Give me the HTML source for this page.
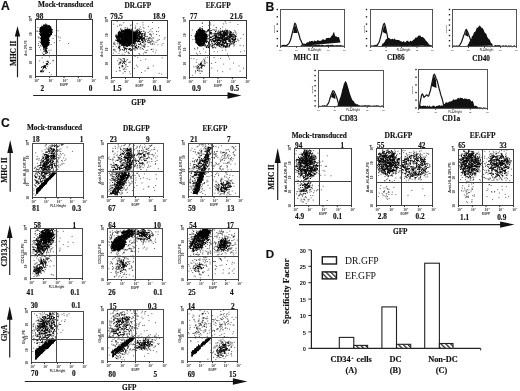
<!DOCTYPE html>
<html><head><meta charset="utf-8"><style>
html,body{margin:0;padding:0;background:#fff;}
body{width:520px;height:391px;overflow:hidden;}
svg{display:block;will-change:transform;}
</style></head><body>
<svg width="520" height="391" viewBox="0 0 520 391">
<defs><filter id="bl" x="-5%" y="-5%" width="110%" height="110%"><feGaussianBlur stdDeviation="0.45"/></filter></defs>
<rect width="520" height="391" fill="#fff"/>
<text x="1.0" y="10.2" font-family="'Liberation Sans', sans-serif" font-size="12.2" font-weight="bold" text-anchor="start" fill="#111" stroke="#111" stroke-width="0.15">A</text>
<text x="265.6" y="10.8" font-family="'Liberation Sans', sans-serif" font-size="12.2" font-weight="bold" text-anchor="start" fill="#111" stroke="#111" stroke-width="0.15">B</text>
<text x="1.0" y="126.9" font-family="'Liberation Sans', sans-serif" font-size="12.2" font-weight="bold" text-anchor="start" fill="#111" stroke="#111" stroke-width="0.15">C</text>
<text x="265.8" y="258.0" font-family="'Liberation Sans', sans-serif" font-size="11.6" font-weight="bold" text-anchor="start" fill="#111" stroke="#111" stroke-width="0.15">D</text>
<text x="38.1" y="6.8" font-family="'Liberation Serif', serif" font-size="7.3" font-weight="bold" text-anchor="start" fill="#111" stroke="#111" stroke-width="0.15">Mock-transduced</text>
<text x="124.5" y="7.6" font-family="'Liberation Serif', serif" font-size="7.25" font-weight="bold" text-anchor="start" fill="#111" stroke="#111" stroke-width="0.15">DR.GFP</text>
<text x="205.7" y="7.6" font-family="'Liberation Serif', serif" font-size="7.25" font-weight="bold" text-anchor="start" fill="#111" stroke="#111" stroke-width="0.15">EF.GFP</text>
<g filter="url(#bl)"><path d="M37.4 27.6h1m-2.1 3.6h1m-.4 0h1m.7 .2h1m12.6-.3h1m4.3-.4h1m-19.6 .9h1m-2.3 5.7h1m0-.2h1m15-1.4h1m2.6 1.2h1m-20.7 1.3h1m13.1 .3h1m6.1-.6h1m-22 3.7h1m14.1 1.1h1m4.5-2.1h1m7.8 2.9h1m-31.2 2h1m-.8-1.8h1m.6 2.2h1m-.4-.1h1m9.3-1.3h1m-12.7 2.9h1m1.7-.9h1m-2.4 3.4h1m7.3 .4h1m1-.2h1m-9.3 3h1m-.1 1.6h1m-.8-.3h1m-.7 .1h1m1.7-1.2h1m1.7-.3h1m2.8 2.3h1m-12.2 2.5h1m2.2-2.1h1m3.1 1.2h1m-10.7 4h1m12-.1h1m-.2-.1h1m-11.1 1.6h1m3.7 2h1m1-.9h1m-9.2 3.1h1m2.7 .8h1m.7-.7h1m-4.4 3.8h1m1.1-1.9h1m-.8 .4h1m2.2 3.6h1m.8 2.3h1" stroke="#000" stroke-opacity="0.62" stroke-width="1" fill="none"/><path d="M43 25.3h1m-.8-.1h1m-.2 .2h1m-.8-.3h1m-.6 .3h1m-1-.1h1m-.9 .1h1m-.9-.1h1m-.5-1.2h1m-.9 1.2h1m-.6-.4h1m-.2 .1h1m.6 .4h1m-9.6 2.8h1m-.4-.7h1m-.7 .7h1m-1-.2h1m-.4-1.8h1m-1 1.1h1m-1 .4h1m-1 .7h1m-.9-.8h1m-.8 .1h1m-1-.1h1m-.9-.3h1m-1 1h1m-.9-.2h1m-.9-.9h1m-.9 1h1m-.9-.4h1m-1 .4h1m-.8 .1h1m-.7-1.8h1m-1 1.1h1m-1-.6h1m-.9 .7h1m-1 .6h1m-.9-.7h1m-1 .3h1m-.9-.1h1m-1-.5h1m-.9-1.1h1m-1 .9h1m-1 .4h1m-1 .9h1m-.6-.2h1m-.9-.9h1m-.9 .2h1m-.7 .9h1m-.9-2.2h1m-1 1.9h1m-1 .3h1m-.9-.8h1m-.5-1.9h1m-1-.1h1m-1 1.3h1m-1-.1h1m-.9-.6h1m-.8 1.1h1m-.9-1.2h1m-1 1.3h1m-.8-1h1m-.9 0h1m-1 1.8h1m-1 .1h1m-.9-.8h1m-1 .6h1m-.9-1.4h1m-.9 .6h1m-1 .4h1m-1 0h1m-1 .3h1m-.9-2.3h1m-1 .7h1m-.9 1.4h1m-1 .3h1m-.9-1.1h1m-.7-1.2h1m-1 2.5h1m-.9-2.7h1m-.9 0h1m-1 2h1m-.9-1.2h1m-1 .7h1m-.6-1.4h1m-1 1.6h1m-.8 .8h1m-.6-1.7h1m-.9 .5h1m-.9-.2h1m-.9 .3h1m-.9-.6h1m-1 1.3h1m-.9-.4h1m-1-.1h1m-.9-.6h1m-1-.4h1m-.8 2.1h1m-.7-1.5h1m-1-.3h1m-.8-.4h1m-.8 0h1m-.8 .3h1m-.9-.4h1m-1 1.6h1m-.6-.7h1m-1-.4h1m-.9 1.9h1m-.9-1.3h1m-1 .5h1m-1 .2h1m-.8-.6h1m-.5 .1h1m-12.1 2.1h1m-.8 1.8h1m-.9-.7h1m-.7-1.5h1m-.8 1.6h1m-1-.3h1m-1 .6h1m-1 .1h1m-.9-2.3h1m-1 1.5h1m-.9-.7h1m-1 .9h1m-.9 .6h1m-.9-2.3h1m-1 .8h1m-1 .6h1m-1 1.2h1m-.9-2.5h1m-1 .4h1m-.9 1.1h1m-1 .9h1m-.9-1.4h1m-1 1.5h1m-.9-1.5h1m-1-.4h1m-1 .4h1m-1 1h1m-.7 .6h1m-.9-2h1m-.9 1.5h1m-.9-1.6h1m-1 .5h1m-1-.3h1m-1 1.3h1m-.8-.1h1m-1-.3h1m-.9 .3h1m-.9-.1h1m-1 .5h1m-.8-2.2h1m-1 .8h1m-1 1.3h1m-.9-.8h1m-.9 .7h1m-.9-.4h1m-.8-.8h1m-1 1.2h1m-.9-1.1h1m-1 .8h1m-.8-.9h1m-.8-.2h1m-.9 .3h1m-1-.8h1m-1 1.4h1m-1 1h1m-.8-2.8h1m-1-.1h1m-.9 .3h1m-1 1.5h1m-.9-1.6h1m-.8 .2h1m-1-.1h1m-1 .8h1m-1-.3h1m-.9-.3h1m-1 .4h1m-1 1.2h1m-.8-1.2h1m-1 2.1h1m-.8-3h1m-1 2.2h1m-1-.4h1m-.8 1.1h1m-.9-2.8h1m-1 .5h1m-1 .6h1m-1-.2h1m-1-.2h1m-.9-.1h1m-1 0h1m-1 .1h1m-1 2.2h1m-.8-.7h1m-1 .4h1m-.8-2.6h1m-.9-.1h1m-.9 0h1m-1 1.8h1m-.9-.3h1m-1 1.4h1m-.9-2.3h1m-1 1.6h1m-1 .5h1m-1 .1h1m-.9-2.6h1m-1 2.1h1m-.9 0h1m-.7-2h1m-.9 .8h1m-.9-.8h1m-1 .8h1m-1 1.6h1m-.9-2.2h1m-1 1.5h1m-1-.1h1m-1 1h1m-.8-1.3h1m-1 .8h1m-1 .5h1m-.8-1.6h1m-1 .2h1m-1 .5h1m-.9-.6h1m-.9-.6h1m-1 1.9h1m-.9-2.4h1m-1 1.2h1m-.9 1.5h1m-.8-2.3h1m-.8 .7h1m-1 1.2h1m-.9-1h1m-.9 .4h1m-.8-.9h1m-1 .9h1m-.9-.9h1m-.9-.6h1m-1 .1h1m-1 .3h1m-.9 0h1m-1-.1h1m-1 1.9h1m-.8-2.3h1m-1 .9h1m-1 1.3h1m-.9-.5h1m-.9-1.1h1m-1 1.2h1m-.9 .6h1m-.9-2.8h1m-1 1.2h1m-.9-.7h1m-.8-.3h1m-.9-.1h1m-1 .8h1m-1 .7h1m-1 1.4h1m-.8-3h1m-1 2.2h1m-1 0h1m-.9-1.6h1m-1 .7h1m-1 .1h1m-.9-1.4h1m-1 .6h1m-1 2.2h1m-.9-2.5h1m-1 1.6h1m-1 .3h1m-.9-1.5h1m-1 1.7h1m-.9-1.7h1m-.7 .9h1m-1 1h1m-.9-2.5h1m-1 .7h1m-.8-.1h1m-.9 .9h1m-1-.1h1m-.9-.1h1m-1 1.6h1m-.9-2.5h1m-.9 1.3h1m-1 0h1m-.6-.6h1m-1 1.7h1m-.6-1.7h1m-13.4 3.6h1m-.8 .3h1m-1 .6h1m-.3-1.5h1m-.9-.5h1m-1 .3h1m-.9 .2h1m-1 1.6h1m-.9-2.4h1m-.9-.3h1m-.9 1.6h1m-.9-1.5h1m-.9 2.7h1m-.9-.8h1m-1 .7h1m-1-.1h1m-.9 .1h1m-.9-1.1h1m-.9 .7h1m-.9-.4h1m-1-.3h1m-1 .6h1m-.9-.5h1m-.9 1h1m-.9-.4h1m-.9-1.4h1m-1-.4h1m-1 1.8h1m-.9 .1h1m-.9-1.3h1m-1 1.7h1m-.9-2.6h1m-.9-.2h1m-1 .5h1m-.7 .3h1m-1-.2h1m-1 1.9h1m-.9-.5h1m-.9-1.3h1m-1 .3h1m-1 .8h1m-.9 .8h1m-.9-2h1m-.9 1.8h1m-.9-1.8h1m-1 2h1m-.9-2.4h1m-1 1h1m-1 .6h1m-1 1h1m-.9-1.6h1m-1 .2h1m-.9-.8h1m-1 .8h1m-.9 .4h1m-.9-1.7h1m-.9 1.2h1m-.9-.9h1m-.9 2h1m-.8-1.2h1m-.9-.2h1m-1 1.1h1m-1-.6h1m-1 .3h1m-.9-1.5h1m-1 .6h1m-1 .8h1m-1 .2h1m-1 .5h1m-.8-1.8h1m-1 1.6h1m-.9 .2h1m-.9-2.3h1m-1 1.7h1m-1 1h1m-.9-2.6h1m-1 1.1h1m-1-.2h1m-1 .8h1m-1-.1h1m-.9-1h1m-1 1.1h1m-.8-.1h1m-1 .8h1m-.9-1.7h1m-1 .9h1m-.8-1.5h1m-1 1.8h1m-1 .4h1m-.9-.2h1m-.9 .5h1m-1 0h1m-.8-2.4h1m-1 .4h1m-.9-.2h1m-1 1.4h1m-.8-1.3h1m-.9 1.3h1m-.9-1h1m-.8 1.3h1m-.8 .4h1m-.9-1.5h1m-1-.3h1m-1 1.8h1m-.9-.6h1m-1 .4h1m-.9-.4h1m-1 .6h1m-.9-1.9h1m-1 .9h1m-1 .5h1m-1-.4h1m-.9 0h1m-1 .4h1m-1 .1h1m-.9-1.4h1m-1 .1h1m-1 1.5h1m-.8-2.2h1m-1 1.8h1m-1-.4h1m-.9 .6h1m-1-.8h1m-.8-1.5h1m-1 .7h1m-1 1.6h1m-.7-1.1h1m-1 .8h1m-.9 .7h1m-.9-.5h1m-.9-1.4h1m-.9 .3h1m-1 1.1h1m-.9-1.9h1m-.9 .5h1m-1 .4h1m-.9-.3h1m-.9-.6h1m-1 .9h1m-.8-.6h1m-.8-.3h1m-.8 0h1m-.8-.2h1m-1 1h1m-1-.2h1m-.9 1.2h1m-.9-.5h1m-.9-.1h1m-.9-.7h1m-.9-.1h1m-.9 .1h1m-1 1.3h1m-.9-1.8h1m-1-.3h1m-1 .7h1m-1-.2h1m-.9-.5h1m-1 1.5h1m-1 .3h1m-1 .8h1m-.9 .1h1m-.9-2.6h1m-1 2.1h1m-.9 .1h1m-1 .4h1m-.9-1.4h1m-1-.8h1m-1 1.4h1m-1-.1h1m-1-.3h1m-.8-.5h1m-.8 .1h1m-.8-.2h1m-12.5 2.1h1m-.9 .1h1m-1 .9h1m-.9-1h1m-.9 .1h1m-.7 .9h1m-.9-.9h1m-.8 .1h1m-1 .3h1m-.9 1.2h1m-1-.2h1m-.9 .8h1m-.9-1.2h1m-.9-1.2h1m-1 0h1m-1 2.1h1m-1 .2h1m-.9-.1h1m-.9-1.8h1m-1 2h1m-.9 .2h1m-1 .2h1m-.8-2h1m-1 .4h1m-1 .7h1m-.9-.1h1m-.8-1.7h1m-1-.1h1m-1 .7h1m-1 .8h1m-.9-.7h1m-1 .5h1m-1 1.1h1m-1-.5h1m-1 .7h1m-.9-2.5h1m-1 1.8h1m-1 .3h1m-.9-2.1h1m-1 .6h1m-1 .1h1m-1 .5h1m-.9 .1h1m-.9-.1h1m-.9-.9h1m-1-.3h1m-1 .5h1m-1 .4h1m-.9 .3h1m-.9-.3h1m-1 .4h1m-1 .6h1m-1 1h1m-.9-.5h1m-.9-1.6h1m-1 1.4h1m-.9-1.7h1m-1 .4h1m-1 .7h1m-1 .2h1m-1 .2h1m-.9-.4h1m-1 .5h1m-1 .5h1m-1 .3h1m-.9-2.9h1m-1 .7h1m-1 1.4h1m-1 .1h1m-.9-1.5h1m-1-.2h1m-1 .6h1m-1 1.2h1m-1 .6h1m-.9-1.6h1m-1 .9h1m-.9-1.4h1m-1 .4h1m-1 .6h1m-1-.4h1m-1 .8h1m-.9-.2h1m-1 .9h1m-1 0h1m-.9-3h1m-1 .4h1m-1 0h1m-1 2.1h1m-.9-2.1h1m-1 .3h1m-1 .9h1m-1 .1h1m-.9 1h1m-.8-1.9h1m-1 1.5h1m-.9-2.2h1m-1 .5h1m-1 1h1m-.9-1.1h1m-1 1.8h1m-1-.8h1m-.9 .5h1m-1-.2h1m-1 0h1m-.9 1.2h1m-.9-1.6h1m-1-.4h1m-1 1.8h1m-.9-2.1h1m-1 .3h1m-1 1.3h1m-.9 0h1m-.9-1.1h1m-1-.5h1m-1 0h1m-1 .9h1m-1 .4h1m-1 .7h1m-1 .3h1m-.9-2.5h1m-1 .2h1m-1 1.5h1m-1 .5h1m-.9-1.8h1m-1 1.4h1m-.9-1.8h1m-.9 .9h1m-1-.5h1m-1 1h1m-1 .3h1m-.9-1.8h1m-1 1.9h1m-.9-2.2h1m-1 1.5h1m-.9-.6h1m-.9 1.8h1m-1-.3h1m-.9-.1h1m-.8-.5h1m-1 .9h1m-.9-1.2h1m-1 .6h1m-.9-1.9h1m-1 .7h1m-1 1.3h1m-1-.7h1m-.9-.2h1m-1 .4h1m-1 1.1h1m-1 .1h1m-.9-2.8h1m-1 2h1m-1-.5h1m-1 .7h1m-1 .3h1m-.9-.5h1m-1-.3h1m-1 .2h1m-1 .7h1m-1-.2h1m-.9-.7h1m-.9-.1h1m-.9-1.4h1m-1 2.3h1m-1 .3h1m-.9-1.7h1m-.9-.4h1m-.9 1.2h1m-.7-1.7h1m-1 .8h1m-.9-.6h1m-.9-.3h1m-1 2h1m-1 .7h1m-.9-1.1h1m-.9-1.7h1m-.9 0h1m-1 .2h1m-1 .2h1m-1 2h1m-.8-2.5h1m-.9 2h1m-.9-1.5h1m-.9 0h1m-1 0h1m-.9 1.6h1m-1-.6h1m-1 .5h1m-.8-.1h1m-1-.4h1m-.8-1.2h1m-1 1.7h1m-.9-.5h1m-.9-1.6h1m-1 .9h1m-.5-.8h1m-.9 1.1h1m-.3-1.2h1m-.9 .2h1m-11.4 3.4h1m-.9 .5h1m-1-.5h1m-.8 .8h1m-1 1.3h1m-.6-.6h1m-.9 .8h1m-.9-1.8h1m-1 .5h1m-1 1.3h1m-.9-2.3h1m-1 1.7h1m-.9-.6h1m-.9-1.5h1m-.9 1.3h1m-1 1.3h1m-.9-1.5h1m-1 .9h1m-.9-1.5h1m-.9 1.4h1m-.9-.9h1m-.9-.9h1m-1-.2h1m-1 .7h1m-1 2.1h1m-.9-1.2h1m-1 .6h1m-.7-1.4h1m-.6 1.2h1m-1 .4h1m-.9-1.4h1m-.9 .4h1m-.9-.8h1m-1 0h1m-.9 .4h1m-1 0h1m-1 1.6h1m-.9-1.4h1m-1 1.1h1m-1-.3h1m-1 0h1m-1 .6h1m-1 .2h1m-.9-2.8h1m-1 .6h1m-1 .8h1m-1 1.4h1m-.9-2h1m-.9-.6h1m-1 .2h1m-.9-.1h1m-1 .6h1m-1 1.6h1m-.9-1.2h1m-.9-.7h1m-.9-.5h1m-1 1.1h1m-1 .8h1m-1 0h1m-.9 .2h1m-.9-.9h1m-1 1.3h1m-.9-1.9h1m-1-.1h1m-.9-.5h1m-1 .2h1m-1 .9h1m-.9-.7h1m-.8 1h1m-.8-1.4h1m-1 .4h1m-.8-.5h1m-1 .5h1m-.9 .9h1m-.7-1.4h1m-.9 1.1h1m-1 1.1h1m-1-.2h1m-1 .4h1m-.7-2.4h1m-1 1.5h1m-.9-.1h1m-.9 .6h1m-.9-.9h1m-1-.2h1m-.9 .3h1m-1 .8h1m-1 .6h1m-.9-2.3h1m-.9 1.4h1m-.9-1.5h1m-1 1.8h1m-1 .7h1m-.9-1h1m-.9 0h1m-1 .7h1m-.8-2.4h1m-.9 1.7h1m-1-.2h1m-1 1.3h1m-.8-2.3h1m-1 1.5h1m-1-.2h1m-.8-1.1h1m-1 .9h1m-.9 1h1m-.9-2h1m-.7 .1h1m-.9 1.3h1m-.9-1.8h1m-1 1.3h1m-9.2 3.2h1m-.4-.5h1m-.8 .1h1m-.9-.6h1m-.9-.8h1m-1 1.1h1m-1 1h1m-.9-.2h1m-1 .2h1m-1 .3h1m-.9-2.2h1m-.9 2.4h1m-.9-.9h1m-1 .6h1m-1 .3h1m-.9-1.4h1m-.9 1.8h1m-.9-1.7h1m-.6-.5h1m-.9 .1h1m-1 .4h1m-1 .4h1m-.9-1.2h1m-.9 1.2h1m-.9 1.3h1m-.9-2.3h1m-.9-.2h1m-1 .2h1m-1 1.3h1m-1 .8h1m-.9-1.9h1m-.8 1.7h1m-1 .3h1m-.9-1.5h1m-1 0h1m-1 .6h1m-.9-.4h1m-.8 .3h1m-.9 .2h1m-1 .2h1m-1 .4h1m-.9-1.9h1m-.9-.6h1m-.9 .1h1m-.8 .4h1m-.9 2.1h1m-.9-1.1h1m-.9-.3h1m-1 .5h1m-.9-.5h1m-.9-1.4h1m-.9 1.3h1m-1-.4h1m-.9 1.5h1m-.9-2h1m-1-.4h1m-.9 .9h1m-1 1.8h1m-.9-.4h1m-1 .5h1m-1-.1h1m-.9-.8h1m-1 .5h1m-.6-.3h1m-1 .6h1m-.8-1.3h1m-.9 1h1m-.9-1.1h1m-1 .7h1m-.9-1.7h1m-1 0h1m-1 2.3h1m-.9-2.3h1m-1 1.9h1m-.9-2h1m-1 0h1m-1 1.1h1m-1 .2h1m-1 1.3h1m-.9-2.1h1m-1 1.7h1m-.9-.3h1m-1 .7h1m-.9-2.6h1m-1 .2h1m-1-.2h1m-.9 2.6h1m-.9-1.5h1m-1 .8h1m-.9-.8h1m-1 .2h1m-1 1h1m-.9-.6h1m-.8 .5h1m-.9-1.5h1m-.9-.6h1m-1 2.7h1m-.9-1.6h1m-1-.5h1m-1 .6h1m-1 1.2h1m-.9-.1h1m-.9-.6h1m-1 1h1m-.8-2.6h1m-1 1.3h1m-.5-1.7h1m-1 2.9h1m-.8-.6h1m-1-.2h1m-.9-.2h1m-.9-1.9h1m-9 3.4h1m-.6-.2h1m-.8 .2h1m-.9-.2h1m-1 0h1m-.9 0h1m-.4 .7h1m-1 1.1h1m-.9-1.3h1m-1 .3h1m-.9-.9h1m-1 .7h1m-.8 1.5h1m-.9-1.2h1m-.9-.3h1m-.7 .1h1m-1 2h1m-.9-2.6h1m-1 1h1m-1 .7h1m-.9 .4h1m-1 .1h1m-.9-2.3h1m-1 2.2h1m-1-.8h1m-1-.1h1m-.9-.8h1m-1 1.7h1m-.9-2.3h1m-1 .6h1m-.9 .5h1m-1 1.2h1m-.9-1.1h1m-1 .4h1m-1 .2h1m-.9-.7h1m-1-.4h1m-1 1h1m-.9 1h1m-.9-.6h1m-.9-.1h1m-1 .5h1m-.9-1.5h1m-1 1.7h1m-.9-2.2h1m-1 1.1h1m-1 .1h1m-1 .3h1m-.9-1.3h1m-.8 .4h1m-.8-.8h1m-.9 1.3h1m-1 1.2h1m-.9-.8h1m-1 .3h1m-1 0h1m-1-.7h1m-.9-1.3h1m-.9 1.6h1m-.8-1.7h1m-1 .4h1m-1 .1h1m-1 .8h1m-1 .8h1m-.9-2.2h1m-1 2.5h1m-1 0h1m-.9-1h1m-1 0h1m-1 .4h1m-.9-.2h1m-1 .8h1m-.9-1.3h1m-1 1.3h1m-.9-.9h1m-.9 0h1m-.9-.7h1m-.9-.9h1m-1 0h1m-1 .3h1m-1 .8h1m-1 .7h1m-1 .1h1m-.9-2h1m-.9 1.1h1m-.9 .1h1m-1 1.1h1m-.9-1.5h1m-1 .6h1m-.9-.2h1m-.5-.4h1m-1 .4h1m-.9-.3h1m-1 .8h1m-.9-.2h1m-.7-.2h1m-.9-.4h1m-.3 .3h1m-6.6 1.9h1m-1 .6h1m-1 1.6h1m-.9-2h1m-.8 2.1h1m-.7-2.3h1m-.7-.1h1m-.9 .9h1m-.9-.7h1m-1-.2h1m-1 1.2h1m-.9-.6h1m-.8-.1h1m-.8 1.8h1m-1 .2h1m-.8-.5h1m-.7-1.8h1m-1 .3h1m-.7 .1h1m-.9 1.2h1m-.9-.6h1m-.9 0h1m-1 .4h1m-.8 .6h1m-.7-2.2h1m-.9 .2h1m-.8 1.7h1m-.8-1.8h1m-4.2 4.9h1m-.8-1.5h1m-.2 .9h1m-.6-1.1h1m-.7 1.9h1m-.9-1.6h1m-.7 0h1m-1 .8h1m-.9-.3h1m-1 .8h1m-.9-1.3h1m-1 .7h1m-.6 0h1m-.8 .8h1m-.8 .7h1m-.8 0h1m-2.9 .8h1m-.3 0h1m-.1 8.2h1m-.2 0h1m-1-.1h1m-2.5 2.4h1m-.5 .6h1m-.7-.5h1m-1 0h1m-.8-.1h1m-1 .5h1m0-1.8h1m-7.6 5.1h1m.3-1.1h1m-.4 1.1h1m-.9-1.2h1m-.8 1.2h1m-1-.2h1m-.6-1h1m-1-.1h1m-.9 .4h1m-.8-.7h1m-.4-.5h1m-.9 1h1m-.9 1.1h1m-.9-1.6h1m.3-1h1m-5.2 5h1m-.4-1.4h1m-.5-.9h1m-.8 0h1m-4.3 3.4h1m-.7 .7h1m-.9 0h1m-.3-.5h1m-1 .2h1m-.8-.8h1m-.8 1.3h1m.3-.3h1" stroke="#000" stroke-width="1" fill="none"/></g>
<g filter="url(#bl)"><path d="M0 0" stroke="#000" stroke-width="1" stroke-opacity="0.6" fill="none"/><path d="M0 0" stroke="#000" stroke-width="1" fill="none"/></g>
<rect x="35.5" y="19.5" width="57.0" height="57.0" stroke="#383838" stroke-width="1" fill="none"/>
<line x1="56.5" y1="19.5" x2="56.5" y2="76.5" stroke="#383838" stroke-width="1"/>
<line x1="35.5" y1="55.5" x2="92.5" y2="55.5" stroke="#383838" stroke-width="1"/>
<text x="34.3" y="81.9" font-family="'Liberation Serif', serif" font-size="3.6" font-weight="bold" text-anchor="start" fill="#333">10</text>
<text x="38.0" y="79.7" font-family="'Liberation Serif', serif" font-size="2.6" font-weight="bold" text-anchor="start" fill="#333">0</text>
<rect x="35.0" y="76.5" width="1" height="1.6" fill="#333"/>
<text x="48.55" y="81.9" font-family="'Liberation Serif', serif" font-size="3.6" font-weight="bold" text-anchor="start" fill="#333">10</text>
<text x="52.25" y="79.7" font-family="'Liberation Serif', serif" font-size="2.6" font-weight="bold" text-anchor="start" fill="#333">1</text>
<rect x="49.2" y="76.5" width="1" height="1.6" fill="#333"/>
<text x="62.8" y="81.9" font-family="'Liberation Serif', serif" font-size="3.6" font-weight="bold" text-anchor="start" fill="#333">10</text>
<text x="66.5" y="79.7" font-family="'Liberation Serif', serif" font-size="2.6" font-weight="bold" text-anchor="start" fill="#333">2</text>
<rect x="63.5" y="76.5" width="1" height="1.6" fill="#333"/>
<text x="77.05" y="81.9" font-family="'Liberation Serif', serif" font-size="3.6" font-weight="bold" text-anchor="start" fill="#333">10</text>
<text x="80.75" y="79.7" font-family="'Liberation Serif', serif" font-size="2.6" font-weight="bold" text-anchor="start" fill="#333">3</text>
<rect x="77.8" y="76.5" width="1" height="1.6" fill="#333"/>
<text x="91.3" y="81.9" font-family="'Liberation Serif', serif" font-size="3.6" font-weight="bold" text-anchor="start" fill="#333">10</text>
<text x="95.0" y="79.7" font-family="'Liberation Serif', serif" font-size="2.6" font-weight="bold" text-anchor="start" fill="#333">4</text>
<rect x="92.0" y="76.5" width="1" height="1.6" fill="#333"/>
<text x="64.0" y="86.0" font-family="'Liberation Sans', sans-serif" font-size="3.0" font-weight="bold" text-anchor="middle" fill="#333">EGFP</text>
<text x="32.3" y="78.8" font-family="'Liberation Serif', serif" font-size="3.6" font-weight="bold" text-anchor="start" fill="#333" transform="rotate(-90 32.3 78.8)">10</text>
<text x="32.3" y="64.55" font-family="'Liberation Serif', serif" font-size="3.6" font-weight="bold" text-anchor="start" fill="#333" transform="rotate(-90 32.3 64.55)">10</text>
<text x="32.3" y="50.3" font-family="'Liberation Serif', serif" font-size="3.6" font-weight="bold" text-anchor="start" fill="#333" transform="rotate(-90 32.3 50.3)">10</text>
<text x="32.3" y="36.05" font-family="'Liberation Serif', serif" font-size="3.6" font-weight="bold" text-anchor="start" fill="#333" transform="rotate(-90 32.3 36.05)">10</text>
<text x="32.3" y="21.8" font-family="'Liberation Serif', serif" font-size="3.6" font-weight="bold" text-anchor="start" fill="#333" transform="rotate(-90 32.3 21.8)">10</text>
<text x="26.9" y="48.0" font-family="'Liberation Sans', sans-serif" font-size="2.9" font-weight="bold" text-anchor="middle" fill="#333" transform="rotate(-90 26.9 48.0)">Anti-DR-PE</text>
<path d="M28.3 16.3h2.6l-1.3 1.8z" fill="#222"/>
<text x="36" y="18.5" font-family="'Liberation Serif', serif" font-size="7.25" font-weight="bold" text-anchor="start" fill="#111" stroke="#111" stroke-width="0.15">98</text>
<text x="88.4" y="18.5" font-family="'Liberation Serif', serif" font-size="7.25" font-weight="bold" text-anchor="start" fill="#111" stroke="#111" stroke-width="0.15">0</text>
<text x="40.6" y="91.1" font-family="'Liberation Serif', serif" font-size="7.25" font-weight="bold" text-anchor="start" fill="#111" stroke="#111" stroke-width="0.15">2</text>
<text x="88.8" y="91.1" font-family="'Liberation Serif', serif" font-size="7.25" font-weight="bold" text-anchor="start" fill="#111" stroke="#111" stroke-width="0.15">0</text>
<g filter="url(#bl)"><path d="M116.7 21.5h1m-4.6 2.7h1m5.4 .5h1m.7 .5h1m1-2.5h1m6.4 2.2h1m5.1-1.2h1m4.8-1.1h1m-1 2.3h1m8.6-2.4h1m-36.1 3.7h1m1.2-.5h1m.1 2.6h1m3.1-.2h1m-.1-.5h1m.6 .4h1m2-2.2h1m4 1.9h1m-.7-1.6h1m3.5 .9h1m1.9 .3h1m-.1 1h1m3.4-1.7h1m9.2 1.1h1m-38.9 1.7h1m-.8-.3h1m9.7 .2h1m1.3 1.6h1m.3-2.2h1m1 .6h1m1-.7h1m-1 .7h1m.8 .2h1m1.3 1.8h1m-.6-.3h1m5.1 .3h1m0-1.5h1m.5-1.3h1m3.2 3h1m.8-.1h1m-14.9 .5h1m-.9 1.7h1m-.4 0h1m-.5-1.2h1m1.6 .2h1m.8 1.7h1m-.9-.7h1m1-1.8h1m.2 2h1m-4.4 .8h1m.1-.1h1m-.8 .8h1m-.7 .9h1m4-1.7h1m1.9 1.2h1m-12.8 4.7h1m-.7-2.1h1m-.5-.1h1m-1 1.2h1m-.4-.8h1m-.8 1.7h1m-.6-2.4h1m-1 0h1m-.5 .9h1m-.8-1.1h1m.4 .7h1m-.8 1.4h1m-.5 .6h1m-.6-2.5h1m-.1 .1h1m3.4 2.2h1m.1-.7h1m4-.5h1m-.2-1.3h1m-52.5 5.6h1m-.4-1.2h1m-.2 1h1m29.2 0h1m1.1-1.3h1m-.2-1h1m-1 1.8h1m-.3 0h1m-.7-2h1m-.8 1.8h1m-.4 .6h1m-.8-1.6h1m-.4 1.7h1m-.8-.8h1m-.8-.6h1m-.7-.6h1m.6 .5h1m0 .3h1m1.1 .4h1m.1-1.6h1m-44.2 3.8h1m-.6-.8h1m-.2 1.1h1m1.2-1.1h1m.8 1.6h1m20.9-.7h1m-.7 .6h1m.6 .5h1m-.1 .5h1m-.8-1h1m-.7-.8h1m-.3 1.5h1m-.6-1.4h1m4.6 0h1m.3-.6h1m-.6-.3h1m-.8 1h1m.8-.5h1m2.2 .7h1m3 .3h1m.3-1.5h1m-51.1 2.9h1m-.2 2.7h1m1.4-2.5h1m1 1.6h1m.1 .7h1m16.9-.3h1m-.9 .3h1m0-1.4h1m-.5-1h1m.2 2.4h1m-.9-1.2h1m-.3-.6h1m.3 1.6h1m-.7-.2h1m-.4-1.9h1m-.5 2.8h1m-.5-2.7h1m-.7 .4h1m-.5-.3h1m2.2-.3h1m2 2.7h1m-.6 .2h1m.5-.3h1m-40.6 .9h1m-.3-.4h1m-.3 1.2h1m-.7-1h1m0 2h1m2.3-.8h1m-.5-.7h1m5.7 1.2h1m.8 .6h1m5.7-1.8h1m8.7 1.8h1m.4 .2h1m-.9-1.8h1m.5-.4h1m4.3 1.2h1m2.1-1.2h1m-43.8 3h1m4.6 .2h1m2.2 .7h1m1 .8h1m-.1-2.4h1m2.1 .1h1m-.5 1.1h1m-.3-.5h1m2.3 1.1h1m5.3-.6h1m-.3 .4h1m2.7-.3h1m1.5-1.1h1m4.3 2.7h1m3.2-2.5h1m-33.3 5.5h1m.3 0h1m9.6-2.7h1m-.9 .6h1m1.7 1h1m23.4 .5h1m-45.6 3.1h1m.2-2.1h1m.3 .2h1m-.8 2.2h1m-.6-1.8h1m-.4 .5h1m1-1.1h1m.3 .4h1m.8 1.1h1m-.1-.7h1m12.5 1h1m3.9-1.3h1m-28 4.8h1m-.7 0h1m5.9-2.1h1m-.7 2.3h1m1.6-1.7h1m.1-.5h1m-.8 0h1m-11.7 5.1h1m-.7 .2h1m4.6-.1h1m-.7-2.4h1m-.6 1.1h1m.8 .5h1m7.6-1.2h1m.3 1.5h1m9.4 .3h1m4.2-1.2h1m-34.7 2.4h1m2.7 .9h1m-.4 .1h1m-.3-.6h1m.5 .6h1m7.3-1h1m11.9 .3h1m.3 0h1m-33.2 2.7h1m2.5-.8h1m-.9 .5h1m2.1 2.2h1m.7-1.8h1m-.6 .3h1m3.2 .1h1m11.2 .7h1m2.5-1.6h1m13.1 2.4h1m-30 .5h1m30.5 .3h1" stroke="#000" stroke-opacity="0.62" stroke-width="1" fill="none"/><path d="M118.6 31.4h1m-.2-.2h1m.4-.7h1m-.7-.1h1m-.6 .8h1m-.9-1.3h1m-.8 1.3h1m-1 0h1m-.7 .2h1m-.4-.4h1m-.9 .1h1m-.8-.6h1m-.9 .6h1m-.9 .4h1m-.8-.4h1m-.9 .1h1m-.4 .2h1m-1-.3h1m-.8-.2h1m-1-.9h1m-.6-.4h1m-.9 1.9h1m-.7-1.8h1m-1 .8h1m-.9 .1h1m-.8 .6h1m-.9-.5h1m-1 0h1m-.8 .2h1m-1 .6h1m-.9-1.9h1m-1 .5h1m-.9 .5h1m-.9-.2h1m-1 0h1m-.9-.3h1m-1 1.1h1m-.9-.9h1m-.6 1.1h1m-.8-.6h1m-1 .3h1m-.9 0h1m-.8-2h1m-1 2h1m-1 .1h1m-.9-2.1h1m-1 2.1h1m-.9-.9h1m-.9 .5h1m-1 0h1m-1 .5h1m-1-.1h1m-.9-1.6h1m-.8 1.4h1m-.6-.9h1m-1 1.1h1m-.9-.8h1m-.8-1.1h1m-.9 1.9h1m-.9-1.2h1m-1 .6h1m-.9 .7h1m-.9-1.5h1m-1 1.6h1m-.7-.2h1m-.9-.7h1m-.9-1.3h1m-1 2.1h1m-.9-1.1h1m-1 .5h1m-.5 .4h1m-.6-.6h1m-.9 1h1m-.8-2.2h1m-.7 1.5h1m-.5 .7h1m-1-.4h1m-.5 .2h1m-.8-.5h1m2.2 .7h1m-.9-.4h1m-.5-.8h1m-.2 1.2h1m-.7-1.5h1m-.7 .2h1m-.5 .4h1m-.3 .5h1m-.2 0h1m-22.7 2.9h1m-.8-1.5h1m-.7 .8h1m-.9 .2h1m-.9 0h1m-.9-.9h1m-1 1.3h1m-1 .2h1m-.7 .2h1m-.8-1h1m-.7 .3h1m-.9-1.4h1m-.9 0h1m-1 2.2h1m-.9-.9h1m-.8-1.1h1m-1 .7h1m-.9-.6h1m-.9 1.1h1m-1 .4h1m-.9 0h1m-.9-.1h1m-1-.5h1m-.9-1.1h1m-1 .4h1m-1 1h1m-1 .2h1m-.7 .4h1m-1-.2h1m-.9-1.8h1m-.9 .5h1m-.9 .7h1m-.8 .7h1m-.9 .1h1m-1-.2h1m-.9-2.5h1m-.9 .1h1m-1 1.2h1m-.8-.1h1m-1 1.2h1m-.4-2.1h1m-1 1.7h1m-.8 .7h1m-.9-1.9h1m-1 2h1m-.9-2.4h1m-.7 1h1m-.9 1.3h1m-.9-2.7h1m-.8 1.8h1m-1 0h1m-1 .6h1m-1 .2h1m-.9-2.6h1m-1 2.6h1m-.9-1.4h1m-1 1.2h1m-.9-2.4h1m-.9 2.8h1m-.9-1.3h1m-.9 .5h1m-.9-1.9h1m-1 1.5h1m-.8-.9h1m-1 .1h1m-.9 .8h1m-1-.1h1m-.9-1.3h1m-1 1.1h1m-.9-.7h1m-.9 1h1m-1 .7h1m-.9-2h1m-1 .5h1m-1 .8h1m-1 .9h1m-.9-2.2h1m-.9 .3h1m-.9-.4h1m-1 1.5h1m-1 0h1m-.6 0h1m-.8 1.1h1m-.9-2.6h1m-1 2.4h1m-.8-2.4h1m-1 .7h1m-.9 1.4h1m-.8-.8h1m-.8-.9h1m-1 .7h1m-1-.7h1m-1 1.2h1m-1-.2h1m-.8-.5h1m-1-.6h1m-1 1h1m-.7-.5h1m-1 .6h1m-.9-1.3h1m-1 1.3h1m-1 .7h1m-1-.4h1m-1-.4h1m-.7-.7h1m-1 .7h1m-1 .1h1m-1 .2h1m-.9-.3h1m-1 1.3h1m-.9-.3h1m-1 .2h1m-.9-2h1m-.8-.6h1m-1 .5h1m-1 .3h1m-.8 .2h1m-1-.5h1m-1 1.5h1m-.8-2h1m-1 1.2h1m-.8-.2h1m-1-.2h1m-1 .9h1m-.9-.4h1m-.9-.3h1m-.7 .1h1m-1 .9h1m-1 0h1m-.9-1.1h1m-1-.5h1m-1 1.6h1m-.9-.1h1m-.9-1.6h1m-1 1.3h1m-.9-.5h1m-1-.8h1m-1 2.2h1m-.9 .1h1m-.9-1.8h1m-.9-.2h1m-1 1.4h1m-1 .6h1m-.9-1.5h1m-.9 .9h1m-.9-1.9h1m-1 2h1m-.9-1h1m-1 1.3h1m-1 0h1m-.9-1.7h1m-.8-.1h1m-1 .1h1m-1 1.2h1m-.9 .5h1m-.9-2.4h1m-.8 1.1h1m-.9 .1h1m-.9 .7h1m-.9-2h1m-1 .6h1m-.8 .7h1m-1 .2h1m-.9-.2h1m-1-.7h1m-1 1.4h1m-.9-.4h1m-.9 .4h1m-.9 0h1m-.9-1.7h1m-1 0h1m-1 2.3h1m-.9-1.3h1m-1 1.1h1m-1 .4h1m-.8-1h1m-.8 .6h1m-.9-2.4h1m-1 1.4h1m-1 1.1h1m-.9-.8h1m-.8-1.1h1m-.9 2.2h1m-.9-.8h1m-.8-.3h1m-.8-.4h1m-.9-.1h1m-.8-.9h1m-.9 2.5h1m-1-.3h1m-.9-.5h1m-.9-1.5h1m-.9 .6h1m-1 .3h1m-.9 1.1h1m-.9-1.8h1m-1 1.1h1m-.9 .6h1m-1 .1h1m-.9 0h1m-1 0h1m-.9-.9h1m-.9-.9h1m-1 1.6h1m-.9-.1h1m-1 .3h1m-1 0h1m-.8 .3h1m-.8-1.9h1m-1 1.2h1m-.7-.5h1m-.9 .5h1m-.8-.9h1m-.8 1.1h1m-.9-.1h1m-.9-.7h1m-.9-1.1h1m-1 2.4h1m-.6-1.9h1m-.9 .3h1m-.8-1.1h1m-1-.1h1m-1 2.4h1m-.6-.7h1m-.9-1h1m-1 1.4h1m-.9-.7h1m-.3 1h1m-.9-1.1h1m-.6-.4h1m-.6 .4h1m-.9-1.3h1m-1 2.3h1m-.9-1.8h1m-1 .2h1m-.9 .7h1m-.9-1.4h1m-.9 .8h1m-.6 .7h1m-.9-.3h1m-1 .9h1m-.2-.2h1m-.8-1.8h1m-1 2.6h1m.2-.8h1m-.8 0h1m1 .8h1m-.8 0h1m-30.3 2h1m-.8-1.1h1m-.7 .5h1m-.7 1h1m-1 .5h1m-.9-.8h1m-.9 .1h1m-.9-1.6h1m-.8 2.3h1m-.6-.3h1m-.5-1.2h1m-.9 .4h1m-1 .5h1m-1 .8h1m-.9-.9h1m-.9 1h1m-1-.3h1m-.8-2.1h1m-.8 0h1m-1 1.2h1m-.9-1.5h1m-1 .4h1m-.9-.5h1m-1 .3h1m-.9-.4h1m-.9 2.3h1m-1-.4h1m-.9-.4h1m-1 .5h1m-.9-.8h1m-1 .6h1m-1 0h1m-.8-1.5h1m-1 1.6h1m-.9 .5h1m-.9-1.6h1m-.8-.7h1m-1 2.1h1m-.8-.9h1m-1 0h1m-1 1.6h1m-.9-1.6h1m-1 .1h1m-.9-1.1h1m-1-.2h1m-1 1.1h1m-1-.3h1m-1 .5h1m-.9 .5h1m-.9-1h1m-.9-.1h1m-.9 1.3h1m-.9 0h1m-1 .3h1m-.9-2.5h1m-1 2.1h1m-1 .7h1m-.9-2.7h1m-.9 2.8h1m-.9-1.6h1m-.9-.6h1m-1 .1h1m-1 .1h1m-.9 1h1m-.9-.6h1m-.8 .7h1m-.8-.8h1m-1-.5h1m-.9-.3h1m-1 .8h1m-.9 0h1m-1-.6h1m-1 1.7h1m-.9-2h1m-1 1.6h1m-.9-1.8h1m-1 2.3h1m-1 .4h1m-1 .2h1m-.9-2.8h1m-.9 .1h1m-1 2.1h1m-1 .5h1m-.8-2.4h1m-1 1.6h1m-.9-2h1m-1 1.1h1m-.9 1.6h1m-.8-1.1h1m-.8-1.7h1m-1 1.1h1m-1 .7h1m-.8-1.2h1m-1 2.2h1m-.9-2.4h1m-1 1.8h1m-.6 .3h1m-.9 .3h1m-.9-1.2h1m-.9-.8h1m-1 .4h1m-.9-.6h1m-.6 .2h1m-1 1.6h1m-.9-2.3h1m-1 1.3h1m-1-.7h1m-1 1.1h1m-.9-1.5h1m-1 1.2h1m-.9-1.5h1m-.9 1h1m-.9 .1h1m-1 1.2h1m-.9-2h1m-1 .5h1m-.9 1.9h1m-.8-2.6h1m-1 1.8h1m-.7 .2h1m-1 .7h1m-1 .2h1m-.9-2.9h1m-1 2.5h1m-.8-2.5h1m-1 .6h1m-1 2.2h1m-.9-1h1m-1 .8h1m-.9-.8h1m-.9-.2h1m-1-.1h1m-.9-1.6h1m-1 .1h1m-1 .5h1m-.9-.5h1m-1 .4h1m-.9 1.6h1m-.7-.7h1m-1 .6h1m-1-.5h1m-.9 .9h1m-1 .4h1m-.9-2.2h1m-.9-.4h1m-1 .2h1m-1 1.8h1m-.9 .8h1m-.8-2.2h1m-.9-.6h1m-1 1h1m-.9 .8h1m-.9-1.2h1m-.9 .2h1m-.8-.9h1m-.9-.1h1m-.8 1.8h1m-.9 .6h1m-.9-1.3h1m-1 .8h1m-1 .3h1m-.8-1.9h1m-1 1.6h1m-1 .7h1m-1 .3h1m-.9-2h1m-.9-.2h1m-1 1.6h1m-.9-.9h1m-.9 .5h1m-.8-1.4h1m-.9-.5h1m-1 1.3h1m-1-.7h1m-1 2.2h1m-.9-.7h1m-.9-1.2h1m-1 1.7h1m-.8-2.4h1m-1 1h1m-.9 0h1m-1-.3h1m-1 .8h1m-.9 .2h1m-.9-1.3h1m-.9 1.3h1m-1 1.1h1m-.9-2.3h1m-1 .2h1m-1 .7h1m-1 .8h1m-.9-.8h1m-.9-.6h1m-1 .8h1m-.8-1.2h1m-1 1h1m-.6-1.2h1m-1 .9h1m-1 1.6h1m-.9-1.3h1m-.9 1.4h1m-.9-1.6h1m-1 1.4h1m-.9-2.5h1m-.9 1.8h1m-.9-1.1h1m-1 .6h1m-.9-1.2h1m-1 1.8h1m-.9-1.9h1m-1 .2h1m-.9 1.8h1m-1-.7h1m-.9-1.2h1m-1 2h1m-1-.1h1m-.8-2h1m-1 1h1m-1 1.4h1m-.9-2.7h1m-1 1.1h1m-.7 .9h1m-.9-.9h1m-1 1.1h1m-1 .2h1m-.9-2h1m-1 .4h1m-1-.2h1m-1 1.1h1m-1 .6h1m-.9-1.3h1m-1 1.2h1m-1 .7h1m-.9-2.6h1m-.9 2h1m-.7-1.6h1m-1 1h1m-.9-1h1m-1-.1h1m-.8-.1h1m-1 2.2h1m-1 .3h1m-.8-2h1m-1 1h1m-1 .8h1m-1 0h1m-.9 .1h1m-.8-1.9h1m-1 1.3h1m-1 .1h1m-1 .1h1m-.9-2.3h1m-1 .9h1m-1 .5h1m-1 0h1m-.8-1.4h1m-1 1.7h1m-1 1.1h1m-.9-2.6h1m-1-.4h1m-1 1.6h1m-1 1.3h1m-.9-2.6h1m-1 2.4h1m-.9-.9h1m-1 .7h1m-1 .2h1m-.9-1.8h1m-1 .1h1m-1 .1h1m-1-.2h1m-1 1.5h1m-.9-.6h1m-1 .1h1m-1 1.1h1m-.8-2.4h1m-.8 .4h1m-1-.2h1m-1 .3h1m-1 1.2h1m-1-.5h1m-1 1h1m-.9-2.2h1m-.9-.2h1m-.9-.2h1m-1 2.2h1m-.9-2.2h1m-1 .6h1m-1 .5h1m-.9-.1h1m-.9 1.4h1m-.7-2h1m-1 1.1h1m-.7-.4h1m-1-.7h1m-.9 .2h1m-.9 .3h1m-1 1.3h1m-1 .3h1m-.8-1.5h1m-1 1.5h1m-.7-1.9h1m-1 2.2h1m-.7-2.3h1m-.9 1.1h1m-.8 .4h1m-.8-2.1h1m-.9 .8h1m-.9-.9h1m-.7 1.4h1m-.6 1.5h1m-.9-2.8h1m-.9 1.9h1m-.9-.7h1m-1 .6h1m-.1 .5h1m-.7 .6h1m-1-.4h1m-1 .2h1m-.9-.7h1m-.9-2.1h1m-.8 1.6h1m-.9 .2h1m-.9 .3h1m-1 .5h1m-.8-1.7h1m-.3 1h1m-.6-1.6h1m-.9 .8h1m.2 1.9h1m-.5-1.9h1m-.9 .5h1m0 .2h1m.4 .2h1m-32.3 3.6h1m-.5-2.4h1m-1 2.7h1m-.5-1.9h1m-1 1.7h1m-.2-2.6h1m-.9 .6h1m-1 1.5h1m-1 .5h1m-.9-2.2h1m-1 1.8h1m-.8-1.4h1m-.7 1.5h1m-1 .2h1m-.9-.7h1m-.6-.7h1m-1 1h1m-.7-1.9h1m-1 1.5h1m-1 1.1h1m-.8-1.4h1m-.9 .1h1m-1 .5h1m-.9-.9h1m-.9-.9h1m-1 .6h1m-1 1.2h1m-1 .2h1m-.9 .3h1m-1-.1h1m-.7 .1h1m-.9-1.7h1m-1 1.8h1m-1 .2h1m-.7-.1h1m-1-.3h1m-.5-2.3h1m-.9 0h1m-1 1.2h1m-.9 1.3h1m-1 .2h1m-.8-1.5h1m-1 1.5h1m-.8-1.8h1m-1 0h1m-.9-.7h1m-.8 1.5h1m-.9-.7h1m-1 1.1h1m-1-.5h1m-.8 .4h1m-1 .2h1m-.8-1.2h1m-.9-.4h1m-1 0h1m-.9 .6h1m-.9-1.1h1m-.8 1.1h1m-1 1.4h1m-.9-.8h1m-.9 .4h1m-.8-2h1m-1 .4h1m-1 .6h1m-1-.6h1m-.8-.5h1m-1 .8h1m-1 1.7h1m-.8-1.7h1m-1 .1h1m-.9-.8h1m-1-.1h1m-1 .3h1m-1 1.4h1m-.9-.2h1m-1 .8h1m-.8-1.4h1m-1 1.1h1m-.8-.9h1m-1 .1h1m-.9 .5h1m-1 .8h1m-.9-1.7h1m-.9-.6h1m-.9 .5h1m-.9-.9h1m-1 .6h1m-.9 .6h1m-1 1.1h1m-.9-1.1h1m-.9-.8h1m-.9-.2h1m-1 0h1m-1 .5h1m-.9 1.8h1m-1 0h1m-.9-.8h1m-1 .4h1m-.8-.9h1m-1 .7h1m-.9-1.9h1m-1 2.4h1m-.9-1.7h1m-1 1.4h1m-.9 .4h1m-.9-2.4h1m-1 1.9h1m-.8-1.9h1m-1 .8h1m-1 .6h1m-.9-1.3h1m-1 1.3h1m-1 1h1m-.9-1.8h1m-.9 .4h1m-1 .8h1m-.9-.3h1m-.9-1.5h1m-1 .4h1m-1 .9h1m-1 1.4h1m-.9-1.6h1m-1 .7h1m-.9-.6h1m-.9-1h1m-1 1h1m-1-.8h1m-.9 .6h1m-.9-.5h1m-1 1.2h1m-.9-.7h1m-1 1.1h1m-1-.8h1m-1 .7h1m-1 .3h1m-.9-1.8h1m-1 2.2h1m-.9-2.3h1m-1 .9h1m-1 1.3h1m-.8-2.7h1m-1 2.8h1m-.9-2.8h1m-1 1.9h1m-.9 .6h1m-.9-2.3h1m-1 1.1h1m-.9 1h1m-1-.6h1m-1-.2h1m-1 1.3h1m-.9-2.8h1m-1 .8h1m-1 .6h1m-.9-.5h1m-.9 .1h1m-1-.2h1m-.3 .9h1m-.9 0h1m-1 .3h1m-.8-1.6h1m-.9-.3h1m-1 .8h1m-.8-.1h1m-1 .8h1m-1 1.1h1m-.9-2h1m-1 .8h1m-.9 1.1h1m-.8-1.5h1m-.9 1.3h1m-1 .4h1m-.8-.8h1m-.8-1.1h1m-.9 .1h1m-1 .4h1m-1 1.3h1m-.8-2.6h1m-1 .6h1m-1 1.2h1m-1 .2h1m-.9-.5h1m-.9 .3h1m-1 .3h1m-.9 .6h1m-.9-.2h1m-.8-.8h1m-.8-.3h1m-.9-.8h1m-1 .6h1m-1 1.5h1m-.9-1.7h1m-.8 1.7h1m-.9-2.7h1m-1-.1h1m-1 0h1m-1 1.2h1m-.9-.4h1m-1 1.4h1m-.6-1.6h1m-.9 1.9h1m-.9-2.2h1m-.9 .5h1m-.8 .5h1m-1 .5h1m-.9 .7h1m-.9-1.8h1m-1 1.2h1m-1-.1h1m-.8-.6h1m-1 1.6h1m-1-.2h1m-.9-2.3h1m-1 0h1m-1 1.9h1m-1 .4h1m-.9-2.4h1m-1-.1h1m-.9-.1h1m-1 .1h1m-1 2.7h1m-.9-2h1m-.9 .5h1m-1 1.3h1m-.9-1.3h1m-.9-1.1h1m-1 1.6h1m-.9 .9h1m-.9-1.5h1m-1-.3h1m-1 .6h1m-.9-1h1m-1 0h1m-1 .6h1m-.9-.8h1m-1 .4h1m-1 .6h1m-1 .5h1m-.9-1.6h1m-1 .7h1m-1-.3h1m-1 1.7h1m-1-.9h1m-.9-1.1h1m-1 .6h1m-.9-.9h1m-1 .2h1m-1 .8h1m-1 1.5h1m-.8-1.8h1m-1 .9h1m-1 .3h1m-.9 .3h1m-.9-1.1h1m-1 .9h1m-.7 .3h1m-1-.4h1m-.8-1.6h1m-.9 .4h1m-.8-.5h1m-1 .5h1m-.9-.2h1m-.9 .1h1m-1 .5h1m-.9-.9h1m-1 .6h1m-.8 1.9h1m-.8-1.3h1m-.9-.8h1m-1 1.6h1m-1 .5h1m-.8-2.4h1m-.9-.2h1m-1 1.2h1m-.4 .8h1m-.8-1.1h1m-.8-.8h1m-1 .6h1m-.8 1.5h1m-.6-1.4h1m-.7 .9h1m-.8-1h1m-.9 1h1m-.8-.8h1m-.9-.1h1m-.7-.5h1m-1 1.3h1m-.7-1h1m-.9-.4h1m-.7 .6h1m-.3-.5h1m-1 1.4h1m-.8-.1h1m-1 .9h1m-.6-2.2h1m-1 .7h1m-1-.4h1m-.9 1.3h1m-.8 .7h1m-.5-2.2h1m-1 .1h1m-.9 1h1m-1 1.1h1m-.7-1.9h1m-.9-.1h1m-.3-.4h1m-1 .6h1m-.8 1h1m-.5-1.3h1m-.9 2.2h1m-.7-.5h1m.2-.8h1m-30 1.6h1m-.6 1h1m-.8-.5h1m-.8 .5h1m-.7-1.1h1m-1 .1h1m-1 .8h1m-.8-.6h1m-1 .5h1m-.7 .5h1m-.7 0h1m-.9-1.1h1m-1 1.4h1m-.8-.9h1m-.8 1.2h1m-.8 .2h1m-1 .1h1m-1 .2h1m-.9-2.1h1m-1 .6h1m-.8-.4h1m-.8-.3h1m-1 2h1m-1 .7h1m-.9-2.9h1m-.9-.1h1m-1 2.1h1m-.9-2.1h1m-.9 .6h1m-1 .4h1m-.9-.1h1m-.9 .4h1m-1 .8h1m-.9 .1h1m-.8-.9h1m-.8-.1h1m-.9-.2h1m-1 0h1m-.9-.8h1m-1 .9h1m-.7-.2h1m-.9 .2h1m-.9-1.1h1m-1 3h1m-.9-2.8h1m-1 1h1m-1 .1h1m-1-.4h1m-.9-.5h1m-.9 .7h1m-1 1.5h1m-.9-1.1h1m-.9-.8h1m-1 2h1m-.9-1.7h1m-1 1.4h1m-.9-.3h1m-.9-.5h1m-.9-1.2h1m-1 .6h1m-1-.2h1m-1 2.2h1m-.9-2.8h1m-1 1.1h1m-1 .9h1m-1 .2h1m-.8-1.9h1m-.8 .6h1m-1 .7h1m-1 .3h1m-.6 .6h1m-1-.1h1m-.9-.8h1m-.9-.8h1m-1 1.2h1m-.9-2.2h1m-1 .4h1m-1 1h1m-1-.8h1m-1 1.3h1m-.8 .9h1m-.9-2.8h1m-1 2.5h1m-.8-2h1m-.9 1h1m-1 .5h1m-1-.3h1m-1 1.2h1m-.9-2.5h1m-1 .2h1m-1-.1h1m-1 2.5h1m-.9-.1h1m-.9-2.5h1m-1 1.9h1m-1-.7h1m-.8-.1h1m-.8 .8h1m-.9-2.1h1m-1 .6h1m-.9 2.2h1m-.9-2.3h1m-.9 .3h1m-1 1.7h1m-.9 0h1m-.9-.5h1m-1 .4h1m-.9-1.6h1m-.8-.6h1m-1 .3h1m-.9-.4h1m-1 0h1m-1 1.8h1m-.8-1.2h1m-.9 1h1m-.9 .3h1m-1-.3h1m-.9-.3h1m-.8-.3h1m-1 1.2h1m-.9-1.3h1m-.8-.5h1m-1 .4h1m-.9-.8h1m-.8-.2h1m-.9 .6h1m-.9-.5h1m-1 .3h1m-.8-.2h1m-.9-.1h1m-1 1.8h1m-1 1h1m-.8-2.1h1m-.9 .9h1m-.9-1.4h1m-.9-.3h1m-1 1.8h1m-.9-1.8h1m-.9 1h1m-1 1.1h1m-1 .5h1m-.9-1.1h1m-.9-1.4h1m-.9 2.4h1m-.8-2.6h1m-1 .4h1m-1 0h1m-1 .6h1m-.9-.5h1m-1 1.8h1m-1-.1h1m-.9-2h1m-1 0h1m-1 1.4h1m-1 1.3h1m-.9-1.5h1m-1 .9h1m-.9-1.3h1m-1 1.4h1m-1 .2h1m-.9-1.9h1m-.9-.6h1m-.7 2.1h1m-1 .8h1m-1-.2h1m-.9-2.6h1m-1 .7h1m-1 1.2h1m-1-.1h1m-.9-1h1m-.9 .1h1m-1 .2h1m-.9 .4h1m-1 .1h1m-.9-.2h1m-.9-.3h1m-1 .3h1m-.9-1.3h1m-1 .9h1m-1 1.2h1m-.9-.4h1m-1-.1h1m-.9-1h1m-.8 2h1m-.9-2.8h1m-1 1h1m-.9 .1h1m-.9-1.2h1m-1 .4h1m-1 2.4h1m-.9-.5h1m-.8-1.7h1m-1 .2h1m-1 .8h1m-1 .6h1m-.9-1.9h1m-1-.1h1m-.9 .2h1m-.8 .9h1m-1 .5h1m-.9-.3h1m-.9 .3h1m-1 .5h1m-.9 0h1m-.9 .5h1m-.9-1.1h1m-.9-.4h1m-1 1.1h1m-.9-2h1m-1 2.5h1m-.9-1.2h1m-.8-.3h1m-1-.8h1m-1 2.3h1m-.8-2.3h1m-.9 1.4h1m-.9 .1h1m-.9-.7h1m-1-.9h1m-1 1.8h1m-.8-1.2h1m-.5 .3h1m-.9-1.2h1m-1 .9h1m-1 .8h1m-1 1h1m-1 .1h1m-.8-2.3h1m-.5 .2h1m-1 .5h1m-1-.7h1m-.9 .3h1m-.8-.7h1m-.8-.2h1m-.8 .2h1m0 .3h1m-.8 .7h1m-.4-.2h1m-1-.4h1m-.7 .3h1m-.8-1h1m-1 1h1m-.4-.8h1m-.6 .8h1m-.6 .2h1m-1 0h1m-.5 1.7h1m.6-1h1m-.8-1.5h1m-.7 1.6h1m-.7-1.5h1m-.1 .4h1m-1 1.4h1m.7-1.5h1m-27.3 2.5h1m-.4 1.1h1m.1-1.3h1m-.8 1.3h1m-.5 .4h1m-.9-1.6h1m-1 .2h1m-.6 .3h1m-.9-.6h1m-.9 .8h1m-.9 .5h1m-.8-1.1h1m-1 .9h1m-.9 .2h1m-.9 .2h1m-.8-.9h1m-.9-.6h1m-.9 .3h1m-.8-.3h1m-1 1.2h1m-1 1.4h1m-.8-.8h1m-.9-1h1m-.8 .2h1m-1 1h1m-.9-.6h1m-.9-.2h1m-.7-.5h1m-.8-.2h1m-.8 1.6h1m-.8-.3h1m-1 .4h1m-.8-2.2h1m-.9 .7h1m-.9 .5h1m-.8-.3h1m-.9 .4h1m-.8-1.2h1m-1 .9h1m-.9-.1h1m-.9 .3h1m-1 1h1m-.9-.7h1m-.9-1h1m-.9 1.4h1m-.7-.9h1m-1-.2h1m-.9 1.1h1m-1-.1h1m-.8-.5h1m-.8-.7h1m-.9-.4h1m-.7 2.4h1m-.8-2.5h1m-.9 .5h1m-1 1.2h1m-.9-1.3h1m-1 .4h1m-.7-.7h1m-1 1.4h1m-.9 .5h1m-.8-1.5h1m-.9-.6h1m-1 1.7h1m-.9-.9h1m-.8-.7h1m-1 1.6h1m-.9-1.1h1m-.9 .2h1m-1 1.3h1m-.8-.8h1m-1 .7h1m-.8-1.4h1m-.7 .6h1m-.7-.4h1m-.9 .4h1m-.9-.4h1m-.9-.8h1m-.9 1h1m-.7 .1h1m-.8 1.5h1m-.5-.8h1m-.2-1.1h1m-1 1.9h1m-.8-.8h1m-.4 0h1m-.1-.1h1m-.5-.6h1m-.1 1.7h1m-.7-.2h1m-.8-2.3h1m-.4 1.4h1m1.1-1.2h1m-.4 .3h1m.3-.5h1m-23 3.5h1m-.5-.1h1m-.9-.8h1m-.5 1.3h1m-1 .9h1m-.8-2.1h1m3 .7h1m-.9 .1h1m-.7 1.6h1m-.6-.7h1m-.3-.1h1m-.9 .2h1m-.8 .2h1m-.7 .1h1m-.6-2h1m-.4 1.8h1m-.6-2h1m.5 2.5h1m-.4 .1h1m-.9 .2h1m-1 0h1m-.5-.7h1m-.7 .2h1m.6 .4h1m-.1-.3h1m.2-2.3h1m-1 1.6h1m-1 .9h1m.3-1.9h1m-.7 .1h1m-.8 1.6h1m-.9-1.2h1m-.8-.4h1m-.4 .4h1m.6-1.2h1m-18.6 3.3h1m.8-.1h1m.5 .9h1m-.7-.9h1m1.1 .1h1m1.4-.2h1m.5 1h1m-.2-.4h1m-.8-.3h1m-10.3 11.1h1m1.1-.9h1m-.7 .9h1m-.4 .5h1m-6.3 .9h1m-.9 1.4h1m-.5-1h1m-.6-.4h1m.6 1.2h1m-.1-1.9h1m-1 .9h1m-.2-.5h1m-.7 1.3h1m-3.3 2.2h1m-1 1.2h1m-.5-1h1m-.7 .9h1" stroke="#000" stroke-width="1" fill="none"/></g>
<g filter="url(#bl)"><path d="M0 0" stroke="#000" stroke-width="1" stroke-opacity="0.6" fill="none"/><path d="M0 0" stroke="#000" stroke-width="1" fill="none"/></g>
<rect x="111.5" y="20.5" width="56.0" height="57.0" stroke="#383838" stroke-width="1" fill="none"/>
<line x1="132.5" y1="20.5" x2="132.5" y2="77.5" stroke="#383838" stroke-width="1"/>
<line x1="111.5" y1="55.5" x2="167.5" y2="55.5" stroke="#383838" stroke-width="1"/>
<text x="110.3" y="82.9" font-family="'Liberation Serif', serif" font-size="3.6" font-weight="bold" text-anchor="start" fill="#333">10</text>
<text x="114.0" y="80.7" font-family="'Liberation Serif', serif" font-size="2.6" font-weight="bold" text-anchor="start" fill="#333">0</text>
<rect x="111.0" y="77.5" width="1" height="1.6" fill="#333"/>
<text x="124.3" y="82.9" font-family="'Liberation Serif', serif" font-size="3.6" font-weight="bold" text-anchor="start" fill="#333">10</text>
<text x="128.0" y="80.7" font-family="'Liberation Serif', serif" font-size="2.6" font-weight="bold" text-anchor="start" fill="#333">1</text>
<rect x="125.0" y="77.5" width="1" height="1.6" fill="#333"/>
<text x="138.3" y="82.9" font-family="'Liberation Serif', serif" font-size="3.6" font-weight="bold" text-anchor="start" fill="#333">10</text>
<text x="142.0" y="80.7" font-family="'Liberation Serif', serif" font-size="2.6" font-weight="bold" text-anchor="start" fill="#333">2</text>
<rect x="139.0" y="77.5" width="1" height="1.6" fill="#333"/>
<text x="152.3" y="82.9" font-family="'Liberation Serif', serif" font-size="3.6" font-weight="bold" text-anchor="start" fill="#333">10</text>
<text x="156.0" y="80.7" font-family="'Liberation Serif', serif" font-size="2.6" font-weight="bold" text-anchor="start" fill="#333">3</text>
<rect x="153.0" y="77.5" width="1" height="1.6" fill="#333"/>
<text x="166.3" y="82.9" font-family="'Liberation Serif', serif" font-size="3.6" font-weight="bold" text-anchor="start" fill="#333">10</text>
<text x="170.0" y="80.7" font-family="'Liberation Serif', serif" font-size="2.6" font-weight="bold" text-anchor="start" fill="#333">4</text>
<rect x="167.0" y="77.5" width="1" height="1.6" fill="#333"/>
<text x="139.5" y="87.0" font-family="'Liberation Sans', sans-serif" font-size="3.0" font-weight="bold" text-anchor="middle" fill="#333">EGFP</text>
<text x="108.3" y="79.8" font-family="'Liberation Serif', serif" font-size="3.6" font-weight="bold" text-anchor="start" fill="#333" transform="rotate(-90 108.3 79.8)">10</text>
<text x="108.3" y="65.55" font-family="'Liberation Serif', serif" font-size="3.6" font-weight="bold" text-anchor="start" fill="#333" transform="rotate(-90 108.3 65.55)">10</text>
<text x="108.3" y="51.3" font-family="'Liberation Serif', serif" font-size="3.6" font-weight="bold" text-anchor="start" fill="#333" transform="rotate(-90 108.3 51.3)">10</text>
<text x="108.3" y="37.05" font-family="'Liberation Serif', serif" font-size="3.6" font-weight="bold" text-anchor="start" fill="#333" transform="rotate(-90 108.3 37.05)">10</text>
<text x="108.3" y="22.8" font-family="'Liberation Serif', serif" font-size="3.6" font-weight="bold" text-anchor="start" fill="#333" transform="rotate(-90 108.3 22.8)">10</text>
<text x="102.9" y="49.0" font-family="'Liberation Sans', sans-serif" font-size="2.9" font-weight="bold" text-anchor="middle" fill="#333" transform="rotate(-90 102.9 49.0)">Anti-DR-PE</text>
<path d="M104.3 17.3h2.6l-1.3 1.8z" fill="#222"/>
<text x="110.3" y="18.6" font-family="'Liberation Serif', serif" font-size="7.25" font-weight="bold" text-anchor="start" fill="#111" stroke="#111" stroke-width="0.15">79.5</text>
<text x="152.7" y="18.6" font-family="'Liberation Serif', serif" font-size="7.25" font-weight="bold" text-anchor="start" fill="#111" stroke="#111" stroke-width="0.15">18.9</text>
<text x="112.5" y="91.39999999999999" font-family="'Liberation Serif', serif" font-size="7.25" font-weight="bold" text-anchor="start" fill="#111" stroke="#111" stroke-width="0.15">1.5</text>
<text x="152.7" y="91.39999999999999" font-family="'Liberation Serif', serif" font-size="7.25" font-weight="bold" text-anchor="start" fill="#111" stroke="#111" stroke-width="0.15">0.1</text>
<g filter="url(#bl)"><path d="M224.7 21.6h1m4 .6h1m-28.9 1.1h1m-.9-.4h1m5.4 2.5h1m.8-2.4h1m-.8 1.8h1m2.1 .4h1m8.7-1.3h1m1.4-.8h1m10.9 1.5h1m-36.5 2.1h1m6.8 1.7h1m4.9-1h1m-.6 .4h1m5.2-.8h1m-31.4 3.1h1m25.4 .6h1m-.5 .7h1m.2-2.9h1m-1 1.7h1m4.2-1.1h1m1 1.1h1m-.8 .2h1m5.6 .3h1m.1 .5h1m-3.2 1.4h1m.9 .1h1m0 .4h1m-45.8 2.3h1m2.5-.1h1m40.4-.6h1m6.1-.1h1m-51.5 5h1m1-.5h1m41.9 0h1m-.9 1.1h1m1.9-1.9h1m-5.3 3.3h1m1.3-.8h1m-34.7 5.3h1m10.8-.2h1m1.3 .5h1m-.9-.2h1m13.2-2.2h1m-.6 2.2h1m-.9-1.1h1m-.2-.3h1m4.3 .7h1m2.5 .3h1m-50.2 2.5h1m-.4 .9h1m1.6-1.6h1m-1 1.2h1m4.8 .2h1m17.3-1.9h1m-.6 .8h1m-23.5 3.8h1m5 .4h1m7.5-.5h1m2.5 .2h1m3.6-1.2h1m2.5-.6h1m14 1.8h1m2.7-.9h1m-49 2.3h1m.2 1h1m1.7-.6h1m26.2 .5h1m-37.3 4.2h1m13.2-.4h1m1.2-.6h1m5.4 .2h1m5.5 .9h1m7-1.6h1m-35.6 1.9h1m2 1h1m5 1.2h1m-.3-1.8h1m0 1.5h1m-.8-.9h1m-.9 1.7h1m23.7-2.4h1m-34.2 3.3h1m7.4-.5h1m-.4 1.4h1m.6-.5h1m3.6 .7h1m3.1-.9h1m7 1.6h1m8.8-1h1m-40.7 3.7h1m1.1-.1h1m.1-.7h1m-1 1.2h1m-.3-1.5h1m5.4-.4h1m-.7 .9h1m-.6-1h1m33.2 .7h1m-38.1 2.4h1m8.8-.2h1m17.4 .9h1m12.4-.8h1m-49.1 4.7h1m-.8-2.1h1m-.9 .5h1m2.5 .3h1m0 1.9h1m-.3-2.6h1m0 .1h1m-.9 .6h1m14.4-.7h1m4.3 .8h1m16.4-.6h1m-48.4 4.3h1" stroke="#000" stroke-opacity="0.62" stroke-width="1" fill="none"/><path d="M199.2 28.1h1m-.3-.1h1m-4.8 3.3h1m-.8 .2h1m-.1-.4h1m-.9-.8h1m-.4 .2h1m-.8-.7h1m-1-.3h1m-.8 1.4h1m-.7-.6h1m-.9-.2h1m-.9-1.1h1m-.9 1.3h1m-1 .6h1m-1 .5h1m-.7-1.6h1m-1 .3h1m-.9 .8h1m-.8 .5h1m-.9-1.3h1m-.8-.7h1m-1 .7h1m-.8-.4h1m-.9 .4h1m-1 .1h1m-.9 .4h1m-.8 .1h1m-.9 .1h1m-1-.1h1m-.9 .7h1m-.7-2.5h1m-.9 1.8h1m-.6-.1h1m-1 .7h1m-.9-.2h1m-.7-2.3h1m-1 2.4h1m-.9-1.3h1m-1 .9h1m-.9-1.5h1m-1 2.2h1m-1-.3h1m-.8-.6h1m-1 .8h1m-.9-1.2h1m-.7 .9h1m-.7-.5h1m-.6 .8h1m-.9-.1h1m-.8-.6h1m-.3 .3h1m1.4 .4h1m-.4-1h1m-.9-.2h1m-.3-.5h1m-.9 1.1h1m-1-.2h1m-.4 .2h1m-.9 .1h1m-.7-.1h1m-.3 .1h1m.2-.5h1m.5-.6h1m.6 .3h1m0 1.3h1m-.5-1.3h1m3.7 1.3h1m-.9 0h1m.4 .1h1m-.7-1.1h1m.6 .3h1m-.9 .6h1m-.1-.4h1m.1-.5h1m-.7 .5h1m-.9 .5h1m-.7-.4h1m-.7 0h1m1.3 0h1m-.4 .5h1m-35.2 1.9h1m-.9 .3h1m-1 .6h1m-.7-.5h1m-.8-1h1m-1 .7h1m-.9-.6h1m-.9-1h1m-.9 1h1m-.8 .2h1m-.9 0h1m-1 1h1m-.9-.7h1m-.9 .3h1m-1 .7h1m-.9-.8h1m-.8-.8h1m-.9-.5h1m-.8 0h1m-.7 2h1m-.8-.5h1m-1-.4h1m-.9-1.8h1m-.9 2.3h1m-.9-1.7h1m-.8 0h1m-1 .7h1m-.9-.8h1m-.7 1.4h1m-.7-1.6h1m-.9-.2h1m-1 .3h1m-1 1.1h1m-1 .1h1m-.9 .3h1m-.9-.5h1m-.9-1.4h1m-1 .9h1m-.8-.1h1m-1 .4h1m-1-.4h1m-.9-.3h1m-1 1.5h1m-.9 .8h1m-.8-2.2h1m-.8 1.1h1m-.9-.3h1m-.7-1.2h1m-.8 0h1m-1 .2h1m-1 1.2h1m-1 .3h1m-.9-1.2h1m-1 1h1m-.8 1h1m-1-.2h1m-.9-2h1m-1 1h1m-.9 0h1m-1 1.3h1m-.9-1.9h1m-.9 .5h1m-.8-1.4h1m-1 1.9h1m-.9-.6h1m-.9-1.1h1m-.9 .7h1m-.9 .4h1m-.9 1h1m-.7-1.7h1m-1 1.1h1m-1 .2h1m-.9 .7h1m-.9-1.7h1m-.7-.5h1m-1 2.3h1m-.9-1.9h1m-1 .8h1m-1 0h1m-.9 .4h1m-1 .1h1m-.9-1.2h1m-.9-.7h1m-1 2.1h1m-1 .1h1m-.9-2.3h1m-1 2.4h1m-.9-2.4h1m-.7 2h1m-1 .3h1m-1 .2h1m-.9-2.6h1m-.9 .1h1m-1 1h1m-1 1.5h1m-.9-.3h1m-1-.4h1m-.6-.2h1m-.4 .9h1m-.8-2.2h1m-1 2.4h1m-.8-.1h1m-.6-2.4h1m2.5 1.4h1m-.9-.7h1m-1 .6h1m-.7-.8h1m-.7 1.8h1m-.7-1.5h1m-.7 .2h1m-.6 .9h1m1-.3h1m0-.3h1m-.8 .4h1m-.5-1.9h1m-.6 2.5h1m-.8-.7h1m-.1 .3h1m-.4-1.6h1m-.8 1.3h1m-.9-.3h1m-.7-1.2h1m-.7 1.3h1m-.3-.7h1m-.4 .8h1m-.9 .2h1m-.9-.9h1m-1 .7h1m-.7-1.2h1m-.8 1.5h1m-.7-1.2h1m-.4 1.9h1m-.9 0h1m-.9-.4h1m-.8-2.3h1m-.8 2.4h1m-.1-1.1h1m-.8 .1h1m-.7-1.4h1m-1 1.8h1m-.9-.5h1m-1 .5h1m-1 .8h1m-.8-1.7h1m-1 .6h1m-.9-1h1m-.7 2.1h1m-.7-2.4h1m-.9 1.4h1m-.9-1h1m-.9 0h1m-1 1.9h1m-.8 .2h1m-.7-1.8h1m-.9 1.7h1m-.9-.1h1m-.9-.7h1m-.7-1.5h1m-1 .8h1m-.8 1h1m-1-.1h1m-.9 .7h1m-.9-2.3h1m-.8 1.8h1m-.7-1.7h1m-.8 1.1h1m-.3-1h1m-1 1.8h1m-.9-1.2h1m-.9 .4h1m-.9-1.5h1m.8 .7h1m-1 1h1m-.9 .1h1m-.8 .8h1m-.6-1.6h1m-.6-.6h1m-1 .4h1m-1 .5h1m-.9-1h1m-.3 2.1h1m-.6 0h1m-.1 0h1m-.9 0h1m-39.3 2.5h1m-.4-1.5h1m-.9 .2h1m-1 1.7h1m-.9-1.7h1m-1 1.8h1m-1-.2h1m-.9-.7h1m-.8-1.2h1m-1 2.3h1m-1 0h1m-.9-.8h1m-1 .7h1m-.8-1.8h1m-.9 0h1m-.9-1h1m-1 2.5h1m-.7-1.9h1m-1 1.1h1m-.9-1.4h1m-1 .1h1m-.9-.2h1m-1 1.2h1m-1 .7h1m-1 .4h1m-1 .5h1m-.9-2.6h1m-1 .3h1m-.9 .3h1m-.9-.2h1m-.8 1.1h1m-.8-1.3h1m-.9 .1h1m-1 .3h1m-.9 .4h1m-.9-.5h1m-.9-.3h1m-1 .1h1m-.9 1.5h1m-.8-.7h1m-.8-1.2h1m-1 2.1h1m-.9 .5h1m-.9-.6h1m-.8-2h1m-1-.3h1m-1 2.4h1m-.8-.5h1m-.9-1.6h1m-1 .1h1m-.9 .2h1m-1 1.8h1m-1-.8h1m-.9 .5h1m-.9-.1h1m-.9-1h1m-.9 .6h1m-1 .7h1m-.9-1h1m-1-.2h1m-1-.4h1m-.9-.4h1m-1 .7h1m-1 1.4h1m-.9-1.5h1m-.9 .5h1m-.9-.4h1m-1 .8h1m-1 .3h1m-1 .4h1m-.9-2.2h1m-1 1.8h1m-1 .4h1m-.9-.4h1m-.9-.7h1m-1 .8h1m-.9 .5h1m-1-.2h1m-.8-2.1h1m-1 1.4h1m-1 .6h1m-.9-1.2h1m-.9-.1h1m-1 .2h1m-1 .8h1m-.9 .7h1m-.9-.7h1m-.9-1.6h1m-1 2.5h1m-1-.4h1m-.9-1.2h1m-.9 .9h1m-.9-2.2h1m-1 1.5h1m-1 1.1h1m-.8-1.3h1m-1 .3h1m-1 1.3h1m-.9-1.1h1m-.9-.7h1m-.9-1.2h1m-1 .2h1m-1 0h1m-.9 1.8h1m-.9-.6h1m-1 .8h1m-.9-2h1m-1 1.9h1m-1-.2h1m-1 .8h1m-1 .1h1m-.9-1.4h1m-1 .9h1m-1 .1h1m-.8-1.2h1m-1 1.3h1m-.9-2.4h1m-1 1.5h1m-1 1.3h1m-.8-.8h1m-.9-1.4h1m-1 .1h1m-.9-.4h1m-1 .8h1m-1 1.8h1m-.9-2.7h1m-.7 2.5h1m-.9-1.1h1m-1 .9h1m-.9-1.5h1m-1 1.2h1m-.9-1.5h1m-.9 2.1h1m-.9-2.7h1m-1 2.5h1m-.9-2.2h1m-1 .6h1m-.9-1.1h1m-1 1h1m-1 .6h1m-.9-.2h1m-.9 1.1h1m-.9-2.2h1m-1 .4h1m-.9-.6h1m-1 .8h1m-1 1.9h1m-1 0h1m-.7-1.9h1m-1-.4h1m-.9 .7h1m-1-.2h1m-1 .4h1m-1 .4h1m-1 .2h1m-1 .8h1m-.9-2.2h1m-1 2.3h1m-.9-1.6h1m-.8 1.3h1m-.9-2.5h1m-.9 .2h1m-1 2.7h1m-.9-2.9h1m-1 1.5h1m-.9 .2h1m-.9-1.1h1m-1-.2h1m-.9 .5h1m-1 .9h1m-.9-.3h1m-1 .7h1m-1-.4h1m-.9-1.8h1m-1 1h1m-1 .9h1m-1-.1h1m-.7-1.5h1m-.8 2.1h1m-.4-.3h1m-.8-1.6h1m.3 .6h1m-.7-1.2h1m.4 2.8h1m-.6-.5h1m-.9 .7h1m.2-1.3h1m-.4 .6h1m-.1-1.6h1m-.8 1.6h1m-.8-1.3h1m-.4-.9h1m-.7 .7h1m-.7 1.5h1m-.9-1.6h1m-1 2.3h1m-.8-1.3h1m-.8 0h1m-1 1h1m-1 .1h1m-.8-2.2h1m-1 1.3h1m-1 1h1m-.9-2.2h1m-.9 .7h1m-.2 1.1h1m-1 .5h1m-.4-.2h1m-.8-2.8h1m-1 1.3h1m-1 1.1h1m-.2-1.3h1m-.9-1h1m-1 2.7h1m-.7 .1h1m-.8-2.5h1m-.3 0h1m-.8 1.3h1m-1 1.2h1m-.9-2.7h1m-.8 .6h1m-1 1.1h1m-.9-1.7h1m-.5-.2h1m-1 .5h1m-.9-.2h1m-1 .4h1m-.6-.6h1m-.9 1.7h1m-.7-.8h1m-.9 .8h1m-.8-1.1h1m-1 .2h1m-1 .3h1m-1-.5h1m-.8 .7h1m-1 1.5h1m-.9-.4h1m-.8-.6h1m-1 0h1m-1 .7h1m-1 .3h1m-.7-2h1m-.9 1.1h1m-.7-1.3h1m-.8 .8h1m-.9-.5h1m-.9-.4h1m-.8 1.5h1m-.9-.1h1m-1 .1h1m-.9-1.4h1m-.9-.7h1m-.9 2.4h1m-.9-1h1m-1-.3h1m-.7-1h1m-.4 .7h1m-.8 2.2h1m-.7-.1h1m-.7-2.6h1m-1 .4h1m-1 2.1h1m-.5-2.7h1m-.8 2.4h1m-.8-2.2h1m-1 2h1m-.7-1.1h1m-1 1.8h1m-.2-1.1h1m-.8 .4h1m-.7-1.1h1m-.8 1.7h1m-.8-1.6h1m-1 1.1h1m-.7-2.3h1m-.7 .1h1m-1 2.1h1m-1 .3h1m-.9-.9h1m-.9 .7h1m-.9 .3h1m-.6-2.1h1m-1 .9h1m-.9-.1h1m-1 1.2h1m-.9-2.6h1m-.8 2.4h1m-1-.7h1m-.9-.9h1m-1 1.2h1m-.7-.1h1m-.7-.8h1m-.8-1h1m-.6 .6h1m-1 1.4h1m-1 .6h1m0-2.3h1m-.6 1.7h1m-.6-1.6h1m-1 1.9h1m-.7-1.8h1m-.5 1h1m-.5-.4h1m-.7 .7h1m-.6 .1h1m-41.4 1.2h1m-1 1.8h1m-.9-1.7h1m-1 1.4h1m-.9-1.3h1m-1 2.4h1m-.9-2h1m-1 .3h1m-1 .8h1m-.6-.3h1m-.7-1h1m-.9 .2h1m-1-.1h1m-1 1.2h1m-1-.2h1m-1 .3h1m-.9-1.2h1m-1 1.3h1m-.9-1h1m-.9 .1h1m-.9-1h1m-1 1.6h1m-.6-.5h1m-.8 .1h1m-.9 .5h1m-1 0h1m-1 .7h1m-1 .3h1m-.7-.7h1m-.9-1.2h1m-1 1h1m-1 .1h1m-1-.6h1m-.9-1.2h1m-.9 .2h1m-.9 1.5h1m-1 0h1m-.9-1.6h1m-1-.3h1m-1 1h1m-1 .9h1m-.9-.7h1m-1 .7h1m-1 .3h1m-1-.8h1m-1 1.3h1m-.9 0h1m-.9-.6h1m-1 .5h1m-.8-1.2h1m-1 .1h1m-.7 .6h1m-.9 .1h1m-.9 .4h1m-.9-2h1m-1 .9h1m-.9-.3h1m-1 1.4h1m-.9-1.6h1m-1 .6h1m-.9 .4h1m-.9-1.9h1m-.9 1.8h1m-1 .2h1m-1 .7h1m-1-.4h1m-.9-.6h1m-1-.3h1m-.9-1.5h1m-.9 .2h1m-.7 1.3h1m-.8-.2h1m-1 0h1m-1 .9h1m-.9-1.3h1m-1-.2h1m-.9 1.1h1m-.5-.7h1m-.9 .7h1m-1 0h1m-.9-.9h1m-.9-.9h1m-1 1.1h1m-1 .5h1m-1 .8h1m-.7-.2h1m-.8-1.4h1m-1 .1h1m-1 1.9h1m-1-.3h1m-.9-2.2h1m-1 1.5h1m-.9 .5h1m-1 0h1m-.8-1.2h1m-1-.3h1m-1 .7h1m-1 .2h1m-.9 .3h1m-.9-2h1m-.9 .1h1m-1 2.6h1m-.9-2.2h1m-1 .2h1m-.8 .9h1m-1 .4h1m-.9-2h1m-1 1.7h1m-1 .9h1m-.9-.5h1m-.9-1.1h1m-1 1.8h1m-.9-.8h1m-.9-.3h1m-1-.2h1m-.9-1.3h1m-1 .3h1m-1 1.2h1m-.9-.9h1m-.9-.6h1m-.9 1.8h1m-.9-1.4h1m-.9 1.1h1m-.9-1h1m-1 .2h1m-1 1.4h1m-.9-1.7h1m-1 1.9h1m-.9-2.5h1m-1 1.9h1m-.9-.4h1m-.9-1.2h1m-1 .5h1m-.9-.7h1m-1 2.7h1m-.9-2.7h1m-1 1h1m-.9 0h1m-.8-.8h1m-.9 1.4h1m-.8 .5h1m-.8-1.4h1m-.9 .5h1m-1 1.5h1m-.9-2.2h1m-1 0h1m-.7 .8h1m-.8-.8h1m-.1 .7h1m-.6-.2h1m1.4-1.1h1m-.9 2.1h1m-.9 .6h1m-.9-.6h1m-.9-2h1m0 2h1m-.4-.3h1m-1 .8h1m-.7-1.3h1m-.6-.1h1m-.6-.2h1m-.1-.7h1m-.8 .8h1m-.6-.1h1m-.8 1.7h1m-.7-1.1h1m-.9 .3h1m-.9-.8h1m-.1-1h1m-.9 2.2h1m-1-.1h1m-.9-1.1h1m-.8 1.1h1m-.5-2h1m-.8 2h1m-.8-1h1m-.8-1.1h1m-.9 1.5h1m-1 1.2h1m-.9-.9h1m-.9 .4h1m-.5-1.3h1m-.9-.9h1m-1 .2h1m-1 1.2h1m-1 1h1m-.9-1.2h1m-.8-.1h1m-.3-1h1m-1 2.4h1m-.8-1.6h1m-.9 .3h1m-.6-.8h1m-.5-.2h1m-1 .4h1m-1 0h1m-.8-.2h1m-.8-.2h1m-.9 .8h1m-1 .4h1m-.8-.2h1m-1 1h1m-.9-2.1h1m-1 .6h1m-.9-.5h1m-1 2.1h1m-.9-1.3h1m-.5-.9h1m-.9 2.4h1m-.9-.9h1m-.7 0h1m-.8-.4h1m-.7 1.2h1m-.9-.3h1m-.8-2.1h1m-.6 .8h1m-1 1.2h1m-.8 .6h1m-.9-1.1h1m-1 0h1m-.9-.7h1m-1 0h1m-.4 1.4h1m-.9 0h1m-.6 .2h1m-.9-.9h1m-.9-.4h1m-1 .3h1m-.7 .4h1m-.9 0h1m-.9-.5h1m-.9-.8h1m-1 1.1h1m-.6 .1h1m-.5-.6h1m-.9-.4h1m-.8 1.6h1m-.5-1.5h1m-.9 .7h1m-.7 .6h1m-.8 .6h1m-.8-2.8h1m-.8 .2h1m-.8 .1h1m-1 .9h1m-1 1.2h1m-.8-.9h1m-.9 .9h1m.7-1.4h1m-.7 0h1m-1 1h1m-.7-.9h1m-1 .8h1m-.8 .4h1m0-2.1h1m-1 2.2h1m-1 .2h1m-.9-1.2h1m-.5 .5h1m-1 .1h1m-.3 .3h1m-.9-.8h1m-1 .3h1m-.9-1.7h1m-.8 .5h1m-.8 1h1m-.8-.9h1m-1 1.4h1m-40.8 2.9h1m-.9-.7h1m-.9-1.1h1m-1 1.6h1m-.8-.8h1m-.9-.8h1m-.9 .4h1m-.9-.5h1m-1 1.1h1m-.9-1.3h1m-1 .3h1m-1 .2h1m-.9 1.5h1m-.9 .2h1m-1 .7h1m-.9-2.8h1m-1 .7h1m-.9 .2h1m-.9-.2h1m-.9 .3h1m-1 0h1m-.9 .3h1m-1-.8h1m-1 .1h1m-1 1.3h1m-.8-1h1m-1 1.4h1m-1 .6h1m-.9-2.6h1m-1-.1h1m-1-.3h1m-1 1.1h1m-1 1.2h1m-1 .6h1m-.9-1.7h1m-.9-1.2h1m-1 2.2h1m-1 .4h1m-.7-2h1m-.9-.3h1m-1 2.4h1m-1-.2h1m-.9-2.5h1m-1 1.3h1m-.8 .7h1m-1 .1h1m-.9-2h1m-1 1h1m-1 .6h1m-1 1.1h1m-.9-2.1h1m-1 1h1m-.9-1.3h1m-1 1h1m-1 .6h1m-.9-1.9h1m-.9 .3h1m-1 2.5h1m-1-.3h1m-.9 .4h1m-.8-1.1h1m-1 .2h1m-1 .9h1m-.9-1.6h1m-1-.8h1m-.9-.4h1m-1 .9h1m-1-.5h1m-.9-.5h1m-1 .6h1m-.9-.5h1m-.9 .7h1m-1 1.7h1m-1 .4h1m-.9-1.4h1m-.9-1.4h1m-1 0h1m-1 .9h1m-1 1.3h1m-.9-1.4h1m-1-.3h1m-.8 0h1m-1 1.6h1m-.9-2.2h1m-.7 .3h1m-1 0h1m-1 1h1m-1-.1h1m-1 .6h1m-1 1h1m-1-.2h1m-.8-2.5h1m-.9 1.6h1m-.9-1.7h1m-.9 .7h1m-1 1.3h1m-1 .6h1m-.9 .2h1m-.9-1.4h1m-1 1.1h1m-.9-2.6h1m-1 0h1m-.9 2.7h1m-1-.1h1m-.9-2.1h1m-1 2.3h1m-.9-2.6h1m-1-.2h1m-1 2.7h1m-.9 .1h1m-.9-1.8h1m-1 .7h1m-1 .7h1m-.7-1.9h1m-1 2.4h1m-.8-2.8h1m-.9 1h1m-.9 1.7h1m-.9-2.5h1m-.8 .7h1m-.9 .4h1m-.9 1.4h1m-1-.2h1m-.9-2.3h1m-1 2.4h1m-1 .1h1m-.7-1.7h1m-1-.3h1m-.9 .9h1m-1-.1h1m-1 .4h1m-.9 .6h1m-.9-2.5h1m-1 2.5h1m-.9-2.6h1m-.9 .7h1m-1 1.7h1m-.9-1.1h1m-1 .9h1m-1 0h1m-.9 .1h1m-1 .6h1m-.9-.7h1m-1 .1h1m-.8-1.7h1m-1 .2h1m-.9 0h1m-.9-.6h1m-1 .9h1m-1-.2h1m-1-.1h1m-.9 .2h1m-.7 .4h1m-1-.1h1m-.7-.9h1m-.9 .3h1m-.9-.5h1m-1 .6h1m-.2 1.3h1m-1-.6h1m-.8-.7h1m-.4-.1h1m-.4 .4h1m-.4 1h1m-.8 .7h1m1.6-1.9h1m-.8 .6h1m.5-.3h1m-.7-1h1m-.8 .2h1m-.6 .1h1m-.9 .6h1m-.9-.4h1m-.7 .7h1m-.8 0h1m-.8-1.3h1m-.9 .7h1m-.9 2.2h1m-.7-3h1m-.9 2.8h1m-.8-2.7h1m-.9 .7h1m-.7-.5h1m-.5 1.8h1m-.6-2.1h1m-.8 2.4h1m-.9-1.6h1m-.9 2h1m-.8-2.4h1m-1 .1h1m-.8 1.8h1m-.7-2.3h1m-.5 2h1m-.9 .2h1m-1-.1h1m-.9 .6h1m-.9-2.5h1m-.6 .2h1m-1 2.5h1m-.8 .1h1m-.8-.8h1m-.8-2.2h1m-.4 .7h1m-.9 1.2h1m-.8-1.8h1m-1 .1h1m-1 .8h1m0-1h1m-.7 1.2h1m-.8-.4h1m-1 1.5h1m-.7-.5h1m-.7-1.4h1m-1 1h1m-.8-.4h1m-.5 1.2h1m-1-.5h1m-.7-1.7h1m-1 2.3h1m-.8 .6h1m-.3-1.1h1m-.6-1.5h1m-1 1.7h1m-.9-1.2h1m-.9-.7h1m-1 2.1h1m-.9-.5h1m-.9-.3h1m-1 1h1m-.4-1.2h1m-.9 1.8h1m-.7-.7h1m-.2 .7h1m0-2.3h1m-.1-.3h1m-.9 .5h1m-.7 .2h1m-.9 .1h1m-.8-.1h1m-.6-.7h1m-.9 1.9h1m-.8-1.9h1m-.5 1h1m.1-.1h1m-.9 0h1m-.4-.5h1m-.4 1.8h1m-.7-2.2h1m-.8 1.4h1m-.9 .1h1m-1 .4h1m-.6-2h1m-.6 .7h1m-38.6 2.6h1m-.6-.5h1m-1 .1h1m-1-.1h1m-.9 .6h1m-.3-.1h1m-1 1.1h1m-1 0h1m-.8-1.4h1m-.8 .9h1m-1-.4h1m-1-.2h1m-.9 .5h1m-1-.5h1m-.9 .2h1m-.9-.2h1m-.9 1.3h1m-.9-.7h1m-.8 1.1h1m-.9-1.9h1m-1 1.7h1m-.8-1.6h1m-.9-.3h1m-1 2h1m-.9 .4h1m-.9-2.2h1m-1 .9h1m-.5-1.1h1m-1 1.5h1m-.9-1.3h1m-1 .5h1m-1 .1h1m-1 .4h1m-.7-.7h1m-1 .3h1m-.9 1.3h1m-.6-1.4h1m-1 .2h1m-.8 1h1m-.9-1.1h1m-1 1.5h1m-.9-.9h1m-.9-1.4h1m-.8-.1h1m-.8 1.8h1m-.7 0h1m-.9-1.6h1m-.9 .7h1m-.8 .1h1m-.9 .8h1m-.8-1.6h1m-.5 0h1m-1 2h1m-.8-2h1m-.5 1.1h1m-.7-.7h1m-.4 1.1h1m.6 .3h1m-.4 0h1m-.6-.8h1m-.8-.9h1m-.7 2.5h1m-.2-2.7h1m0 1.2h1m-.4 1.3h1m-.2-2.4h1m-.7 1.6h1m-.6-1.6h1m-1 1.5h1m.2-.2h1m-.6-.6h1m-.2-.2h1m.2 .6h1m-.7-.3h1m-.4-.4h1m-.7 .1h1m-.9-.6h1m-.9 1.9h1m.1-1h1m-1 .5h1m-.9-.4h1m-.9-.5h1m-.2 1.9h1m-.9-.8h1m-.9-1.6h1m-.6 .7h1m.1 .1h1m-.9 1.2h1m-.9-.2h1m-.9-.9h1m-.9-.2h1m-.9 .6h1m-.9-1.3h1m-.5 .3h1m-.9 .8h1m-1-.1h1m-.7 .9h1m-.6-.7h1m-.9 .9h1m-.3 .2h1m-.9-2.4h1m-.9 0h1m-1 .1h1m-1 2h1m0 .6h1m-.8-.1h1m-.9 .2h1m-.4-.6h1m-.9 .5h1m-.3-2.2h1m-1 1h1m-.9-1.1h1m-1 .7h1m-.9 .4h1m-.7-.9h1m-.9 1.9h1m-.5-2.5h1m-.3 2.3h1m-.4-2h1m-.9 1.9h1m-.9-.3h1m-.7-1h1m-.1-.6h1m0-.2h1m-.9 .1h1m-26.7 3h1m-1 .3h1m-.7 .4h1m.3-.8h1m-.8 1h1m-.6-.2h1m-.4-.1h1m-.7 .1h1m1.8-.8h1m-.7 1.1h1m.2-.1h1m-.5-.7h1m.5 .8h1m3.6-1h1m2 .1h1m-.7-.2h1m.6-.2h1m-1 .5h1m-.8 .7h1m-.2-.3h1m-.1-.7h1m-.2 .2h1m.3 0h1m-31.3 17.3h1m.2 .2h1m-.6-1h1m-.4-.4h1m-.9 1.3h1m-.9-.9h1m-.6-1.3h1m1.6 1h1m-7.6 4.2h1m-.2-.9h1m.4-1.1h1m-.3-.4h1m-.9-.3h1m-.5 2.8h1m-.8-.3h1m-.7-2h1m-.8 .9h1m-.9-.5h1m-1 1.1h1m-.3-1.5h1m-.3 .3h1m-7.3 2.8h1m-.5 2.2h1m-.6-1.5h1m0-1.2h1m-.9 2.5h1m-.8-1.5h1m.8-.8h1m-.7-.2h1" stroke="#000" stroke-width="1" fill="none"/></g>
<g filter="url(#bl)"><path d="M0 0" stroke="#000" stroke-width="1" stroke-opacity="0.6" fill="none"/><path d="M0 0" stroke="#000" stroke-width="1" fill="none"/></g>
<rect x="189.5" y="20.5" width="57.0" height="57.0" stroke="#383838" stroke-width="1" fill="none"/>
<line x1="209.5" y1="20.5" x2="209.5" y2="77.5" stroke="#383838" stroke-width="1"/>
<line x1="189.5" y1="55.5" x2="246.5" y2="55.5" stroke="#383838" stroke-width="1"/>
<text x="188.3" y="82.9" font-family="'Liberation Serif', serif" font-size="3.6" font-weight="bold" text-anchor="start" fill="#333">10</text>
<text x="192.0" y="80.7" font-family="'Liberation Serif', serif" font-size="2.6" font-weight="bold" text-anchor="start" fill="#333">0</text>
<rect x="189.0" y="77.5" width="1" height="1.6" fill="#333"/>
<text x="202.55" y="82.9" font-family="'Liberation Serif', serif" font-size="3.6" font-weight="bold" text-anchor="start" fill="#333">10</text>
<text x="206.25" y="80.7" font-family="'Liberation Serif', serif" font-size="2.6" font-weight="bold" text-anchor="start" fill="#333">1</text>
<rect x="203.2" y="77.5" width="1" height="1.6" fill="#333"/>
<text x="216.8" y="82.9" font-family="'Liberation Serif', serif" font-size="3.6" font-weight="bold" text-anchor="start" fill="#333">10</text>
<text x="220.5" y="80.7" font-family="'Liberation Serif', serif" font-size="2.6" font-weight="bold" text-anchor="start" fill="#333">2</text>
<rect x="217.5" y="77.5" width="1" height="1.6" fill="#333"/>
<text x="231.05" y="82.9" font-family="'Liberation Serif', serif" font-size="3.6" font-weight="bold" text-anchor="start" fill="#333">10</text>
<text x="234.75" y="80.7" font-family="'Liberation Serif', serif" font-size="2.6" font-weight="bold" text-anchor="start" fill="#333">3</text>
<rect x="231.8" y="77.5" width="1" height="1.6" fill="#333"/>
<text x="245.3" y="82.9" font-family="'Liberation Serif', serif" font-size="3.6" font-weight="bold" text-anchor="start" fill="#333">10</text>
<text x="249.0" y="80.7" font-family="'Liberation Serif', serif" font-size="2.6" font-weight="bold" text-anchor="start" fill="#333">4</text>
<rect x="246.0" y="77.5" width="1" height="1.6" fill="#333"/>
<text x="218.0" y="87.0" font-family="'Liberation Sans', sans-serif" font-size="3.0" font-weight="bold" text-anchor="middle" fill="#333">EGFP</text>
<text x="186.3" y="79.8" font-family="'Liberation Serif', serif" font-size="3.6" font-weight="bold" text-anchor="start" fill="#333" transform="rotate(-90 186.3 79.8)">10</text>
<text x="186.3" y="65.55" font-family="'Liberation Serif', serif" font-size="3.6" font-weight="bold" text-anchor="start" fill="#333" transform="rotate(-90 186.3 65.55)">10</text>
<text x="186.3" y="51.3" font-family="'Liberation Serif', serif" font-size="3.6" font-weight="bold" text-anchor="start" fill="#333" transform="rotate(-90 186.3 51.3)">10</text>
<text x="186.3" y="37.05" font-family="'Liberation Serif', serif" font-size="3.6" font-weight="bold" text-anchor="start" fill="#333" transform="rotate(-90 186.3 37.05)">10</text>
<text x="186.3" y="22.8" font-family="'Liberation Serif', serif" font-size="3.6" font-weight="bold" text-anchor="start" fill="#333" transform="rotate(-90 186.3 22.8)">10</text>
<text x="180.9" y="49.0" font-family="'Liberation Sans', sans-serif" font-size="2.9" font-weight="bold" text-anchor="middle" fill="#333" transform="rotate(-90 180.9 49.0)">Anti-DR-PE</text>
<path d="M182.3 17.3h2.6l-1.3 1.8z" fill="#222"/>
<text x="190" y="18.6" font-family="'Liberation Serif', serif" font-size="7.25" font-weight="bold" text-anchor="start" fill="#111" stroke="#111" stroke-width="0.15">77</text>
<text x="230" y="18.6" font-family="'Liberation Serif', serif" font-size="7.25" font-weight="bold" text-anchor="start" fill="#111" stroke="#111" stroke-width="0.15">21.6</text>
<text x="191.9" y="91.39999999999999" font-family="'Liberation Serif', serif" font-size="7.25" font-weight="bold" text-anchor="start" fill="#111" stroke="#111" stroke-width="0.15">0.9</text>
<text x="230" y="91.39999999999999" font-family="'Liberation Serif', serif" font-size="7.25" font-weight="bold" text-anchor="start" fill="#111" stroke="#111" stroke-width="0.15">0.5</text>
<line x1="33.2" y1="95.5" x2="228.5" y2="95.5" stroke="#222" stroke-width="1.2"/>
<path d="M227.5 92.3 L241.5 95.5 L227.5 98.7 Z" fill="#111"/>
<text x="131.3" y="104.5" font-family="'Liberation Serif', serif" font-size="7.25" font-weight="bold" text-anchor="start" fill="#111" stroke="#111" stroke-width="0.15">GFP</text>
<text x="16.2" y="53.3" font-family="'Liberation Serif', serif" font-size="7.3" font-weight="bold" text-anchor="middle" fill="#111" stroke="#111" stroke-width="0.15" transform="rotate(-90 16.2 53.3)">MHC II</text>
<line x1="17.5" y1="35.5" x2="17.5" y2="77.3" stroke="#222" stroke-width="1.2"/>
<path d="M14.8 36.5 L17.5 26 L20.2 36.5 Z" fill="#111"/>
<text x="26.9" y="130.1" font-family="'Liberation Serif', serif" font-size="7.3" font-weight="bold" text-anchor="start" fill="#111" stroke="#111" stroke-width="0.15">Mock-transduced</text>
<text x="123" y="130.9" font-family="'Liberation Serif', serif" font-size="7.25" font-weight="bold" text-anchor="start" fill="#111" stroke="#111" stroke-width="0.15">DR.GFP</text>
<text x="202.5" y="130.9" font-family="'Liberation Serif', serif" font-size="7.25" font-weight="bold" text-anchor="start" fill="#111" stroke="#111" stroke-width="0.15">EF.GFP</text>
<g filter="url(#bl)"><path d="M45.4 145.1h1m-.6-.6h1m2.7 .9h1m1.2-.9h1m6.2 .7h1m.8-.6h1m-.4 .5h1m-.8-.9h1m-1 1.3h1m-.8-1h1m0 0h1m-19 1.6h1m.4 1.9h1m1.2-1.1h1m-.7 .8h1m.9-1.8h1m5.6 0h1m-1 1.5h1m-.4-1.1h1m-.4 .1h1m7.3 .7h1m-26 4h1m1.9-1.6h1m13.2-.2h1m-.5 1.9h1m.1 .3h1m-.9-2.6h1m10.7 2.4h1m-37.9 1.5h1m6.4 1h1m-.2 0h1m15.5-.3h1m1.6 0h1m-26.8 2.8h1m4.7-.1h1m14.1 1.3h1m0-2.1h1m.3 1.6h1m-.1-2.2h1m2.6 .3h1m-28.9 4.4h1m-.7-.9h1m.7 1.5h1m-.7-1.5h1m17.8 .7h1m-.1-1.4h1m-1 .2h1m3.8-.2h1m1.2 1.2h1m-29.6 4.2h1m18.7-.4h1m-.3-1.6h1m-.4 .9h1m2.4-1.6h1m-.3 .6h1m.5 2.2h1m0-2.9h1m-27.8 5.6h1m-1-.1h1m16.5-.7h1m-.6 .3h1m-.9 .3h1m-.6-1.1h1m0 .8h1m-.3 .7h1m-.4-1.5h1m.9 .5h1m.2-1.4h1m-.7 .1h1m-28.8 4.5h1m-.3-1h1m-.4-.5h1m-.3 1.4h1m-1 1.1h1m.2-2.7h1m16.7 .7h1m-.7-1h1m0 1.8h1m-.4 1h1m.6-2.2h1m-23.8 3.5h1m16.2 .8h1m.7 .9h1m-.3-2.2h1m1.2-.4h1m-24.5 5.5h1m-.3 .3h1m-.6-2.1h1m-.7 .9h1m-1.6 2.2h1m-.8 .3h1m-1.2 2.5h1m-1 .6h1m-.8 .5h1m-.6 2.8h1m-.4 .3h1m9.7-.9h1m-13.7 2.3h1m-.3 .3h1m-.5 .4h1m-.7 1.2h1m-.6-.6h1m-3.4 2.6h1m-.9 1.9h1m3.4 2h1m-5.4 1.1h1m.4 1.6h1m-.3-.7h1" stroke="#000" stroke-opacity="0.62" stroke-width="1" fill="none"/><path d="M53.7 145.4h1m-.5-1.4h1m-5.4 4.3h1m-.6-1h1m-.8 .9h1m-.3 .2h1m-.8-2.2h1m-.5-.3h1m-.1-.2h1m.3 .8h1m.1-.8h1m-.3 1.2h1m-.1-.4h1m-10.2 2.7h1m-.6-.2h1m-.8 1.3h1m-.8 1.2h1m0-2.4h1m-1 1.2h1m-.1 .5h1m-.3-1.4h1m-.5-.3h1m-1 .7h1m-.9 1.5h1m-.6-.1h1m-.3-2.3h1m-1 1.7h1m-.9 .3h1m-.9-1.6h1m-.9 1h1m-1 .1h1m-1 1h1m-.4-2.1h1m-1 .5h1m-1-.6h1m-.8 .2h1m-.4 .9h1m-.8 .7h1m1.2-1.3h1m-.9 1.6h1m-.2-.6h1m-13.7 3.7h1m-.6-2.2h1m-.7 0h1m-.9 2.2h1m-.1-2.6h1m-1 .6h1m.8 1.2h1m-.5-1.9h1m-.6 .4h1m.4 1h1m-1 .4h1m-.9 .3h1m-.9-.5h1m-.8-1.4h1m-.7 1.8h1m-.3-1h1m-.5 1h1m-1 .4h1m-.7-.8h1m0-.4h1m-.7 .3h1m.3 1h1m-.8-2.3h1m-1-.2h1m-.1 2.4h1m-15.2 3.1h1m-.1 .3h1m-.5-1.7h1m-.6-1.1h1m-1 .1h1m-.3-.1h1m-.6 2.2h1m-.7 .3h1m-.9-.6h1m-.9-1.7h1m-1 1.1h1m-.7-1.4h1m-.9 2.9h1m-.9-2.4h1m-.9 .3h1m-1 .8h1m-.6 1.1h1m-.9-.3h1m-.8-1.1h1m-1 .1h1m-1 .9h1m-.9-2h1m-1 1.4h1m-.9 1.1h1m-.9-1.6h1m-.8 .4h1m-1 .6h1m-.7-.2h1m-1 .9h1m-1 0h1m-.9-2.2h1m.2 .9h1m-.9 .1h1m-.2 1.1h1m-.7-1.5h1m-1-.1h1m-.8-.3h1m-.9 1.2h1m-.7-1.1h1m-.9 .9h1m-.9 .1h1m-.9-.9h1m-.7 1.2h1m-.9-1.1h1m-1-.4h1m-.4 2.1h1m-.8-2.2h1m-.8-.1h1m-.9 1h1m-.9 .2h1m-1 .5h1m-.7 .5h1m-.9-2.5h1m-1 .4h1m-1-.2h1m-1 1.8h1m-.9-2h1m-.9 1.8h1m-.8 .6h1m-.9-1h1m-.9 .5h1m-.7-.4h1m-.9-.9h1m-.9 .7h1m.1 .6h1m-15.4 3.1h1m-.2-1.2h1m.1-.9h1m-1 2.6h1m-.8-1.6h1m.1 .7h1m-.5-.6h1m-.8-1.1h1m-.8 .8h1m-1 0h1m-.4 1.7h1m-.8-1.6h1m-.9 1h1m-.7-1.8h1m-.9 2.2h1m-.9-1.7h1m-.7 1h1m-.7 .8h1m-.8-2.5h1m-.7 2.5h1m-.7-.6h1m-.9 .8h1m-.8-1.7h1m-.9 1.2h1m-.7-1h1m.2 .3h1m-.8 1h1m-.4-2.1h1m-.6 .4h1m-.9 .6h1m-.7-.3h1m-.9-.7h1m-.9 2.1h1m-.2-1h1m-.6-1h1m-.7 .3h1m-.7-.4h1m-.7 1.3h1m-.4-1.1h1m-.2 .4h1m-.3 .1h1m-16.7 4h1m-.7-1.9h1m-1 1.9h1m0-.7h1m-.9-.1h1m-.4-1.2h1m-.7 .6h1m-.7 .3h1m-.4 1.5h1m-.8-.4h1m-.5 .5h1m-.9-.5h1m-.7-1h1m-.8-.5h1m-.5 .8h1m-.9 1.4h1m-.8-1.7h1m-.8 .4h1m-.6 .5h1m-.9 .1h1m-.9-2.2h1m-.9 1.5h1m-.8 0h1m-1 0h1m-.8-1.6h1m-.6 1.4h1m-.8 .4h1m-.9-.7h1m-.9 1.9h1m-1 0h1m-.8-.2h1m-.6-.6h1m-.8-.2h1m-.4-1.1h1m-.8 .3h1m-1 0h1m-.3-1h1m-1 .7h1m-.6 0h1m-1 1.8h1m-.8-2.7h1m-1 2.4h1m-.8-.3h1m.2-.7h1m-1 .7h1m-.7-.6h1m-.9 0h1m-.9-1.2h1m-.4 .5h1m.5 1.9h1m.3-1.4h1m-.1-.9h1m-18.9 4.6h1m0 0h1m-.8-1.4h1m-.6 .1h1m0 1.1h1m-.3 .3h1m-.4-1.7h1m-1 .6h1m-.9 1.6h1m-.7 .2h1m-.9-.8h1m-.9-1.4h1m-1 .1h1m-1 1.1h1m-.9 .9h1m-.9-2.3h1m-.5 1.3h1m-.9-.8h1m-.8 0h1m-.8 .8h1m-1 .6h1m-.8-.5h1m-.9 .8h1m-.8-1.1h1m-1 1.1h1m-.9-2.1h1m-.7-.1h1m-.6 1.5h1m-.9-.8h1m-.9-.8h1m-.9 .2h1m-.8 0h1m-.8 .4h1m-1 .4h1m-1 1.5h1m-.9-2.4h1m-1 2.3h1m-.2-.2h1m-.3 .4h1m-.6-1.1h1m-.8 .9h1m-.6 .1h1m-.7-1.5h1m-.9 .7h1m-.9-.9h1m-.1 .8h1m-.9-1.3h1m-.6 .2h1m-.7 1.9h1m-.8-1h1m-.9-.4h1m-.9-.1h1m-1 1.5h1m-.7-1.5h1m-1 1.5h1m-.6-2.5h1m0 .1h1m-.5 2h1m-.9-1.7h1m-.9 1.3h1m-17.9 4h1m.7-1.3h1m0-.9h1m-.8 .4h1m-.5 .4h1m-.8-.4h1m-.9 0h1m-.8 1h1m-.2-.9h1m-.6-1.2h1m-1 2.9h1m-.6-2.6h1m-1 2h1m-1-.5h1m-1 .9h1m-.4-.7h1m-.9-.4h1m-1 1.2h1m-.7-2.8h1m-.6 .1h1m-.9 1.6h1m-.9-.5h1m-1 1.6h1m-1 0h1m-.9 0h1m-.9-.8h1m-1 .9h1m-.9-2.2h1m-.8-.1h1m-.6 2.3h1m-.9-1.4h1m-.8-1.5h1m-1 1.1h1m-.9-.1h1m-1 1.3h1m-.4 .7h1m-1-.5h1m-.5-2.2h1m-.8 .7h1m-.6-.7h1m-.9 .1h1m-.8 0h1m-1 1.9h1m-.8-.9h1m-1 .3h1m-.5 1.1h1m-.5-.4h1m-.8-1.2h1m-.5-.2h1m.4 .9h1m-.6-.7h1m-.6-.5h1m-.9 .5h1m-.5 .1h1m-.5 1.3h1m-16.4 3h1m-.4-.9h1m-.5-1.6h1m.4 2h1m-.6-.6h1m-.3 .7h1m-.8 .5h1m-.7-2.5h1m-.7 2.7h1m-.6-2.1h1m-1 1.2h1m-.6 .4h1m-.7-1.4h1m-1 1.2h1m-.8-1.6h1m-.2 1.1h1m-.7 .5h1m-.9-.3h1m-.9 .8h1m-.8-2h1m-1 2.1h1m.5-1.5h1m-.8 1.1h1m-1-.1h1m-.9-2.2h1m-.7 1.1h1m-.5 1.2h1m-.7-1h1m-.9 1h1m0-1.4h1m-.9-.9h1m.4 .2h1m-.9 1.5h1m1.6-.9h1m-17.6 2.6h1m-.3 1.2h1m.2-1.5h1m-.1 .6h1m.4 .8h1m-.2 0h1m-.9-.6h1m-1 1.3h1m-.9-2.3h1m-.5 .7h1m.2-.7h1m-1 2.7h1m-.4-2.5h1m-.5 .4h1m-1 1.1h1m-.8-.2h1m-.8-.6h1m-.7 .3h1m-.6 .1h1m-.9 1.1h1m-.9-1.6h1m-.9 .4h1m-.9 .1h1m-.8-.8h1m-.5 .1h1m-.2 .3h1m-.1-.5h1m-.2-.4h1m-.9 1.6h1m-.9 .8h1m-.2-1.9h1m-.6 2.1h1m-.8-.8h1m-1 1h1m-1-.2h1m-.8-1.8h1m-.8 1.9h1m-.7-.9h1m-.9 1h1m-.8-.2h1m-.8-.5h1m-.6-1.5h1m-1 0h1m-1 1.3h1m-.9-.9h1m-.9 .4h1m-1-.2h1m-1 .7h1m-1 .7h1m-.9-.5h1m-.9-1.5h1m-.9-.1h1m-1 2.3h1m-.9 .1h1m-.9-1.7h1m-1 .7h1m-.9 .8h1m-.9-.8h1m-.9-1.2h1m-.9 0h1m-1 .8h1m-.9-.5h1m-1 .4h1m-1 .6h1m-.9-1h1m-.9 .1h1m-.9 1.3h1m-1-.5h1m-.7-.8h1m-1-.4h1m-.9 .4h1m-.9-.1h1m-.9-.2h1m-1 .4h1m-1-.2h1m-.9 .2h1m-.8-.5h1m-1 .1h1m-.6 0h1m-20.9 3.5h1m-.8 .7h1m-.9-.6h1m-.5 .2h1m-.6 .7h1m.3-1.8h1m.6 .7h1m-1 .5h1m-.5-1.2h1m0 2.2h1m-.7 0h1m-.3-2.6h1m-1 .1h1m-.3 .6h1m-.9 .1h1m-.7 .8h1m-.6-1.3h1m-1 2.3h1m-.9 .1h1m-.9-2.7h1m-.8 .1h1m-.8 1.5h1m-.8-.7h1m-.8 1.3h1m-.3-1.6h1m-1 1.1h1m-.4 1.1h1m.7 0h1m-.7 0h1m-.8-2.8h1m-.1 1.7h1m-.9 .6h1m-.8-.2h1m-1-.7h1m-.8-.2h1m-1 .8h1m-.9 0h1m-1 .3h1m-.9-1.6h1m-.7 .3h1m-1 .9h1m-.8-.9h1m-1 .9h1m-1-.4h1m-.9 1.2h1m-.9-.6h1m-.9-2.1h1m-1 2.1h1m-.7-1.8h1m-1 .8h1m-.9 0h1m-1 1h1m-.9-1.8h1m-1 1.9h1m-.9-1.4h1m-1 0h1m-.9-.3h1m-.8 .3h1m-1 1.2h1m-.6-1.5h1m-1 .3h1m-1 .5h1m-.9-.1h1m-.8-.7h1m-1-.1h1m-1 .3h1m-1-.1h1m-.8-.3h1m-1 .5h1m-1-.2h1m-.9-.3h1m-1 0h1m-.7-.2h1m-.9 .2h1m-.4-.2h1m-18.4 5.1h1m-.8 .3h1m0-.3h1m-.2 .5h1m-.4-2.4h1m0-.2h1m-.3 .8h1m-.9 .8h1m-.6 1.2h1m.4 0h1m-.9-.9h1m-.5-1.8h1m.2 1.4h1m-.4 .2h1m-1-.1h1m-1 .9h1m-.7 .2h1m-.7-2h1m-.9 1.8h1m-.8 0h1m-.7-.7h1m-1 .2h1m-.9 .7h1m-1 .1h1m-.8-1.1h1m-1 .7h1m-.9-1h1m-.9-.8h1m-1 1.5h1m-.7-1.8h1m-1 1.6h1m-.9-.8h1m-.9-.2h1m-1 .8h1m-1-.2h1m-1 1.3h1m-1 0h1m-.9-2.2h1m-1 .5h1m-.9 .8h1m-.9 .3h1m-1-.3h1m-.8 .7h1m-.8-.4h1m-.8-1.7h1m-1 1h1m-.9-1.7h1m-1 0h1m-.9 .3h1m-1 .4h1m-.8 .4h1m-1-.5h1m-1 .2h1m-1 .9h1m-.9-.4h1m-1-.6h1m-1 1.1h1m-.9-.4h1m-1 .8h1m-.8-1.2h1m-.9-.7h1m-.5-.2h1m-1 .1h1m-.9 1h1m-.9-1h1m-1-.2h1m-.9 .3h1m-.3 0h1m-.8 .1h1m-14.8 3.4h1m-.7-.4h1m-.8-.2h1m-.6 .7h1m-.6 1.7h1m-.2-1.8h1m-.9 1.2h1m-.7 .1h1m0-1.5h1m0-.4h1m-.7 .2h1m-.8 1.2h1m-.8 .9h1m-1 .1h1m-.7 0h1m-.6 .3h1m-.9 0h1m-.7-1.3h1m-1 1.3h1m-1-.2h1m-.9-.6h1m-1 0h1m-.9-.4h1m-1 .5h1m-.8-.1h1m-1-.4h1m-.9 1.1h1m-.6-1.8h1m-1 .9h1m-1 1h1m-.9-1.6h1m-.9 0h1m-.9-.1h1m-.9 .1h1m-1 1h1m-.9-1.2h1m-.9-.5h1m-.9 .8h1m-1-.8h1m-.9 .7h1m-1-.3h1m-1 .7h1m-1 .6h1m-.9-1.4h1m-1 1.8h1m-.9-.7h1m-.9-1.8h1m-1 1.4h1m-1 .7h1m-1 .6h1m-.9-2.2h1m-.9 .5h1m-1-.1h1m-1-.6h1m-1 1.3h1m-1 .3h1m-.9-.3h1m-.8 1h1m-.9-1.9h1m-1 1h1m-.9 .5h1m-.9-.4h1m-.8-1.1h1m-.8 1.2h1m-.9-1.9h1m-1 .7h1m-.9 1.2h1m-.9-1.4h1m-1-.2h1m-1 1.7h1m-1-.3h1m-.9-.8h1m-.3-.8h1m-9.4 5.7h1m-.6-.2h1m-.5-.2h1m-.9-.3h1m-1-.8h1m-1 .7h1m-.8 .1h1m-.9-.7h1m-.9 .6h1m-1-.2h1m-1 .7h1m-.6-.4h1m-.9-1.1h1m-1 .1h1m-1 1.5h1m-.9-1.8h1m-1-.2h1m-.9 .1h1m-1 .7h1m-1 1.1h1m-.9-1.3h1m-1 1.1h1m-.9-.2h1m-1-.4h1m-.9-1.4h1m-1 1.9h1m-1 .3h1m-.8-.8h1m-.9 .9h1m-1-.1h1m-.9-.9h1m-.9-.3h1m-.9-1.4h1m-.9 2.9h1m-.9-.6h1m-1 .6h1m-.9-2.9h1m-.9 2.3h1m-.9-1h1m-1 .3h1m-.9-1.6h1m-1 .2h1m-1 2.7h1m-.9-.8h1m-.8-.8h1m-.9-1.4h1m-1 0h1m-.9 0h1m-1 1h1m-.8-.7h1m-1 1.6h1m-.8-1h1m-.9 .4h1m-1-.5h1m-1 .9h1m-.9-.6h1m-.8-1h1m-1-.1h1m-.8 .7h1m-.8-.5h1m-.8 .1h1m-.9 0h1m-.9 .6h1m-8.7 3.9h1m-.9-.2h1m-1 .3h1m-.8 .9h1m-.9-.7h1m-1 .5h1m-1 .2h1m-.9-.8h1m-.9-.5h1m-.9 1.2h1m-.9 0h1m-.9 .2h1m-.9-2.3h1m-1 2.1h1m-.9-1.1h1m-.9 .5h1m-1-.6h1m-.9 1.3h1m-.9-1.5h1m-1-.5h1m-1-.3h1m-.9 .9h1m-1 .8h1m-1-.6h1m-1 .1h1m-.9 .3h1m-.8-1.1h1m-.9-.4h1m-.8 .4h1m-1-.3h1m-1 1.7h1m-1 .6h1m-.9-2.4h1m-.9-.2h1m-1 .5h1m-1 1.4h1m-.9-1.7h1m-1 1.2h1m-.9 .1h1m-.9-.7h1m-1 .9h1m-1 0h1m-1 .5h1m-.6-2.1h1m-1 1.4h1m-.9-.9h1m-1-.1h1m-.9 .8h1m-1 .7h1m-.8-.6h1m-.9-1.4h1m-1 1.9h1m-1 0h1m-.9 .2h1m-.9-1.3h1m-1 .9h1m-.8-1.9h1m-1 1.2h1m-.9-.1h1m-.8-.8h1m-1 .2h1m-.8 .8h1m-.3-1h1m-.9-.1h1m-.6-.2h1m-6.7 3.3h1m-1 .6h1m-1 1.1h1m-1 .3h1m-.8-1.3h1m-1 .9h1m-1 .4h1m-.9-.6h1m-1 .2h1m-1 .5h1m-.9-.4h1m-.8 0h1m-1-.2h1m-1 1h1m-.8-2.9h1m-1 .5h1m-.9-.1h1m-.9-.4h1m-.9 .1h1m-1 1.3h1m-1-.8h1m-.9 0h1m-.9 .2h1m-.9 .2h1m-.9-.2h1m-.8-.8h1m-1 .3h1m-.4 0h1m-.6-.1h1m-.9 .2h1m-3.6 2.8h1" stroke="#000" stroke-width="1" fill="none"/></g>
<g filter="url(#bl)"><path d="M0 0" stroke="#000" stroke-width="1" stroke-opacity="0.6" fill="none"/><path d="M0 0" stroke="#000" stroke-width="1" fill="none"/></g>
<rect x="32.5" y="143.5" width="51.0" height="54.0" stroke="#4a4a4a" stroke-width="1" fill="none"/>
<line x1="56.5" y1="143.5" x2="56.5" y2="197.5" stroke="#4a4a4a" stroke-width="1"/>
<line x1="32.5" y1="171.5" x2="83.5" y2="171.5" stroke="#4a4a4a" stroke-width="1"/>
<text x="31.3" y="202.9" font-family="'Liberation Serif', serif" font-size="3.6" font-weight="bold" text-anchor="start" fill="#333">10</text>
<text x="35.0" y="200.7" font-family="'Liberation Serif', serif" font-size="2.6" font-weight="bold" text-anchor="start" fill="#333">0</text>
<rect x="32.0" y="197.5" width="1" height="1.6" fill="#333"/>
<text x="44.05" y="202.9" font-family="'Liberation Serif', serif" font-size="3.6" font-weight="bold" text-anchor="start" fill="#333">10</text>
<text x="47.75" y="200.7" font-family="'Liberation Serif', serif" font-size="2.6" font-weight="bold" text-anchor="start" fill="#333">1</text>
<rect x="44.8" y="197.5" width="1" height="1.6" fill="#333"/>
<text x="56.8" y="202.9" font-family="'Liberation Serif', serif" font-size="3.6" font-weight="bold" text-anchor="start" fill="#333">10</text>
<text x="60.5" y="200.7" font-family="'Liberation Serif', serif" font-size="2.6" font-weight="bold" text-anchor="start" fill="#333">2</text>
<rect x="57.5" y="197.5" width="1" height="1.6" fill="#333"/>
<text x="69.55" y="202.9" font-family="'Liberation Serif', serif" font-size="3.6" font-weight="bold" text-anchor="start" fill="#333">10</text>
<text x="73.25" y="200.7" font-family="'Liberation Serif', serif" font-size="2.6" font-weight="bold" text-anchor="start" fill="#333">3</text>
<rect x="70.2" y="197.5" width="1" height="1.6" fill="#333"/>
<text x="82.3" y="202.9" font-family="'Liberation Serif', serif" font-size="3.6" font-weight="bold" text-anchor="start" fill="#333">10</text>
<text x="86.0" y="200.7" font-family="'Liberation Serif', serif" font-size="2.6" font-weight="bold" text-anchor="start" fill="#333">4</text>
<rect x="83.0" y="197.5" width="1" height="1.6" fill="#333"/>
<text x="58.0" y="207.0" font-family="'Liberation Sans', sans-serif" font-size="3.0" font-weight="bold" text-anchor="middle" fill="#333">FL1-Height</text>
<text x="29.3" y="199.8" font-family="'Liberation Serif', serif" font-size="3.6" font-weight="bold" text-anchor="start" fill="#333" transform="rotate(-90 29.3 199.8)">10</text>
<text x="29.3" y="186.3" font-family="'Liberation Serif', serif" font-size="3.6" font-weight="bold" text-anchor="start" fill="#333" transform="rotate(-90 29.3 186.3)">10</text>
<text x="29.3" y="172.8" font-family="'Liberation Serif', serif" font-size="3.6" font-weight="bold" text-anchor="start" fill="#333" transform="rotate(-90 29.3 172.8)">10</text>
<text x="29.3" y="159.3" font-family="'Liberation Serif', serif" font-size="3.6" font-weight="bold" text-anchor="start" fill="#333" transform="rotate(-90 29.3 159.3)">10</text>
<text x="29.3" y="145.8" font-family="'Liberation Serif', serif" font-size="3.6" font-weight="bold" text-anchor="start" fill="#333" transform="rotate(-90 29.3 145.8)">10</text>
<text x="25.5" y="170.5" font-family="'Liberation Sans', sans-serif" font-size="3.6" font-weight="bold" text-anchor="middle" fill="#333" transform="rotate(-90 25.5 170.5)">Anti-HLA-DR-PE</text>
<path d="M25.3 140.3h2.6l-1.3 1.8z" fill="#222"/>
<text x="32.3" y="141.5" font-family="'Liberation Serif', serif" font-size="7.25" font-weight="bold" text-anchor="start" fill="#111" stroke="#111" stroke-width="0.15">18</text>
<text x="79.8" y="141.5" font-family="'Liberation Serif', serif" font-size="7.25" font-weight="bold" text-anchor="start" fill="#111" stroke="#111" stroke-width="0.15">1</text>
<text x="32.3" y="210.70000000000002" font-family="'Liberation Serif', serif" font-size="7.25" font-weight="bold" text-anchor="start" fill="#111" stroke="#111" stroke-width="0.15">81</text>
<text x="72" y="210.70000000000002" font-family="'Liberation Serif', serif" font-size="7.25" font-weight="bold" text-anchor="start" fill="#111" stroke="#111" stroke-width="0.15">0.3</text>
<g filter="url(#bl)"><path d="M117.7 144.7h1m5.5 .6h1m-.5-.9h1m3.1 1h1m-.9-.9h1m.3-.4h1m2.7 1.2h1m5 0h1m3-1.2h1m6 1.4h1m-.5-.6h1m-40 3.5h1m1.3-1.9h1m-.8 1.9h1m1.5-.4h1m-.3-1.8h1m.6 1h1m.5-1.3h1m1.1-.2h1m-.1 2.7h1m3.2-1.6h1m3.4-.4h1m-.9 .3h1m2.7-.4h1m-1 1.2h1m1.5-1h1m-1 1.3h1m1.7-.8h1m1.3 .5h1m-.4-1.3h1m.8 2h1m.4 .2h1m-.3-.3h1m-.8-2.3h1m.3 0h1m-1 .6h1m3.1 1.3h1m-42.8 3.2h1m-1 .3h1m6.8-2.5h1m-1 .4h1m-.9 .8h1m-.7-.4h1m.4 1.1h1m-.1-2.1h1m-.6 1.3h1m-.1 .6h1m-.5-1.2h1m-.4-.2h1m4.8 1.5h1m1.3-.4h1m-.6-.8h1m.8-.7h1m.7 1.8h1m.6 .5h1m-1-.2h1m1.2-.2h1m-.7 .3h1m-.3-2h1m-.4 2.4h1m-.8-1.1h1m1.4 1.4h1m-.7-2.4h1m-.8 .4h1m-1 2h1m.1-1.8h1m.3 .6h1m.5 .6h1m.6-1.1h1m1-.4h1m-.1 .1h1m1.8 1.4h1m-45.8 .9h1m1.4 1.5h1m1.7-1.5h1m2 .3h1m11.3 .7h1m.8 1.5h1m1.9-2.4h1m.6 .2h1m4.1-.5h1m2.6 2.2h1m-1 0h1m-.4-1.3h1m-.8 .9h1m-.8-.9h1m-.9 1.7h1m2.1 .2h1m2.1-1.3h1m-47.4 4.2h1m3.9-2.6h1m-.7 2.1h1m1.7-1.4h1m-.7-.7h1m-.6 2.3h1m16.1-2.5h1m12.9 .6h1m-1 1.8h1m-.6 .5h1m1.1-2.8h1m.6 .3h1m0 1.4h1m-.6-1.2h1m2.2 1h1m-49.6 2.7h1m.3 .7h1m-.2 .2h1m.8-.8h1m-.5 .5h1m-.1-1.8h1m34.3 .3h1m.9 .8h1m-.4 .6h1m2.9-1.4h1m-43.9 2.8h1m-.4 1.9h1m1-1.5h1m30.7 1.9h1m-.7-.9h1m.7-.2h1m1.7-.4h1m2.5-.1h1m-.7 2.1h1m.5-3h1m-47.1 4.2h1m-.9-.2h1m.2 1.3h1m-.4-.4h1m-.3-.1h1m-.6-1.7h1m-1 2.1h1m-.9-.6h1m19.2 .9h1m-.4 .2h1m-.7-1.6h1m-1 .5h1m-.6 .8h1m.7-.4h1m-.7-.4h1m.9 .3h1m.6 .5h1m.4-1.1h1m.7-.3h1m-.9 1.5h1m3.1-.8h1m1.3 1h1m3.7-1.9h1m-44.8 2.6h1m-.7 .6h1m-.2 .1h1m-.6 1.8h1m-.3-2.2h1m-.8 .3h1m18.7-.9h1m-.5 .3h1m2 0h1m-1 1.1h1m1.1-.9h1m-.9 .8h1m-.1-1.3h1m-.6 .7h1m-.9 2h1m-.8 .1h1m1-1.8h1m3.7-.2h1m.3-.5h1m8.4 1.9h1m-49.1 1.5h1m.3 1.6h1m.6-1.8h1m16.5 .9h1m.5-.9h1m5 1.6h1m7.4-1.8h1m-38.1 3.3h1m-.2 1.7h1m-.5 0h1m0-.1h1m-.9-1.9h1m-.9 1.8h1m19.1-2h1m-.6 2.6h1m-.4-.6h1m-.7-1.1h1m.6 1.9h1m.7-2.2h1m-.2 0h1m.4 1.8h1m4.5-1.2h1m10.7 .7h1m-45.9 1.4h1m16.3 .9h1m.5-.5h1m-.9 .1h1m-.9 1h1m.1-1.3h1m-.9 1.5h1m-.7-.8h1m-.8 1.5h1m3-.5h1m2.5-1.6h1m3 1.5h1m-34.4 1.6h1m0 1h1m-.9 .4h1m15.7-2.1h1m-.4 2.1h1m1-2.1h1m0 2.3h1m1.2-1.3h1m1.3 .4h1m3.7-1.4h1m5.6 0h1m1.5 .7h1m5.9-.6h1m-47.7 4.1h1m13.8 .5h1m.5-.1h1m-.8-1.1h1m1.6 .3h1m0 1.4h1m-.9-.1h1m.8-.6h1m-.3-1.3h1m1.8 .9h1m5.6 .1h1m-33.1 4.1h1m-.8-1.1h1m-.5-.7h1m.1 2.1h1m-.8-1.5h1m-.7-.7h1m-.9 0h1m-.6 2.3h1m-.8 .1h1m9.1-.4h1m-.2-.9h1m1.3-.7h1m2.1 .2h1m-.4-.5h1m3.5 2.2h1m1.6-1.9h1m10.3 1.5h1m-.3-.7h1m3.8 1.2h1m1-2h1m-47.4 3.9h1m-.3-.2h1m-.4-.7h1m0-.4h1m-.5 .9h1m-.8-1h1m8.5 2.2h1m.1-2.1h1m-.1 1h1m-.2-1.1h1m.3 1.6h1m-1 .8h1m0-1.3h1m-.3-1.2h1m15.1 1.2h1m9.9 1.3h1m-46.6 .8h1m.3-.2h1m-.5 1.5h1m-.6-2h1m9 1.7h1m-.3 1.3h1m-.7-2.8h1m-.7 2.2h1m3.8-.5h1m4.1-1.9h1m-23.7 3.8h1m10.2 .1h1" stroke="#000" stroke-opacity="0.62" stroke-width="1" fill="none"/><path d="M126.8 148.4h1m-.9 0h1m1.6-.3h1m-.1 .2h1m-5.9 2.4h1m-1 .6h1m-.1-.8h1m-.9-1.5h1m-.9 1.5h1m-.8-1.2h1m-1 .8h1m-.5-.7h1m-1 .9h1m-.9 .1h1m-.9-.3h1m-.6-.4h1m-.7 .9h1m-.7-1.4h1m-.9 .2h1m-.9 .7h1m-.9 .7h1m-.4 .3h1m-.9-1.4h1m-1-.3h1m-.4 1.6h1m-.9 .5h1m-.9-2.6h1m-.9 2.5h1m-.8-1.7h1m-11.6 4.5h1m.5-.9h1m-.5 0h1m-.8 .7h1m-.8-.4h1m-.7 .4h1m-.6-2.4h1m-1 2.5h1m-.6-.9h1m-.3-.6h1m1 1.1h1m-.9 .1h1m-.9-1h1m-.9 .7h1m-.8 .7h1m-.9 0h1m-.8-.8h1m-.7-1.6h1m-1 1.5h1m-1 .5h1m-.9-.5h1m-.9-1.3h1m-.9 1.1h1m-.8-.4h1m-.7 .4h1m-.9 .8h1m-1 .3h1m-.5-1.9h1m-1 .4h1m-.9 1.7h1m-.7-.6h1m-.9-.3h1m-.4 0h1m-.6-1.9h1m-.7 1.3h1m-1-.5h1m-.6 1.5h1m-.6 .3h1m4.9 0h1m-.9 .2h1m-.3-1.2h1m-.2 .4h1m-.3 .5h1m-.7-.6h1m-.6 .8h1m.1-.9h1m0 .2h1m-.8-1.2h1m.9 2h1m0-1.3h1m.3 0h1m-.5 .9h1m-30.1 3.3h1m.2-1.9h1m-.7 1.9h1m-.4-2.4h1m-.7-.3h1m-.4 1.8h1m2.2 .1h1m-.8-1.2h1m-1 1h1m-.9 .8h1m-.7-2.5h1m0 2.3h1m-.5-1.3h1m-.9 1.7h1m-.8-1.6h1m-.6 1.3h1m-.8-1.5h1m-.7-.9h1m-.7 2.9h1m-.7-1.3h1m-1 1.3h1m-.9-2h1m-1 .5h1m-.9 .4h1m-.5-.9h1m-1 1.6h1m-.7 .3h1m-.8-2.8h1m-.9 .8h1m-1-.1h1m-1 .7h1m-.9 0h1m-.9 1.5h1m-.9-.2h1m-.4-2.4h1m-.6 .1h1m-1 1.5h1m-.9-.3h1m-.7 1.1h1m-.9-1.9h1m-.6 1.5h1m-.5 .2h1m-.9-1.3h1m-.9-1h1m-.6 1.1h1m-.7-.2h1m-.2-.4h1m-.8 .6h1m1.2-.6h1m1 1.8h1m-.6-2.3h1m.6 2.7h1m-.5-2.8h1m-1 2.2h1m-.3 .3h1m.2-.1h1m-.6-2.2h1m-.8 0h1m-1 .3h1m-.6-.3h1m-.9 .4h1m-1 1h1m-1-.2h1m.2 0h1m-29.3 4.2h1m-1 0h1m.5-.3h1m-.8-1.9h1m-.8-.2h1m-.4 1.1h1m.1 .4h1m-.6-1h1m-.5 .4h1m0 1.3h1m.3-2.5h1m-1 2.2h1m-.8-2.2h1m-.8 2.3h1m-.7-2.2h1m-.7 1.4h1m-.9-1.2h1m-.7-.3h1m-1 2.6h1m-.7-2h1m-.9-.1h1m-.4-.1h1m-.8 .3h1m-.9-.5h1m-.7 .5h1m-.7-.4h1m-.9 .5h1m-1 .3h1m-.9-.7h1m-1 1.5h1m-.9-.8h1m-1 .6h1m-1 1.1h1m-.7-1.1h1m-.6-.5h1m-.9 .4h1m-.8-1.4h1m-.9 2.1h1m-.9-2h1m-.6 1.9h1m-.9-2.2h1m-.5 2.3h1m-.8-2.2h1m-.9 1h1m-1 1.4h1m-.9-2.1h1m-.8 1h1m-.9 1.4h1m-.9-2.7h1m-1 2.4h1m-1 .1h1m-.3-1.6h1m.2 1.7h1m-.4-2.7h1m-.5 2.3h1m-.4-2.2h1m-.9 2.3h1m0-1.1h1m-.4 1.2h1m.2 .3h1m1.5-1.5h1m-1 1h1m-.5-1.1h1m-.7-1.1h1m.4 2.5h1m1.1-.6h1m-.8-1.3h1m.9 .5h1m-.8 1.6h1m-.1-1.8h1m-.8-.4h1m-28.1 3.4h1m-.9 .5h1m-.1-1h1m-1 2h1m-.9-2.4h1m.8 1.9h1m0 0h1m-.1 .7h1m-.9-2.4h1m-.4 .4h1m-.7 1.9h1m-.7-.9h1m-.2-1.7h1m-1 2.9h1m-.9-1.3h1m-.5-.6h1m-1 .7h1m-.6 .1h1m-1-.1h1m-.3-.2h1m-.9 .6h1m-.8 .7h1m-.9-1.9h1m-.9-.6h1m-1 .4h1m-.8-.2h1m-1 .5h1m-.9 0h1m-1 1.6h1m-.9-1.7h1m-1 1.8h1m-.8-2.4h1m-.9-.4h1m-.9 .8h1m-.7 .5h1m-.2 .7h1m-1 .8h1m-.9-2.1h1m-1 1.3h1m.4-1.9h1m-1 1h1m-.8 .9h1m-.5 .3h1m-.9-1.3h1m-.8 .4h1m.5-1.4h1m-.4 1.4h1m-.7-.7h1m-.7 2.3h1m1-2.2h1m-.8 .2h1m-1-.4h1m0 1.8h1m.3 .2h1m.3-.4h1m-.8 .4h1m.2 .1h1m-.1-2.7h1m-.6 .2h1m-.7-.1h1m-31.2 4.6h1m-.5-.6h1m.1-.1h1m-.9 .3h1m-1 .8h1m-.4 .6h1m-.3-.8h1m1.7-.2h1m-.8 1h1m-.5-.7h1m-.4-.7h1m-1 .6h1m-1-.1h1m-.6 .1h1m-.6-1.6h1m-.9 .5h1m-1 1.2h1m-.8 .1h1m-.1-1.4h1m-.4 1.9h1m-.4-.1h1m0-1.6h1m-.3 .1h1m-.9-.3h1m-1 1.3h1m-.8-.6h1m-.9 .4h1m-1 .8h1m-.9-1.1h1m-.8-.3h1m-1 1.6h1m-.6-.7h1m-.8 .2h1m-.4 .3h1m-1 0h1m-.8-.4h1m-.9-1.3h1m-.7 0h1m-.8 1.2h1m-.9-1h1m-1 1.4h1m-.9-1.4h1m-1 1.5h1m-.8-2.3h1m-1 .3h1m-1 0h1m-.8 .7h1m-1-.1h1m-.8-.6h1m-1 1.5h1m-.5 .1h1m-.8-1h1m-.9 0h1m-.9-.9h1m-1 .6h1m-.4-.3h1m-.1-.1h1m5.5-.3h1m0 0h1m.4-.1h1m-.1 .2h1m-29.9 5.7h1m-.2-2h1m-.9-.5h1m-.2 1.4h1m-.7 .9h1m-.9-.9h1m-.7 1h1m-.7 .1h1m-.2 0h1m-.9-2.5h1m-.7 1.6h1m-.8-1.4h1m-.4 .2h1m-.2 1.2h1m-.8 .8h1m-.9-1.6h1m-.8-.9h1m-1 .8h1m-1 .6h1m-1 .5h1m-.9 .4h1m-.4-1h1m-.5 .3h1m-.6-1.6h1m-.6 1.4h1m-.9 .3h1m-.8-.1h1m.2-.4h1m-.4-.5h1m-.5-.4h1m-.3 .4h1m-.3 .6h1m-.9-1.3h1m-1 1.4h1m-.9-1.2h1m-.9 .4h1m-.9 1.2h1m-.8-1.2h1m-.7-.7h1m-.9-.3h1m-1 2.2h1m-.9 .4h1m-.7-2.6h1m-1 1.3h1m-.8 1.6h1m-.4-2.2h1m-.9 1.4h1m-1 .7h1m-.8-2.5h1m-.9 2.1h1m-.6-1.6h1m-.9 1.8h1m-.7-1.8h1m-1 .2h1m-1 1.8h1m-.9-2.6h1m-1 2.4h1m-.9-1.6h1m-1 1.8h1m-.4-2.4h1m-1 1.4h1m-.7-1.1h1m-1 .5h1m-.9 1.4h1m-.6-2.2h1m-.7 1.4h1m-.8-.7h1m-.4-.8h1m-19.8 4.2h1m-1 .1h1m-.2-1.5h1m-.7 2.7h1m.3-1h1m.7-1.7h1m-.1 2.8h1m1-2.3h1m-.7 1.5h1m-.2 .7h1m-1-.2h1m-.4-.8h1m-.5 1.1h1m-.8-1.1h1m-.5-.4h1m-1 .5h1m.1-1.4h1m-.9 2.3h1m-.4-.2h1m-.7-1.1h1m-.8 1.4h1m-.9-2.7h1m-.9 1.5h1m-1-.1h1m-.6 1.1h1m-.9-2h1m-1 1.6h1m-.6 0h1m-.6-1.9h1m-1 2h1m-.4-1h1m-.9-1.3h1m-1 2.3h1m-.7-1.1h1m-.9-.9h1m-.7 1.9h1m-.1-1h1m-17.3 2.3h1m.4 1.2h1m.6 .4h1m-.9-2h1m-.6 2.4h1m-.8-1.7h1m-.6 1.3h1m-.9-1.8h1m-.7 .7h1m.4 .9h1m-.9-.7h1m-.3-1h1m-1 1.5h1m-.6-.3h1m-.9-.8h1m.2 .2h1m-.5 .3h1m-.9 .4h1m-.6 .5h1m-.9-1.2h1m-.6 .3h1m-1-.7h1m-.9 1.2h1m-1 .8h1m-.9 .3h1m-.9 .1h1m-.9-.3h1m-.6 .2h1m-1-.3h1m-.9-.4h1m-1-.4h1m-.7-.4h1m-.8 1h1m-1 .3h1m-.8-2.2h1m-1 2h1m-1 .1h1m-.9 .3h1m-1 .1h1m-.9-2.3h1m-1 1.7h1m-.9-2.2h1m-.6 .8h1m-1 2.1h1m-.9-2.3h1m-.9 2.3h1m-.9-1.9h1m-.8 .2h1m-.9 .6h1m-1 .9h1m-.8-2.2h1m-1 .5h1m-.9-.4h1m-.9 1.6h1m-1 .4h1m-.8-1.1h1m-.9 1.4h1m-.9-.5h1m-.7-.6h1m-.5 1h1m-.4-.6h1m-.3-.1h1m-.8-1.1h1m-1 1.3h1m-1 .4h1m-1-.1h1m-.9-1.9h1m-1 0h1m-.9-.2h1m-.9-.1h1m-.9 2.3h1m-.9-2h1m-.3 1.5h1m-18.6 3.5h1m-.5-2.1h1m-.7 .6h1m-.2 1.4h1m-.7-1.4h1m.6 1.1h1m-.6 .4h1m-.7-1.8h1m-.7 0h1m-.4 1.1h1m-.5-1.9h1m-1 2.5h1m-.8-.9h1m-.8-.6h1m-.6-.6h1m-.8-.2h1m-.9 .3h1m-.1-.5h1m-1 1.4h1m-.4-1.5h1m-.9 1.1h1m-1-.1h1m-.9 1h1m-.9-2h1m-.8 2h1m-.9-.5h1m-1 .6h1m-.9 .1h1m-.9 .6h1m-.9-.1h1m-.9-1.2h1m-.9 1.2h1m-.9-2.5h1m-1 .7h1m-1 .6h1m-1 .9h1m-.9-1.8h1m-1 1.8h1m-.8-1.1h1m-1-.4h1m-.9 .1h1m-1 .3h1m-.9-.6h1m-1-.2h1m-1 1.4h1m-.8-.9h1m-.9 1.3h1m-.8-2h1m-1 .6h1m-1-.3h1m-.8-.3h1m-.9 1.8h1m-1 .4h1m-.9-.6h1m-.9-.3h1m-.9-1.3h1m-.9 .4h1m-1 1.8h1m-.9-1.6h1m-1-.1h1m-1 .6h1m-1 1.2h1m-.9-1.8h1m-1-.2h1m-.9 1.5h1m-.9 .1h1m-.9-1.3h1m-1 .2h1m-.8-.1h1m-.7 .1h1m-1-.4h1m-1 .6h1m-.9-.3h1m-.8-.1h1m-.9-.7h1m-.8-.1h1m-1 .4h1m-.9 .7h1m-.9-1h1m-1 1.6h1m-.7-1.3h1m-.5 1.4h1m-.5 .1h1m-.8-1.9h1m-.7-.1h1m-1 2.1h1m-.9 .4h1m-.6-2.5h1m-1 1.8h1m-.8-1.2h1m-1 .1h1m-1-.3h1m-.9 1h1m-.8 .8h1m-.9-1.7h1m-.7-.2h1m-1 1.2h1m.1-1.3h1m-18.4 2.7h1m-.1 1.7h1m-.7-.8h1m-.1 .9h1m-1-.3h1m-.2-.2h1m-.9 .9h1m-.9-1.4h1m-.6 1.8h1m.1-.4h1m-.4-1.4h1m-.7 1.4h1m-.4-2.1h1m-.9 1.3h1m-.9-.2h1m-.9-.2h1m-.5-.4h1m-.8-.5h1m-.8 2.4h1m-1 .3h1m-.7-2h1m-.9 2h1m-1 0h1m-.9 .1h1m-.8-.1h1m-.8-1.5h1m-1 1.3h1m-.8-1.6h1m-1 .9h1m-.8 .4h1m-.9-.9h1m-1-.5h1m-1 1.6h1m-.8-1.9h1m-.9 .1h1m-.9 .6h1m-1-.7h1m-.8 1.5h1m-.7 .6h1m-.9-1.8h1m-.9 1.1h1m-.9-1.3h1m-.9 1.6h1m-.9-1.6h1m-.9-.3h1m-.9 .5h1m-.9-.7h1m-1 2h1m-.8-.2h1m-.8-1.8h1m-1 1.2h1m-1 1.6h1m-.8-2.1h1m-1 .4h1m-.8-.7h1m-.9 .2h1m-.9-.8h1m-1 .8h1m-.8-.6h1m-1 .3h1m-.5-.1h1m-.7 1.3h1m-.9-1.5h1m-.9-.2h1m-1 2.6h1m-.9-2.5h1m-1 2.3h1m-.4-.8h1m-.6-1.3h1m-1 2.1h1m-.6-.3h1m-.7-2h1m-1 1.4h1m-.7-1.2h1m-1 .9h1m-.6-.9h1m-15.4 3.7h1m.7 1.6h1m-.8 .1h1m-.8-2.2h1m-.8 1.7h1m.5 .7h1m-.7-2h1m-1 .1h1m-.7 .5h1m-.5-.7h1m-1 1.2h1m-1 .5h1m-.9 .3h1m-.8-2.1h1m-1-.1h1m-1 1.2h1m-.9-1.6h1m-1 1.8h1m-.8-1.5h1m-1 .1h1m-.8 1.7h1m-1-.1h1m-.9-1.8h1m-.9 0h1m-.7 1.2h1m-.8-.8h1m-.9 .1h1m-.9 1.1h1m-.9-.8h1m-1 .2h1m-1 .2h1m-.8-1.1h1m-1 1.1h1m-1 1.2h1m-.9-2.3h1m-1 0h1m-1 1.4h1m-.8-.3h1m-.9-1.5h1m-.9 .7h1m-.9 .4h1m-.8 1.3h1m-.9 0h1m-.9 0h1m-.9-1.6h1m-1 .4h1m-.9-.9h1m-1 .5h1m-.5 .5h1m-1-.4h1m-.9 1.6h1m-.6 .1h1m-.9 0h1m-.9-1.6h1m-1 .8h1m-.4-.8h1m-1 .4h1m-.8 .3h1m-.5-1.7h1m-.9 .1h1m-1 1.3h1m-1 .7h1m-.6-2.1h1m-.9 2.1h1m-.9 0h1m-.8-2h1m-1 .3h1m-1 1.4h1m0-1.2h1m-.8-.1h1m-12.5 3.1h1m-.6-.1h1m-.1-.6h1m-1 2h1m-.8 .4h1m-.3-1.5h1m-1 2.1h1m-.9-2.4h1m-1 .3h1m-.9 1h1m-.9 .9h1m-.7-1.7h1m-.7 1.9h1m-.9-1.7h1m-1-.6h1m-.6-.1h1m-1 2.2h1m-.9-1.9h1m-.7-.2h1m-.8 .5h1m-1 .6h1m-1-.3h1m-.9 .9h1m-1-.1h1m-.8-1.7h1m-.8 2.4h1m-.8-.6h1m-.7-1.6h1m-.9 1.8h1m-.6-2.5h1m-1 1.3h1m-1-.7h1m-.8-.2h1m-.8 .8h1m-.9-1.2h1m-1 .6h1m-.4-.1h1m-.8 1.3h1m-.9 1h1m-.9-2.6h1m-1 2.3h1m-.9-.8h1m-.9-.1h1m-.9 .2h1m-.8-1.7h1m-1 2.8h1m-.9-.2h1m-.6 .1h1m-.7-2.5h1m-.8 0h1m-.9 0h1m-.5-.4h1m-1 1h1m0-.9h1m-11.5 4.8h1m-.5-1h1m-.7 .2h1m-.9 1.1h1m-.8-.6h1m-.7 .1h1m-.9-1.1h1m-1 1h1m-1 .8h1m-.9-.6h1m-.8 .8h1m-.7-.3h1m-.7-2.2h1m-1 .8h1m-1 1.3h1m-.8-1.5h1m-.9-.1h1m-.8 .2h1m-.5 1h1m-.9 .5h1m-.9-2.1h1m-.5 .9h1m-.9 .3h1m-1 0h1m-.9-.1h1m-.8 .4h1m-.9 .2h1m-.7 1h1m-.9-2.3h1m-1 1.1h1m-.4-.3h1m-1-.1h1m-.7-.9h1m-.9 1.7h1m-.7-1.8h1m-.9 .1h1m-.8 .4h1m-.9 1.9h1m-.9-1.4h1m-.4-.3h1m-.8-.4h1m0-.2h1m-12.5 5.2h1m-.8 .1h1m-.8 .3h1m-.1-.3h1m-.8-.3h1m-.7-1.8h1m-1 .6h1m-.9 .8h1m-.9-.6h1m-.9 .2h1m-.9-.8h1m-1 1.8h1m-.9-1.3h1m-.9 1.4h1m-.9-2.7h1m-.8 2.7h1m-.8-1.7h1m-1 1.1h1m-.9-2h1m-.7 1.6h1m-.8 1.1h1m-.9-1.8h1m-.8-.6h1m-.7-.4h1m-.9 1.8h1m-.9 1.2h1m-.7-2.2h1m-1 1.6h1m-.6-1.5h1m-.9 1.4h1m-.7-.2h1m-.9-1.4h1m-.9 1.2h1m-1 .4h1m-.8 0h1m-.8-.2h1m-.7-.8h1m-1 1.5h1m-.9-.6h1m-.9-1.8h1m-.9 .4h1m-.5 1.2h1m-.8-1.8h1m-.9-.2h1m-1 .6h1m-.7 .8h1m-.1 .9h1m-9.5 .9h1m-.8 .2h1m-.8-.1h1m-.2-.1h1m.1-.1h1m.6 0h1m-1 .5h1m-.6 .5h1m-.9-.7h1m-.5 1h1m0-1.1h1m-.8 .5h1m-.8 .6h1m-1-.3h1m-.8-.7h1" stroke="#000" stroke-width="1" fill="none"/></g>
<g filter="url(#bl)"><path d="M0 0" stroke="#000" stroke-width="1" stroke-opacity="0.6" fill="none"/><path d="M0 0" stroke="#000" stroke-width="1" fill="none"/></g>
<rect x="107.5" y="143.5" width="56.0" height="53.0" stroke="#4a4a4a" stroke-width="1" fill="none"/>
<line x1="133.5" y1="143.5" x2="133.5" y2="196.5" stroke="#4a4a4a" stroke-width="1"/>
<line x1="107.5" y1="171.5" x2="163.5" y2="171.5" stroke="#4a4a4a" stroke-width="1"/>
<text x="106.3" y="201.9" font-family="'Liberation Serif', serif" font-size="3.6" font-weight="bold" text-anchor="start" fill="#333">10</text>
<text x="110.0" y="199.7" font-family="'Liberation Serif', serif" font-size="2.6" font-weight="bold" text-anchor="start" fill="#333">0</text>
<rect x="107.0" y="196.5" width="1" height="1.6" fill="#333"/>
<text x="120.3" y="201.9" font-family="'Liberation Serif', serif" font-size="3.6" font-weight="bold" text-anchor="start" fill="#333">10</text>
<text x="124.0" y="199.7" font-family="'Liberation Serif', serif" font-size="2.6" font-weight="bold" text-anchor="start" fill="#333">1</text>
<rect x="121.0" y="196.5" width="1" height="1.6" fill="#333"/>
<text x="134.3" y="201.9" font-family="'Liberation Serif', serif" font-size="3.6" font-weight="bold" text-anchor="start" fill="#333">10</text>
<text x="138.0" y="199.7" font-family="'Liberation Serif', serif" font-size="2.6" font-weight="bold" text-anchor="start" fill="#333">2</text>
<rect x="135.0" y="196.5" width="1" height="1.6" fill="#333"/>
<text x="148.3" y="201.9" font-family="'Liberation Serif', serif" font-size="3.6" font-weight="bold" text-anchor="start" fill="#333">10</text>
<text x="152.0" y="199.7" font-family="'Liberation Serif', serif" font-size="2.6" font-weight="bold" text-anchor="start" fill="#333">3</text>
<rect x="149.0" y="196.5" width="1" height="1.6" fill="#333"/>
<text x="162.3" y="201.9" font-family="'Liberation Serif', serif" font-size="3.6" font-weight="bold" text-anchor="start" fill="#333">10</text>
<text x="166.0" y="199.7" font-family="'Liberation Serif', serif" font-size="2.6" font-weight="bold" text-anchor="start" fill="#333">4</text>
<rect x="163.0" y="196.5" width="1" height="1.6" fill="#333"/>
<text x="135.5" y="206.0" font-family="'Liberation Sans', sans-serif" font-size="3.0" font-weight="bold" text-anchor="middle" fill="#333">EGFP</text>
<text x="104.3" y="198.8" font-family="'Liberation Serif', serif" font-size="3.6" font-weight="bold" text-anchor="start" fill="#333" transform="rotate(-90 104.3 198.8)">10</text>
<text x="104.3" y="185.55" font-family="'Liberation Serif', serif" font-size="3.6" font-weight="bold" text-anchor="start" fill="#333" transform="rotate(-90 104.3 185.55)">10</text>
<text x="104.3" y="172.3" font-family="'Liberation Serif', serif" font-size="3.6" font-weight="bold" text-anchor="start" fill="#333" transform="rotate(-90 104.3 172.3)">10</text>
<text x="104.3" y="159.05" font-family="'Liberation Serif', serif" font-size="3.6" font-weight="bold" text-anchor="start" fill="#333" transform="rotate(-90 104.3 159.05)">10</text>
<text x="104.3" y="145.8" font-family="'Liberation Serif', serif" font-size="3.6" font-weight="bold" text-anchor="start" fill="#333" transform="rotate(-90 104.3 145.8)">10</text>
<text x="100.5" y="170.0" font-family="'Liberation Sans', sans-serif" font-size="3.6" font-weight="bold" text-anchor="middle" fill="#333" transform="rotate(-90 100.5 170.0)">Anti-HLA-DR-PE</text>
<path d="M100.3 140.3h2.6l-1.3 1.8z" fill="#222"/>
<text x="109.7" y="141.5" font-family="'Liberation Serif', serif" font-size="7.25" font-weight="bold" text-anchor="start" fill="#111" stroke="#111" stroke-width="0.15">23</text>
<text x="146" y="141.5" font-family="'Liberation Serif', serif" font-size="7.25" font-weight="bold" text-anchor="start" fill="#111" stroke="#111" stroke-width="0.15">9</text>
<text x="108.3" y="211.4" font-family="'Liberation Serif', serif" font-size="7.25" font-weight="bold" text-anchor="start" fill="#111" stroke="#111" stroke-width="0.15">67</text>
<text x="153.3" y="211.4" font-family="'Liberation Serif', serif" font-size="7.25" font-weight="bold" text-anchor="start" fill="#111" stroke="#111" stroke-width="0.15">1</text>
<g filter="url(#bl)"><path d="M198.7 145.2h1m-.3-.8h1m.7 .4h1m0-.2h1m.1 .3h1m.7-.1h1m2.2-.3h1m1.4 .1h1m-.5 .3h1m-.7 .6h1m-20.7 2.8h1m4-1.3h1m-.3-.5h1m4.2-.3h1m.8 1.5h1m-.5-1.1h1m-.4-.5h1m-.5 2h1m4.5-1h1m-.9 .1h1m-.7-.9h1m-.6-.7h1m-.2 1h1m-.9-.4h1m1.3 .5h1m1.5 .6h1m2-1.4h1m9.6 1h1m-.2-.4h1m-.2 1.3h1m-.8 .2h1m-.8 0h1m.8-1.6h1m-45.9 3.9h1m1.4 1.2h1m.6-2.1h1m3.8 .9h1m.3 1h1m-.9-2.3h1m-.7 1.7h1m-.8 .4h1m-.8-.3h1m1.1-2h1m.4 1.1h1m-.8-1.4h1m-.2 1.4h1m4.1 1.2h1m-.8-2.5h1m1.8 2.9h1m2-.1h1m7.5-1.4h1m.2-.2h1m.3-.1h1m.1 1.6h1m3.5 0h1m.3-1.6h1m-.5 .4h1m-41.6 1.5h1m-.9 1.1h1m1.7-.4h1m-.9 .7h1m-.8 .1h1m-.7 .5h1m.2-.4h1m-.8-.1h1m.3-1.5h1m-.9 .9h1m7.2 1.6h1m-.4-.6h1m-.8 .7h1m-1-.2h1m-.5-.4h1m-.7-.9h1m.9 1.1h1m.3 .5h1m-.9-1.7h1m-.5 1.5h1m0-.5h1m-.6-2h1m3.4 1.2h1m-.9-1.2h1m.3 1.5h1m-.4-.6h1m-.5-.1h1m-.7 .3h1m-.6-.5h1m-.3 .3h1m-.9 1.9h1m0-.9h1m-.6-.6h1m-.6 0h1m5.5-.2h1m-.7 .1h1m-37.6 1.9h1m1.9 .2h1m10.9 2.5h1m1.6 0h1m.2-1.6h1m-.5-1.3h1m-.7 1.9h1m-.3-.5h1m3.6 1.2h1m0-1.4h1m.5-.5h1m-.6 1.7h1m-.3-2.2h1m-.9 1.1h1m0 1.3h1m.4-1.3h1m-.9-.7h1m-.8 1.8h1m-.2-2h1m.3 .9h1m.6 1.7h1m1.3-3h1m-.2 1.3h1m-.8-.7h1m-42.8 3.1h1m1.6 1.6h1m.7-.3h1m11.3-1h1m-.5 .7h1m2.8-1.3h1m-.4 .1h1m2.3-.4h1m1.2 1.5h1m.8 1.2h1m-.7-.7h1m-.8-.4h1m.6-.6h1m-1-.6h1m-.6 2.4h1m.5-1.9h1m1.6-.3h1m.7 .5h1m-.9 1.3h1m-.6-1.4h1m-.4 .7h1m.9-.7h1m-43.9 4.7h1m1.4-1.7h1m-.9-.5h1m.6 .8h1m-1 0h1m-.8-1.2h1m13.5 2.3h1m-.9 .2h1m-.5-1h1m.3 .1h1m-.3 .3h1m3.1 .1h1m2.2 .7h1m.4-2.6h1m-.7 .9h1m2.2 1.5h1m1 .1h1m.4-.1h1m-.4-.6h1m-.9 .3h1m.1-1.2h1m-.9 1.3h1m2-2.2h1m-42.9 4.4h1m2 .9h1m-.8-1.2h1m-.6-.4h1m-.9-.2h1m13.6 .7h1m-.8 .6h1m-1 .6h1m-.4-2h1m1.6 1.1h1m-.8-1.2h1m.6 1.6h1m.4-.8h1m.2-1.3h1m-.2 1h1m.5 .1h1m1.8 1.3h1m4.4-.5h1m-.5 .9h1m2.4-2.3h1m3.4-.1h1m-46.5 4.4h1m-.9 .7h1m1.2-.3h1m-.5-.9h1m14.7 1.2h1m-.2-.2h1m-.8-.3h1m2.1-2.1h1m0 2.2h1m-.2-2.2h1m4.5 1.6h1m-.4 1h1m-.9-2.5h1m-1 .2h1m-1 1.9h1m1.6 .1h1m-.9 .6h1m3.2-1.7h1m-38.3 4.5h1m.1-.9h1m-.6 .5h1m-.3-1.1h1m14.9 .9h1m-.3-1.5h1m2.1 2.2h1m4.4-.4h1m3.4-1.7h1m4.2 2h1m.1-2.3h1m.6 1.7h1m.7-1.8h1m-41 3.7h1m-.8 .1h1m-.7-1h1m12.8 2.1h1m-.4-1.2h1m-.2-.7h1m.4-.3h1m6.3 2.1h1m.1-1h1m1 .3h1m5.9-1.3h1m-.3 1.3h1m0 .7h1m1.6 .6h1m-40.3 .4h1m-1 2.3h1m11.9-.5h1m2.5-.9h1m1-.1h1m1.4-.7h1m2.2 .9h1m2.9-1h1m1.8 2.5h1m2.3-1.2h1m-.7-.9h1m.8 1.2h1m1.7 .4h1m2.5-1.9h1m-44.2 4.4h1m-.3-1h1m-.6 .7h1m9.9 .5h1m-.6-.3h1m-1 .3h1m-.9-.2h1m.1-1.2h1m-1 1.2h1m2.8 0h1m-.2 1.2h1m4.3-1.2h1m1.8 1.1h1m3.6-1h1m-.7 .1h1m-.5-1h1m-1 .5h1m.2-.7h1m1.6 1.6h1m1.8-2h1m-.3 1.1h1m-.6 1h1m.6-.3h1m-.3 .4h1m-.4-.8h1m-43.5 2.1h1m-.5 .1h1m-.7 1.3h1m-.9-1.2h1m-.7-.3h1m.7 1.5h1m-.2 .4h1m7.9 .1h1m.2-.5h1m0-.1h1m-.9-.6h1m-.8-.2h1m1.1-.7h1m8.4-.1h1m.8 1.2h1m1.7-1.5h1m9.2 .1h1m.6 1h1m-1 .6h1m.4 .2h1m-44.8 2.7h1m-.8 .7h1m.5 0h1m-.4-1.1h1m0 .3h1m-.7-.5h1m.1 1.8h1m-.9-.7h1m-.9-1.5h1m-1 1h1m5 .6h1m-.1-.4h1m-.5-1.5h1m4.7 .4h1m5.6 1h1m0 1.1h1m-.9-2.8h1m-.5 2.2h1m-.8-1.4h1m-.8-.8h1m-.3 2.3h1m15.7-.6h1m-45.3 3.3h1m.5-1.6h1m-.3 .9h1m.3 .7h1m-.8-1.4h1m-.6 1.2h1m-.8 .1h1m-.8-.1h1m-.9-1.1h1m3.7 1.8h1m-.5-2.2h1m-.6-.3h1m-.9 .7h1m1.1 1.5h1m-.7-1.4h1m6.5-.2h1m4.8 1.6h1m-.3-1.7h1m-26.1 4.2h1m.3-1.7h1m-.7 2.7h1m5.3-2.5h1m0 1.5h1m.4-.5h1m.1 1.6h1m.5-2.7h1m7.3 2.7h1m1.4-.2h1m2.1 .1h1m-.1-1.1h1m2.3 1.2h1m4.2-.6h1m-.3 .2h1m-.1-1.7h1m-1 1.7h1m2.2-2h1m2.4 2.2h1m-31.4 1.5h1m13.8 .1h1m-.6-.7h1m-.2-.2h1m1.7-.1h1m-.7 .3h1m1.8 .8h1m1.3-.2h1m.6 0h1" stroke="#000" stroke-opacity="0.62" stroke-width="1" fill="none"/><path d="M207.2 148.4h1m-.6-1.3h1m-1 .7h1m-.4-.5h1m-.7-.1h1m-.9 .3h1m-.5 .1h1m.3-.2h1m-.9 .5h1m-6.9 3.5h1m.2 0h1m-.5-1.4h1m-.5 1h1m-.6-.8h1m-1 1h1m-.8-1.4h1m-.9 .9h1m-.9-.1h1m-.8-.7h1m-.7-1.1h1m-.9 0h1m-.9 2.4h1m-.9 .2h1m-.7-1.4h1m-1 .5h1m-.9-.8h1m-.4-.8h1m-1 .8h1m-.2-1.1h1m-.7 .3h1m-10.1 5h1m1 .3h1m.3-2.5h1m.3 1.4h1m-.6 .8h1m-.8-2.1h1m-1 .8h1m-.8 1.4h1m-.7-1.2h1m-1 .3h1m-1 1.1h1m-.7-.4h1m0-2.2h1m-1 2.7h1m-.5-1.7h1m-11.7 4.5h1m.1 .3h1m-.5-1.6h1m.2-.5h1m1.8 1.5h1m-.7 .6h1m-.3-2.6h1m-.8 1.6h1m-1 1.1h1m-.9-1.7h1m-1-.6h1m-.7 1.7h1m-.9-2.4h1m-.7 .1h1m-.9 2.9h1m-.6-.7h1m-.9-1.7h1m-1 0h1m-1 .2h1m-1 .4h1m-.9 .5h1m-.9-.1h1m-.9-.6h1m-.8-.3h1m-.9 2.1h1m-.8-1.5h1m-.9 .3h1m-.8 .5h1m-.9-.2h1m-.8-.9h1m-.9 .1h1m-.9 .1h1m-.9 .5h1m-.9-.8h1m-1 1h1m-.8-1.9h1m-12.3 5.3h1m.6-1.9h1m-.3 1.4h1m-1 1.1h1m.2-.3h1m-.4-1.5h1m-.7 1.8h1m-.9-.8h1m-1 .8h1m-.4-.1h1m-.4 0h1m-.7-1.6h1m.2-.6h1m-.9 1.9h1m-.9-2.3h1m-1 2.3h1m-.9 .2h1m-1 0h1m-1 .1h1m-.9-.9h1m-.9 .9h1m-.7-1.4h1m-1 1h1m-.9-1.4h1m-.5 .8h1m-.8 .5h1m-.7 .3h1m-.9-.7h1m-.8-1h1m-.8-.6h1m-.9 .8h1m-.5-.8h1m-.9 1.3h1m-1 .1h1m-.9-1.3h1m-.9 .2h1m-1 .6h1m-1-.7h1m-1 .6h1m-.9 1.3h1m-.8-.3h1m-.2-.7h1m-13.5 2.5h1m-.8-.7h1m.1 2.5h1m.2-.9h1m-.9 .5h1m-.7-1.1h1m-1 1.7h1m-.8-1.2h1m-.8 .6h1m-.6-.9h1m-.8-1h1m-.5 2.4h1m-.7 .1h1m-.5-2.5h1m-.9-.3h1m-.3 .9h1m-1-.3h1m-.9-.5h1m-.6 .6h1m-.4 .8h1m-.9-.5h1m-.9 1.8h1m-.8-2.8h1m-.9 1.8h1m-.9 0h1m-.8-1.6h1m-.8 1.6h1m-.9-1.1h1m-.9 .6h1m-.6 .8h1m-.6-1.3h1m-.7 1.4h1m-.9-1.3h1m-.3-.4h1m-1 1.1h1m-.8-.4h1m-.9-.7h1m-.9 2h1m-1 0h1m-.9-1.3h1m-.7-.1h1m.1-.9h1m-.8 .1h1m-15 3.6h1m.5 1h1m-.8-.4h1m.1 .5h1m-.5-1.5h1m-1 2.1h1m-.8-2.2h1m-.4-.3h1m-.2 1.6h1m0-1.4h1m-.9 2.5h1m-.7-.1h1m-.9-.4h1m.4-1.1h1m-1-.6h1m-1 1.3h1m-.9-.5h1m-.7-.5h1m-.8 1.4h1m-.8-1.5h1m-.8-.2h1m-.6 .5h1m-.9 1.7h1m-.7-1h1m-.4-1.3h1m-.4-.3h1m-1 .5h1m-1 1.2h1m-.9-1h1m-.9-.6h1m-.7 1.9h1m-.9-.3h1m-.1 .8h1m-14.5 2.6h1m-.9-1.7h1m-.3 .2h1m-.7-.9h1m.4 .3h1m-1 1.4h1m.1-1.7h1m-.4 2.4h1m-.7-1.1h1m-.6 .5h1m-.8-1.5h1m-.9 .1h1m-.6 .6h1m-.4 .7h1m-.9 .1h1m-.8-1.2h1m-.3-.2h1m-.2 1.4h1m-1 1h1m-.5-.6h1m-.6 .2h1m-.6-.4h1m-.9-.7h1m-.9-1.1h1m-.6 1.2h1m-.8 .2h1m-.8-.4h1m-.8-1h1m-.9 .2h1m-1 .9h1m-.8 1h1m-1-.4h1m-.9-.1h1m-.8-1.4h1m-1 0h1m-.9 .2h1m-.9 .8h1m-1 1.3h1m-.9-1.4h1m-1 .7h1m-1 1h1m-.9-.9h1m0 .1h1m-.2-1.7h1m-.7-.3h1m-14 5.6h1m1-.9h1m-.3 1h1m-.9-1.8h1m-.8 1.1h1m-.6-.3h1m-.9-.1h1m-1 .8h1m-.8-.5h1m-.5 .2h1m-.5-2h1m-.1-.2h1m-.5 2.6h1m-.8 0h1m-.9-.3h1m-.9-.3h1m-.9-.2h1m-1 0h1m-.8 .5h1m-.9-.1h1m-1-.2h1m-.9-1.7h1m-1 .2h1m-1 2.1h1m-.9-.7h1m-.9 0h1m-.8-.1h1m-.9-1.2h1m-1 1.3h1m-.9 0h1m-.9-1.5h1m-1 1.2h1m-1 .4h1m-.9-.3h1m-1 .5h1m-1-.7h1m-.9 .7h1m-1 .3h1m-.9-2.2h1m-1 1.7h1m-.9 .7h1m-.9-1.4h1m-1-.8h1m-1 2.3h1m-.8-2.3h1m-1 1.2h1m-.9 1.1h1m-.9-.3h1m-.9-.4h1m-.8-.7h1m-1 .7h1m-.9 .2h1m-1-.6h1m-.9 .6h1m-.9-.8h1m-.9 0h1m-1 .4h1m-.8-1.7h1m-.9 2h1m-1 .2h1m-.9-1.9h1m-1 1.3h1m-1-.1h1m-.8-.5h1m-.9-1.1h1m-1 1.8h1m-.5-.3h1m-.9-1.3h1m-1 2.4h1m-.8-.4h1m-.9-.1h1m-.5-.4h1m-12.5 3.9h1m-.8-1h1m-.9 .5h1m-.6-2.2h1m-1 1.7h1m-.3-1.2h1m-1 1.5h1m-.9-2.1h1m-.8 .1h1m-1 2.8h1m-.8-.6h1m-.9-1.3h1m-.8 1.2h1m-.5-.1h1m-.4-1.8h1m-.7 0h1m-.9-.2h1m-.9 1.7h1m-.9 1.1h1m-.6-.5h1m-.9-.2h1m-.6 .4h1m-.5-2.6h1m-1 .9h1m-1 1h1m-.9 .9h1m-.8-1h1m-.8-1.3h1m-.9 1.2h1m-.9-.1h1m-1 1.1h1m-.9-.7h1m-1-.3h1m-1 1.3h1m-.8-2.2h1m-.9 1h1m-1 1.1h1m-.9-1.7h1m-1 .3h1m-.9 .8h1m-.9-1.9h1m-.8 .9h1m-1 .4h1m-1 1.3h1m-.8-1.6h1m-1-.8h1m-1 .7h1m-1 0h1m-.8-.9h1m-1-.3h1m-1 2.4h1m-.8 .5h1m-.9-2.3h1m-.9 .4h1m-1 .5h1m-.9-.6h1m-1 1h1m-.9 .3h1m-.9 .3h1m-.9-.8h1m-1 1.1h1m-.9-1.4h1m-.7-.4h1m-.9-.1h1m-.9 .5h1m-.9-.9h1m-.9-.5h1m-1 2.9h1m-.8-2.6h1m-1 0h1m-1 1.1h1m-.9-1.2h1m-1 .1h1m-.9-.1h1m-.9 0h1m-.8 0h1m-1 .9h1m-.6-.5h1m-1 .5h1m-.9 .6h1m-13.3 2.4h1m-.5 .2h1m-.3 .1h1m-.6-.9h1m-.3 2.2h1m-.3-2.7h1m-.3 0h1m-.6 2.3h1m.2-.6h1m-.6 .8h1m.1-.9h1m-1 .4h1m-1 .7h1m-.9-2.1h1m-1 2.1h1m-.9-.9h1m-.5-.6h1m-1 .8h1m-1-.3h1m-.9 .6h1m-.8-.4h1m-.9-1.7h1m-1 .4h1m-.8-.5h1m-1 1.4h1m-1 .3h1m-1 .3h1m-1 .5h1m-.9-2.4h1m-1 1.9h1m-.9-1.9h1m-1 1h1m-1-.7h1m-1 2h1m-.8 .3h1m-.9-.6h1m-.9-1.8h1m-1 .1h1m-1 2.1h1m-.9-2.5h1m-.9-.1h1m-.9 .2h1m-1 2.4h1m-.7-2.1h1m-1 1h1m-.9 1.1h1m-.9-2.6h1m-.9 2.7h1m-.9-2.2h1m-1 1.5h1m-1 .1h1m-.9-1.5h1m-.9 .2h1m-.9 2h1m-.9-2.8h1m-1 1.1h1m-1 .6h1m-1 1h1m-.9-1.1h1m-.6-.8h1m-.7 .1h1m-.8-.3h1m-.8 .4h1m-1 0h1m-11.7 4.6h1m-.9-.1h1m1.3-1.1h1m-1 .9h1m1.3 .4h1m-.9 .2h1m-.9-1.2h1m-1 1h1m-.9-1.2h1m-.9-.7h1m-.9 1.3h1m-.9-.7h1m-.9-.9h1m-.9 .9h1m-1 1.3h1m-.9-.1h1m-.8-1.5h1m-1 .4h1m-.8-1.1h1m-.9 1.5h1m-1 .9h1m-.9-1.8h1m-1-.2h1m-1 .4h1m-.7-.1h1m-1 1.5h1m-.9-2.6h1m-1 1.3h1m-1-.9h1m-1 1.7h1m-.9-1.3h1m-.9-.8h1m-1 .4h1m-.8 .6h1m-1 .7h1m-.9-1h1m-1 .4h1m-1 1h1m-1-.1h1m-.9-1.7h1m-.8 1.1h1m-.9-1.4h1m-1 .7h1m-1 1.1h1m-1 .7h1m-1 .4h1m-.9-.2h1m-.9-2.7h1m-.9 2.3h1m-1 0h1m-.9-2.3h1m-1 2.8h1m-.9-1.8h1m-1 .6h1m-.9-1.7h1m-.9 1.9h1m-.9 1h1m-1 0h1m-.9-2.8h1m-1 2.7h1m-.9-.6h1m-.9-.7h1m-1 1.1h1m-.9-1.5h1m-.9-.9h1m-.9 .6h1m-.7-.1h1m-.9-.3h1m-1-.2h1m-.9 .2h1m-.8 .4h1m-.9 .6h1m23.7 1.2h1m-.9 .3h1m-34.4 1.5h1m-.9 .5h1m-.9-.9h1m-.9 1.1h1m.1-1.2h1m-.7 1.7h1m-.6-.9h1m-.7 .8h1m-.9-1.8h1m-1 1.6h1m-.8-1.1h1m-.9-.3h1m-1 2h1m-.8-.6h1m-1 .4h1m-.9 0h1m-.9-2h1m-1 1.7h1m-.6-.3h1m-.6-1.8h1m-.9 2.6h1m-.8-2.6h1m-1 .8h1m-.9-.8h1m-.9 .3h1m-1 1.8h1m-.9-.3h1m-.8-.2h1m-.7-.3h1m-.9-1.3h1m-1 2.2h1m-.9-2.1h1m-1 .9h1m-.9-1h1m-1 .3h1m-1 1.6h1m-1 .2h1m-.8-1.7h1m-1 1.1h1m-1 .5h1m-.8-2h1m-.7-.1h1m-.9 1.7h1m-.8-.5h1m-.9-1.3h1m-1 .8h1m-1 .1h1m-.9-.7h1m-.8 .6h1m-.9-.1h1m-.8-.5h1m-.9 .7h1m-1-.4h1m-.8-.2h1m-1 .4h1m18.5 1.4h1m-.2-.2h1m-.9-1.4h1m-1 2.3h1m-.9-.3h1m-.5-.8h1m-.5 .8h1m-.4-.3h1m-.8-1.5h1m.2 2h1m.1 0h1m-.2-2.2h1m-.9 2h1m-.9-.5h1m-.8-.5h1m-.6 .7h1m-.8-.6h1m-.7-1h1m-.8 1.4h1m-.7-1.3h1m-1 .8h1m-.5 .4h1m-1 .9h1m-.2-1.7h1m-.6 .8h1m-35.4 2.4h1m-.8 .1h1m-.9-.1h1m-1-.1h1m-1 .3h1m-.6 .4h1m-.8-1.3h1m-1 .3h1m-1 1.8h1m-.9-.1h1m-.9-1.3h1m-1 .8h1m-1 .7h1m-.8-2.8h1m-1 1.2h1m-1 .2h1m-1 1.5h1m-.8-2.5h1m-.7 .2h1m-.8-.3h1m-1 .3h1m-1 1.3h1m-.9-1.9h1m-1 1.7h1m-.9-1.5h1m-1 .5h1m-1-.1h1m-1 0h1m-1 1.4h1m-1 .1h1m-.9-1.2h1m-.9 .4h1m-.9 1.1h1m-.9-.6h1m-.9-1.1h1m-1 1h1m-.8-.7h1m-.9 1.2h1m-.6-.5h1m-1 .7h1m-.9-1.3h1m-.7 1.1h1m-.9-.6h1m-.9-.6h1m-.8-.6h1m-.9-.5h1m-1 .6h1m-.8-.2h1m16.8 .7h1m-.5 1.4h1m-.9-2.4h1m-.3 2.5h1m-.9-2h1m.9 2.2h1m-1-.1h1m-.9-1h1m-.5 1.3h1m-.3-2.1h1m-.8-.7h1m-.5 .2h1m-1 1.9h1m-.8 .4h1m-.9-1.3h1m-.9-.2h1m.1-.4h1m-.9 1.9h1m-.7 0h1m-.9-1.8h1m-.9-.5h1m-1 1.9h1m-.7-1.7h1m-.5-.4h1m-.8 2.6h1m-.6-2.7h1m-.4 2.8h1m-.9-1.3h1m-.2-.2h1m-.7 1.5h1m-.9-2.3h1m-.5 1.3h1m-.9 .5h1m-.9-1.1h1m-.2 1.5h1m-.8-2.2h1m-.9 1h1m-.8 0h1m-.6 .5h1m-.8-.2h1m-37.6 2.5h1m-.9 1.3h1m-.9-.1h1m-.7-1.4h1m-1 .7h1m-1 .9h1m-.9-2.2h1m-1 1.3h1m-1-.3h1m-.9 .4h1m-1 .4h1m-.9 0h1m-.9-.7h1m-.8-1.1h1m-.8-.2h1m-.8 .4h1m-.8 1.5h1m-1-.7h1m-1 1.1h1m-.8-2.3h1m-1 .9h1m-.9 1.6h1m-.9-.5h1m-.9-.7h1m-1 1.1h1m-.9-.6h1m-.8-.6h1m-.9-.2h1m-1 .2h1m-1 .4h1m-.9-1.8h1m-1 2.4h1m-.9-1.2h1m-.8-.1h1m-.9-1.1h1m-1 1h1m-1 .9h1m-.9-.3h1m-1 1.1h1m-.8-2.2h1m-1 2.2h1m-.8-2.6h1m-.7-.2h1m-1 .8h1m-1-.2h1m-.9 .6h1m-.9-.8h1m-.9-.3h1m-.9 1.8h1m-.9-1.6h1m-.9-.3h1m-1 2h1m-.8 0h1m16.7-.9h1m-.4 0h1m-.9 .9h1m-.7-.9h1m-1 1.4h1m-.9-1.7h1m-.4 1.3h1m.9-.3h1m-.9-.7h1m-.9 1.3h1m-.8-.3h1m-.9-1h1m-.9 .1h1m-1 1.4h1m-.7-2.6h1m-.5 1.6h1m-.4-1.6h1m-.8 .1h1m-.7 .4h1m-.8 .6h1m-.3 1.6h1m-.8-2.6h1m-.7 .8h1m-.9 .8h1m-.8-.8h1m-.7 1.1h1m-.9-.3h1m-.9-1h1m-.8 1.4h1m-.7-1.8h1m-.9 0h1m-.6 2.2h1m-.9-1.5h1m-.9 1.1h1m-.9-2.1h1m-.9 2.5h1m-.6-2.2h1m-.4 1.5h1m0-1.8h1m-.6 2h1m-36.7 3.7h1m-.9-2.1h1m-.7 .1h1m-1 .7h1m-1 .1h1m-1 .6h1m-.9 .1h1m-.9-1.2h1m-1 1.8h1m-1 .1h1m-.9-.1h1m-.9-.7h1m-.9-1.5h1m-1 1.5h1m-.8 .5h1m-.8-1.3h1m-1 .5h1m-1 1h1m-1-.3h1m-.9-.8h1m-.7 0h1m-.8-.9h1m-.6 .2h1m-.9-.4h1m-1 1.9h1m-1 .3h1m-.9-1.7h1m-1 1.1h1m-1-.1h1m-1-.1h1m-.9-1.7h1m-1 0h1m-1 1.7h1m-1 .7h1m-.7-.7h1m-.8-.4h1m-.8-1.5h1m-.9 .3h1m-1 .3h1m-1 1.9h1m-.8-.6h1m-1 0h1m-.9-1.8h1m-1 1.1h1m-1 1.4h1m-.9-2.2h1m-1 .4h1m-.9 .3h1m-1-.1h1m-.9-.4h1m-.7-.8h1m-.9 .7h1m-1 1h1m-.5-.8h1m18.8-.6h1m.8 .4h1m.4-.1h1m-.8-.2h1m-.9 .5h1m-.5-.6h1m-.7 .6h1m-.5-.5h1m-.4 .3h1m-.5 .6h1m-.8 1h1m-.9-.8h1m-.6-.1h1m-.7-.5h1m-32.4 2.2h1m1.4 .1h1m-.1 .2h1m-.7 0h1" stroke="#000" stroke-width="1" fill="none"/></g>
<g filter="url(#bl)"><path d="M0 0" stroke="#000" stroke-width="1" stroke-opacity="0.6" fill="none"/><path d="M0 0" stroke="#000" stroke-width="1" fill="none"/></g>
<rect x="188.5" y="143.5" width="51.0" height="53.0" stroke="#4a4a4a" stroke-width="1" fill="none"/>
<line x1="212.5" y1="143.5" x2="212.5" y2="196.5" stroke="#4a4a4a" stroke-width="1"/>
<line x1="188.5" y1="171.5" x2="239.5" y2="171.5" stroke="#4a4a4a" stroke-width="1"/>
<text x="187.3" y="201.9" font-family="'Liberation Serif', serif" font-size="3.6" font-weight="bold" text-anchor="start" fill="#333">10</text>
<text x="191.0" y="199.7" font-family="'Liberation Serif', serif" font-size="2.6" font-weight="bold" text-anchor="start" fill="#333">0</text>
<rect x="188.0" y="196.5" width="1" height="1.6" fill="#333"/>
<text x="200.05" y="201.9" font-family="'Liberation Serif', serif" font-size="3.6" font-weight="bold" text-anchor="start" fill="#333">10</text>
<text x="203.75" y="199.7" font-family="'Liberation Serif', serif" font-size="2.6" font-weight="bold" text-anchor="start" fill="#333">1</text>
<rect x="200.8" y="196.5" width="1" height="1.6" fill="#333"/>
<text x="212.8" y="201.9" font-family="'Liberation Serif', serif" font-size="3.6" font-weight="bold" text-anchor="start" fill="#333">10</text>
<text x="216.5" y="199.7" font-family="'Liberation Serif', serif" font-size="2.6" font-weight="bold" text-anchor="start" fill="#333">2</text>
<rect x="213.5" y="196.5" width="1" height="1.6" fill="#333"/>
<text x="225.55" y="201.9" font-family="'Liberation Serif', serif" font-size="3.6" font-weight="bold" text-anchor="start" fill="#333">10</text>
<text x="229.25" y="199.7" font-family="'Liberation Serif', serif" font-size="2.6" font-weight="bold" text-anchor="start" fill="#333">3</text>
<rect x="226.2" y="196.5" width="1" height="1.6" fill="#333"/>
<text x="238.3" y="201.9" font-family="'Liberation Serif', serif" font-size="3.6" font-weight="bold" text-anchor="start" fill="#333">10</text>
<text x="242.0" y="199.7" font-family="'Liberation Serif', serif" font-size="2.6" font-weight="bold" text-anchor="start" fill="#333">4</text>
<rect x="239.0" y="196.5" width="1" height="1.6" fill="#333"/>
<text x="214.0" y="206.0" font-family="'Liberation Sans', sans-serif" font-size="3.0" font-weight="bold" text-anchor="middle" fill="#333">EGFP</text>
<text x="185.3" y="198.8" font-family="'Liberation Serif', serif" font-size="3.6" font-weight="bold" text-anchor="start" fill="#333" transform="rotate(-90 185.3 198.8)">10</text>
<text x="185.3" y="185.55" font-family="'Liberation Serif', serif" font-size="3.6" font-weight="bold" text-anchor="start" fill="#333" transform="rotate(-90 185.3 185.55)">10</text>
<text x="185.3" y="172.3" font-family="'Liberation Serif', serif" font-size="3.6" font-weight="bold" text-anchor="start" fill="#333" transform="rotate(-90 185.3 172.3)">10</text>
<text x="185.3" y="159.05" font-family="'Liberation Serif', serif" font-size="3.6" font-weight="bold" text-anchor="start" fill="#333" transform="rotate(-90 185.3 159.05)">10</text>
<text x="185.3" y="145.8" font-family="'Liberation Serif', serif" font-size="3.6" font-weight="bold" text-anchor="start" fill="#333" transform="rotate(-90 185.3 145.8)">10</text>
<text x="181.5" y="170.0" font-family="'Liberation Sans', sans-serif" font-size="3.6" font-weight="bold" text-anchor="middle" fill="#333" transform="rotate(-90 181.5 170.0)">Anti-HLA-DR-PE</text>
<path d="M181.3 140.3h2.6l-1.3 1.8z" fill="#222"/>
<text x="190.3" y="141.5" font-family="'Liberation Serif', serif" font-size="7.25" font-weight="bold" text-anchor="start" fill="#111" stroke="#111" stroke-width="0.15">21</text>
<text x="227" y="141.5" font-family="'Liberation Serif', serif" font-size="7.25" font-weight="bold" text-anchor="start" fill="#111" stroke="#111" stroke-width="0.15">7</text>
<text x="188.3" y="210.70000000000002" font-family="'Liberation Serif', serif" font-size="7.25" font-weight="bold" text-anchor="start" fill="#111" stroke="#111" stroke-width="0.15">59</text>
<text x="227" y="210.70000000000002" font-family="'Liberation Serif', serif" font-size="7.25" font-weight="bold" text-anchor="start" fill="#111" stroke="#111" stroke-width="0.15">13</text>
<g filter="url(#bl)"><path d="M34.7 231.6h1m-.2-1h1m-.1-.5h1m-.2-.3h1m-.9 .8h1m-.7-.4h1m.4 1.1h1m14.1-.5h1m-.4 0h1m.1-.7h1m.5 1.5h1m4.5-.3h1m-29.4 2.6h1m-.5-.3h1m-.3 1.6h1m.4-.9h1m17.7-1.1h1m-.4 0h1m-23.6 4.3h1m19.5-.8h1m1.4-.7h1m2 2h1m11-1.6h1m-40.8 4.8h1m.4-.4h1m-.7-.3h1m-.8 .9h1m-.6-.6h1m.8-1.9h1m16.5 1.5h1m4.4 .9h1m-27.4 2.6h1m-.1-1.3h1m-.4 1.3h1m17.3-1.5h1m0-.3h1m1.3 .3h1m11.2-.3h1m3.9 .5h1m-42 2.2h1m-.6 2.1h1m-.7 .3h1m17.1-.9h1m4.1-.9h1m6.2-.8h1m3.8 2h1m-36.2 3h1m16.3-.5h1m.1 .1h1m-.4-.6h1m.1-.9h1m6 2.2h1m-.8-1.8h1m-28.9 4.8h1m-.2-1.7h1m-.2 2h1m11.9-.6h1m-1-.5h1m.1-.4h1m0 .8h1m.4-2h1m-.6 1.3h1m1.8 .1h1m5.2-.9h1m-28.7 4.9h1m2-1h1m-1 1.2h1m-.7-1.1h1m3.1 0h1m.2 .4h1m-.1 .4h1m0 .4h1m-.5-2h1m.4 2.2h1m.3-.3h1m0-2.2h1m1.8 2.5h1m-.8-1.4h1m0 .9h1m.5-.2h1m-16.5 2.2h1m-.1-1.4h1m-.2 2.7h1m.8-1.6h1m-.5 1.3h1m-.2-.8h1m2.6-1.4h1m1.8 1.1h1m-1 .3h1m-.5 .3h1m-.6 .4h1m-.4-.6h1m-16.2 2.2h1m3.8 0h1m.3-.5h1m7.6 1.9h1m.7-1.5h1m.1 .9h1m-17.7 3.1h1m-.7-.5h1m0-.8h1m-.1-.1h1m7.7 2.4h1m-.8-.2h1m.4 .3h1m-14.6 1.5h1m-1-.2h1m-.7 1.2h1m9.5-.1h1m.4-.5h1m3-1h1m2.9-.5h1m-21.5 5.4h1m9.4-.3h1m.5-1.4h1m-13.4 3.7h1m4.7 .9h1m1.4-.7h1m-.4-.3h1m1.8-1.2h1m5.8 2.4h1m-18.2 2.1h1m-.1-1.6h1m.3 1.1h1m-.2 .6h1m-.3-1.1h1m-.6-.7h1m-.8 .1h1m-.2 .9h1m11.9-1h1m.6 .4h1" stroke="#000" stroke-opacity="0.62" stroke-width="1" fill="none"/><path d="M45.4 229.2h1m.3 .3h1m.4-.1h1m1.4-.2h1m-.2 .1h1m-.9 0h1m.5 .2h1m-13.4 2.8h1m-.9-.2h1m-.8-.7h1m-.7 .1h1m-.6 .8h1m-.4-1.5h1m-.9 .5h1m-.9 0h1m-.9 .3h1m-.7-.7h1m-1-.2h1m-.4 1.6h1m-.5-2.1h1m-.7-.3h1m-1 .2h1m-.9 .7h1m-.9 1.5h1m-.8 .1h1m-.8 0h1m-.8-2.8h1m-1 2.1h1m-1 0h1m-.8 .2h1m-.7-1.5h1m-.9 .9h1m-.9-1.1h1m-1 1h1m-.8-1h1m-1 1.9h1m-.9-2.2h1m-.6 .9h1m-.9-.1h1m-1-.7h1m-.9 .5h1m-.9-.8h1m-1 .5h1m-.9 1.2h1m-1-.2h1m-.9 1h1m-.8-1.5h1m-.8 1.7h1m-.8-1.6h1m-.6-.9h1m-.9 1.2h1m-.9-.7h1m-.9 1.4h1m-.9 .5h1m-.8-1.9h1m-.9-.7h1m-.9 1.7h1m-.8 0h1m-.9 .2h1m-.7-1.5h1m-1 .5h1m-.5 .9h1m-.5-.9h1m-.7-.1h1m-.1 .1h1m-.5-.2h1m-1 .3h1m-.9 .9h1m-.7 .1h1m-14.4 3.7h1m-.8-1.6h1m-.9-.1h1m-.4 .7h1m-.4 .5h1m-.7 .3h1m-.8-.7h1m-.7-2h1m-.7 1.1h1m-1 .5h1m-.8-.5h1m-1 1.7h1m-.8-2.8h1m-1 0h1m-.8 .8h1m-1 1.8h1m-.9-1.7h1m-.9 1.3h1m-.7-.1h1m-1 .8h1m-.8-1.4h1m-.9-1.1h1m-.9 .4h1m-1 .4h1m-.9-1.2h1m-1 1.1h1m-.9-.9h1m-.9 1.6h1m-.9-.4h1m-.8 1.2h1m-1 0h1m-.8-.3h1m-1-.8h1m-.8-.5h1m-.9-.2h1m-1 2.2h1m-.7-.2h1m-.9-2.4h1m-1 2.6h1m-.9-1.2h1m-1 .2h1m-.9-1.5h1m-1 2.3h1m-.9-.2h1m-1 .4h1m-.6-1.6h1m-.9-.2h1m-1-.7h1m-1 1.8h1m-.9-1.2h1m-1 1.1h1m-1 .3h1m-.9-1h1m-1 .8h1m-1 .6h1m-.9-1.2h1m-.9 .6h1m-.7-2h1m-1 1.1h1m-.9 .6h1m-.9-.4h1m-.9-.4h1m-.9 .4h1m-1 .6h1m-.8 .6h1m-.9-2.7h1m-1 .7h1m-1 1.9h1m-.9-1.5h1m-1 .7h1m-1 0h1m-.8 1.1h1m-.9-2.1h1m-1 .4h1m-.9 .9h1m-1 .3h1m-.9-2.1h1m-1 .9h1m-1 .7h1m-1-.5h1m-1 1.5h1m-.9-3h1m-1 .3h1m-1 2.3h1m-.9 .2h1m-.6-1.1h1m-.9-1.5h1m-1 1.1h1m-.9 1.4h1m-.9-1.7h1m-.9-.7h1m-1-.3h1m-1 1.7h1m-.9-1.3h1m-1 1.6h1m-.9 .2h1m-1 .2h1m-.9-1.1h1m-1 .3h1m-.8-1.2h1m-1 1.3h1m-.9 .4h1m-.9-1.5h1m-.9-.6h1m-1 1.2h1m-1 1.6h1m-.9-1.9h1m-.9 2h1m-.8-2.3h1m-1 0h1m-.9 1.1h1m-1 1h1m-.9-2.3h1m-1 1.6h1m-.9-1.4h1m-.9 1.5h1m-1 .1h1m-.8-1.4h1m-1 2.1h1m-.9-1.9h1m-1 .2h1m-.9 1.1h1m-1-.3h1m-.9 0h1m-1-.3h1m-.9 1.1h1m-.9-2.4h1m-1 0h1m-1 .2h1m-1 1.8h1m-1 .5h1m-.9-1.6h1m-1 .3h1m-.9 1h1m-.8-.9h1m-.7 .5h1m-.5-1.2h1m-.9-.8h1m-1 2h1m-1 0h1m-.4-1.5h1m-.9-.3h1m-.8 2.6h1m-.9-1.2h1m-1 .1h1m-.5-.3h1m-.9 .8h1m-.1-.1h1m-18.5 2.3h1m.2 .1h1m-.9 1.2h1m-.5-.5h1m-.6-1.8h1m-.9 1.3h1m-.9-1.3h1m-1 1.4h1m-.7-1.8h1m-.8 .8h1m-.8 .6h1m-.9 0h1m-.6-.6h1m-.8 .7h1m-.9-1.5h1m-.7 .6h1m-.9-.2h1m-1 .5h1m-.9-1h1m-1 0h1m-1 2.3h1m-.8-1.3h1m-1 .4h1m-1 .5h1m-.9-1.6h1m-1 .4h1m-.9 .8h1m-1 .2h1m-.8-1.2h1m-1 .2h1m-1 2.1h1m-.9-.9h1m-1-.3h1m-.8-.4h1m-1 .4h1m-.9-.9h1m-.6 .2h1m-.9-.8h1m-.9 1.9h1m-1 .4h1m-.8-1.4h1m-1-.3h1m-1 1h1m-.9-.2h1m-1 .8h1m-.7-2h1m-.6 .7h1m-.9 .3h1m-.7 0h1m-1 .1h1m-1 .7h1m-.9 .2h1m-.8-2.1h1m-1 .4h1m-.9 .1h1m-1 1.3h1m-.9 .5h1m-.9-2.2h1m-.8 1.8h1m-1 .5h1m-.9-.9h1m-1-.2h1m-1 .6h1m-.9-1h1m-.9 .6h1m-1 .8h1m-.9-2.2h1m-1 2.3h1m-.7-1.6h1m-1 1.2h1m-.9-1.6h1m-1 .9h1m-.9-.6h1m-.7 1.4h1m-1-.9h1m-.9-.5h1m-1 .6h1m-.8-.8h1m-.8-.4h1m-1 .7h1m-.9-.5h1m-.8 1.9h1m-.8-2.4h1m-.9 1.9h1m-1 .3h1m-.9-.6h1m-.6 0h1m-.8-1.3h1m-1 .9h1m-1-.2h1m-.9 .2h1m-1 .3h1m-.8-.7h1m-1 1h1m-.8 .4h1m-.9-2.1h1m-.9 .5h1m-1 1.7h1m-.9-.2h1m-1-.7h1m-1 1h1m-.8-.4h1m-.8-1.5h1m-1 1.5h1m-.9-2h1m-1 .5h1m-.9 .7h1m-1 .4h1m-.9-.5h1m-.9-.8h1m-.9 .3h1m-1 .9h1m-.9-1.3h1m-1 1.5h1m-.9-.9h1m-.7 .8h1m-.8-1.5h1m-1 2h1m-.8-1.9h1m-1 1.3h1m-.9 .7h1m-.9-2.2h1m-1 .7h1m-1 .9h1m-.8-.6h1m-.9-.3h1m-.9-.1h1m-.8 2h1m-.8-2.5h1m-1 1.1h1m-.5-.3h1m-1-.5h1m-.4-.2h1m-.2 1.9h1m-.9 0h1m-19.5 2.6h1m-.6 .3h1m-.7 .2h1m-.8-1.2h1m-.8-1h1m-.8 1.6h1m-.8 .5h1m-.6-.3h1m-1 .9h1m-.9-2.3h1m-.9 1.9h1m-1 .5h1m-.5-.7h1m-.7 0h1m-.6-.8h1m-.9 .9h1m-.6 .6h1m-.8 0h1m-.6-1h1m-.6-.3h1m-.8-.5h1m-.8-1.1h1m-1 2.7h1m-.9-1.7h1m-1 2h1m-.9-.1h1m-.7-2.7h1m-.8 1.4h1m-.9 .3h1m-1 .8h1m-.9-.9h1m-.9-.1h1m-.9-.6h1m-1 .6h1m-.3-1.1h1m-.9 .1h1m-.8 .6h1m-1-.4h1m-1 .8h1m-.9 0h1m-.8-1.6h1m-1 1.9h1m-.6-.6h1m-.9-1h1m-1 2.2h1m-.9-1.3h1m-.9-1.3h1m-1 2.9h1m-.5-1.2h1m-.9-1.6h1m-1 1h1m-1 .5h1m-.8 .3h1m-.9-.5h1m-1 1.2h1m-1 .4h1m-.9-2.6h1m-1 .5h1m-1-.4h1m-.9 2.4h1m-.9-2.9h1m-.9 .1h1m-1 1h1m-1-.1h1m-.9 1.4h1m-1-.9h1m-1 1.4h1m-.8-1.8h1m-1 .3h1m-1 1.2h1m-.9-1.9h1m-.7 0h1m-.7 1.2h1m-.9 0h1m-.8-.7h1m-.9 .7h1m-.9-1.8h1m-1 1.1h1m-.9-.1h1m-.8-.1h1m-1 .9h1m-1 1h1m-.9 .1h1m-.8-2.9h1m-.8-.1h1m-.8 0h1m-.7 1.3h1m-1 .1h1m-.9-.6h1m-1 0h1m-.9 .7h1m-1 .1h1m-1 .6h1m-.8-2.2h1m-.9 .8h1m-.9 1.9h1m-.9-.7h1m-1 .2h1m-1 .4h1m-.9-1.3h1m-.9-.7h1m-1 2.1h1m-.8-2.5h1m-1 .4h1m-1 2.2h1m-.8-2.2h1m-1 1.2h1m-1 1.1h1m-.9-2h1m-.8-.1h1m-.8 0h1m-.9-.5h1m-.8 1.9h1m-.8 .1h1m-.8 .2h1m-.9-1.6h1m-.7-.2h1m-.8-.7h1m-1 1.9h1m-.6 .5h1m-.7-1h1m-.8-.5h1m-.8 1.1h1m-.6-1.1h1m-.8 1.3h1m-.8-2.1h1m-.9 1.9h1m-.5-2h1m-19.6 4.3h1m.1 1.2h1m-.4 .1h1m-.9-.5h1m-.7 .8h1m-.7-1.3h1m-.8-1.4h1m-.7 2.5h1m-.8-1.5h1m-1 1h1m-.9-1h1m-.9 1.5h1m-.4-.7h1m-.9-1.3h1m-.9-.3h1m-1 1h1m-1 1.4h1m-.9-1.9h1m-.4 2h1m-.7-1h1m-.9 .3h1m-1 .5h1m-.8-1.5h1m-.9-.9h1m-1 1.8h1m-.9 .2h1m-.8-2h1m-1 2h1m-.1-1.5h1m-1 1.7h1m-.8-1.3h1m-.3 .6h1m-.8 .4h1m-.7-.4h1m-.8 .2h1m-.9 .5h1m-.9-1.8h1m-.8-.1h1m-1 1.1h1m-.9-1.2h1m-1 1.9h1m-.9-2.3h1m-.8 0h1m-1 .7h1m-1 1.2h1m-.8-.2h1m-.9-.3h1m-1 .1h1m-.9-.2h1m-1 .2h1m-.9 .2h1m-.3-.5h1m-.9 0h1m-1 1h1m-.9-1h1m-.9-.1h1m-.9-.4h1m-1 1.4h1m-.9-1.9h1m-1-.1h1m-1 1.9h1m-.9-2h1m-.9 .5h1m-.9 1.8h1m-.9-1h1m-.9-.4h1m-.9-.6h1m-.5 2.4h1m-.9-2.1h1m-.8 2h1m-.2-2.3h1m-.9 1.5h1m-.9-1h1m-.9-.8h1m-.9 .4h1m-.6-.1h1m-1 .7h1m-.8-.8h1m-1-.1h1m-.4 .6h1m-.9-.2h1m-1 2.1h1m-.1-1.5h1m-.9 1.2h1m-.7 .2h1m-.8 .2h1m-.4-.6h1m-.9-1.6h1m.1-.3h1m-20.2 5.1h1m.4-2.1h1m.3-.3h1m-1 .6h1m-.7-.4h1m-.7 .4h1m-.7-.2h1m-.9 2.1h1m-.9-1.4h1m-.9 .8h1m-1 0h1m-.9-.7h1m-1 1.7h1m-.8 .1h1m-.9-3h1m-.9 1.8h1m-.8-1.6h1m-.7 .2h1m-1 2.6h1m-.9-2.4h1m-.9-.6h1m-1 3h1m-.9-2.7h1m-1 .3h1m-1 1.6h1m-.8-2h1m-.9 .9h1m-.8-.8h1m-.9 2.4h1m-.7-2.3h1m-.8 1.7h1m-1 .5h1m-.8-1.2h1m-.8-.7h1m-.8 1.2h1m-.6 1.1h1m-.9-2.4h1m-1 1.3h1m-.9 .1h1m-.7 .1h1m-.9-.9h1m-1 .4h1m-.9 .8h1m-1-.8h1m-.8 .4h1m-.9 .3h1m-1 .1h1m-.8-.5h1m-.8 1.1h1m-1-.4h1m-.8-2.3h1m-.7 .1h1m-1 1.7h1m-.9-.3h1m-.4-.4h1m-.8 1.1h1m-1 0h1m-.8-1.7h1m-.9 1.4h1m-1-.3h1m-.7-1.6h1m-.7 1.2h1m-1 .8h1m-.8-.5h1m-.9-1h1m-.8 1.4h1m-.7 0h1m-.9-1.6h1m-.9 .1h1m-.8 1.4h1m-.4-.2h1m-.9 .4h1m-.9-1.7h1m-.9-.6h1m-.9 .3h1m-.9 2.1h1m-.6-.7h1m-.6-.6h1m-.9 .4h1m-1 .2h1m-.8 .4h1m-.7-.1h1m-.8-1.8h1m-.9 2h1m-.9-1.1h1m-.9 .8h1m.2-1.8h1m-17.7 5.2h1m-.8-2.1h1m-1 1.6h1m-1 .1h1m-.2 .2h1m-.6 .7h1m-.2-2.7h1m-.4 2.6h1m-.3-1.9h1m-.9 .8h1m-.9 1.3h1m-.9-2.3h1m-.8 .1h1m-.9-.5h1m-.8 1.5h1m-.9-1.6h1m-.6 .9h1m-.8 1.4h1m-1-.4h1m-.9-.8h1m-1 1.2h1m-.9 .4h1m-.8-.6h1m-.9 .4h1m-.7-1.2h1m-.9-1.2h1m-.9 1.4h1m-.5-.4h1m-.8-.5h1m-1 2h1m-.7-.8h1m-.8-1.1h1m-.7-.4h1m-.9 .9h1m-.6-.1h1m-.9 .1h1m-.8 .7h1m-.7-.8h1m-1 1.7h1m-.6-2h1m-1 1.2h1m-.9-.8h1m-.9-.3h1m-.7 1.1h1m-.9-1.9h1m-.7 2.7h1m-.8-1.3h1m-.9 1.1h1m-.4-1.5h1m-1 1.5h1m-.5-.9h1m-.8-.4h1m-.5-.3h1m-1 1.4h1m-.8-.3h1m-.4-2.1h1m-.8 .9h1m-.7-.7h1m-.5 1.4h1m-1 .9h1m-.7-1.4h1m-.4-1h1m0-.1h1m-15.1 3.4h1m-1 .6h1m-.4-.1h1m-.8-.1h1m-.9-.6h1m-.7 .8h1m-.7 .3h1m-.7 .8h1m-.2-1.5h1m-.8 1.3h1m-.8-1.2h1m-.3-.4h1m-.8 .9h1m-.9-1.1h1m-1 1.4h1m-.9-.7h1m-.8-.7h1m-1 .4h1m-.9 .5h1m-.7-.1h1m-.8 1.8h1m-.8-1.6h1m-.5-.6h1m-.9 1.4h1m-.7 .9h1m-.9-.7h1m-.3-1.6h1m-.3-.4h1m-.5 2.3h1m-.7-.9h1m-.9-1.4h1m-.7 1.1h1m-.7-1.3h1m-.9 1.3h1m-9.4 2.6h1m-.9 .1h1m0-.9h1m.5 1h1m-.4 .3h1m-.3-.3h1m1 .1h1m-.6-1.1h1m-.9 .5h1m-.7-.5h1m.1 5.6h1m1.3-.1h1m-.9-1.3h1m-.8 1.2h1m.1-.1h1m-8.5 2.8h1m-.4 .3h1m-.3-1.6h1m-.9 0h1m-1 .8h1m-1 .9h1m-.9-2.4h1m-.8 1.8h1m-1 .6h1m-.6-1.7h1m-.6 1.7h1m-.2-.6h1m-.5-1.8h1m-1 .5h1m-.7 1.2h1m-.2-.3h1m-1 1.1h1m-.6-1.2h1m-.6 1.2h1m-.7-.9h1m.5-1.5h1m-10.2 4.8h1m.1 .3h1m-.7 0h1m-.3-.8h1m-.5-.6h1m-.9-.3h1m-1 .2h1m-.6-.6h1m-.9 1h1m-.3-1.2h1m-.7 .3h1m-1 1.1h1m-.7-.7h1m-1-.1h1m-.9-.6h1m-.9 2.3h1m-.8-1.6h1m-1 .5h1m-.9 1.4h1m-.9-.3h1m.4-2.3h1m-.6 1.1h1m-.7-.3h1m-1 1.3h1m-.6-1.3h1m-.6-.8h1m-12.5 4.7h1m-.6 1h1m-.2-1.2h1m-.3 1h1m-.7-1.4h1m-.9-1h1m-1 1.6h1m-.6-1.4h1m-.9 2.1h1m-.7 .4h1m-.9-.1h1m-.2 .1h1m-.8-.1h1m-.8-.1h1m-1-.2h1m-.9 .2h1m-.8-.3h1m-1 .5h1m-.8-1.1h1m-.7-.4h1m-.9 1.5h1m-.9-1.5h1m-.8 .2h1m-.8 1.2h1m-.2-1.6h1m-1 1h1m-.7 .1h1m-.5 .1h1m-.7 .4h1m-.6-1h1m-.5-1.6h1m-.7 1h1m-.2 .8h1m0-.6h1m-12.9 4.2h1m-.3-1.6h1m-1 1.4h1m-.8-1.7h1m-.8 2.1h1m-.7 0h1m-.9-1h1m-.7-.5h1m-.7-.7h1m-1 1.4h1m-.2 .2h1m-.7-1.3h1m-.9-.5h1m-1 2.2h1m-.7-2.5h1m-1 .1h1m-1 1.8h1m-.9-.6h1m-.8 .6h1m-.7-1.8h1m-1 1.7h1m-.8-.5h1m-.6-.1h1m-.9 0h1m-.8 .1h1m-1-.4h1m-.9 2h1m-.8-1.6h1m-.9 .3h1m-1 1.3h1m-.8-2.9h1m-1 1.7h1m-.9-1.4h1m-.5 .3h1m-.8-.7h1m-1 2.9h1m-.9-.9h1m-.9-.2h1m-.3 1h1m-.6-1.8h1m-.4-.8h1m-.7 1.7h1m-.4-.1h1m-.7 .4h1m-9.4 .9h1m-.9 .2h1m-.1 1h1m-.6-1.2h1m-1 2.2h1m-.7-.6h1m-.8-.1h1m-.9 .7h1m-.7-1.9h1m-1 1.8h1m-.3-1.6h1m-.9 .8h1m-.8-.6h1m-.9-.5h1m-.9 1.8h1m-.6-1h1m-.8 .2h1m-.7-.5h1m-.3-.7h1m-.6 .9h1" stroke="#000" stroke-width="1" fill="none"/></g>
<g filter="url(#bl)"><path d="M0 0" stroke="#000" stroke-width="1" stroke-opacity="0.6" fill="none"/><path d="M0 0" stroke="#000" stroke-width="1" fill="none"/></g>
<rect x="30.5" y="228.5" width="52.0" height="50.0" stroke="#4a4a4a" stroke-width="1" fill="none"/>
<line x1="56.5" y1="228.5" x2="56.5" y2="278.5" stroke="#4a4a4a" stroke-width="1"/>
<line x1="30.5" y1="255.5" x2="82.5" y2="255.5" stroke="#4a4a4a" stroke-width="1"/>
<text x="29.3" y="283.9" font-family="'Liberation Serif', serif" font-size="3.6" font-weight="bold" text-anchor="start" fill="#333">10</text>
<text x="33.0" y="281.7" font-family="'Liberation Serif', serif" font-size="2.6" font-weight="bold" text-anchor="start" fill="#333">0</text>
<rect x="30.0" y="278.5" width="1" height="1.6" fill="#333"/>
<text x="42.3" y="283.9" font-family="'Liberation Serif', serif" font-size="3.6" font-weight="bold" text-anchor="start" fill="#333">10</text>
<text x="46.0" y="281.7" font-family="'Liberation Serif', serif" font-size="2.6" font-weight="bold" text-anchor="start" fill="#333">1</text>
<rect x="43.0" y="278.5" width="1" height="1.6" fill="#333"/>
<text x="55.3" y="283.9" font-family="'Liberation Serif', serif" font-size="3.6" font-weight="bold" text-anchor="start" fill="#333">10</text>
<text x="59.0" y="281.7" font-family="'Liberation Serif', serif" font-size="2.6" font-weight="bold" text-anchor="start" fill="#333">2</text>
<rect x="56.0" y="278.5" width="1" height="1.6" fill="#333"/>
<text x="68.3" y="283.9" font-family="'Liberation Serif', serif" font-size="3.6" font-weight="bold" text-anchor="start" fill="#333">10</text>
<text x="72.0" y="281.7" font-family="'Liberation Serif', serif" font-size="2.6" font-weight="bold" text-anchor="start" fill="#333">3</text>
<rect x="69.0" y="278.5" width="1" height="1.6" fill="#333"/>
<text x="81.3" y="283.9" font-family="'Liberation Serif', serif" font-size="3.6" font-weight="bold" text-anchor="start" fill="#333">10</text>
<text x="85.0" y="281.7" font-family="'Liberation Serif', serif" font-size="2.6" font-weight="bold" text-anchor="start" fill="#333">4</text>
<rect x="82.0" y="278.5" width="1" height="1.6" fill="#333"/>
<text x="56.5" y="288.0" font-family="'Liberation Sans', sans-serif" font-size="3.0" font-weight="bold" text-anchor="middle" fill="#333">FL1-Height</text>
<text x="27.3" y="280.8" font-family="'Liberation Serif', serif" font-size="3.6" font-weight="bold" text-anchor="start" fill="#333" transform="rotate(-90 27.3 280.8)">10</text>
<text x="27.3" y="268.3" font-family="'Liberation Serif', serif" font-size="3.6" font-weight="bold" text-anchor="start" fill="#333" transform="rotate(-90 27.3 268.3)">10</text>
<text x="27.3" y="255.8" font-family="'Liberation Serif', serif" font-size="3.6" font-weight="bold" text-anchor="start" fill="#333" transform="rotate(-90 27.3 255.8)">10</text>
<text x="27.3" y="243.3" font-family="'Liberation Serif', serif" font-size="3.6" font-weight="bold" text-anchor="start" fill="#333" transform="rotate(-90 27.3 243.3)">10</text>
<text x="27.3" y="230.8" font-family="'Liberation Serif', serif" font-size="3.6" font-weight="bold" text-anchor="start" fill="#333" transform="rotate(-90 27.3 230.8)">10</text>
<text x="23.5" y="253.5" font-family="'Liberation Sans', sans-serif" font-size="3.6" font-weight="bold" text-anchor="middle" fill="#333" transform="rotate(-90 23.5 253.5)">CD13,33-PE</text>
<path d="M23.3 225.3h2.6l-1.3 1.8z" fill="#222"/>
<text x="33.7" y="227.6" font-family="'Liberation Serif', serif" font-size="7.25" font-weight="bold" text-anchor="start" fill="#111" stroke="#111" stroke-width="0.15">58</text>
<text x="72.6" y="227.6" font-family="'Liberation Serif', serif" font-size="7.25" font-weight="bold" text-anchor="start" fill="#111" stroke="#111" stroke-width="0.15">1</text>
<text x="26.6" y="294.59999999999997" font-family="'Liberation Serif', serif" font-size="7.25" font-weight="bold" text-anchor="start" fill="#111" stroke="#111" stroke-width="0.15">41</text>
<text x="70.5" y="294.59999999999997" font-family="'Liberation Serif', serif" font-size="7.25" font-weight="bold" text-anchor="start" fill="#111" stroke="#111" stroke-width="0.15">0.1</text>
<g filter="url(#bl)"><path d="M136.5 229.1h1m-27.8 2.2h1m1.2-.5h1m1.5 1h1m-.1 .5h1m-.7-.5h1m-.2-1.6h1m-.4 2.2h1m-.7-.9h1m-.7 .2h1m-.3-.1h1m-.9 .5h1m.4-1.2h1m-.2 .5h1m13.5-1.5h1m-.8 1.8h1m0-1.8h1m-.4 2h1m10.6-1.8h1m-.1 .5h1m-.7 .1h1m.3 1h1m3.3 .1h1m1.3 .1h1m-48.9 .7h1m-.9 2.8h1m-.6-.6h1m.7-.7h1m-1 .5h1m-.9-1.4h1m-.4-.7h1m2.2 .2h1m-.2 2.6h1m-.9-2h1m-.9-.1h1m-.3 .1h1m17.2-.7h1m14.8 1h1m-.9-.9h1m-1 .7h1m-.8 2h1m-.9-1.2h1m-.3 .7h1m-.6-.2h1m3.5-.3h1m-49.3 2.9h1m.4 .1h1m-.6 .3h1m-.9-1.1h1m-.9 1.7h1m-.9-2.5h1m1.4 .1h1m17 1.7h1m0 .1h1m.4-1.1h1m-.4-.2h1m-.9 .4h1m-1 .5h1m-.1 .1h1m15.2-1.5h1m-.3-.3h1m-44 4.1h1m-.9-1h1m-.2 .2h1m17.5 2.2h1m.3-.9h1m2.1 1.2h1m-.9-1.3h1m.1-1h1m-.2 1.2h1m0-1.3h1m-.8 2.3h1m6 .1h1m3.7-.5h1m0-2.2h1m-.7 1.4h1m-.8 .2h1m-.6-.5h1m-.3 .6h1m2.7 .7h1m-.6-2h1m-47.7 2.5h1m-.2 .8h1m.8-.5h1m17.4 .1h1m.8 1.3h1m-.6-.7h1m-.4 .3h1m.5-.1h1m-.9 0h1m.4-.5h1m5-.6h1m.3 2.6h1m-.8-2.4h1m-.8 1h1m-.9-.1h1m1.5-.8h1m2.1-.1h1m2 .1h1m.4 1.5h1m1.2-.9h1m-47.4 2.5h1m17.9 1h1m-.7-.7h1m-.4-.8h1m.2 .2h1m1.8 1.4h1m-.2 .7h1m-.1 .4h1m.3-1.8h1m7.5 1.6h1m-33.6 3.1h1m10.3-.9h1m.6 0h1m-.4 .3h1m-.5-.1h1m-.1 .9h1m-.4-.9h1m.2-.7h1m0-.1h1m-.9-.5h1m-.5 .4h1m-.2 .5h1m-.6 1.1h1m-.6-1.4h1m1-.7h1m3.9 .5h1m3.4-.5h1m2 1.7h1m0-1.7h1m6.5 .4h1m-44.4 4.4h1m-.9-.6h1m-.6-1.7h1m4.4 2.1h1m5.6-.5h1m-1 .5h1m-.3 .1h1m-.7-2h1m5.3 .5h1m-.6 0h1m-.1 .1h1m-.7-.3h1m.6 .5h1m3.2 .1h1m-23 2.2h1m-.3 .8h1m-.2 .6h1m-.3-1.7h1m.4 2h1m1.8-1.7h1m7.1 2.2h1m1-.5h1m-21.3 3.6h1m.4-.9h1m.3-.8h1m.8-.6h1m.1 1.2h1m-.2 .9h1m-.8-.3h1m-.4-.7h1m.5 1.5h1m.5-2.5h1m0 .2h1m-.3 1.4h1m-.8-1.4h1m-.6 .7h1m.6 .1h1m-.5 .9h1m.2 .3h1m4.3-1.1h1m-23.8 3.5h1m5.1-1.5h1m-.4 1.1h1m-.6-.7h1m-.3 .7h1m-.3-1.1h1m-1 .8h1m-.3-.6h1m2.2-.7h1m-.5 0h1m2.5 1.9h1m.6 0h1m-.1 0h1m2.3 .8h1m-.7-1h1m-24.1 2.5h1m.3-1.2h1m-.5 .8h1m-.6 .5h1m2.5 .4h1m-.2-.5h1m-.5-1h1m-1 1.1h1m-.7-.6h1m-.8 .2h1m-.9 .6h1m-1 1h1m9.3-2.5h1m-.2 1.5h1m-.4-.4h1m-18 2.8h1m-.1 1.4h1m1.1 .4h1m-.4-1.9h1m-.6 1.3h1m-.8-.4h1m13.3 .9h1m-.8-2.5h1m-.6 .8h1m-.7 1h1m-24 1.2h1m2.4 .6h1m-.4-.5h1m2.2 1.3h1m-.5-1.5h1m-.9 1h1m-.2-.3h1m1.7 1.9h1m5-.3h1m1.8-2.1h1m-.2 0h1m1.5 1.6h1m-.5-.3h1m-22.8 2.4h1m3.3 .4h1m-.6-1.3h1m-.4 .3h1m-.6 1.5h1m0-.9h1m-.1-.3h1m.8 1.3h1m.9-1.1h1m.3 1.9h1m0-1.3h1m-11.4 3.9h1m-.6-.2h1m.5-.9h1m-.3-1.1h1m.9 2.2h1m.1-1.1h1m.6 1.7h1m.5-1.3h1m.8-1.7h1m.4 2.8h1m-.5-2.7h1m1.6 .3h1m2.9 1.2h1" stroke="#000" stroke-opacity="0.62" stroke-width="1" fill="none"/><path d="M127.9 229.3h1m-.1-.1h1m2.8-.1h1m9.3 .3h1m-.2-.1h1m-22.4 2h1m-.8 1.1h1m-.9-.2h1m-1 0h1m-.8-.3h1m-.8 .5h1m-.8-1.1h1m-.9 .1h1m-.8-.1h1m-.9-1.1h1m-.6 2.2h1m-.9-.8h1m-.7-.6h1m-.1 .5h1m-.9 0h1m-.8-.2h1m-1 .5h1m-1-.5h1m-.9 .4h1m-.8-.9h1m-.7 .7h1m-.9-.1h1m-1-.1h1m-.7-.5h1m-.7 1.1h1m-1 .2h1m-.8 .1h1m-.9-2.2h1m-1 1.4h1m-1 .6h1m-.8-1.4h1m-.8 1.1h1m-.9-1.4h1m-.8 .4h1m-1 1.4h1m-1 .2h1m-.9-.6h1m-.9-1.2h1m-1-.1h1m-1 1.3h1m-1 .1h1m-.9 .3h1m-.9-1.3h1m-1 .9h1m-1 .4h1m-.9-.5h1m-.9-.6h1m-.9-1.4h1m-1 .7h1m-1 1.4h1m-.9 .5h1m-.9 .1h1m-.7-.8h1m-1 .1h1m-.9-.8h1m-1 .5h1m-.9-.2h1m-.9-.8h1m-1 1.9h1m-.9-.2h1m-.7-1.9h1m-1 1.3h1m-.9 0h1m-1-.1h1m-.9 .2h1m-.9-.4h1m-1 .4h1m-.7-1.4h1m-.6 1.4h1m-1 .8h1m-1-.1h1m-.8-1.8h1m-1 .1h1m-.9-.3h1m-1-.1h1m-1 1h1m-.9 .7h1m-1 .1h1m-1 .5h1m-1-.4h1m-.8-.4h1m-1 .8h1m-.9 0h1m-.9-1h1m-1 0h1m-.8-1.3h1m-.9 2.1h1m-.7-.6h1m-1-.3h1m-1 .2h1m-.8-1.3h1m-.9 1.9h1m0-.6h1m-1 .6h1m-.8-2h1m-1 1.2h1m-.9 .7h1m-.9-1.2h1m-.5-.4h1m-.7 1h1m-.9 .5h1m-.9-1.4h1m1.1 1.4h1m-.9-.6h1m-.3-.5h1m-1 1.1h1m-1-.8h1m-1 1h1m-.7-.4h1m-.5 .4h1m-.5 .2h1m-.4-1.6h1m-.5 1.5h1m-.7 .2h1m-.8 0h1m-.4-2.3h1m-1 2.3h1m-.8-.7h1m-.9-2.1h1m-.7 2.1h1m-.5-1.7h1m-1 .1h1m-.9 2h1m-.9-.8h1m-.7-1.3h1m-1 1.9h1m-.7 .5h1m-.5-.7h1m-.5-1.2h1m-.7 1.8h1m-.8-1.6h1m-1 .8h1m-.3 .8h1m1.1 .1h1m-.9-2.1h1m-.3 2.1h1m-.4-.1h1m-29.1 .3h1m-.7 2.5h1m-.6-2h1m-.9-.6h1m-.7 1.2h1m-1 1.6h1m-.6-2.6h1m-1 .3h1m-1 2.3h1m-.9-2.6h1m-1 .8h1m-.7-1h1m-.9 1.7h1m-.9 .6h1m-1 .6h1m-1 .1h1m-.9-.3h1m-.9-2.5h1m-1 1.7h1m-1 .2h1m-1 .9h1m-1-.3h1m-.9-1.2h1m-.8 0h1m-1 1.4h1m-.9-.1h1m-.9-1.9h1m-.9 .6h1m-.9 .9h1m-1 0h1m-.8-2.2h1m-.8 1.7h1m-.9-1.6h1m-.8 2h1m-.9 0h1m-1 .5h1m-.9-2.7h1m-1 2.7h1m-.8-.3h1m-.7-2.3h1m-1 .9h1m-1 .8h1m-.9-1.2h1m-1 1h1m-.9 .2h1m-1 .4h1m-.9-1.6h1m-1 1.6h1m-1 0h1m-.9-1.6h1m-1 1.1h1m-1 .1h1m-.4-1.3h1m-.9-.3h1m-1 2.4h1m-.9 .1h1m-.9-2.4h1m-1 .5h1m-1 1.6h1m-.9 .5h1m-.9-2.4h1m-.9 .7h1m-1-.4h1m-1 0h1m-.9 .8h1m-.8-1.1h1m-1 1.5h1m-1 0h1m-.7 .9h1m-1-.4h1m-.9 .3h1m-.9-2.5h1m-.9 .3h1m-.9 2.3h1m-.9-1.6h1m-1 1.5h1m-.6-2.1h1m-.9-.2h1m-.8-.5h1m-1 1.6h1m-1 .1h1m-.9-.6h1m-.8 1h1m-.8 .5h1m-.9-.3h1m-.8-2.4h1m-1 .9h1m-.9 .9h1m-.9-.4h1m-1 .5h1m-.8 .5h1m-1-.8h1m-.6-.3h1m-.9 .7h1m-.9-.1h1m-.9-.8h1m-1-.1h1m-.8-1h1m-.8 .2h1m-1 1.8h1m-.7-1.6h1m-1 1.7h1m-1-.4h1m-.8-.2h1m-.8 1.2h1m-1 .1h1m-.9 .1h1m-.9-1.7h1m-1-.3h1m-.9-.7h1m-1 .7h1m-1-.2h1m-.9 .1h1m-.9-.7h1m-.9 .3h1m-.9 1.8h1m-.8-1.8h1m-.8 1.9h1m-.6-1h1m-.8 1.1h1m-.7 0h1m-.9-1.4h1m-.3-.1h1m.8 .8h1m-.5-.1h1m-.9 .3h1m-.6-.5h1m-.6 .1h1m-.9 .1h1m-.7-.4h1m-.7 .9h1m-.4 .8h1m-.8-1.5h1m-.8-1.3h1m-.9 2.7h1m-.7-2.4h1m-.8 .7h1m-.3-.7h1m-.7-.3h1m-.9 1.2h1m-.9-.1h1m-.9-.7h1m-1 1.8h1m-.8-1.2h1m-1 1.9h1m-.9-.4h1m-.9-.8h1m-.8-1.1h1m-.9 .4h1m-.9-.3h1m-1 1.1h1m-.3 .7h1m-1 .4h1m-.9-2.2h1m-1 1.4h1m-.9-.2h1m-.9-1h1m-.9-.9h1m-.9 .9h1m-.8 1.6h1m-.8-1.4h1m-1 1.8h1m-.9-.9h1m-.9-2h1m-.8 2.5h1m-.9-1.9h1m-1 1h1m-.9-.4h1m-.9 .5h1m-.6 .7h1m-.8-.4h1m-.5-1.9h1m-1 1.8h1m-.9-1.4h1m-.3-.5h1m-1 1.9h1m-.7-1.1h1m-1 .9h1m-.7 1.1h1m-.9-2.3h1m-.2 1.2h1m-.6-1.7h1m0 2.9h1m-.7-1.3h1m-1 .8h1m-35.7 3.3h1m.1-.8h1m-.8 .4h1m-.9 .1h1m0-1h1m-.9 .4h1m-.5 .8h1m-.9-.3h1m-.9 .2h1m-.8-2h1m-.9 1.1h1m-1 0h1m-.9-.4h1m-1 .7h1m-.7-1.4h1m-.7 1.4h1m-.9-.6h1m-.8-.1h1m-1 1.5h1m-.9-1.2h1m-1 .7h1m-.9-.1h1m-1 .1h1m-.9-.9h1m-1 1.4h1m-.9-1h1m-.9 .6h1m-1-.6h1m-.9 .6h1m-.9-.9h1m-.9-.4h1m-1 .5h1m-.8 1.1h1m-.7-1h1m-.9-1.6h1m-1 1.2h1m-1-.2h1m-.9 .5h1m-.9-.7h1m-1 .3h1m-1 1.6h1m-.9-2.3h1m-1 .3h1m-1 1.9h1m-.8-.6h1m-1 .1h1m-.9 .1h1m-.7-1.3h1m-.9 1h1m-1-.2h1m-.9-.9h1m-1 .4h1m-1 .5h1m-.9-.8h1m-.9 .4h1m-1-.8h1m-.8 .5h1m-1 1.1h1m-.6-.9h1m-1-.1h1m-.9 .8h1m-.9-1.3h1m-.9-.3h1m-1 1.5h1m-.9 .9h1m-.8-2.6h1m-.8 1.9h1m-.7-1.1h1m-.8 .4h1m-1 .8h1m-.9-.5h1m-1 .1h1m-1 1h1m-.9-2.1h1m-1 2.1h1m-.9-2.1h1m-.9-.2h1m-1 1.9h1m-.8-.6h1m-1 .4h1m-1 .2h1m-.9-2h1m-1 .4h1m-.9 1h1m-.8-.4h1m-1-.3h1m-.9-.1h1m-1 0h1m-1 1.9h1m-.8-.6h1m-.8-.3h1m-.9-1.1h1m-1 .8h1m-.9-.9h1m-1 1.1h1m-.9-1.8h1m-1 .5h1m-1 1.3h1m-1 1h1m-.8-1.1h1m-.9 .5h1m-.9-.2h1m-.9-1.9h1m-1 1.4h1m-.9-.7h1m-.9-.5h1m-1 2.5h1m-.9-2.8h1m-1 1.2h1m-1 .1h1m-.9-1.3h1m-1 .3h1m-.9 .8h1m-1 .8h1m-.9 .7h1m-.8-2.5h1m-.8 .8h1m-.9 .3h1m-.9-1.2h1m-.9 .8h1m-.9-.2h1m-.7 1h1m-1 .3h1m-.9-1.6h1m-.5 .3h1m-.9-.3h1m-1 .7h1m-.7 0h1m-1 .8h1m-.7-1.6h1m-.8 .4h1m-.6-.5h1m-1 .7h1m.2-.3h1m-.9 .1h1m-.8-.1h1m-.6 .5h1m4 1.4h1m-.2-1.2h1m-.7 1.6h1m.5-2.6h1m-1 .8h1m-.3-1h1m-.6 2.7h1m-.8-2.1h1m-1 2h1m-.7-2.5h1m-.9-.1h1m-.8 .7h1m0 .3h1m-.6 1.3h1m-.3-2.3h1m-.4 .3h1m-1 .6h1m-.2 .2h1m-.6-.8h1m-.7 0h1m-.9 .6h1m-.8 1.4h1m-.9-1.3h1m-.7-.5h1m-.9 1.1h1m-.7 .5h1m-.3 .2h1m-.7 .5h1m-.5-.1h1m-.8-1.9h1m-.3 1.1h1m-.9 .8h1m-.8-1.9h1m-.6 .9h1m-.6-.6h1m-.3-1h1m-38.5 5.8h1m-.9 0h1m-.9-.3h1m-.8-1h1m-.6 1.1h1m-.9-1.1h1m-1 .9h1m-.9-.9h1m-.9 .5h1m-1-.6h1m-1 .3h1m-1 .7h1m-.8-2h1m-.8 .7h1m-1 1h1m-1-.1h1m-1 .5h1m-.7-1.6h1m-1 .8h1m-.9-.7h1m-.9-.3h1m-1 1.5h1m-.9 .5h1m-.7-1.5h1m-.9-.7h1m-.8-.4h1m-1 1.7h1m-.7-.1h1m-1 .1h1m-.9-.7h1m-1 .3h1m-1 .2h1m-.8-1.7h1m-1 1.4h1m-1 1.5h1m-.8-.6h1m-1-.2h1m-.8 .5h1m-.9-1.3h1m-1 .5h1m-1 .4h1m-.8-.2h1m-.9-1.4h1m-1 0h1m-.9 .4h1m-1 .7h1m-1 1h1m-.8-.7h1m-1 .8h1m-.9-2.1h1m-1 .3h1m-1 1.1h1m-.9-1.5h1m-1 1.3h1m-1 .2h1m-.9-2h1m-1 1.2h1m-1-.1h1m-.9-.7h1m-1 .5h1m-.8-.5h1m-.8 1.1h1m-1 0h1m-1 1h1m-.8-1.1h1m-.9-1h1m-1 .7h1m-1 1.2h1m-.9-.2h1m-.8-2h1m-1 .2h1m-1 1.5h1m-1 .6h1m-.9-.1h1m-.9-2.3h1m-1 1.9h1m-.9-1.3h1m-1 1.4h1m-.9 .1h1m-.9-.2h1m-.9-.1h1m-.9-1.6h1m-.9-.1h1m-1 .3h1m-1 1.3h1m-1 .4h1m-1-.1h1m-.9-1.8h1m-1 2.4h1m-.7-1.1h1m-.9-1.1h1m-1 1.3h1m-.9 .6h1m-.9-1.3h1m-.8-1.2h1m-.9 1.2h1m-1 1.4h1m-.9-2h1m-1 2h1m-.9-2.2h1m-1 .6h1m-.7 .9h1m-.9-.8h1m-1 1h1m-.9-.3h1m-1 .6h1m-.9-.5h1m-.8 .4h1m-.9 .1h1m-.8-1.8h1m-.9-.3h1m-.9 1.1h1m-1 .7h1m-.9-1.2h1m-1-.1h1m-.9 .4h1m-.9 1.4h1m-.9-.5h1m-1-.5h1m-1 1.2h1m-.9-2.3h1m-.9 1.6h1m-1 .7h1m-.9-.8h1m-.9 0h1m-.9 .1h1m-.9 .9h1m-1-.3h1m-.8-1.7h1m-.9-.2h1m-1 1.7h1m-.9-2h1m-.9 .9h1m-1 .3h1m-.8-1.7h1m-1 .7h1m-.9 .1h1m-1 2.1h1m-.8-.2h1m-.7-.1h1m-.9-2h1m-.9 1.2h1m-1 1.2h1m-.8-.3h1m-.8-2.1h1m-.4 .3h1m-.8-.5h1m.3-.1h1m9.4 .1h1m-.5-.2h1m-.6-.1h1m-.4 .2h1m-.1 .7h1m-.9 .3h1m-.9-.1h1m-.5-1h1m-.3 1h1m-.8-.5h1m.1 .1h1m-.3 1.3h1m-.9-1.7h1m-.8 .8h1m-.3-1h1m-1 .3h1m.4 .7h1m.4 0h1m.7-1.1h1m-38.9 3.2h1m-.9 2.4h1m-.5-1.9h1m-1 2.1h1m-.8-1.8h1m-1 .6h1m-.8-.8h1m-.8-.1h1m-1 1.4h1m-1 0h1m-1 .3h1m-.8-.9h1m-1 .1h1m-.9 .2h1m-1 0h1m-.9-.8h1m-1-.2h1m-1 .8h1m-.9 .1h1m-.8-.5h1m-.8-.1h1m-1 .9h1m-.8 .3h1m-.9-1.3h1m-1 .6h1m-.8-.8h1m-.8 0h1m-1-.3h1m-1 .3h1m-.9-.1h1m-1 2h1m-.8-1.5h1m-1 1.5h1m-.9 .1h1m-.8-1.9h1m-1 1.7h1m-.7-1.2h1m-.8-1.1h1m-1 .5h1m-1 .7h1m-1 1h1m-.8-1.8h1m-1 .4h1m-.9-.5h1m-.9 1.8h1m-.9-1.4h1m-1 .7h1m-1 .9h1m-.9-1.5h1m-1 1.2h1m-1-.7h1m-.9-1.6h1m-1 2.4h1m-.9 .1h1m-1 .2h1m-.9-1h1m-.9-.4h1m-.9-.3h1m-.9-.9h1m-1 2.6h1m-.9-2.6h1m-.9 .1h1m-1 2.6h1m-1-.2h1m-.9-1.5h1m-1 .5h1m-.8 .8h1m-.8-.3h1m-.9-2.1h1m-.7 1.1h1m-1 1h1m-1 .6h1m-1 0h1m-.9-2.4h1m-1 .7h1m-.9-1h1m-.9 1.4h1m-.9-1.1h1m-.6 .7h1m-.8-.4h1m-1 .6h1m-.9 .8h1m-.9 .3h1m-.9-.9h1m-.9-1.2h1m-1 1.1h1m-1 .9h1m-1 .3h1m-.9-2.3h1m-.9 .5h1m-1 1.6h1m-1-.7h1m-.9-.3h1m-1-.7h1m-.8-.3h1m-1 1.9h1m-1-.7h1m-.9 1.1h1m-.9-.4h1m-.9 .2h1m-.9-1.4h1m-1 .4h1m-.9-.9h1m-1 1.1h1m-.9-.7h1m-.8 .1h1m-1-.4h1m-.8 0h1m-.9 1h1m-.9 .7h1m-.8-1.7h1m-1-.2h1m-1 2.4h1m-.9-2.6h1m-1 .6h1m-1 .8h1m-.9-.1h1m-1 .8h1m-.9-1.4h1m-1 .8h1m-1 .4h1m-.9-.3h1m-.9-1.7h1m-.9 1.5h1m-1 .5h1m-.9-1.7h1m-.9 0h1m-1 1.6h1m-.9-1.7h1m-1-.3h1m-1 .4h1m-.9 .7h1m-1 .8h1m-.9-.4h1m-.9 .1h1m-.9-.9h1m-.9-.7h1m-1 1.2h1m-1 0h1m-1-.7h1m-1 1.6h1m-1 .4h1m-.9-.2h1m-.9-2.1h1m-1 1.2h1m-1 1.2h1m-.8-2.4h1m-.9 2.3h1m-.9 0h1m-.9-.3h1m-.8-2.1h1m-1 1.9h1m-1 .7h1m-.7-1.4h1m-1-.6h1m-1 1.2h1m-.7-.9h1m-.7 .9h1m-1 .2h1m-.9-1.6h1m-.9 2h1m-.9-1.2h1m-.8-1.3h1m-.8 2.8h1m-.9-1.8h1m-.9-.1h1m-1 .4h1m-.8-.1h1m-.9-1.1h1m-1 .7h1m-.1-.2h1m-16.2 4.1h1m-.8-1.3h1m-1 1.3h1m-.6-.3h1m-.7-.1h1m-.9 1.6h1m-.8-1.1h1m-.9-.9h1m-.9 1.6h1m-.8-1.3h1m-1-.6h1m-1 2.2h1m-.9-.1h1m-.9-.2h1m-.9 0h1m-.9-2.5h1m-1 .4h1m-1 1.7h1m-.7-2h1m-1 .9h1m-.9-1.1h1m-1 3h1m-.7-.7h1m-1-.2h1m-1-.4h1m-.9-.3h1m-1 1.5h1m-.9-1h1m-.9-1.3h1m-1 1h1m-.9-.7h1m-1 1h1m-.8-1.5h1m-.9-.3h1m-1 1.8h1m-.8 .2h1m-1 .8h1m-1 0h1m-.9-.7h1m-.9-.4h1m-.8 .4h1m-1 .6h1m-.9-2.1h1m-1 1.5h1m-1 .8h1m-.8-2.7h1m-.8 1.1h1m-.9-.3h1m-1 1.6h1m-.9 0h1m-.9-1.4h1m-.9 0h1m-1 1.6h1m-.9-2.5h1m-1 1.8h1m-.9-1.2h1m-.9-.3h1m-1 1.6h1m-.9-1.3h1m-1 .9h1m-.8-1.9h1m-1 1.2h1m-.7-1.2h1m-1 .4h1m-1 2h1m-.8-2.1h1m-1 1.6h1m-.9 .8h1m-.9-.4h1m-.9-1.8h1m-.9 .8h1m-1-.5h1m-1 1.1h1m-.9 .4h1m-.9-1.3h1m-.9-.8h1m-1 1h1m-.8-.9h1m-1 1.8h1m-1-.4h1m-1 1.1h1m-.8 .1h1m-.9 0h1m-1-.3h1m-.8-1.9h1m-1 .2h1m-1 .3h1m-.9-.2h1m-1 .8h1m-.9 .9h1m-1 .2h1m-.8-1.7h1m-1 1.8h1m-.9-2.9h1m-1 2.3h1m-1-.2h1m-.9-1.6h1m-1 .6h1m-.9-1.1h1m-.9 2.1h1m-.9 0h1m-.9-.8h1m-1 .3h1m-.9-.5h1m-.9-1.1h1m-1 1.7h1m-.9-1h1m-1 1.8h1m-.9-1.5h1m-1 .9h1m-1 .5h1m-.9-1.6h1m-1 1.3h1m-.8-.7h1m-1 .4h1m-.9-1.2h1m-.9 .6h1m-1-.4h1m-1 1.7h1m-.8-1.2h1m-1-.2h1m-.9-.9h1m-1 .7h1m-.9 1.6h1m-.9-.7h1m-.9 .4h1m-1-.3h1m-.9-.7h1m-.8 .6h1m-1 .9h1m-.9-.2h1m-.9-1.1h1m-.9-1.2h1m-.9 .6h1m-.9 1.7h1m-.9-2.4h1m-1 0h1m-1 2.6h1m-.9-2.8h1m-1 .8h1m-1 1.6h1m-.9-2.3h1m-1 1.1h1m-.9 .9h1m-1-.6h1m-.9-.6h1m-1 .7h1m-.9-1.5h1m-.8 .1h1m-1 1.4h1m-.9-1.3h1m-1-.1h1m-.9 .7h1m-.9-.3h1m-1 1.8h1m-.9-2.1h1m-1 .3h1m-.9-.5h1m-1 1.4h1m-.9-1h1m-1 .6h1m-1-.3h1m-.7-.7h1m-.9 2.6h1m-.8-1.5h1m-1 0h1m-.9 .4h1m-1 .6h1m-1 .1h1m-.9-1.3h1m-1 0h1m-1 .1h1m-1 .6h1m-.9-1.3h1m-.7 .5h1m-.9 0h1m-.7-.9h1m-.7 0h1m.1 .1h1m-16.4 3.2h1m-.1 .7h1m-.9 .1h1m-.9 1.1h1m-.9-2.1h1m-1 .6h1m-.9-.1h1m-.3 .6h1m-.6-.9h1m-.9 .2h1m-.8 .6h1m-.9 .6h1m-1 .6h1m-.9-1.5h1m-.7-.2h1m-1 1h1m-.9-.8h1m-.9 .4h1m-.9 .7h1m-.9-1.5h1m-1 0h1m-1 1.3h1m-1 .5h1m-.6 .2h1m-1 .4h1m-.8-1.5h1m-.9-.9h1m-.7 .9h1m-1 1.5h1m-.7-2.4h1m-1 1h1m-.9 1h1m-.8-.6h1m-.9 .3h1m-.9-.1h1m-.5-1.6h1m-.9-.2h1m-1 1.1h1m-1-.4h1m-.6-.1h1m-.9-.6h1m-.9 .1h1m-.9 2.1h1m-.9-1.5h1m-1 1.2h1m-.9 .3h1m-.9-2.1h1m-1 .9h1m-.9-.7h1m-1 1.7h1m-.9-.9h1m-1 .4h1m-1 .4h1m-.9-1.3h1m-.9-.4h1m-1 2h1m-1-.2h1m-.8-.5h1m-.7-1.1h1m-1 .6h1m-1 .5h1m-.9 .1h1m-.9-.3h1m-1 .3h1m-.9-1.1h1m-1 .2h1m-1-.2h1m-.8 0h1m-1 2h1m-.9-2.6h1m-1 1.3h1m-1 1h1m-1-.2h1m-1-.3h1m-.9-.6h1m-1-.4h1m-.9 .3h1m-.9-.9h1m-.9 .4h1m-.9 .4h1m-1-.2h1m-1 .9h1m-.9 .2h1m-.9-1.9h1m-.9 1.8h1m-.9-1.6h1m-1 1.2h1m-.8-1.4h1m-.6 .3h1m-.9-.3h1m-1 .5h1m-1 0h1m-1 .6h1m-.9 0h1m-.7-.5h1m-.6 .7h1m-.7-.9h1m-.9 .5h1m-.9-.8h1m-.9 .1h1m-1 .5h1m-1 .1h1m-.9 .2h1m-.8-.7h1m-1 .8h1m-.4-.6h1m-11.5 2.7h1m-.9 .1h1m-.1-.3h1m-.4 .2h1m-.3-.1h1m1.2 0h1m.1 1h1m-.6-1.2h1m.2 .3h1m-1 11.5h1m-.3-1.2h1m-1 1h1m-.5-.8h1m-.7 .1h1m-.7-.8h1m-.9 1.3h1m-.9 .4h1m-.8-.2h1m-.8 .1h1m.3-.4h1m-.9-1.3h1m-5.4 4.4h1m-.5-.5h1m-.7 .8h1m-.1-1.5h1m-.1 1.2h1m-.7-1.3h1m-.9 .9h1m-.7-1.4h1m-1 1.9h1m-.7-2.2h1m-.9-.1h1m-1 .5h1m-.9 1.6h1m-1 .4h1m-.9-.4h1m-.9-.5h1m-.7-1.5h1m-.8 .9h1m-.7 1h1m-.7 .1h1m-.7 .6h1m-.6-.9h1m-.3-1.6h1m-1-.1h1m-.5 .5h1m.1 1.3h1m-10.4 1.8h1m-.7 .4h1m-.7 1.3h1m-.9-.2h1m-.5-.3h1m-.4-1.3h1m-.3-.1h1m0 1.3h1m.2-1.2h1m-.9 1.6h1m-1-.5h1m-.4-1.6h1m-1 .6h1m-.8 .3h1m-1 1.5h1m-.6-.6h1m-.9-1.8h1m-1 1.3h1m-.6-1h1m-.9-.3h1m-.5-.1h1m-.8 .4h1m0-.3h1m-.8 .3h1m-8.5 3.2h1m0-.5h1m.1 1.9h1m-.8-1.9h1m0 1.5h1m0-.8h1m-.6 .2h1m.3 0h1m-.7 .2h1m-5.8 1.7h1m-.3 .2h1" stroke="#000" stroke-width="1" fill="none"/></g>
<g filter="url(#bl)"><path d="M0 0" stroke="#000" stroke-width="1" stroke-opacity="0.6" fill="none"/><path d="M0 0" stroke="#000" stroke-width="1" fill="none"/></g>
<rect x="107.5" y="228.5" width="55.0" height="51.0" stroke="#4a4a4a" stroke-width="1" fill="none"/>
<line x1="135.5" y1="228.5" x2="135.5" y2="279.5" stroke="#4a4a4a" stroke-width="1"/>
<line x1="107.5" y1="256.5" x2="162.5" y2="256.5" stroke="#4a4a4a" stroke-width="1"/>
<text x="106.3" y="284.9" font-family="'Liberation Serif', serif" font-size="3.6" font-weight="bold" text-anchor="start" fill="#333">10</text>
<text x="110.0" y="282.7" font-family="'Liberation Serif', serif" font-size="2.6" font-weight="bold" text-anchor="start" fill="#333">0</text>
<rect x="107.0" y="279.5" width="1" height="1.6" fill="#333"/>
<text x="120.05" y="284.9" font-family="'Liberation Serif', serif" font-size="3.6" font-weight="bold" text-anchor="start" fill="#333">10</text>
<text x="123.75" y="282.7" font-family="'Liberation Serif', serif" font-size="2.6" font-weight="bold" text-anchor="start" fill="#333">1</text>
<rect x="120.8" y="279.5" width="1" height="1.6" fill="#333"/>
<text x="133.8" y="284.9" font-family="'Liberation Serif', serif" font-size="3.6" font-weight="bold" text-anchor="start" fill="#333">10</text>
<text x="137.5" y="282.7" font-family="'Liberation Serif', serif" font-size="2.6" font-weight="bold" text-anchor="start" fill="#333">2</text>
<rect x="134.5" y="279.5" width="1" height="1.6" fill="#333"/>
<text x="147.55" y="284.9" font-family="'Liberation Serif', serif" font-size="3.6" font-weight="bold" text-anchor="start" fill="#333">10</text>
<text x="151.25" y="282.7" font-family="'Liberation Serif', serif" font-size="2.6" font-weight="bold" text-anchor="start" fill="#333">3</text>
<rect x="148.2" y="279.5" width="1" height="1.6" fill="#333"/>
<text x="161.3" y="284.9" font-family="'Liberation Serif', serif" font-size="3.6" font-weight="bold" text-anchor="start" fill="#333">10</text>
<text x="165.0" y="282.7" font-family="'Liberation Serif', serif" font-size="2.6" font-weight="bold" text-anchor="start" fill="#333">4</text>
<rect x="162.0" y="279.5" width="1" height="1.6" fill="#333"/>
<text x="135.0" y="289.0" font-family="'Liberation Sans', sans-serif" font-size="3.0" font-weight="bold" text-anchor="middle" fill="#333">EGFP</text>
<text x="104.3" y="281.8" font-family="'Liberation Serif', serif" font-size="3.6" font-weight="bold" text-anchor="start" fill="#333" transform="rotate(-90 104.3 281.8)">10</text>
<text x="104.3" y="269.05" font-family="'Liberation Serif', serif" font-size="3.6" font-weight="bold" text-anchor="start" fill="#333" transform="rotate(-90 104.3 269.05)">10</text>
<text x="104.3" y="256.3" font-family="'Liberation Serif', serif" font-size="3.6" font-weight="bold" text-anchor="start" fill="#333" transform="rotate(-90 104.3 256.3)">10</text>
<text x="104.3" y="243.55" font-family="'Liberation Serif', serif" font-size="3.6" font-weight="bold" text-anchor="start" fill="#333" transform="rotate(-90 104.3 243.55)">10</text>
<text x="104.3" y="230.8" font-family="'Liberation Serif', serif" font-size="3.6" font-weight="bold" text-anchor="start" fill="#333" transform="rotate(-90 104.3 230.8)">10</text>
<text x="100.5" y="254.0" font-family="'Liberation Sans', sans-serif" font-size="3.6" font-weight="bold" text-anchor="middle" fill="#333" transform="rotate(-90 100.5 254.0)">CD13,33-PE</text>
<path d="M100.3 225.3h2.6l-1.3 1.8z" fill="#222"/>
<text x="108.3" y="227.7" font-family="'Liberation Serif', serif" font-size="7.25" font-weight="bold" text-anchor="start" fill="#111" stroke="#111" stroke-width="0.15">64</text>
<text x="153.6" y="227.7" font-family="'Liberation Serif', serif" font-size="7.25" font-weight="bold" text-anchor="start" fill="#111" stroke="#111" stroke-width="0.15">10</text>
<text x="108.3" y="294.79999999999995" font-family="'Liberation Serif', serif" font-size="7.25" font-weight="bold" text-anchor="start" fill="#111" stroke="#111" stroke-width="0.15">26</text>
<text x="153.6" y="294.79999999999995" font-family="'Liberation Serif', serif" font-size="7.25" font-weight="bold" text-anchor="start" fill="#111" stroke="#111" stroke-width="0.15">0.1</text>
<g filter="url(#bl)"><path d="M213.3 229.3h1m-22 .9h1m-.2 1.3h1m-.8-.4h1m1.6-.2h1m.4 .5h1m15.8-1.3h1m3.7 .8h1m-.4 1h1m.2-.5h1m-.7-1.4h1m-.7 .9h1m-.6 1h1m0 .4h1m-1-.3h1m-.8-.4h1m2.7 .8h1m1.8-1.4h1m-41.2 3.6h1m-.3-.3h1m-.1 .4h1m-.1-1.7h1m-.8 1.2h1m.4-.8h1m-1 .9h1m16-.1h1m5.1-1.7h1m.2 1.6h1m-.8-.8h1m.6 .1h1m-.2-.3h1m-.6 .4h1m0 .3h1m-.9 .3h1m-.7 1.1h1m5.6-.7h1m1.7 .6h1m-.8 0h1m1.6-1.7h1m-.8 2h1m-44.7 1.8h1m-.3-.3h1m-1 .2h1m0-.3h1m17.5-.3h1m.2-.4h1m1.3 .3h1m.3-.1h1m-.2-.2h1m-.8 1.7h1m-.1-1.8h1m.8 1.6h1m1.5 0h1m1.3-1.6h1m-.3 .4h1m.1-.2h1m.5 1h1m-.9-.8h1m-.8 1.3h1m.9 .2h1m1.9-.9h1m-.4 0h1m-.7-.8h1m-.8 .4h1m-1 .3h1m-46.1 1.7h1m-.7 2.4h1m-1 .1h1m.8-1.2h1m18.6 .2h1m1.3-1.6h1m5.1 .7h1m11.6 1.5h1m.2-.1h1m.3-.9h1m2.1 .4h1m-30.6 2.5h1m.8-.1h1m-.4 .4h1m-.7 1.1h1m-.5-2.1h1m-.8 2.2h1m-.7-.2h1m.4-.4h1m.5-.8h1m-.5-.9h1m-.1 1.6h1m-1-.3h1m-.5-.3h1m14 .8h1m2.6 .5h1m-.3-1.2h1m-47.3 3.8h1m-.9-.3h1m15.4 0h1m.8-1.8h1m1.2 .9h1m-.9 1.6h1m3.7-.1h1m.2-2.2h1m-.8 2h1m-.7-.5h1m14-1.1h1m.4 .3h1m.2-.1h1m1.2-.7h1m-48 4h1m.5-.3h1m8.9 1.9h1m.5-1.2h1m4.5-.5h1m.8 .2h1m3.7-.5h1m-.3 1h1m.2 .8h1m12.1-1.8h1m-.6 .8h1m-.3-.9h1m-.8 .6h1m-.8 .4h1m-.4-1.2h1m-.3 .8h1m-.7-1.1h1m.2 2.7h1m1.7 0h1m-.7-2.1h1m-45.2 3h1m-.2 .5h1m3.9 .8h1m1.6-1.6h1m-.7 1.3h1m1.3-1.5h1m-.8 2.1h1m1.3-2h1m.4 .8h1m.2 1.4h1m-.8-1.2h1m-.1 .8h1m.2-1.6h1m-.9 .1h1m-.5 1.7h1m3.1-.8h1m.3-1.5h1m-.2 1.5h1m-.8-.9h1m.7 .9h1m5.2 .6h1m1.2-1.3h1m-.4-.7h1m-.5 0h1m1.2 2.4h1m-.7-.9h1m-.1-.4h1m-.8 .8h1m.3 .6h1m1.8-.1h1m-46.4 2.7h1m2-2h1m-1 .6h1m0 1.9h1m.1-1.8h1m0-.4h1m-.7 .4h1m0 1.3h1m-.3-1.1h1m-.6-.2h1m2.2-.5h1m4.5 0h1m-.8 .2h1m1.5-.6h1m5.7 1.3h1m0 0h1m-.2-.8h1m1.2 .3h1m0-.7h1m2.8 .1h1m6.7 1.1h1m-39.9 4.6h1m2.8-.1h1m.4-.6h1m1.9 .7h1m-.2-1.9h1m0 1.6h1m-.9-2h1m-.3-.3h1m-.7 .4h1m-.5 2.1h1m-.4-2.5h1m1.3 2.6h1m8.8-1.4h1m-.1 .7h1m-.6-.2h1m-.8 .8h1m3.4-1.7h1m-33.6 2.9h1m.4 1.5h1m1.7-2h1m-.8 .4h1m1.6-.5h1m-.3 .2h1m2.2 1h1m1.2-.5h1m-.5 1.1h1m.5-.2h1m1.7 .6h1m2.3-.7h1m.3-.1h1m-.3 .1h1m4.9-1.8h1m-.9 1h1m5.2 .1h1m3.8 1.4h1m-44.7 2.3h1m1.1-1.6h1m.1 .6h1m2.5 .3h1m-.5 .4h1m.5-.4h1m1.3-1.3h1m4.2 .2h1m.2 2.1h1m3-.9h1m4.2 1.6h1m3.8-.1h1m.9-.3h1m3.5-.6h1m4.5-.4h1m1.3-1.1h1m-46 3.2h1m2.5 1.9h1m-.2-1.8h1m-.9 .9h1m-.5-1.6h1m0 .3h1m8-.2h1m.9-.1h1m-.3 .9h1m8.7 0h1m-28.5 4.6h1m.3-2.5h1m.3 2.1h1m1.1-2h1m-.3 .1h1m7.4-.3h1m4.1 1.9h1m0-1.3h1m5.5 .5h1m-.5-.8h1m6.4 1h1m5-1.2h1m2.1 2.4h1m.7-1.9h1m-42.4 3.5h1m6 1.2h1m1.8-1.7h1m-.9 .8h1m-.1-.5h1m-.3-.7h1m10 2.1h1m6.8-.7h1m4.8 .6h1m-.5-.8h1m3.7 .7h1m-40.8 2.3h1m.2 .9h1m2.9-2.2h1m-.1 0h1m-.1 .4h1m6.3 .6h1m-9.1 2.2h1" stroke="#000" stroke-opacity="0.62" stroke-width="1" fill="none"/><path d="M202.5 229.4h1m-1-.1h1m-.6-.1h1m.3 .1h1m-.3 .2h1m-.6-.2h1m-.4 .2h1m-10.6 2.8h1m1.2-1.1h1m-1 1.2h1m-.6 0h1m-.6-.9h1m-1 .6h1m-.7-1.2h1m-.9 1.5h1m-.8-1.1h1m-.9 .4h1m-.8-1.6h1m-.9 2.1h1m-.7-.9h1m-.9 .4h1m-.9-.5h1m-.9 .6h1m-.8 0h1m-1 .6h1m-.9-.6h1m-.9 .4h1m-.8-.1h1m-.8-.8h1m-.9-1h1m-1 1.9h1m-.9-.4h1m-1-.6h1m-1 .8h1m-.8 .4h1m-.9-1.6h1m-1 .5h1m-1 .7h1m-.8-1.6h1m-1-.4h1m-1 .9h1m-.8 .7h1m-.9-.2h1m-.9 .8h1m-.9-1h1m-1 1h1m-.9-1.3h1m-.9-1.3h1m-1 .6h1m-1 1.9h1m-.9 .2h1m-.9-1.8h1m-1 0h1m-.9-.2h1m-1 1.3h1m-1 .8h1m-.8-1.5h1m-1-.4h1m-1 1.7h1m-.7-1h1m-.9-.6h1m-.8 1h1m-1-.4h1m-.9 .3h1m-.9-1.9h1m-1 1.4h1m-1 .3h1m-.9 .2h1m-.9-.3h1m-1 1.1h1m-.9-1.2h1m-1 1h1m-1 .2h1m-.9-1.4h1m-1 .2h1m-.9 .5h1m-.9 .6h1m-.9 0h1m-.9-2.2h1m-1 1.6h1m-.9-1.3h1m-.9 .9h1m-1 .2h1m-1 .5h1m-.9 .4h1m-.9-1.1h1m-1 .4h1m-.9-1.4h1m-1 1.5h1m-1-.5h1m-.9-1.3h1m-1-.1h1m-1 .3h1m-1 1.5h1m-1 .7h1m-.9-1.1h1m-1 .6h1m-.9-1.4h1m-.9-.7h1m-1 1.4h1m-.9 .7h1m-1-.2h1m-.8-1.5h1m-1 1.3h1m-.9-.8h1m-1 1.3h1m-1 .4h1m-.8-2h1m-1-.3h1m-1 1.2h1m-.9-1.1h1m-.9-.4h1m-1 2.1h1m-.9-1.4h1m-.9 0h1m-1 1.3h1m-1 .4h1m-.9 0h1m-.9-.8h1m-.8-1.1h1m-.9 .4h1m-1-.6h1m-1 2.3h1m-1-.3h1m-.9-1.6h1m-1 1.7h1m-.9 0h1m-.9 0h1m-.9 .1h1m-.9-.8h1m-.9-.3h1m-.7-.6h1m-.8 1.3h1m-1 0h1m-1-.1h1m-.8 .5h1m-.8 0h1m-.9-2.1h1m-1 1.2h1m-.5 1.1h1m-.8-2.3h1m-.7 1h1m-.8-.8h1m-.7 .5h1m-17.1 4.3h1m-.4-.6h1m-.7 1h1m-.8-.2h1m-.7-2.1h1m-.7-.5h1m-1 2.8h1m-.7 0h1m-.7-.3h1m-.9 .1h1m-.9-1.3h1m-1 .7h1m-1 .6h1m-.7-1.5h1m-.9-.2h1m-.9 .8h1m-1-.3h1m-1 .9h1m-1 .1h1m-.7-1.8h1m-1 .2h1m-1 1h1m-.8 .4h1m-.8-.9h1m-1 1.2h1m-1 .3h1m-.9-1.9h1m-1 1.2h1m-.9-1.6h1m-1 2.3h1m-.9-2.6h1m-1 1.1h1m-.9 .1h1m-.9-.5h1m-.9 1.9h1m-.8-.9h1m-.8-2.1h1m-1 1h1m-.9-1h1m-1 0h1m-.9 .2h1m-1 1.5h1m-.9-1.2h1m-1 1.9h1m-1 .4h1m-.9-2h1m-.9 .3h1m-.9-.2h1m-1 2h1m-.9-2.2h1m-.9-.7h1m-1 1h1m-1 1.8h1m-.9-1.5h1m-.9-.6h1m-1 1.7h1m-.8-2h1m-.9 0h1m-1 0h1m-1 .7h1m-1 1.2h1m-1 .7h1m-.9 0h1m-.9-2.2h1m-1 1.3h1m-.9-2h1m-1 .7h1m-1-.1h1m-.9 2.1h1m-.9-2.1h1m-.9 1.7h1m-.9-2h1m-1 2.3h1m-.9-1.5h1m-1-.1h1m-.9-.3h1m-1 1h1m-.9-1h1m-1 1.9h1m-.9-2.4h1m-1 2.1h1m-1 0h1m-.9-1h1m-1-.6h1m-.9 .1h1m-.8 .6h1m-.9-1.2h1m-1 .4h1m-1 .5h1m-1 .5h1m-1 .2h1m-1 1.1h1m-.9-1.2h1m-1 .6h1m-1-.6h1m-1 .4h1m-1 .8h1m-.9-2.6h1m-1 .9h1m-1 .7h1m-1 .2h1m-.9-.9h1m-.9-.9h1m-1 .9h1m-1 .3h1m-1 1.4h1m-.9-2.8h1m-.9 1.7h1m-1-.3h1m-.9-1.4h1m-1 2.7h1m-.9-2.6h1m-.9 0h1m-1 .3h1m-1 1h1m-.9-1.5h1m-1 1.2h1m-.9-.9h1m-1 1.8h1m-.9 .5h1m-.9-2h1m-1 0h1m-1 .9h1m-1 1.2h1m-.9-2.7h1m-1-.1h1m-.9 1.2h1m-1 .2h1m-1 .9h1m-.9-.6h1m-1 0h1m-1 .9h1m-.9-2.6h1m-1 .9h1m-.9 .2h1m-.9-1.1h1m-1 .3h1m-.9 2.7h1m-1-.4h1m-.9-.8h1m-.9-.2h1m-1 .5h1m-.9-1.9h1m-1 2.8h1m-1-.1h1m-.9-2.5h1m-1 .6h1m-1 .7h1m-.9-1.4h1m-1-.2h1m-1 .6h1m-1 .7h1m-.9-1.1h1m-1 .1h1m-1 .9h1m-1-.5h1m-.9-.5h1m-1 1.1h1m-.7-1h1m-1 .2h1m-1 1.9h1m-.9-.9h1m-1 1.3h1m-.9-2.7h1m-1 2.6h1m-.9-2.5h1m-1 1.8h1m-.9-1.6h1m-.9-.4h1m-1 .6h1m-.9 1.1h1m-1 .5h1m-1 .1h1m-1-.2h1m-.9-.1h1m-1-.3h1m-.9-1.8h1m-1 1.2h1m-1 .4h1m-.9-.8h1m-.9 1.2h1m-1 .6h1m-.9-1.9h1m-1 .9h1m-1-.1h1m-.9-1.1h1m-1 .4h1m-1 .7h1m-1 .1h1m-1 .2h1m-1 1.1h1m-.9-2.8h1m-1 2.5h1m-.9-2.5h1m-1 1.2h1m-1 .4h1m-.7 .9h1m-1 .1h1m-.9 0h1m-.9-2.7h1m-.9 1.4h1m-1 .4h1m-1 0h1m-.9-1.6h1m-.9 .1h1m-1 2.4h1m-.8-2.3h1m-1 1.1h1m-1 .2h1m-.9-1.4h1m-1 .9h1m-1 0h1m-1-.6h1m-1 1.1h1m-1-.1h1m-.9-1.4h1m-1 .8h1m-1 .4h1m-1 .7h1m-.7 0h1m-1 .1h1m-.6-1.5h1m-.2 .3h1m-.9-.8h1m-1 .4h1m-17.2 5h1m-.5-1.7h1m-.9 .1h1m-1 .6h1m-.7-.6h1m-1 1.8h1m-1-.1h1m-1-.1h1m-.8-.1h1m-.8-2h1m-1 2.2h1m-.6-.3h1m-.9-1.4h1m-.9-.9h1m-.8 1.2h1m-.9 1h1m-1 .6h1m-.8-2.3h1m-.9 .4h1m-.8-.2h1m-.6-.4h1m-1 .9h1m-1 1.4h1m-.9-1.3h1m-1-.9h1m-.9-.3h1m-.7 2h1m-.9 .1h1m-.8-1.9h1m-.9-.2h1m-1 .9h1m-1-.5h1m-1 1.7h1m-1-.1h1m-1-.2h1m-.7-1.9h1m-.9 1.8h1m-.8 .7h1m-.9 0h1m-.8-1.9h1m-.9 .9h1m-.9-1h1m-.4 1.7h1m-.9-2h1m-.8-.1h1m-1 .7h1m-.7 .5h1m-1-.6h1m-.9 1.8h1m-.7-1.9h1m-.9-.3h1m-.6 0h1m-1 .7h1m-.9-.8h1m-.9 .6h1m-1-.1h1m-1 1.2h1m-.9-1.7h1m-1 2.1h1m-.9 0h1m-.9 .4h1m-.7-1.5h1m-1-.7h1m-.9 1.2h1m-1-.2h1m-.9-1.3h1m-1 1.1h1m-1 .5h1m-.9 .8h1m-.9-1.9h1m-.8-.6h1m-1 1.7h1m-.9-1.3h1m-1 .5h1m-.9 .5h1m-.8-1.2h1m-1 2h1m-1 .4h1m-.9-1.9h1m-1 .4h1m-.9-.2h1m-.8-.7h1m-1 1.4h1m-1 .8h1m-1 0h1m-.8 .3h1m-.8-1.5h1m-.9-.1h1m-1 .4h1m-.8-.8h1m-1 .4h1m-1-.7h1m-.9-.3h1m-1-.1h1m-1 2.1h1m-1-.2h1m-.8-1.5h1m-.8-.3h1m-1 1.1h1m-.6 0h1m-.8-.7h1m-1 0h1m-1 1.7h1m-.9-2.1h1m-.9 1.1h1m-.8 0h1m-1-.6h1m-.9 1.1h1m-.7-1.6h1m-1 .8h1m-1 1.8h1m-.7-.6h1m-.8-1.7h1m-1 2.1h1m-.8-2.6h1m-.8 0h1m-1 2.3h1m-.9-1.2h1m-.8-.8h1m-1 1.3h1m-1 .7h1m-.6-1.5h1m-1 .9h1m-.9-1.5h1m-1-.1h1m-1 1.4h1m-.7 .5h1m-.7-1.8h1m-.9-.1h1m-.4 1.9h1m-.7-1.7h1m-1-.2h1m.1 .9h1m13.8 1.1h1m-.5 .7h1m-34.7 .7h1m.1 .3h1m-.8-.7h1m-1 1.7h1m-.8 1.1h1m-.9-.9h1m-.9-.6h1m-.8 .1h1m-1 .8h1m-.8-.6h1m-.9 .1h1m-1-.3h1m-.8 1.1h1m-.8-1.6h1m-.9 .1h1m-1 1.3h1m-.9-1.8h1m-.7-.5h1m-1 .8h1m-1 .2h1m-.9-1.1h1m-1 1.5h1m-.3-1.3h1m-.8 2.1h1m-.9 .4h1m-.9-2.8h1m-.8 .5h1m-.9 .9h1m-1 1.5h1m-.9-.7h1m-.7-1.3h1m-1 .4h1m-.9 .3h1m-.9 1.2h1m-.6-2.6h1m-1 1.6h1m-.9-.9h1m-.7 1.5h1m-.9-.1h1m-.5 .1h1m-.9-.6h1m-.9 1.2h1m-.9-2.9h1m-1 2.2h1m-1-.5h1m-.8-1.6h1m-.9 2.2h1m-.9-1.6h1m-1 1.8h1m-1 0h1m-.9-1.7h1m-1 .7h1m-.9-1.4h1m-.9 1.8h1m-.7-1.2h1m-.7 .3h1m-.7 .9h1m-.9 .6h1m-.9-1h1m-1 .3h1m-.8-1.7h1m-1 1.6h1m-.7 0h1m-.7-1.6h1m-.5 2.3h1m-.8-.5h1m-1-.4h1m-.7-.9h1m-.8 1.9h1m-.8-1.3h1m-1 .6h1m-.9-.1h1m-1 .6h1m-.7 .3h1m-.6-1.1h1m-1 1.3h1m-.6-1.6h1m-.9 .3h1m-1 .6h1m-.9-1.7h1m-.6 .3h1m-.8 .1h1m-.9 1.2h1m-.5-1.8h1m-.5-.1h1m-.6 1.2h1m-.9-1.2h1m-.8 .6h1m-.6-.7h1m-.6-.1h1m-.9 .2h1m-1 .4h1m-.9 1.2h1m-.8-.1h1m-.6 .4h1m-.9-.2h1m-.7-.6h1m-.4-.1h1m-.8-.4h1m9.9 1.8h1m-.8 .4h1m-.7-.9h1m-.4-.1h1m-1 .7h1m-.9-1.7h1m-.9 1.7h1m-.9-.4h1m-.9 .6h1m-.9 .1h1m-.7-2.4h1m-.6 1.2h1m-.9 0h1m-.8 .3h1m-.7-1.9h1m-1 2h1m-.6-1.1h1m-.6 1.3h1m-.6-.1h1m-.9 .7h1m-.8-2.6h1m-.9 1.8h1m-.5-.1h1m-.7-1.7h1m-1 1h1m-.9-.8h1m-1 1h1m-.9-.4h1m-.7 .5h1m-.9 .5h1m-1 .5h1m-.9 .3h1m-.9-2.6h1m.1-.1h1m-.7 2.3h1m.3-.5h1m-.5-.4h1m-40.7 3.4h1m-.1-.6h1m-.8-1.4h1m-.8 2h1m-1 .6h1m-.9-2.3h1m-1 1.2h1m-.3 .5h1m-.8-1.2h1m-.9 1.2h1m-.8-.9h1m-.9-.4h1m-.9 0h1m-1 .9h1m-.9-1.6h1m-1 .5h1m-.9 2.2h1m-.9-.2h1m-.9-1.5h1m-1-.2h1m-.9-.3h1m-1 1h1m-.9-.7h1m-1 .1h1m-.7-.5h1m-.6 1.7h1m-.6-.4h1m-.9-1.4h1m-1 2.2h1m-.9-.4h1m-.8 .2h1m-.9-1.8h1m-.8 1h1m-.6 .8h1m-1 .5h1m-.7-2.3h1m-1 2.1h1m-.8-1.5h1m-1 1.7h1m-.5-1.9h1m-1 .1h1m-.9 1.7h1m-.8-.1h1m-.9-1.9h1m-.8-.4h1m-.5 1.4h1m-.8 .3h1m-.9 .2h1m-.6-1.4h1m-.4 1.4h1m-.8-1.9h1m-.9 2.1h1m-.9-2.4h1m-.5 0h1m-1 1.3h1m-.9 1.4h1m-.9-2.4h1m-.9 2.5h1m-1-.3h1m-.9 .1h1m-.8-1h1m-.9-1h1m-.5-.6h1m-.5 .7h1m-.9-.6h1m-1 1.4h1m-1 1.1h1m-.4-.9h1m-1 .5h1m-.8 .1h1m-1-.8h1m-.8-1.2h1m-.7 .8h1m-.9 1h1m-1 .6h1m-.5-1.7h1m-.9-.5h1m-1 .3h1m-.7 1.1h1m-.1-.9h1m-.4 .3h1m-.9-.2h1m-.9 .7h1m-.8 0h1m-.8 .2h1m-.5-2h1m-.1 .6h1m10.1 1h1m-.7-1.4h1m-.8 .4h1m-.2 2.2h1m-.7-1.3h1m-.7 .9h1m-.8 .2h1m-.9-1.8h1m-.9 .1h1m-.8 .2h1m-.9 0h1m-.9 .5h1m-.9 .2h1m-.5-1.7h1m-.9 .1h1m-1 1.8h1m-.8-1.2h1m-.5 2h1m-.8-2.3h1m-.8-.3h1m-1 2.1h1m-.8-1h1m-.7 0h1m-.9 .2h1m-.6 1.3h1m-.9-2.8h1m-.9 1.6h1m-1 1h1m-1 .2h1m-.9-2.8h1m-1 2.6h1m-.9-.6h1m-.9-2h1m-1 .6h1m-.9-.2h1m-.9 .3h1m-.8-.7h1m-1 .5h1m-1 .6h1m-1 1.5h1m-.8-.8h1m-1-.1h1m-1 1h1m-.9-1.6h1m-1-.1h1m-1 .7h1m-1-.2h1m-1 1.3h1m-.7-1.7h1m-1 .3h1m-.9-.3h1m-1 .9h1m-.8-2h1m-1 1.2h1m-.9 .3h1m-1 .4h1m-.8-1.8h1m-1 2.1h1m-.9-1.1h1m-.7 .5h1m-.8-.3h1m-.7 1.5h1m-.5-1.9h1m-1 .8h1m-.5-1.3h1m-.7 1.6h1m-.9-1.5h1m-.4 .7h1m0-.5h1m-1 1.6h1m-.9-1.3h1m-.5 .7h1m-41.8 4h1m-.6-1.5h1m-.7 1.4h1m-.9-2h1m-.8 .4h1m-1 .2h1m-.9-.2h1m-1 .4h1m-.7-1.1h1m-.8 1.3h1m-.7-.1h1m-.8-1.6h1m-.9 .8h1m-.9-.8h1m-1 .2h1m-1-.2h1m-.7 1.1h1m.1 .9h1m-.7-.3h1m-1-.1h1m-.9 .8h1m-1 .4h1m-.6-2.1h1m-.7 1.1h1m-.5-1.6h1m-1 2.8h1m-1-.2h1m-.9-.9h1m-.9-.6h1m-.9 1.7h1m-.8-2.4h1m-1 .1h1m-.8 .8h1m-1 1.3h1m-1-.1h1m-.7-.8h1m-1 0h1m-.8 .1h1m-.8 .9h1m-.6-.5h1m-1 .4h1m-.7-2.2h1m-.8-.1h1m-.9 .6h1m-1 .1h1m-.7 1.8h1m-.6-2.7h1m-.9 .1h1m-1 1.5h1m-.8-1.5h1m-1 .3h1m-1 .5h1m-1-.5h1m-.9 1.7h1m-.9-1.7h1m-.7 .8h1m-1 1.1h1m-.5-1h1m-.5-1.5h1m-.6 1.9h1m-.9-.8h1m-.9 .5h1m-1 .4h1m-1 .1h1m-.9-1.8h1m-.8-.3h1m-1 .3h1m-1 .1h1m-1 1.3h1m-1 0h1m-1 1.1h1m-.8-2.7h1m-.8 1.6h1m-.7 1.1h1m-.9-1.9h1m-.9 1.6h1m-.5-1.9h1m-.9 2.1h1m-.8-.6h1m-.7-1h1m-1-.2h1m-.7-1h1m.4 .1h1m11.8 2.4h1m-.8-.9h1m-.5 1.1h1m-.9-2.5h1m-.7 2.7h1m-.6 0h1m-.9 .1h1m-.9-.2h1m-.7-1.6h1m-1 0h1m-.8-.5h1m-.7 2h1m-1-.2h1m-.9-1.8h1m-.8 1.8h1m-1 .4h1m-1-.4h1m-.6-.7h1m-.9-.6h1m-.9-.4h1m-1 1.2h1m-1 .6h1m-.9-1.7h1m-.1-.9h1m-1 .6h1m-1 .1h1m-1 1.7h1m-1 .6h1m-.8-1.9h1m-1 .4h1m-.9-.9h1m-1 .4h1m-1-.2h1m-1 .1h1m-1 1.7h1m-.9-2h1m-.3 2.2h1m-.9-2.2h1m-.9-.5h1m-.9 .5h1m-.9-.2h1m-1 .9h1m-1 .3h1m-1 1h1m-.9-1.4h1m-1-.3h1m-1 1.4h1m-.7-2.3h1m-1 .2h1m-1 .5h1m-.9 .5h1m-.9 1.2h1m-.7 .5h1m-.9 .1h1m-.9-.2h1m-.9-1.6h1m-1 .5h1m-.9 .1h1m-.8-1.4h1m-.8 .6h1m-1 .1h1m-1 1.6h1m-.9-.3h1m-.8-1.2h1m-.4-.3h1m-1 1.2h1m-.9-1.2h1m-.9-.5h1m-.6 2.6h1m-.9-.3h1m-.6-1.4h1m-.4 .7h1m-.7-1h1m0 1.2h1m-.7-1h1m-.7 .3h1m-.4-.8h1m-40.4 3.2h1m-.7-.3h1m.1 .4h1m-.2 1.3h1m-.9-.7h1m-.9-.7h1m-1-.2h1m-.4 1.7h1m-.9-1.2h1m-1 .7h1m-.6 .7h1m-.9-2.1h1m-.3-.3h1m-.5 .4h1m-.6-.5h1m-1 2.6h1m-.7-.8h1m-.9-.8h1m-.8-.2h1m-.9-.5h1m-.4 .5h1m-1 1.5h1m-.8-1.8h1m-.5 1.2h1m-.7-.5h1m-.5-1.2h1m-.5 1.8h1m-.8-1.1h1m-.6-.7h1m-.9 .1h1m-.4 0h1m-.1-.1h1m-.9 1.2h1m-.7-1h1m.3 0h1m13.7 2.6h1m-.8-1h1m-.5-.8h1m-.6-.9h1m-.9 .6h1m-.9 1.5h1m.2-1.7h1m-1 1.6h1m-.6-1.6h1m-.8 .5h1m-.9-.3h1m-.7 .8h1m-.5 .6h1m-1 .2h1m-.8-.1h1m-.5-.5h1m-.4-1.5h1m-1 1.8h1m-.8 .7h1m-.8-2.2h1m-.3 1.5h1m-.9-2h1m-1 1.2h1m-1 1.2h1m-.8-.8h1m-.4-.2h1m-.9-1.1h1m-.2 2.5h1m-.9-1.9h1m-.5-.2h1m-.9-.1h1m-.6-.6h1m-.3 2.1h1m-.2-.8h1m-36.3 1.6h1m-1 .1h1m-.8 0h1m-.8 1h1m0-.7h1m1.1-.3h1m21.3 .2h1m1.4 .4h1m1-.7h1m-.7 .5h1m-27.6 14.4h1m1.1-.5h1m-.9-.4h1m-.8-.5h1m-.7 .7h1m-.8-.6h1m-.6 .4h1m.1-.4h1m-.3 .6h1m-.2 .2h1m-8.5 3.5h1m-.8-.9h1m-.2-.2h1m-.3-1.4h1m-.8 2.4h1m-.9-1.7h1m-.3 1.4h1m-.9-1.2h1m-.6-.5h1m-.6 .2h1m-1-.4h1m-.3 .2h1m-.8 .2h1m-1 1.2h1m-.6-1.6h1m-1 1.5h1m0-.1h1m1 0h1m-9.7 2.8h1m-.8-1.7h1m-.1 2.8h1m-.9-1.6h1m.3 1.3h1m.1-1.3h1m-.9-1.3h1m-.9 2.2h1m-.8-2.1h1m.5 .3h1m.4-.1h1m-.8-.3h1m-3.8 3.3h1m-.9-.1h1" stroke="#000" stroke-width="1" fill="none"/></g>
<g filter="url(#bl)"><path d="M0 0" stroke="#000" stroke-width="1" stroke-opacity="0.6" fill="none"/><path d="M0 0" stroke="#000" stroke-width="1" fill="none"/></g>
<rect x="187.5" y="228.5" width="51.0" height="51.0" stroke="#4a4a4a" stroke-width="1" fill="none"/>
<line x1="212.5" y1="228.5" x2="212.5" y2="279.5" stroke="#4a4a4a" stroke-width="1"/>
<line x1="187.5" y1="256.5" x2="238.5" y2="256.5" stroke="#4a4a4a" stroke-width="1"/>
<text x="186.3" y="284.9" font-family="'Liberation Serif', serif" font-size="3.6" font-weight="bold" text-anchor="start" fill="#333">10</text>
<text x="190.0" y="282.7" font-family="'Liberation Serif', serif" font-size="2.6" font-weight="bold" text-anchor="start" fill="#333">0</text>
<rect x="187.0" y="279.5" width="1" height="1.6" fill="#333"/>
<text x="199.05" y="284.9" font-family="'Liberation Serif', serif" font-size="3.6" font-weight="bold" text-anchor="start" fill="#333">10</text>
<text x="202.75" y="282.7" font-family="'Liberation Serif', serif" font-size="2.6" font-weight="bold" text-anchor="start" fill="#333">1</text>
<rect x="199.8" y="279.5" width="1" height="1.6" fill="#333"/>
<text x="211.8" y="284.9" font-family="'Liberation Serif', serif" font-size="3.6" font-weight="bold" text-anchor="start" fill="#333">10</text>
<text x="215.5" y="282.7" font-family="'Liberation Serif', serif" font-size="2.6" font-weight="bold" text-anchor="start" fill="#333">2</text>
<rect x="212.5" y="279.5" width="1" height="1.6" fill="#333"/>
<text x="224.55" y="284.9" font-family="'Liberation Serif', serif" font-size="3.6" font-weight="bold" text-anchor="start" fill="#333">10</text>
<text x="228.25" y="282.7" font-family="'Liberation Serif', serif" font-size="2.6" font-weight="bold" text-anchor="start" fill="#333">3</text>
<rect x="225.2" y="279.5" width="1" height="1.6" fill="#333"/>
<text x="237.3" y="284.9" font-family="'Liberation Serif', serif" font-size="3.6" font-weight="bold" text-anchor="start" fill="#333">10</text>
<text x="241.0" y="282.7" font-family="'Liberation Serif', serif" font-size="2.6" font-weight="bold" text-anchor="start" fill="#333">4</text>
<rect x="238.0" y="279.5" width="1" height="1.6" fill="#333"/>
<text x="213.0" y="289.0" font-family="'Liberation Sans', sans-serif" font-size="3.0" font-weight="bold" text-anchor="middle" fill="#333">EGFP</text>
<text x="184.3" y="281.8" font-family="'Liberation Serif', serif" font-size="3.6" font-weight="bold" text-anchor="start" fill="#333" transform="rotate(-90 184.3 281.8)">10</text>
<text x="184.3" y="269.05" font-family="'Liberation Serif', serif" font-size="3.6" font-weight="bold" text-anchor="start" fill="#333" transform="rotate(-90 184.3 269.05)">10</text>
<text x="184.3" y="256.3" font-family="'Liberation Serif', serif" font-size="3.6" font-weight="bold" text-anchor="start" fill="#333" transform="rotate(-90 184.3 256.3)">10</text>
<text x="184.3" y="243.55" font-family="'Liberation Serif', serif" font-size="3.6" font-weight="bold" text-anchor="start" fill="#333" transform="rotate(-90 184.3 243.55)">10</text>
<text x="184.3" y="230.8" font-family="'Liberation Serif', serif" font-size="3.6" font-weight="bold" text-anchor="start" fill="#333" transform="rotate(-90 184.3 230.8)">10</text>
<text x="180.5" y="254.0" font-family="'Liberation Sans', sans-serif" font-size="3.6" font-weight="bold" text-anchor="middle" fill="#333" transform="rotate(-90 180.5 254.0)">CD13,33-PE</text>
<path d="M180.3 225.3h2.6l-1.3 1.8z" fill="#222"/>
<text x="189.3" y="227.7" font-family="'Liberation Serif', serif" font-size="7.25" font-weight="bold" text-anchor="start" fill="#111" stroke="#111" stroke-width="0.15">54</text>
<text x="226.7" y="227.7" font-family="'Liberation Serif', serif" font-size="7.25" font-weight="bold" text-anchor="start" fill="#111" stroke="#111" stroke-width="0.15">17</text>
<text x="188.3" y="294.79999999999995" font-family="'Liberation Serif', serif" font-size="7.25" font-weight="bold" text-anchor="start" fill="#111" stroke="#111" stroke-width="0.15">25</text>
<text x="230" y="294.79999999999995" font-family="'Liberation Serif', serif" font-size="7.25" font-weight="bold" text-anchor="start" fill="#111" stroke="#111" stroke-width="0.15">4</text>
<g filter="url(#bl)"><path d="M39.6 313.5h1m1.3-1.3h1m1.1 .8h1m4.4-.4h1m-.8-.4h1m1.7 0h1m1 .4h1m1.6 .8h1m5.5 0h1m-30.3 .4h1m1 1.4h1m-.6 .6h1m3-1h1m.3 1.3h1m-.3-1.9h1m1.7 .1h1m11-.2h1m-.8 2h1m-.8-2.1h1m-.2 1.2h1m2.2-.8h1m1.1 1h1m1.8 .7h1m-.9-1.2h1m1-1.1h1m-32.3 3.9h1m1-.6h1m-.7 2.1h1m-.9-.4h1m0-.5h1m15.2-1.8h1m-.5 2.7h1m-.8-2.6h1m-.5 .4h1m-23.5 4.2h1m.1-.6h1m-.3-.1h1m-.6-.8h1m-.9 .7h1m-.4 .1h1m-1 .7h1m-.9 .4h1m17.6-1.2h1m-1 .3h1m3 .3h1m1.9 .5h1m-.4-1.7h1m-33.1 5h1m-.4-.7h1m-.6-.3h1m21.9 1.6h1m.3-.2h1m-.2-2.2h1m-.4 1.5h1m-.9-.1h1m-.1 .1h1m-28.5 2.2h1m-.9-.5h1m1.4-.1h1m-1 1.5h1m-.8 .7h1m.3-2.6h1m18.6 1.5h1m-.9-.6h1m-.5 1.5h1m-.8-1.5h1m-25.9 4.2h1m-.9-.1h1m.2-1.4h1m-.5 1.5h1m.4-1h1m-.5-.2h1m17.1 1.4h1m-.6-.3h1m0 .8h1m-.8-3h1m1.1 1.2h1m3.6 .5h1m-30.8 3h1m19.5 .4h1m-.5 .3h1m2.2-.4h1m2.8-.9h1m-29.2 4.3h1m-.4-1.1h1m.9-.2h1m-.2 .5h1m14.8 .4h1m0-1.2h1m-.6 0h1m-.5 .9h1m.6 1h1m-.8-.4h1m-23.1 2.2h1m-.8 1.2h1m-.6-1.5h1m14.2 1h1m2.3-1.8h1m-.6 .6h1m1.3-.3h1m-21.7 4.5h1m.8-1.9h1m-.7 2.6h1m-.9-2.8h1m-.5 1.8h1m-1 .8h1m-.9 .1h1m-.2-.9h1m3.9 .8h1m.7-1h1m1.8-1.7h1m-11.5 3.1h1m0 2.6h1m.2 .1h1m-.5-2.1h1m1.4 1h1m-9.6 2.9h1m1.7 .3h1m.6 .5h1m.6-2.3h1m-7.5 4.9h1" stroke="#000" stroke-opacity="0.62" stroke-width="1" fill="none"/><path d="M51.8 313.2h1m-.1 .2h1m-9 2.9h1m.9-1.8h1m-.9 1.7h1m-.3-.6h1m-.7-.1h1m-.1-.2h1m-.5-1.5h1m-.9 1.4h1m-.8-1.5h1m-1 1h1m-.6-1h1m-.8 .6h1m-.8-.7h1m-.8 1.4h1m-.8-.1h1m.1 0h1m.8-.3h1m-13.6 4.7h1m.2-1.7h1m-.5-.5h1m-.9-.1h1m-.5 1.4h1m-.8-1.5h1m-.3 1.3h1m-.8-1.7h1m-.5 1.1h1m-1-.4h1m-.9 .4h1m-.6 1.3h1m-.9-.3h1m0-.7h1m-.4 .8h1m-.7-.1h1m-.1 0h1m-.9-1.3h1m-.2-.8h1m-1 2.1h1m-.8-1.1h1m-.9-.9h1m-.9 2.8h1m-.6-.2h1m-.6-.3h1m-.4-2.4h1m-1 1h1m-1 1h1m-.8-1.6h1m-.4-.3h1m-1 2.3h1m-.2 0h1m-.5-1.2h1m-.9-.8h1m-1 1.4h1m-.6 1h1m-.9-1.4h1m-.6-.4h1m-14.8 3.7h1m-.8 .4h1m-1-.2h1m0-.2h1m-1 0h1m-.9-1.4h1m-.7-.2h1m-.9 .8h1m-.4 1h1m-.7-.7h1m-.7 .5h1m-.8-.2h1m-.8-1.3h1m-1 1h1m-.9 1.5h1m-.5-2.5h1m-.7 2.3h1m-.8-.9h1m-.8 .5h1m-.5 .4h1m-.7-1.5h1m-.8 1.2h1m-.4-1.8h1m-.6 1.3h1m-.6 .1h1m-.5 .4h1m-.5-.8h1m-.7 .2h1m-.7-.4h1m-1 .5h1m-.1 .8h1m-.7-2.1h1m-.2 1.4h1m-.3-1.2h1m-.4 .2h1m-.3 1.2h1m-1 .9h1m-.9-1.5h1m-.2 .3h1m0-1.5h1m.1-.1h1m-.9 .1h1m-19.5 3.6h1m0 .8h1m-.8-.8h1m-.5 1.8h1m-.9 .2h1m-.8-1.9h1m-.7 .5h1m-.8 .4h1m-.4-1.1h1m-.5 1h1m-.5-.1h1m-1-.1h1m-.8-.8h1m-.9 .1h1m-1 1.2h1m-.9-1.3h1m-.5-.6h1m-1 1.6h1m-1-.2h1m-.9-.8h1m-.9 2.2h1m-.5-2.6h1m-.9-.3h1m-1 .2h1m-.9 .1h1m-.9 .3h1m-.9 1.6h1m-1 .8h1m-1-.3h1m-.9-.6h1m-1-.2h1m-.9-1.8h1m-1 .9h1m-1 0h1m-.6-.1h1m-.9 1.3h1m-.7 .8h1m-.7-2.8h1m-1 2.7h1m-1 0h1m-.2-1.7h1m-.5 .2h1m-.9-1.1h1m-1 2.3h1m-.9-1.7h1m-1 .8h1m-.7-1.3h1m-1 1.3h1m-.9-.9h1m-.9 1.4h1m.4-2.2h1m-.7 1.3h1m-.8 .4h1m-.8 1.1h1m-1-.1h1m-.8-1.9h1m0 1.9h1m-.2-2.3h1m-1 1h1m-1-.3h1m-.9 1.6h1m-.6-2.6h1m-.8 2.8h1m-.5-1.7h1m-.6-.8h1m-.7 1.3h1m-.2-1.6h1m-.9 .2h1m-.7 1.7h1m-1-.3h1m-.9 .6h1m-.7 .7h1m-18.2 .8h1m-.7-.7h1m-.8 2h1m-1-.5h1m-.7-.6h1m-.5 .9h1m-.6-.6h1m-.6 1.1h1m-.9-2.1h1m-.8 .8h1m-.7 1.3h1m-.8 0h1m-.9-.8h1m-1 1h1m-.8-2.4h1m-.9 .3h1m-.6 .4h1m-.7 .3h1m-.9 1.1h1m-.8-1h1m-.9 .5h1m-.9-1.7h1m-.9 1.4h1m-.9-1h1m-1 1.1h1m-.9-.2h1m-.8-.4h1m-.6 0h1m-.9-.9h1m-.8 .1h1m-1-.1h1m-.9 .6h1m-.9 2.1h1m-1 0h1m-.8-1.9h1m-.9 .7h1m-.9 .1h1m-.8 .5h1m-.6-1.8h1m-.9-.3h1m-1 .6h1m-1-.1h1m-.7 .1h1m-.7 .5h1m-.9 1.7h1m-.7-.4h1m-.8-.1h1m-.9-.4h1m-.4-1h1m.1 .3h1m-.8 1.4h1m-.9-.3h1m.7-1h1m-.1-.3h1m-.8 1.4h1m-.7-2.3h1m-1 2.1h1m-.9-.9h1m-.8-.4h1m-.7-.3h1m-.9 1.7h1m-.7-.2h1m-.8 .4h1m-.4-.7h1m-.5 .6h1m.5-1.6h1m-.8-.5h1m-.3 .7h1m-19.4 2h1m-.9 2.3h1m-.7-.2h1m-.9-.4h1m-1 .9h1m-.8-2.3h1m-.4 1h1m-.7-.9h1m-.9 1.8h1m-.7-.8h1m-.7-1.1h1m-.3 2.4h1m-.3-1.4h1m-.8 1.1h1m-.9-.7h1m-.1 .4h1m-.9-1.6h1m-1 1.7h1m-.8-.5h1m-.7-.4h1m-.4 1.4h1m-.2-1.2h1m-.9 1.2h1m-.8-.7h1m-.8 .8h1m-.8-.8h1m-.9-1.8h1m-.5 .4h1m-1 .9h1m-.8-.9h1m-.7 .7h1m-.9 .8h1m-.6-.5h1m-.8-1.1h1m-.7 1.6h1m-.9-1.1h1m-1-.1h1m-.8 .1h1m-1 .7h1m-.4-1.5h1m-.7 2h1m.1-1.4h1m-.8 .8h1m.3-1.4h1m-.9 1.6h1m-.1-1.6h1m-.5 .2h1m-.6-.2h1m-.4 2.6h1m-.3-1.3h1m-.7-.6h1m-19.8 3.5h1m1.3 1.4h1m.2-1.9h1m-.8 1.2h1m-1 .5h1m-.7-1.1h1m-.8-.6h1m-.5 .7h1m.1 0h1m-.9 .2h1m-.5 .8h1m-.9-1h1m-.6 0h1m-.1 .8h1m-.4-.4h1m-.8-1.5h1m-.8 1.3h1m-.5 .7h1m-.9-.5h1m-.9-1.5h1m-.8 .1h1m-.6 .3h1m-.8 .9h1m-.4-.9h1m-.7 .6h1m-.8-.3h1m0-.9h1m.1 0h1m-.9-.1h1m-.9-.1h1m-.6 1.1h1m-.7 1.6h1m-.9-2.5h1m-.6 2.5h1m-.1-2.7h1m.4 1.6h1m-.9-.6h1m-.6 .2h1m-.6-1.2h1m-18.7 3.1h1m.1 1.8h1m-.5-.8h1m-.6 .5h1m-1-.2h1m.4-1.4h1m-.4 1.6h1m-.9 .3h1m-.5-1.7h1m-1 2.3h1m.8-1.3h1m-.2 1.3h1m-.2 0h1m0-1.9h1m-.8 1.3h1m-1 .7h1m-.8-1.3h1m-.8-1h1m-.3 .4h1m-.6 1.9h1m-.2-1.8h1m-.8-.7h1m-.8 2.7h1m-.8-.3h1m-.8-2.6h1m-.9 1.3h1m-.8 1.3h1m-.2-1h1m-.7-1.5h1m-1-.2h1m-.7 1.1h1m0-.1h1m-.9-.8h1m-14.6 5.5h1m-.6 .1h1m-.6-1h1m.1-1.6h1m-1 1.1h1m0 1.6h1m.2-2.2h1m-.6 .6h1m-.4 1.3h1m-.6-2.2h1m-.8 0h1m.2-.3h1m-.8 2h1m-.8-1.9h1m-.6 1.9h1m.3-1.5h1m-.9 2.2h1m-.7-1.3h1m-.5-.8h1m-.5 1.2h1m-.2 .7h1m-.9 .3h1m-.2-.5h1m-.9-.2h1m-1 .2h1m-1-.9h1m-1 1.3h1m-.9-.7h1m-.9 .1h1m-.7 .6h1m-.9-.9h1m-1 .9h1m-.9-.8h1m-1 .8h1m-.7 0h1m-.9-1h1m-1 .1h1m-1 .5h1m-.9 .2h1m-1-.1h1m-.9 .1h1m-.8-.7h1m-.9 0h1m-1 1h1m-.9-.7h1m-.9-.5h1m-1 .6h1m-1 .3h1m-.9-.6h1m-1-.2h1m-.7 .4h1m-1 .6h1m-.9-1.1h1m-.9 1.2h1m-.4-.2h1m-.9-.8h1m-1-.3h1m-.8 .1h1m-.8-.1h1m-.9 1.1h1m-.2 .1h1m-.8 .1h1m-.2 0h1m-16.1 2.2h1m.5-.1h1m-.3-.7h1m-.9-.4h1m-.7 1.3h1m.6-.3h1m.1-1.1h1m-.7 .8h1m-1 1.4h1m-.9-.6h1m-1-.2h1m-1 .8h1m-.8-.6h1m-.8 0h1m-1 .4h1m-.9-.4h1m-.9-1.2h1m-.9 .7h1m-1 .8h1m-.8 .2h1m-.4-.4h1m-.7 .4h1m-.7-1.4h1m-.8-.8h1m-.8 1.9h1m-.9-.6h1m-1 .8h1m-.7-.6h1m-1 .7h1m-.9-1.6h1m-1 1h1m-1 .3h1m-.9-1.8h1m-.9 .2h1m-.9 .3h1m-1-.2h1m-.9 .2h1m-1 .1h1m-.9-1.3h1m-1 2.3h1m-1 .5h1m-1 0h1m-.9-2h1m-1 1h1m-1-.4h1m-.9-.3h1m-1-.5h1m-1 1.6h1m-1 .2h1m-.8-.1h1m-1 .6h1m-.8-2.6h1m-1 .4h1m-1 1.5h1m-.9-.6h1m-.9 .7h1m-1 .5h1m-.9-.5h1m-.9 .3h1m-.8-1.6h1m-.8 .2h1m-1 .7h1m-.9-1h1m-1 .6h1m-1 1.3h1m-.9-1h1m-.9-1.9h1m-1 1.7h1m-1 1.1h1m-.9-.6h1m-.8-.9h1m-1 0h1m-1 1.5h1m-1-.3h1m-.9 .1h1m-.9-1.4h1m-1 .9h1m-.8-.9h1m-.8 .2h1m-.9 .6h1m-1-.1h1m-.9-1.7h1m-.9 .2h1m-.9 0h1m-1 .2h1m-.6 1.7h1m-.9 .1h1m-.9-1.1h1m-1 1h1m-.8-2h1m-.8 .1h1m-1 1.7h1m-1 .2h1m-.9-.6h1m-1 .2h1m-1 .4h1m-.9-1.5h1m-1 .3h1m-1-.2h1m-.8-.9h1m-1 .8h1m-.9-.7h1m-1 .7h1m-1-.1h1m-.7-.5h1m-.8 .1h1m-.9 .7h1m-.4-.8h1m-.8-.2h1m-15.4 5.9h1m-.1-.3h1m-.2 .1h1m-.9-.6h1m-.9 .2h1m-1-.5h1m-1 .8h1m-1 .2h1m-.9-1.2h1m-1 1h1m-.9 0h1m-.8-.6h1m-1-.3h1m-1 .1h1m-.8 .5h1m-.6 0h1m-.9-.2h1m-1 .6h1m-1 0h1m-.9 .2h1m-.9-1.6h1m-1-.4h1m-1 1h1m-1-.3h1m-.8 .2h1m-.8 .4h1m-.9-1.7h1m-.8 .2h1m-1 .3h1m-1 .4h1m-.9-.3h1m-1 1.5h1m-.9-1.2h1m-1-.9h1m-1 1.1h1m-.9-1.2h1m-1-.1h1m-1 .3h1m-1 2.2h1m-.9-1.4h1m-1 1.4h1m-1 0h1m-.9-.2h1m-.9-2.4h1m-1 0h1m-1 .6h1m-1 0h1m-1 1.9h1m-.6-.1h1m-.9-2.3h1m-1 .4h1m-.9-.4h1m-1 .6h1m-1 .2h1m-.8-.8h1m-.9 1.3h1m-1 .8h1m-.9-1.2h1m-.9 1.6h1m-1-.3h1m-.9-2.2h1m-1 1h1m-.7 1.1h1m-1-.3h1m-.9 .8h1m-.9-2.4h1m-1 .6h1m-1 .9h1m-1 .2h1m-.8-1h1m-1-.6h1m-1 1.9h1m-.9-2.1h1m-1 .9h1m-.9-.8h1m-1 .2h1m-.8 2h1m-.9-1.4h1m-1 .8h1m-.9 .7h1m-1-.1h1m-.9-.8h1m-.9-1.5h1m-1 1.9h1m-.9-2.1h1m-1 2.1h1m-.9-2h1m-1 1.3h1m-1 1.2h1m-.9-2.7h1m-1 1.2h1m-.9-.8h1m-1 .2h1m-.9 .7h1m-1-.7h1m-1 2.2h1m-.7-2.8h1m-1 .5h1m-1 .7h1m-1 .6h1m-1 .3h1m-1 .7h1m-.9-.7h1m-.9-1h1m-1 .9h1m-.9-1.2h1m-.9 .3h1m-1-.6h1m-1 .8h1m-.9 .5h1m-.9-1.2h1m-1 .7h1m-1 .7h1m-.9-1.7h1m-.8 0h1m-1 2h1m-.8-1.1h1m-1-.4h1m-.9 .1h1m-.8 .5h1m-.9-.6h1m-1 .7h1m-.9-1.4h1m-1 1.3h1m-.9-.9h1m-1 1.3h1m-1-.2h1m-.6-.9h1m-1 .1h1m-.9 .1h1m-.7-.8h1m-.6 0h1m-.4-.1h1m-16.1 5.5h1m-.8 .3h1m-.6-.2h1m-.9-.2h1m-1 .1h1m-.7 .2h1m-1 0h1m-.8-.2h1m-1 .3h1m-.8-1.1h1m-1 .5h1m-1-.4h1m-1 .9h1m-.5-.1h1m-.9-1.2h1m-.8 1.2h1m-.9-1h1m-.9 1.2h1m-.9-1.5h1m-1-.8h1m-.9 .6h1m-1 .9h1m-1 .9h1m-.9-2.3h1m-1 1h1m-.9-1h1m-1 0h1m-.9-.1h1m-.9 .3h1m-1 2.1h1m-.9-1.6h1m-.9 .3h1m-.9 .3h1m-1 .8h1m-1 0h1m-.9-.8h1m-.9 .8h1m-.9-.4h1m-1 0h1m-.7-.7h1m-.9 .6h1m-1 .3h1m-.9 .3h1m-1-.3h1m-1 .1h1m-.9-1.2h1m-.9-.2h1m-1-.8h1m-.9 2.2h1m-.9-2.2h1m-1 .3h1m-1 1.5h1m-.9-1.7h1m-1 1h1m-.9-1.2h1m-1 1.5h1m-.8 .2h1m-.9-.7h1m-1-.8h1m-.9 .5h1m-1 .4h1m-1 .9h1m-.9-1.9h1m-.7-.4h1m-1 .9h1m-1 .2h1m-1 1h1m-.9 .3h1m-.9 0h1m-.8-1.5h1m-1 .1h1m-1 1.7h1m-.9-2.6h1m-1 1.1h1m-1-.2h1m-1 .7h1m-.9-.3h1m-1 .1h1m-.9 .6h1m-.9 .1h1m-.9-.6h1m-.8-.2h1m-.9 1.1h1m-.9-2h1m-1 .5h1m-.9-1.1h1m-.9 1.3h1m-1-.6h1m-1 .5h1m-1-.2h1m-1 1.4h1m-.8-2.1h1m-1 .8h1m-1 .6h1m-.7-.6h1m-1 .9h1m-.8-1.6h1m-1 1h1m-1 .2h1m-.8-.5h1m-1 .5h1m-.9-1h1m-.9 .6h1m-1 1.1h1m-.8-.9h1m-1-.8h1m-1 1.1h1m-.9 .2h1m-.8-.6h1m-1 .8h1m-.7-1.2h1m-1 .6h1m-.9-.8h1m-1 .2h1m-.7-.7h1m-1 2h1m-1-.7h1m-.9 .7h1m-.8-.6h1m-1 .6h1m-.9-1.3h1m-.7 .8h1m-.8-1.5h1m-1-.2h1m-.9 .1h1m-1 1.9h1m-.9-.9h1m-1-.1h1m-.8 .4h1m-.9-1.1h1m-1-.1h1m-1 .7h1m-.9 .5h1m-.8 0h1m-.9-.9h1m-1 .1h1m-.9-.3h1m-.9 .5h1m-.4-.7h1m-1 0h1m-1 0h1m-.7 0h1m-14.6 4.3h1m-1-.1h1m-1 .9h1m-1-.2h1m-1 .9h1m-.9-2.2h1m-.9 .7h1m-1 0h1m-1 .5h1m-1 .3h1m-.8-1.6h1m-1 2h1m-.9 .3h1m-.9-1h1m-.9-.9h1m-1 .7h1m-1 .5h1m-1 .5h1m-.8-.9h1m-.7 .6h1m-.9-2.2h1m-1 1.4h1m-1 .1h1m-1-.1h1m-1 1.1h1m-.9-1.1h1m-1 .4h1m-.9-1.4h1m-1 .1h1m-.9 .8h1m-.6 .2h1m-.9 .3h1m-.9 .8h1m-.9-.1h1m-1 .1h1m-.9-2.6h1m-1 .4h1m-1 1.9h1m-.9 .2h1m-.9-2.6h1m-1 2.8h1m-1-.1h1m-.9-2.7h1m-1 .7h1m-1 .8h1m-.9-.4h1m-.7 1.6h1m-.8-.2h1m-.9-2.4h1m-1 1.1h1m-.9 1.1h1m-.9-1.2h1m-.8-.7h1m-.9-.2h1m-1 .2h1m-1 .2h1m-.9 .1h1m-1 1.4h1m-1-.3h1m-.9-.6h1m-1 .2h1m-.9 1.3h1m-.9-.2h1m-.8-.4h1m-.9-1.8h1m-1 .9h1m-1 .4h1m-.9-1.6h1m-.8 1.9h1m-.9 .6h1m-1 .3h1m-.7-2.4h1m-.8-.4h1m-1 .7h1m-1 .6h1m-1 0h1m-1 .6h1m-1-.1h1m-.9 .8h1m-.9-1.8h1m-.8 1h1m-.9-.1h1m-.9 .8h1m-.9-2.3h1m-1 0h1m-1 .3h1m-.9 .1h1m-1 1h1m-1 .1h1m-1 .1h1m-.8-1.5h1m-1 2.4h1m-.9-1.8h1m-.9-.8h1m-.8 0h1m-.9 .1h1m-.9 0h1m-1 1h1m-.9 .9h1m-.9-.6h1m-1 .1h1m-1-.1h1m-.8-1.1h1m-1 1.7h1m-.9-.7h1m-.9-1.2h1m-1-.2h1m-1 .5h1m-1 1.3h1m-.8-1.2h1m-.9-.6h1m-1 .3h1m-.9 .6h1m-1 .2h1m-1 .2h1m-.9-.4h1m-.5 .1h1m-.5-.8h1m-.8 0h1m-10.5 4.7h1m-1-.5h1m-1 .5h1m-.9 .2h1m-.9-2.2h1m-1 1.1h1m-.9-.9h1m-.9 .1h1m-1 .8h1m-.9 0h1m-1 1.4h1m-.9-2.4h1m-1 1.8h1m-.9 .5h1m-1-.8h1m-1 1.1h1m-.9-1.5h1m-1 0h1m-.8 1.7h1m-.9-2.2h1m-1 .9h1m-1 .2h1m-.8-1.4h1m-1 1h1m-1 .2h1m-.9-1.6h1m-1 1.8h1m-.9-1.6h1m-1 1.6h1m-1 1h1m-.9-2.7h1m-1 2.3h1m-1-.9h1m-1 1.4h1m-.9-.7h1m-.9-1.6h1m-1 0h1m-.9 1.5h1m-.8-2h1m-1 .9h1m-.9-.9h1m-1 2.3h1m-.8-1.7h1m-1 .2h1m-1 2.1h1m-.9-1.8h1m-.9-.7h1m-1 0h1m-.8 .4h1m-.9 0h1m-1 .8h1m-1 .2h1m-.9-1.5h1m-1-.4h1m-1 1.4h1m-1-.7h1m-1 .6h1m-.8-.1h1m-.9-1.2h1m-1 2.8h1m-.9-2.6h1m-1 .9h1m-1 .9h1m-1 .4h1m-1 .4h1m-.8-.6h1m-1 .1h1m-1-.3h1m-.9 .3h1m-1 .2h1m-.9 .4h1m-.8-2.8h1m-1 2.3h1m-.9-1.9h1m-1 1.2h1m-.9-.5h1m-1 0h1m-.8-1.1h1m-.9 .3h1m-1 .3h1m-1 0h1m-1 1.4h1m-.9 0h1m-.8-1.8h1m-1 .8h1m-.5-.8h1m-1-.3h1m-1 .4h1m-.9 .7h1m-1-.2h1m-.9-.6h1m-1 .1h1m-.7 .5h1m-.6-.6h1m-.4-.3h1m-1 .4h1m-7.9 2.9h1m-.8 1h1m-1 1.2h1m-.9-.8h1m-1 .7h1m-.9-.1h1m-.9-1h1m-1 .3h1m-.4-1.4h1m-1 .3h1m-.8-.1h1m-.9 2h1m-1-.9h1m-.9-.3h1m-1 .6h1m-1-.3h1m-.9-1.4h1m-.9 .1h1m-.9 1.4h1m-.8-.2h1m-.9-.6h1m-1 .4h1m-.8-.6h1m-.9 .5h1m-.8 .1h1m-.9-1.1h1m-.9 .2h1m-.6-.1h1m-.9 .1h1m-4.1 3.1h1m-1-.1h1m-.8 0h1m-.9-.2h1m-1 .2h1m-1-.2h1m-1 .3h1" stroke="#000" stroke-width="1" fill="none"/></g>
<g filter="url(#bl)"><path d="M0 0" stroke="#000" stroke-width="1" stroke-opacity="0.6" fill="none"/><path d="M0 0" stroke="#000" stroke-width="1" fill="none"/></g>
<rect x="31.5" y="311.5" width="52.0" height="51.0" stroke="#4a4a4a" stroke-width="1" fill="none"/>
<line x1="56.5" y1="311.5" x2="56.5" y2="362.5" stroke="#4a4a4a" stroke-width="1"/>
<line x1="31.5" y1="339.5" x2="83.5" y2="339.5" stroke="#4a4a4a" stroke-width="1"/>
<text x="30.3" y="367.9" font-family="'Liberation Serif', serif" font-size="3.6" font-weight="bold" text-anchor="start" fill="#333">10</text>
<text x="34.0" y="365.7" font-family="'Liberation Serif', serif" font-size="2.6" font-weight="bold" text-anchor="start" fill="#333">0</text>
<rect x="31.0" y="362.5" width="1" height="1.6" fill="#333"/>
<text x="43.3" y="367.9" font-family="'Liberation Serif', serif" font-size="3.6" font-weight="bold" text-anchor="start" fill="#333">10</text>
<text x="47.0" y="365.7" font-family="'Liberation Serif', serif" font-size="2.6" font-weight="bold" text-anchor="start" fill="#333">1</text>
<rect x="44.0" y="362.5" width="1" height="1.6" fill="#333"/>
<text x="56.3" y="367.9" font-family="'Liberation Serif', serif" font-size="3.6" font-weight="bold" text-anchor="start" fill="#333">10</text>
<text x="60.0" y="365.7" font-family="'Liberation Serif', serif" font-size="2.6" font-weight="bold" text-anchor="start" fill="#333">2</text>
<rect x="57.0" y="362.5" width="1" height="1.6" fill="#333"/>
<text x="69.3" y="367.9" font-family="'Liberation Serif', serif" font-size="3.6" font-weight="bold" text-anchor="start" fill="#333">10</text>
<text x="73.0" y="365.7" font-family="'Liberation Serif', serif" font-size="2.6" font-weight="bold" text-anchor="start" fill="#333">3</text>
<rect x="70.0" y="362.5" width="1" height="1.6" fill="#333"/>
<text x="82.3" y="367.9" font-family="'Liberation Serif', serif" font-size="3.6" font-weight="bold" text-anchor="start" fill="#333">10</text>
<text x="86.0" y="365.7" font-family="'Liberation Serif', serif" font-size="2.6" font-weight="bold" text-anchor="start" fill="#333">4</text>
<rect x="83.0" y="362.5" width="1" height="1.6" fill="#333"/>
<text x="57.5" y="372.0" font-family="'Liberation Sans', sans-serif" font-size="3.0" font-weight="bold" text-anchor="middle" fill="#333">FL1-Height</text>
<text x="28.3" y="364.8" font-family="'Liberation Serif', serif" font-size="3.6" font-weight="bold" text-anchor="start" fill="#333" transform="rotate(-90 28.3 364.8)">10</text>
<text x="28.3" y="352.05" font-family="'Liberation Serif', serif" font-size="3.6" font-weight="bold" text-anchor="start" fill="#333" transform="rotate(-90 28.3 352.05)">10</text>
<text x="28.3" y="339.3" font-family="'Liberation Serif', serif" font-size="3.6" font-weight="bold" text-anchor="start" fill="#333" transform="rotate(-90 28.3 339.3)">10</text>
<text x="28.3" y="326.55" font-family="'Liberation Serif', serif" font-size="3.6" font-weight="bold" text-anchor="start" fill="#333" transform="rotate(-90 28.3 326.55)">10</text>
<text x="28.3" y="313.8" font-family="'Liberation Serif', serif" font-size="3.6" font-weight="bold" text-anchor="start" fill="#333" transform="rotate(-90 28.3 313.8)">10</text>
<text x="24.5" y="337.0" font-family="'Liberation Sans', sans-serif" font-size="3.6" font-weight="bold" text-anchor="middle" fill="#333" transform="rotate(-90 24.5 337.0)">GlyA-PE</text>
<path d="M24.3 308.3h2.6l-1.3 1.8z" fill="#222"/>
<text x="30.7" y="308.4" font-family="'Liberation Serif', serif" font-size="7.25" font-weight="bold" text-anchor="start" fill="#111" stroke="#111" stroke-width="0.15">30</text>
<text x="71.6" y="308.4" font-family="'Liberation Serif', serif" font-size="7.25" font-weight="bold" text-anchor="start" fill="#111" stroke="#111" stroke-width="0.15">0.1</text>
<text x="31" y="376.09999999999997" font-family="'Liberation Serif', serif" font-size="7.25" font-weight="bold" text-anchor="start" fill="#111" stroke="#111" stroke-width="0.15">70</text>
<text x="72" y="376.09999999999997" font-family="'Liberation Serif', serif" font-size="7.25" font-weight="bold" text-anchor="start" fill="#111" stroke="#111" stroke-width="0.15">0</text>
<g filter="url(#bl)"><path d="M114.2 310.1h1m11.2 .3h1m2.5-.2h1m5.9 .2h1m-25.5 2.8h1m-.6-.4h1m-.5-1.5h1m-.7-.8h1m1.1 .5h1m.5 2.4h1m-.9-2.7h1m-1 2.7h1m2-.8h1m.1-.1h1m-.5-.2h1m-.3-.9h1m.4 .7h1m1.8 1.1h1m-.8-2.3h1m1.8-.1h1m2.6-.1h1m-.7 1.1h1m-1 .3h1m-.2-1.4h1m5.9 2.1h1m-.5-1.6h1m1.4 .8h1m0-.5h1m-35.8 2.2h1m1.1 2.6h1m-.6-.4h1m-.8 .5h1m0-.5h1m-.2-1.2h1m-.5 .5h1m-.7 1.2h1m-.6-2.5h1m-.3-.2h1m-.5 .2h1m.1 .6h1m-.2-.8h1m.1 0h1m-.5 0h1m9.6-.1h1m1.4 2h1m-.9-1.9h1m-.6 0h1m.8 0h1m-.6 1.5h1m-.2 1.1h1m-.7-.2h1m5.7-2.1h1m2.4 1.6h1m2.6-1.9h1m-41.4 4.5h1m1.4 1.1h1m-.9-1.6h1m-.7 .5h1m16.2 .6h1m-.1-.8h1m-.3-1.4h1m-.7 1.1h1m.9 .9h1m-.2-1.7h1m-.1 2.4h1m4-2.1h1m.2 1.5h1m-34.7 2.2h1m-.6 1.4h1m-.1-.9h1m0-.3h1m.4 .6h1m-.2-1.9h1m17.1 1.8h1m1.3-.8h1m0 .3h1m3.8 1.3h1m7.9-1.7h1m-40.3 4.5h1m-.8-1.3h1m-.1 1.5h1m-.5-2.6h1m19.6 1h1m1.4 1.3h1m1.1 .3h1m-.7-1.5h1m.7 .2h1m0 0h1m2.4 1.4h1m.6-.2h1m10-2.6h1m-47.4 5.2h1m.2 .2h1m-.6 0h1m-.7-1.2h1m19.3 1.1h1m-.4 .2h1m-.8-1.7h1m-.8 .2h1m-.6 1.6h1m-.9-1.2h1m.4 .5h1m-.5 .5h1m-.3-.4h1m.4-.4h1m.9-1.1h1m-30.8 4.3h1m-.6 .8h1m-.5-2.4h1m1.3 2.6h1m15.5-.7h1m-.1 .7h1m-1-.3h1m-.2-1.1h1m-.5 .3h1m-.9-.8h1m-.5 .7h1m1-.1h1m.8-1.4h1m.2 .1h1m.4-.4h1m5.6 2.4h1m1.7-.4h1m-38.3 3.2h1m-.3-.9h1m-.5-1h1m0 .5h1m-.5-.6h1m0 1.5h1m-.7 .9h1m-.7 0h1m11.3 0h1m-.1-.7h1m.6-.3h1m-.3 1h1m-.9-1.1h1m.7-1.3h1m-.3 1.5h1m3.1-1.3h1m-.7 1.8h1m3.6 .4h1m14.3-.1h1m-48.3 3.4h1m-.8-1.5h1m-1 .5h1m-.5-1.4h1m-.6 1.8h1m-.9 .4h1m-.1-.8h1m.6-.7h1m-.6 .8h1m-.8-1h1m1.9 1.5h1m.9-.3h1m3.5-.3h1m.7 1.1h1m.4-.1h1m.3-2.9h1m-.8 .8h1m-.7 1.3h1m-.2 .2h1m.1-2.2h1m1.3 .6h1m0-.1h1m-.2 2h1m-.1-1.6h1m.2 1h1m1.4-.4h1m.1-.2h1m1.9 1h1m4.2-.3h1m.4-1.3h1m-.5 1.4h1m.2-2h1m1 2.7h1m1.1-.9h1m-.3-1.2h1m-.1 1.3h1m1.4-.8h1m-48.6 1.8h1m1.2 1.9h1m.7-.6h1m1.7-1.3h1m-.4 1.7h1m-.1-.7h1m.2 .8h1m.7 .8h1m-.9-.5h1m-.7 .7h1m-.1-1.5h1m.1 .7h1m-.1 .5h1m1.2-1h1m-.6 .3h1m7.5-1.8h1m1.1 .5h1m2.3-.5h1m1.1 1.1h1m3.3-.9h1m-.3-.2h1m0 .1h1m-.7 .2h1m.1-.3h1m-.2 2.3h1m-.6-.1h1m-.9-.1h1m.9 .1h1m.2 .6h1m-.1-1.5h1m2.2-.6h1m-49 3.1h1m-.4-.1h1m2.6-.8h1m-1 1.6h1m-.9-1.2h1m-1 .6h1m-.6-.2h1m-.2 .9h1m.2 .5h1m1.7-.2h1m2.3-1h1m-.9-.7h1m5.6 1.3h1m-.4-.4h1m1.7 .2h1m1.9-.6h1m-.7-.8h1m-.7 .1h1m13.9 .8h1m.2 1.4h1m4.2 .6h1m-48.3 .8h1m.3 1.1h1m-.4-.5h1m.3 .5h1m-.9 .8h1m-.4 0h1m0-1.6h1m-.8-.9h1m.2 2.7h1m.1-1.8h1m.5-.2h1m-.7 .6h1m-.7-1h1m6.6 .7h1m-.9 1.3h1m.1-1.8h1m.1 0h1m.6 .6h1m-.6-.7h1m-.5 .2h1m-.5 .5h1m-.4 .1h1m16.1 1h1m-.2-.6h1m1.4 1.1h1m-.7-.2h1m1.3-2.4h1m-.1 .8h1m-50.7 3.4h1m5.4 .4h1m0 .2h1m12.6 .9h1m-.5-.5h1m1.5 .6h1m-.4-.3h1m0-2.1h1m-.7 2.3h1m-.7-1.8h1m-1 0h1m-.5-.3h1m-1 0h1m-.1 1.1h1m1.9 .8h1m4.5-.1h1m2.4-.4h1m.1 .6h1m-.5-.4h1m3-1.5h1m-42.3 2.7h1m-.5-.2h1m11.7 1.5h1m-1 .5h1m.3-1.5h1m.9 1.7h1m-.1-2.3h1m1.1 .6h1m1.4-.5h1m0 1h1m-.9 1h1m-.4-1.8h1m-.7 .4h1m5.4-.4h1m1-.5h1m1.1 .1h1m-.3 .5h1m2.1 .4h1m1.6 0h1m2.4 1.2h1m-48.4 3.3h1m6.3 .4h1m2-.3h1m2-.8h1m0-.2h1m.1-1.5h1m-1 2h1m0-1.9h1m-.6 .4h1m.8 .9h1m19.2-.6h1m-33.5 4.2h1m-.3-2h1m-.8 2.6h1m-.2-1.6h1m-.4-.5h1m-.3 .9h1m.5 .7h1m-.5-.6h1m-.9-1.1h1m1.6 1.3h1m9.2-1.6h1m10.1 .4h1m-28.9 2.4h1m-.8 0h1m0 .3h1m3 .7h1m1.5 .3h1" stroke="#000" stroke-opacity="0.62" stroke-width="1" fill="none"/><path d="M117.3 316.2h1m.5-.4h1m-.9-.8h1m1.2 0h1m-.3-.4h1m-.2 .3h1m.1 1.2h1m-.5-1.3h1m-.8-.6h1m-10.8 3.9h1m-.1 .2h1m.3 .6h1m-1-.2h1m.8-.4h1m.3-.2h1m.7 .8h1m-.9-.4h1m-.9 .3h1m-.9-.7h1m-.9-.4h1m-.4 .9h1m-.8-.4h1m-.1-.4h1m-.9 .7h1m-.4-.3h1m-.9 1.3h1m-.7-.2h1m-.7-.5h1m-.5-1.6h1m-.9 .7h1m-.9-1.2h1m-.5 .7h1m-.9-.1h1m-.9 2.1h1m-.8-1.1h1m-.6-1.1h1m-.6 1.9h1m-.6-.4h1m-.5-1.9h1m-1 2h1m-.6-1.4h1m-.5 .1h1m-16.9 2.5h1m-.8 0h1m1.1 1.6h1m-.5-.1h1m-.9 .5h1m-.8-.6h1m-.4-1.3h1m-.7 1.8h1m-.7-.1h1m-.8-.4h1m-1-.3h1m-.8-1.3h1m-.6 .2h1m-.8 1.1h1m-.8-.8h1m-1 .8h1m-.9 .9h1m-.1-1.5h1m-1 1h1m-.6-1.6h1m0 2.2h1m-.6-2.2h1m-.9 1.6h1m-.9-1.9h1m-1 .8h1m-.4-.2h1m-.6 1.1h1m-1 1.1h1m-.7-.3h1m-.6-.4h1m.2-1.9h1m-.5 1h1m-1 .9h1m-.4-1h1m-.5 0h1m-.8-1.1h1m-.9 1.4h1m-.4-1.4h1m-.8 1.3h1m-.7-1.2h1m-.6 2.4h1m-.4-2.3h1m.6 1.8h1m-.6 .7h1m-18.7 1.5h1m-.2-.9h1m.7-.3h1m-.8 2.2h1m-.6-.3h1m-.2-1h1m-1 .3h1m.4-1.3h1m-1 1.8h1m-.6 .1h1m-.8 1.1h1m-.5-1.2h1m-.7 .2h1m-.1 .2h1m-.7-1.9h1m-.6-.3h1m-1 .5h1m-.8 .7h1m-.1-.9h1m-.1 2h1m-.9 .4h1m-.7-1.1h1m.5 .4h1m-.7-1.5h1m-.9 .1h1m-.8 2.4h1m-1-.3h1m-.2-.2h1m-.9-2.3h1m-.7 2.7h1m-.7-1.3h1m-.7 .9h1m.3-.9h1m-.3 1.4h1m-19 2.9h1m1.9-2h1m-.4-.7h1m-.3 1.2h1m-.4-.5h1m-.8 0h1m-.9-.5h1m-.5 .9h1m-1 1.3h1m-.7 .1h1m-.8-2.4h1m-.1 1.8h1m-.6-.7h1m-.4 .2h1m-.9 .6h1m.3 .6h1m.2-2h1m-.9 2h1m-.1-1.4h1m-.8 0h1m0-1.3h1m-.7 1.2h1m-.3-.2h1m-.7 .6h1m-.8 .2h1m1.9 .7h1m-.1-1.8h1m-19.7 4.6h1m-.9-2h1m0 1h1m-.6 .3h1m-.8 .9h1m-1 .4h1m-.9-2.1h1m-1 2.1h1m.3 0h1m-.9-2.5h1m-.9 1.8h1m-.7-.6h1m-.2 1.3h1m-.8-2.4h1m-.8 .8h1m-.9 .8h1m0-.9h1m-.9-.2h1m-.4-.8h1m-1 1.6h1m-.7-.6h1m-.9-.9h1m.5 .9h1m.7 0h1m-.5-.9h1m-.3 .4h1m-.3 1.5h1m-.5-1.7h1m-.6-.3h1m-.9 2.4h1m0-2.6h1m.2 .9h1m-.9 .1h1m-.8-.1h1m0 .1h1m-15.2 2.5h1m-.9 1.2h1m-.2-1.7h1m-.8 1.9h1m-.7 0h1m-.8-.2h1m-.9-1.6h1m-.1 1.2h1m-.7 .7h1m-.8-.2h1m.1 .4h1m-.1-1.1h1m-.4-.2h1m-.8-.3h1m-.9-.4h1m-.6 .9h1m1.7-.3h1m-.7 2h1m-.2-1.4h1m-1 .7h1m.8-2.1h1m-9.4 2.9h1m-.3 .6h1m-.7 .5h1m-.6 .2h1m-.2-.2h1m-.4-1h1m0 .2h1m0-.2h1m-.1 .7h1m-.1-.6h1m5.8 2.4h1m0 .3h1m-.4-.2h1m-1 .1h1m-.7 .2h1m-.9-.4h1m-.7-.1h1m-.9 .3h1m-7.8 2.9h1m-.6 .1h1m.5-.6h1m-.8 .3h1m-.9 .2h1m-.9-.3h1m-.8-.8h1m-.8 .1h1m-.9-.2h1m-1 .8h1m-.8-.4h1m-.9-.7h1m-1 1.3h1m-.9-.8h1m-.9 .7h1m-1 .2h1m-1 0h1m-.8-.4h1m-.8 .7h1m-.8-2.1h1m-1 1.3h1m-.9-2h1m-.9 .5h1m-1 2.1h1m-.9-1.2h1m-1 1.1h1m-1 .2h1m-.9-1.6h1m-1 1.6h1m-.9-1.6h1m-1-.5h1m-.9 .1h1m-1 .9h1m-.9-.4h1m-1 .9h1m-.9-1.8h1m-1 1h1m-.9-1.2h1m-.8 1.7h1m-1 1h1m-.8-.6h1m-.9-.7h1m-1 1h1m-.8-1.6h1m-1 .2h1m-.9-.4h1m-1 1.8h1m-.9 .1h1m-.8-1.6h1m-.9 .3h1m-1 1h1m-.9-2h1m-1 .6h1m-.8 1.1h1m-.9-1.7h1m-.8 .5h1m-1-.1h1m-.8 1h1m-.2-.8h1m8.1 1.6h1m.2 .3h1m-.1-1.7h1m-.9 1h1m-.5-1.5h1m.1 1h1m-1 1h1m.2 .2h1m-.5-1h1m-27.1 3.6h1m-.7 .4h1m-.6-.2h1m-1-.2h1m-1 .5h1m-.1-.2h1m-1-.2h1m-.7-.8h1m-.9 0h1m-.8 1.1h1m-.9-.9h1m-1 .7h1m-.8 .3h1m-.7-.8h1m-.9-.3h1m-1 1.1h1m-1-.4h1m-1 .4h1m-.9-1.2h1m-.9 .8h1m-.8 0h1m-.9-1.1h1m-.9-1h1m-1 0h1m-.9 .3h1m-1 .4h1m-1-.3h1m-.9 2h1m-1 .1h1m-.9-.4h1m-.9-2.1h1m-1 .2h1m-1 .8h1m-1 1.5h1m-.9-2.3h1m-1 .3h1m-1 1.3h1m-.9-2.2h1m-1 .2h1m-1 .6h1m-.9 .3h1m-1 1.7h1m-.9-2.1h1m-.8-.6h1m-1 .6h1m-.9-.6h1m-1 2.2h1m-1-.6h1m-1-.1h1m-1 .5h1m-.8-.4h1m-.9 1.2h1m-.8-1.9h1m-1 1.3h1m-1 .4h1m-.9-2.4h1m-1 1.9h1m-.9-.7h1m-.9 1.1h1m-.8-2.1h1m-1 2.2h1m-.9-2.6h1m-1 .6h1m-1 1h1m-.7 .5h1m-.9-.4h1m-.9-.8h1m-1-.4h1m-.9 1h1m-.9-1.7h1m-.9 .9h1m-1 .4h1m-1-.1h1m-.9 .9h1m-.7-1.4h1m-.8 .1h1m-1-.1h1m-.9 0h1m-.7 .4h1m-.9-1.1h1m-1 .8h1m-.9 .2h1m-.7-.7h1m-.9 0h1m-.9 0h1m-.4 0h1m-.5-.2h1m4 2.8h1m-.7-.9h1m-.9-.4h1m-.3 .7h1m-.7-.7h1m-.6 .7h1m-.6 .7h1m-.5 0h1m-.7-3h1m-.8 2h1m-.5-.3h1m.3 .4h1m-1 .7h1m0-1h1m-.8-1.4h1m-.8 1.2h1m-.6-1.5h1m-.8 2h1m-.9 .8h1m-.8-2.5h1m-1 1.6h1m-.6 .9h1m-.8-.8h1m-.8-.9h1m-1 .7h1m-.9-.2h1m-1 .1h1m-1 1.2h1m-.5-1.1h1m-.8-1.7h1m-.2 1.8h1m-.4-.4h1m-.7-.6h1m-.8 1.2h1m-.8-.2h1m-.8-.3h1m-.8-1.1h1m-.7 1.6h1m-.8 .7h1m-.7-1.8h1m.1 1.1h1m-1 .8h1m-.5-1.9h1m-.6-.2h1m-.2 .9h1m-34.1 3.9h1m-.9 0h1m-.6 .1h1m-.8-.1h1m-.4 .2h1m-.5-.4h1m-.4-.7h1m-1 .4h1m-.9-.3h1m-.9 .4h1m-.9-.4h1m-.9-.6h1m-.9-.7h1m-1 .5h1m-.9 1.8h1m-1 0h1m-.7-.7h1m-1 .6h1m-.9-2.2h1m-1 1.5h1m-1 .4h1m-.9-1.4h1m-1 .8h1m-.8-1.6h1m-1-.2h1m-1 1.5h1m-.9 .4h1m-.9-1h1m-1 .9h1m-.9-.5h1m-1-.5h1m-.9 .4h1m-.8 .3h1m-.9 .3h1m-1 .4h1m-.9-1.1h1m-.9-.9h1m-.9 1h1m-1 1.4h1m-.9-1.6h1m-.9 .6h1m-.9-.3h1m-.9 .8h1m-.8-.7h1m-.9-.8h1m-1 1.5h1m-.8-1.6h1m-.9 .4h1m-.8-.9h1m-.9 1.3h1m-1-.1h1m-.9 .4h1m-1 0h1m-.8-.2h1m-.9 .7h1m-.7-2.1h1m-1 2.1h1m-.9-1.8h1m-1 2h1m-.9-.4h1m-.9 .3h1m-1 .1h1m-.8-1.4h1m-1 .6h1m-.8-1.2h1m-1 .1h1m-.9 .3h1m-.7 .3h1m-1-.2h1m-1 .4h1m-1-.2h1m-.7-.8h1m-1-.2h1m-1 1.1h1m-.9 .2h1m-.9 .6h1m-.9-1.7h1m-1 .9h1m-.3-1h1m-1 2.7h1m-.9-2.8h1m-.9 2.6h1m7.8-.7h1m1-1.4h1m-.7 2h1m-.8-1.5h1m-.9-.5h1m-.6 2.3h1m-.8-1.8h1m-.5 1.3h1m-.8-.4h1m-.6-1.3h1m-1 1.2h1m-.9-.5h1m-.8 .4h1m-.9 .9h1m-.9-2h1m-.7-.2h1m-.8-.1h1m-.7 1.5h1m-.4-1.2h1m-1 1.3h1m-.6-1.3h1m-.8-.4h1m-.8 0h1m-.9 1.9h1m-.8-.3h1m-.9-.9h1m-.8-.7h1m-1 .1h1m-.7 .9h1m-1 1.3h1m-.6-2.2h1m-.6 .9h1m-.7 0h1m-.4-.3h1m-.7 1.2h1m-.9-.1h1m-.7 .4h1m-.6-2.3h1m-.9 1.7h1m-.9-1.4h1m-.9 1.2h1m-.1-1h1m-1 2.1h1m-.7-1.6h1m-1-.1h1m-1 .5h1m-.9 1.3h1m-.5-2.2h1m-.6 1.7h1m0-1.2h1m-.3-.2h1m-1 .3h1m-38.3 4.7h1m-.8-.1h1m-.4-.3h1m-1 0h1m-.4 .4h1m-.3-.1h1m-.7-.9h1m-1-.5h1m-1 .5h1m-.8 .4h1m-.6-1.8h1m-1 1.3h1m-.9-.9h1m-.9 .9h1m-.8-.1h1m-1 .9h1m-.7-1.8h1m-1 1.3h1m-1 .6h1m-.9-1.7h1m-.9 .9h1m-.9-1.4h1m-1 1.5h1m-.9-1.9h1m-1 2.7h1m-.9-2h1m-.9 2.1h1m-.8-2.9h1m-.9 2h1m-.9-1.5h1m-1 1.5h1m-.9 .9h1m-.8-2.1h1m-1 .3h1m-.9 .7h1m-.9-1.8h1m-.9 .3h1m-1 .8h1m-1 1h1m-.9 0h1m-.9-.5h1m-.6-.7h1m-1-.3h1m-.9 .4h1m-1 .7h1m-.9-1.6h1m-.9 1.4h1m-1 0h1m-.9-1.4h1m-1 2.6h1m-.9 .1h1m-.9-1.4h1m-.9 1.4h1m-.8-1.7h1m-.9 .3h1m-.9 0h1m-.8-1.4h1m-1 .6h1m-1 1.5h1m-1-.7h1m-1 .8h1m-.8-1.6h1m-1 2h1m-.8-2.7h1m-1 3h1m-.9-2.2h1m-.9 1.6h1m-.6-1.7h1m-.9 .6h1m-.9 0h1m-.6-.7h1m-.8 1.7h1m-.8-1.9h1m-.9-.1h1m-.6 2.7h1m-.9-.9h1m-.9-1.9h1m2 1.5h1m-.4-.5h1m7.8-.6h1m-.9 .3h1m-.2 .4h1m-1 .6h1m-.6-.9h1m-.6-.6h1m-.9-.2h1m-.4 .4h1m-.7 .4h1m-.5 .2h1m-.3-.5h1m-1 1.7h1m-.5-.3h1m-.7 .9h1m-.9-2.1h1m-.6 1.1h1m-.1-1.6h1m-1 .6h1m-.8-.8h1m-.8 .6h1m-.8 .9h1m-.6 .3h1m-.7 .2h1m-.9-1.8h1m-.4 .6h1m-1 .4h1m-.9-1.4h1m.1 1.9h1m1.1-1h1m-37.5 4.7h1m-1 0h1m-1 0h1m-.2-1.1h1m-1 .4h1m-.6 0h1m-.9 .8h1m-.9 .1h1m-.9-1h1m-.8 1h1m-.7-.8h1m-.9-.9h1m-.9 .2h1m-.7-.1h1m-.8-.9h1m-.9 .4h1m-.9-.4h1m-1 .4h1m-.8-.5h1m-1 1.5h1m-.9-.6h1m-1 .9h1m-.7-1.3h1m-.8-.3h1m-.9 0h1m-1 .9h1m-.9-.2h1m-.6-.8h1m-.8 1.5h1m-1 0h1m-1 .2h1m-1 .6h1m-.9-2.5h1m-1 1.6h1m-1 .1h1m-1-.3h1m-.9-.7h1m-.9-.1h1m-1 1.6h1m-.9-1.3h1m-.7-.4h1m-1 1.7h1m-1-.1h1m-.8-.8h1m-1-.2h1m-1 1.6h1m-.9 0h1m-.9-1.9h1m-1 1h1m-.9-1.3h1m-.8-.4h1m-.9 1.2h1m-.9-.2h1m-1 .2h1m-.9-.9h1m-.9 1.8h1m-1-.2h1m-.9-.2h1m-.9-.6h1m-1 .3h1m-.9 .5h1m-.9-1.2h1m-.5-.5h1m-1 .7h1m-.6 .2h1m-.8-1h1m-1 1h1m-.9 1.2h1m-.9-1.6h1m-.9 .2h1m-.9-.1h1m-.6-.7h1m-.8-.2h1m-1 .1h1m-.9 1.5h1m-.9-1.4h1m-.7-.2h1m-.8 1.6h1m-.8 0h1m.1-.6h1m-.9 .5h1m-.3-.8h1m-1 .9h1m1 0h1m-.7-.5h1m-.8-1h1m-15 3.1h1m-.8-.3h1m-.5 2.7h1m-.9-2.6h1m-1 2.8h1m-.9-1.7h1m-.7-1.2h1m-1 1.7h1m-.9 .1h1m-1 .6h1m-.9-1.8h1m-1 0h1m-.9 .5h1m-.9 .5h1m-1 .1h1m-.9 .6h1m-.9-.4h1m-.9 1h1m-.6-.8h1m-.6-1.5h1m-.9 1h1m-.7 0h1m-.8 .5h1m-.9-2.1h1m-.9 0h1m-1 .4h1m-1 1.5h1m-1 .1h1m-1 0h1m-.8-1.7h1m-1 .2h1m-.9 .4h1m-1-.2h1m-.9 .6h1m-.8-.2h1m0-.8h1m-.7-.3h1m-.4 .4h1m-.7 .6h1m.4-.8h1m.1 .5h1m.4 .7h1m-10.5 2.3h1m-1 .7h1m-.4-.3h1m-.9-.3h1m-.9 .1h1m-.8-.7h1" stroke="#000" stroke-width="1" fill="none"/></g>
<g filter="url(#bl)"><path d="M0 0" stroke="#000" stroke-width="1" stroke-opacity="0.6" fill="none"/><path d="M0 0" stroke="#000" stroke-width="1" fill="none"/></g>
<rect x="107.5" y="309.5" width="56.0" height="52.0" stroke="#4a4a4a" stroke-width="1" fill="none"/>
<line x1="135.5" y1="309.5" x2="135.5" y2="361.5" stroke="#4a4a4a" stroke-width="1"/>
<line x1="107.5" y1="337.5" x2="163.5" y2="337.5" stroke="#4a4a4a" stroke-width="1"/>
<text x="106.3" y="366.9" font-family="'Liberation Serif', serif" font-size="3.6" font-weight="bold" text-anchor="start" fill="#333">10</text>
<text x="110.0" y="364.7" font-family="'Liberation Serif', serif" font-size="2.6" font-weight="bold" text-anchor="start" fill="#333">0</text>
<rect x="107.0" y="361.5" width="1" height="1.6" fill="#333"/>
<text x="120.3" y="366.9" font-family="'Liberation Serif', serif" font-size="3.6" font-weight="bold" text-anchor="start" fill="#333">10</text>
<text x="124.0" y="364.7" font-family="'Liberation Serif', serif" font-size="2.6" font-weight="bold" text-anchor="start" fill="#333">1</text>
<rect x="121.0" y="361.5" width="1" height="1.6" fill="#333"/>
<text x="134.3" y="366.9" font-family="'Liberation Serif', serif" font-size="3.6" font-weight="bold" text-anchor="start" fill="#333">10</text>
<text x="138.0" y="364.7" font-family="'Liberation Serif', serif" font-size="2.6" font-weight="bold" text-anchor="start" fill="#333">2</text>
<rect x="135.0" y="361.5" width="1" height="1.6" fill="#333"/>
<text x="148.3" y="366.9" font-family="'Liberation Serif', serif" font-size="3.6" font-weight="bold" text-anchor="start" fill="#333">10</text>
<text x="152.0" y="364.7" font-family="'Liberation Serif', serif" font-size="2.6" font-weight="bold" text-anchor="start" fill="#333">3</text>
<rect x="149.0" y="361.5" width="1" height="1.6" fill="#333"/>
<text x="162.3" y="366.9" font-family="'Liberation Serif', serif" font-size="3.6" font-weight="bold" text-anchor="start" fill="#333">10</text>
<text x="166.0" y="364.7" font-family="'Liberation Serif', serif" font-size="2.6" font-weight="bold" text-anchor="start" fill="#333">4</text>
<rect x="163.0" y="361.5" width="1" height="1.6" fill="#333"/>
<text x="135.5" y="371.0" font-family="'Liberation Sans', sans-serif" font-size="3.0" font-weight="bold" text-anchor="middle" fill="#333">EGFP</text>
<text x="104.3" y="363.8" font-family="'Liberation Serif', serif" font-size="3.6" font-weight="bold" text-anchor="start" fill="#333" transform="rotate(-90 104.3 363.8)">10</text>
<text x="104.3" y="350.8" font-family="'Liberation Serif', serif" font-size="3.6" font-weight="bold" text-anchor="start" fill="#333" transform="rotate(-90 104.3 350.8)">10</text>
<text x="104.3" y="337.8" font-family="'Liberation Serif', serif" font-size="3.6" font-weight="bold" text-anchor="start" fill="#333" transform="rotate(-90 104.3 337.8)">10</text>
<text x="104.3" y="324.8" font-family="'Liberation Serif', serif" font-size="3.6" font-weight="bold" text-anchor="start" fill="#333" transform="rotate(-90 104.3 324.8)">10</text>
<text x="104.3" y="311.8" font-family="'Liberation Serif', serif" font-size="3.6" font-weight="bold" text-anchor="start" fill="#333" transform="rotate(-90 104.3 311.8)">10</text>
<text x="100.5" y="335.5" font-family="'Liberation Sans', sans-serif" font-size="3.6" font-weight="bold" text-anchor="middle" fill="#333" transform="rotate(-90 100.5 335.5)">GlyA-PE</text>
<path d="M100.3 306.3h2.6l-1.3 1.8z" fill="#222"/>
<text x="109.3" y="308.8" font-family="'Liberation Serif', serif" font-size="7.25" font-weight="bold" text-anchor="start" fill="#111" stroke="#111" stroke-width="0.15">15</text>
<text x="147.8" y="308.8" font-family="'Liberation Serif', serif" font-size="7.25" font-weight="bold" text-anchor="start" fill="#111" stroke="#111" stroke-width="0.15">0.3</text>
<text x="108.5" y="376.9" font-family="'Liberation Serif', serif" font-size="7.25" font-weight="bold" text-anchor="start" fill="#111" stroke="#111" stroke-width="0.15">80</text>
<text x="153.5" y="376.9" font-family="'Liberation Serif', serif" font-size="7.25" font-weight="bold" text-anchor="start" fill="#111" stroke="#111" stroke-width="0.15">5</text>
<g filter="url(#bl)"><path d="M223.1 310.4h1m-33.4 .2h1m7.8-.1h1m1.7 2.9h1m0-.3h1m-.3-1.8h1m1.8 .4h1m.5 1.5h1m11-1.8h1m7.2 .8h1m-40.8 1.6h1m3 1.3h1m-.2 1h1m4.3 .3h1m-.9-1.2h1m1.7-1h1m-.9-.4h1m-.4 .5h1m-.8-.6h1m1.6 0h1m6 1.9h1m6.7-.5h1m-.3-.9h1m-.1 .3h1m.6 .3h1m-.3-1.2h1m-.8 2.7h1m1.1-1.5h1m-.4 1.6h1m-.9-2.7h1m.9 .6h1m-37.4 3.1h1m.3 2.1h1m4.2-.4h1m2.6-.2h1m-.8-1.6h1m-.4 .4h1m-1 .7h1m.2-.6h1m.2 .8h1m-.6 .2h1m-.1-2.1h1m-.5 1.8h1m3.9 1h1m.1 0h1m.7-.4h1m1.3-2.2h1m2 1.7h1m-.5 .4h1m.2-1.7h1m-.1 1.4h1m1.2-1.4h1m.5 1.3h1m-.2 .8h1m3.3-2.1h1m2.8 .1h1m-47.2 2.9h1m3.7-.2h1m-.3 1.7h1m1.9-.4h1m-.2-.3h1m-.9-.6h1m1.4 1.6h1m.2-1h1m-.6-.3h1m-.8-.3h1m3.6 .5h1m4.5 .7h1m-.1-1.6h1m.3 2.3h1m.2-2h1m-.1 .4h1m.5-.1h1m1.4-1.1h1m-.1 0h1m.8 2.1h1m2.4-.1h1m-.4-.5h1m-.6-.1h1m4.3-1.4h1m-44.8 5.7h1m4.6-.4h1m-.4 .3h1m1.6-2h1m-.5 .5h1m-1 1.5h1m-.4 .3h1m-.7-.4h1m-.9-1.4h1m-.8 .1h1m-.8 .4h1m-.1 .5h1m-1 .6h1m-.3-2.8h1m-.4 .6h1m.7 1.3h1m-.8-.1h1m-.8-1.8h1m-.1 1h1m-.2 .6h1m1.1-.6h1m.6 .4h1m2.6 .4h1m1-.9h1m2.8-.3h1m-1 1.4h1m.1 .3h1m-.8-.3h1m-.3-.2h1m-.1-.1h1m.6-1.4h1m-.3 1.6h1m-.7-.7h1m-.9 1.4h1m-.1-2.6h1m.4 1.7h1m0-.9h1m.5 1.4h1m0-2.2h1m1 2.5h1m-.3 .1h1m-44.7 2.5h1m3.1-.2h1m.1-1.7h1m0 1.9h1m-.5 .8h1m-.8-.8h1m-.9-.9h1m.6 .2h1m2.5 .2h1m.4-1.2h1m-.6 .4h1m-.8 0h1m-.8 .1h1m.6-.1h1m-.7 1.2h1m3-1.4h1m.4 1.8h1m3.1-2.3h1m2.8 1.5h1m-.9-.5h1m-.5-1h1m-.6 1.3h1m-.7 1.5h1m-.5-2.4h1m-.1 1.1h1m2.4 .5h1m-37 1.5h1m6-.6h1m-.6 .9h1m-.5-.6h1m-.7 1.5h1m-.1-1.5h1m0 .2h1m-.7-.1h1m-.2 1.6h1m1.2 .4h1m.5-.9h1m-.5 1.4h1m-.4-1.8h1m-1 1.2h1m2.4-.4h1m.7-1.5h1m-.3 1h1m-.6 .8h1m-.6 .4h1m.4-.9h1m-.4 .5h1m-.8 .5h1m1.1-1.6h1m-.4-1.1h1m-.4 .9h1m-.9-.8h1m.9 2.6h1m-.2-1.4h1m1.2-.5h1m-.8 .8h1m1.1-1.6h1m1.1 .2h1m1.2 .5h1m-42 3.4h1m-.5 1.3h1m2.9-.5h1m.1-.3h1m-1 .5h1m.6-1.3h1m-.9 .3h1m-.6 1.1h1m-.6-2.1h1m-.6 0h1m-.5 1.2h1m.5-1.1h1m-1 .7h1m-1-.1h1m-.7 2.1h1m.4-.8h1m2.2-1h1m2.8 1h1m1.2-.8h1m3.8 1.5h1m6.1 .1h1m1.5-.7h1m7.6 .2h1m-.4-2.1h1m-39.9 3.5h1m.3 1.1h1m-.2 1h1m1.4-.3h1m-.6 .4h1m-.9-1.2h1m.6-1.3h1m5.2 1.3h1m4.1-.5h1m6.4-.2h1m2.5 1.6h1m.2-.7h1m1.6 .6h1m4.8 .2h1m-38.5 .9h1m5.7-.2h1m6.7 2.3h1m8.2 0h1m1-.4h1m.9-.8h1m6.9-1.1h1m-41 2.5h1m-.9 1.1h1m6.1 .2h1m11 1.2h1m4.9 .2h1m.4-.4h1m-.4-.1h1m1.4-1.4h1m-.4-.5h1m-.4 1.3h1m-.3 0h1m.9-1.3h1m3.1 .9h1m-.7 .5h1m-.4-1h1m0 .9h1m-.3 .2h1m.2 1.2h1m-.9-1.1h1m1.1-.1h1m-20.1 3.7h1m.3 .1h1m-.3-.9h1m-.9 .7h1m1.6-2h1m10.4 1.1h1m.8 .1h1m-20.1 3h1m-.7-1.1h1m.1 .8h1m13.5 1.3h1m.2-2.2h1m-.8 .7h1m-.6-1h1m2 1h1m-24.7 2.8h1m1.8 .8h1m17 .3h1m-22.1 1h1m.4 .4h1m.1-.2h1m.8 1.5h1m-.5 .3h1m.3 1h1m8.5-1.4h1m.7 1.3h1m-.5-2.2h1m1.7 1.1h1m-.8-.9h1m-18.7 4h1m2.4 .2h1m1.2 .1h1m-.8-1.6h1m-.4 1.6h1m0-.2h1m.8-.9h1m1.6 .2h1m-.1-1h1m4.4 .2h1m-24.8 3.3h1m6.9 .4h1m7.2-1.1h1" stroke="#000" stroke-opacity="0.62" stroke-width="1" fill="none"/><path d="M210.2 337.5h1m-6.4 2.8h1m-.6 .1h1m-.9-.3h1m-.8 0h1m-.9 .2h1m-.5-.4h1m-1-.7h1m-.7 .1h1m-1 .3h1m-1 0h1m-1 .7h1m-.9-.9h1m-.6 .6h1m-.5-.6h1m-1 .7h1m-.9-1.4h1m-1 .4h1m-.9-1.1h1m-.9 1.7h1m-.9-.5h1m-1 .7h1m-1 .4h1m-.9-1.9h1m-.7 .2h1m-.8-.8h1m-1 1h1m-.9 0h1m-.9-.9h1m-.9 1.6h1m-1 .1h1m-.9-1.7h1m-.6-.3h1m-1 1.3h1m-.6-1.3h1m-.8 .3h1m-.9 .7h1m-9.1 4.5h1m-.9 .3h1m-.8-.7h1m-.9-.6h1m-.9 1.1h1m-.6-.2h1m-.9-.4h1m-.9 .6h1m-.7-.6h1m-.9-.9h1m-1 1.6h1m-1-.1h1m-.9-.7h1m-.9-.6h1m-.5 1.5h1m-.9-.5h1m-1-.6h1m-.9 .6h1m-1-.8h1m-1 .9h1m-.8-.5h1m-.8 .1h1m-.8-1.3h1m-1 .7h1m-1 .5h1m-1 1h1m-.9-1.7h1m-1-.5h1m-.9 .6h1m-.9-1.1h1m-1 1h1m-.9-.7h1m-.9 1.4h1m-.9-.6h1m-.8-1h1m-1 1.2h1m-1-.1h1m-.8 .2h1m-.9-1.6h1m-.9 .1h1m-.9 0h1m-.8-.1h1m-1 1.3h1m-.9-.3h1m-1 0h1m-.9-.7h1m-.9 .8h1m-.7-.5h1m-.5-.4h1m-.5 0h1m11.9 2.4h1m.2-1.2h1m-.3 1.1h1m1.5 .2h1m-.9-1.3h1m.3 .5h1m-.4 .6h1m-.4-.3h1m-30.8 2.2h1m-.9 .9h1m-.9-.7h1m-.6 1h1m-.9-.1h1m-.3-.4h1m0 .4h1m-.8-1.2h1m-.9-.4h1m-1 .9h1m-.9 .2h1m-1-.3h1m-.7-.6h1m-1-.6h1m-1 0h1m-.7 .1h1m-.9-.4h1m-.9 0h1m-1 1.9h1m-.9-.9h1m-1 .5h1m-.9-.9h1m-1 .2h1m-.9 .1h1m-1 1h1m-.8-.7h1m-.8-.6h1m-.9 1.5h1m-.6-1.8h1m-.8-.4h1m-.5 .5h1m-.8 0h1m-.8 .6h1m-.1-1h1m13.3 1.5h1m.7 1.1h1m-.1-.6h1m-.6-1.1h1m-.7-.4h1m-.5 .1h1m-.9 1.2h1m-.5-.2h1m-.8-.3h1m-.8 1.2h1m-.8-.9h1m-.9-.9h1m-1 .6h1m-.8-.7h1m-.6 .6h1m-.7 1h1m-.9-1.5h1m.1 .8h1m.6 .6h1m-.7-2.3h1m-.5 1.8h1m-.1-1.3h1m-36.5 5.2h1m-.9-.1h1m-.6-.1h1m-.5-.4h1m-1-.2h1m-1 .9h1m-1 0h1m-.3 .1h1m-.9-.7h1m-.8 .3h1m-.9 .2h1m-.9-2.3h1m-.9 .4h1m-.9 .4h1m-.9 .1h1m-1-.6h1m-.9 1.3h1m-.7-1h1m-.9 1.2h1m-.9 .6h1m-.8-2.5h1m-1 .3h1m-.9-.7h1m-1 2.8h1m-.9-1.8h1m-.9 .7h1m-.8 .2h1m-.8-1.2h1m-1 1.5h1m-.8 .2h1m-.7-1.3h1m-1 .3h1m-.9-.5h1m-.9 1.2h1m-.9-.9h1m-.9-1h1m-.8 .1h1m-1 1.9h1m-.9-.4h1m-.9-.7h1m-.9 1.1h1m-.9-1h1m-.8 .2h1m-.9-1h1m-.6-.4h1m-.5 0h1m15.7 1.6h1m.1-1.2h1m-.6 .5h1m-.5 .1h1m-.8 .1h1m-1 1.2h1m-.5-.1h1m-.9 0h1m-.9-1.8h1m-.5 1.2h1m-.6 1.1h1m-.8-.6h1m-.6-.9h1m-.7-.8h1m-.4 .3h1m-.7 .1h1m-.9 .1h1m-1 2h1m-.7-2.3h1m-1 2.3h1m-.6-1.7h1m-.5 1.6h1m-.2-.9h1m-.9-1.7h1m-1 .9h1m-.6-.5h1m-1 1.9h1m-.9 .2h1m-.7-.1h1m-.9-.7h1m-.5 .3h1m-.8 .1h1m-36.5 3.5h1m-.7-.2h1m-.8-.5h1m-1 .4h1m-1 .2h1m-.9-1h1m-.7-.6h1m-.9 1h1m-.8-.2h1m-.9-.3h1m-.9 1.1h1m-.9-.8h1m-.9-.6h1m-.7-.1h1m-.9 1.2h1m-1 .4h1m-.6-.8h1m-.9-.5h1m-.8-.4h1m-.8-.4h1m-.9 1.1h1m-1 1.1h1m-.9-1.5h1m-1-.4h1m-1 1.7h1m-.8 0h1m-.8-1.5h1m-1 1.1h1m-.8-1h1m-1 .9h1m-.9 .4h1m-.9-1.3h1m-.9-1.1h1m-1 .9h1m-1 .8h1m-.9-.1h1m-.8-.5h1m-.7 0h1m-1 .6h1m-.8-1.6h1m-1 .5h1m-.8-.1h1m-.9-.3h1m-.8 .5h1m-.8 .5h1m-.9-.6h1m-.7-.1h1m-1 .4h1m-.9-.7h1m-.9-.1h1m-.6 .8h1m-.2-1h1m16.6 1.2h1m-.8 .6h1m-.9-.8h1m-.9-.8h1m-1 2.3h1m-.7-2.4h1m.1 1.1h1m-.7 1.1h1m-.4-.6h1m-.8-1.5h1m-.9 .8h1m-.6 .3h1m-.9 .3h1m-.9-1.4h1m-.8 1h1m-.5-.1h1m-1 1.6h1m-.5-1.7h1m-1 .9h1m-.6-1.9h1m-1 1.7h1m-.4-.4h1m-.9 0h1m-.5-1h1m-1 .9h1m-.9 .2h1m-.5-.1h1m-.7-.4h1m-.9-.2h1m-.9 1.4h1m-.9 0h1m-.7-.1h1m-.7-1.4h1m-.7-.5h1m-.4 .3h1m-.9 .7h1m-.7-1.1h1m.7 .6h1m-.1-.3h1m-.6 .5h1m-38.8 2.4h1m-.7 1.4h1m-.9-1.2h1m-.9-.5h1m-1 2.1h1m-.6-1.9h1m-1 1.2h1m-1-.7h1m-1 1.4h1m-.9-2h1m-.9 .8h1m-1-.4h1m-.9 .6h1m-1 1.2h1m-1-.5h1m-.7-1.8h1m-1 2h1m-.8-1.7h1m-1 0h1m-1 1.3h1m-.5-1.6h1m-.8 .3h1m-.8 .5h1m-1 .2h1m-.9-.4h1m-.5 .6h1m-.8-.9h1m-.9 .7h1m-.8-.6h1m-1-.1h1m-1 .3h1m.1-.6h1m-1 .2h1m20.6 1h1m-.9-.5h1m-.9 .7h1m-.9-1.3h1m-.1 1.7h1m-.5-1.6h1m-.3 .1h1m-.7 2.1h1m-.8-1.8h1m-.6 2.4h1m-.5-.7h1m-.6-1.6h1m1.1 .2h1m-.9-.7h1m-.6 .5h1m-.3-.2h1m-34.7 2.9h1m-.8-.1h1m-.8 .1h1m-.8-.3h1m-.9 .1h1m24.4 .2h1m-.7-.1h1m-.8 .1h1m-1-.1h1m3.5 .1h1m-.6-.1h1" stroke="#000" stroke-width="1" fill="none"/></g>
<g filter="url(#bl)"><path d="M0 0" stroke="#000" stroke-width="1" stroke-opacity="0.6" fill="none"/><path d="M0 0" stroke="#000" stroke-width="1" fill="none"/></g>
<rect x="187.5" y="309.5" width="50.0" height="52.0" stroke="#4a4a4a" stroke-width="1" fill="none"/>
<line x1="211.5" y1="309.5" x2="211.5" y2="361.5" stroke="#4a4a4a" stroke-width="1"/>
<line x1="187.5" y1="337.5" x2="237.5" y2="337.5" stroke="#4a4a4a" stroke-width="1"/>
<text x="186.3" y="366.9" font-family="'Liberation Serif', serif" font-size="3.6" font-weight="bold" text-anchor="start" fill="#333">10</text>
<text x="190.0" y="364.7" font-family="'Liberation Serif', serif" font-size="2.6" font-weight="bold" text-anchor="start" fill="#333">0</text>
<rect x="187.0" y="361.5" width="1" height="1.6" fill="#333"/>
<text x="198.8" y="366.9" font-family="'Liberation Serif', serif" font-size="3.6" font-weight="bold" text-anchor="start" fill="#333">10</text>
<text x="202.5" y="364.7" font-family="'Liberation Serif', serif" font-size="2.6" font-weight="bold" text-anchor="start" fill="#333">1</text>
<rect x="199.5" y="361.5" width="1" height="1.6" fill="#333"/>
<text x="211.3" y="366.9" font-family="'Liberation Serif', serif" font-size="3.6" font-weight="bold" text-anchor="start" fill="#333">10</text>
<text x="215.0" y="364.7" font-family="'Liberation Serif', serif" font-size="2.6" font-weight="bold" text-anchor="start" fill="#333">2</text>
<rect x="212.0" y="361.5" width="1" height="1.6" fill="#333"/>
<text x="223.8" y="366.9" font-family="'Liberation Serif', serif" font-size="3.6" font-weight="bold" text-anchor="start" fill="#333">10</text>
<text x="227.5" y="364.7" font-family="'Liberation Serif', serif" font-size="2.6" font-weight="bold" text-anchor="start" fill="#333">3</text>
<rect x="224.5" y="361.5" width="1" height="1.6" fill="#333"/>
<text x="236.3" y="366.9" font-family="'Liberation Serif', serif" font-size="3.6" font-weight="bold" text-anchor="start" fill="#333">10</text>
<text x="240.0" y="364.7" font-family="'Liberation Serif', serif" font-size="2.6" font-weight="bold" text-anchor="start" fill="#333">4</text>
<rect x="237.0" y="361.5" width="1" height="1.6" fill="#333"/>
<text x="212.5" y="371.0" font-family="'Liberation Sans', sans-serif" font-size="3.0" font-weight="bold" text-anchor="middle" fill="#333">EGFP</text>
<text x="184.3" y="363.8" font-family="'Liberation Serif', serif" font-size="3.6" font-weight="bold" text-anchor="start" fill="#333" transform="rotate(-90 184.3 363.8)">10</text>
<text x="184.3" y="350.8" font-family="'Liberation Serif', serif" font-size="3.6" font-weight="bold" text-anchor="start" fill="#333" transform="rotate(-90 184.3 350.8)">10</text>
<text x="184.3" y="337.8" font-family="'Liberation Serif', serif" font-size="3.6" font-weight="bold" text-anchor="start" fill="#333" transform="rotate(-90 184.3 337.8)">10</text>
<text x="184.3" y="324.8" font-family="'Liberation Serif', serif" font-size="3.6" font-weight="bold" text-anchor="start" fill="#333" transform="rotate(-90 184.3 324.8)">10</text>
<text x="184.3" y="311.8" font-family="'Liberation Serif', serif" font-size="3.6" font-weight="bold" text-anchor="start" fill="#333" transform="rotate(-90 184.3 311.8)">10</text>
<text x="180.5" y="335.5" font-family="'Liberation Sans', sans-serif" font-size="3.6" font-weight="bold" text-anchor="middle" fill="#333" transform="rotate(-90 180.5 335.5)">GlyA-PE</text>
<path d="M180.3 306.3h2.6l-1.3 1.8z" fill="#222"/>
<text x="187.7" y="308.8" font-family="'Liberation Serif', serif" font-size="7.25" font-weight="bold" text-anchor="start" fill="#111" stroke="#111" stroke-width="0.15">14</text>
<text x="231" y="308.8" font-family="'Liberation Serif', serif" font-size="7.25" font-weight="bold" text-anchor="start" fill="#111" stroke="#111" stroke-width="0.15">2</text>
<text x="187.7" y="376.9" font-family="'Liberation Serif', serif" font-size="7.25" font-weight="bold" text-anchor="start" fill="#111" stroke="#111" stroke-width="0.15">69</text>
<text x="229" y="376.9" font-family="'Liberation Serif', serif" font-size="7.25" font-weight="bold" text-anchor="start" fill="#111" stroke="#111" stroke-width="0.15">15</text>
<line x1="24.8" y1="381.5" x2="233.9" y2="381.5" stroke="#222" stroke-width="1.2"/>
<path d="M232.9 378.3 L247.4 381.5 L232.9 384.7 Z" fill="#111"/>
<text x="122" y="389.6" font-family="'Liberation Serif', serif" font-size="7.25" font-weight="bold" text-anchor="start" fill="#111" stroke="#111" stroke-width="0.15">GFP</text>
<text x="6.7" y="170" font-family="'Liberation Serif', serif" font-size="7.3" font-weight="bold" text-anchor="middle" fill="#111" stroke="#111" stroke-width="0.15" transform="rotate(-90 6.7 170)">MHC II</text>
<text x="6.7" y="253" font-family="'Liberation Serif', serif" font-size="7.3" font-weight="bold" text-anchor="middle" fill="#111" stroke="#111" stroke-width="0.15" transform="rotate(-90 6.7 253)">CD13,33</text>
<text x="6.7" y="333.0" font-family="'Liberation Serif', serif" font-size="7.3" font-weight="bold" text-anchor="middle" fill="#111" stroke="#111" stroke-width="0.15" transform="rotate(-90 6.7 333.0)">GlyA</text>
<line x1="10.2" y1="152" x2="10.2" y2="191.7" stroke="#222" stroke-width="1.2"/>
<path d="M7.299999999999999 153 L10.2 140 L13.1 153 Z" fill="#111"/>
<line x1="9.7" y1="237" x2="9.7" y2="275" stroke="#222" stroke-width="1.2"/>
<path d="M6.8999999999999995 238 L9.7 225 L12.5 238 Z" fill="#111"/>
<line x1="9.7" y1="318.8" x2="9.7" y2="357.5" stroke="#222" stroke-width="1.2"/>
<path d="M6.8999999999999995 319.8 L9.7 306.3 L12.5 319.8 Z" fill="#111"/>
<path d="M300.5 46.0 L301.3 44.9 L302.1 44.3 L302.9 42.9 L303.7 43.9 L304.5 43.5 L305.3 43.9 L306.1 43.4 L306.9 42.2 L307.7 42.2 L308.5 42.5 L309.3 41.1 L310.1 41.7 L310.9 41.1 L311.7 40.9 L312.5 40.7 L313.3 41.9 L314.1 40.6 L314.9 40.8 L315.7 40.9 L316.5 41.6 L317.3 40.0 L318.1 40.6 L318.9 40.6 L319.7 41.0 L320.5 40.8 L321.3 40.7 L322.1 39.5 L322.9 39.6 L323.7 39.3 L324.5 40.1 L325.3 40.0 L326.1 38.3 L326.9 38.1 L327.7 38.0 L328.5 37.8 L329.3 38.0 L330.1 37.9 L330.9 36.8 L331.7 35.8 L332.5 35.0 L333.3 32.8 L334.1 32.0 L334.9 35.5 L335.7 36.4 L336.5 36.6 L337.3 36.9 L338.1 37.2 L338.9 36.7 L339.7 39.5 L340.5 42.4Z" fill="#111"/>
<path d="M281.3 45.8 L282.2 45.6 L283.1 45.4 L284.0 45.9 L284.9 45.2 L285.8 45.7 L286.7 45.5 L287.6 44.5 L288.5 44.0 L289.4 42.6 L290.3 40.5 L291.2 37.5 L292.1 33.9 L293.0 30.2 L293.9 26.9 L294.8 23.1 L295.7 24.1 L296.6 27.4 L297.5 30.4 L298.4 32.8 L299.3 35.7 L300.2 39.4 L301.1 40.7 L302.0 43.2 L302.9 44.3 L303.8 45.1 L304.7 45.1 L305.6 45.3 L306.5 45.8 L307.4 45.2 L308.3 45.6 L309.2 45.7 L310.1 45.4 L311.0 45.6 L311.9 45.1 L312.8 45.1 L313.7 45.3 L314.6 45.8 L315.5 45.5 L316.4 45.4 L317.3 45.7 L318.2 45.6 L319.1 45.4 L320.0 45.9 L320.9 45.8 L321.8 45.4 L322.7 45.7 L323.6 45.7 L324.5 46.0 L325.4 45.9 L326.3 45.5 L327.2 46.2 L328.1 45.3 L329.0 45.6 L329.9 46.0 L330.8 45.4 L331.7 45.7 L332.6 45.3 L333.5 45.9 L334.4 46.0 L335.3 45.8 L336.2 46.1 L337.1 45.6 L338.0 46.0 L338.9 45.9 L339.8 45.9 L340.7 45.7 L341.6 46.1 L342.5 46.2 L343.4 45.8" fill="none" stroke="#1a1a1a" stroke-width="1.25" stroke-linejoin="round"/>
<path d="M293.2 33 L294.6 25 L296.2 27 L297.5 33 Z" fill="#111"/>
<rect x="280.5" y="9.5" width="64.0" height="37.0" stroke="#555" stroke-width="1" fill="none"/>
<text x="274.9" y="29.0" font-family="'Liberation Sans', sans-serif" font-size="2.2" font-weight="bold" text-anchor="middle" fill="#444" transform="rotate(-90 274.9 29.0)">Counts</text>
<rect x="276.6" y="45.2" width="1.4" height="1.4" fill="#222"/>
<rect x="276.6" y="37.9" width="1.4" height="1.4" fill="#222"/>
<rect x="276.6" y="30.6" width="1.4" height="1.4" fill="#222"/>
<rect x="276.6" y="23.4" width="1.4" height="1.4" fill="#222"/>
<rect x="276.6" y="16.1" width="1.4" height="1.4" fill="#222"/>
<rect x="276.6" y="8.8" width="1.4" height="1.4" fill="#222"/>
<rect x="280.0" y="46.5" width="1" height="1.3" fill="#333"/>
<text x="278.9" y="50.7" font-family="'Liberation Serif', serif" font-size="2.8" font-weight="bold" text-anchor="start" fill="#444">10</text>
<rect x="296.0" y="46.5" width="1" height="1.3" fill="#333"/>
<text x="294.9" y="50.7" font-family="'Liberation Serif', serif" font-size="2.8" font-weight="bold" text-anchor="start" fill="#444">10</text>
<rect x="312.0" y="46.5" width="1" height="1.3" fill="#333"/>
<text x="310.9" y="50.7" font-family="'Liberation Serif', serif" font-size="2.8" font-weight="bold" text-anchor="start" fill="#444">10</text>
<rect x="328.0" y="46.5" width="1" height="1.3" fill="#333"/>
<text x="326.9" y="50.7" font-family="'Liberation Serif', serif" font-size="2.8" font-weight="bold" text-anchor="start" fill="#444">10</text>
<rect x="344.0" y="46.5" width="1" height="1.3" fill="#333"/>
<text x="342.9" y="50.7" font-family="'Liberation Serif', serif" font-size="2.8" font-weight="bold" text-anchor="start" fill="#444">10</text>
<text x="314.5" y="51.1" font-family="'Liberation Sans', sans-serif" font-size="2.6" font-weight="bold" text-anchor="middle" fill="#555">FL2-Height</text>
<text x="293.5" y="60.3" font-family="'Liberation Serif', serif" font-size="7.25" font-weight="bold" text-anchor="start" fill="#111" stroke="#111" stroke-width="0.15">MHC II</text>
<path d="M380.9 46.0 L381.7 45.7 L382.5 43.6 L383.3 43.4 L384.1 42.6 L384.9 41.5 L385.7 39.6 L386.5 38.9 L387.3 38.4 L388.1 37.9 L388.9 37.7 L389.7 38.6 L390.5 39.3 L391.3 39.3 L392.1 38.8 L392.9 39.1 L393.7 39.5 L394.5 38.3 L395.3 39.4 L396.1 39.9 L396.9 39.7 L397.7 40.1 L398.5 40.1 L399.3 40.0 L400.1 41.5 L400.9 40.8 L401.7 41.7 L402.5 42.1 L403.3 41.2 L404.1 41.3 L404.9 42.4 L405.7 41.9 L406.5 40.9 L407.3 40.7 L408.1 40.7 L408.9 42.0 L409.7 41.8 L410.5 40.4 L411.3 41.2 L412.1 41.2 L412.9 40.3 L413.7 39.4 L414.5 39.2 L415.3 37.8 L416.1 36.9 L416.9 37.9 L417.7 36.5 L418.5 35.4 L419.3 35.8 L420.1 35.3 L420.9 36.6 L421.7 37.2 L422.5 36.7 L423.3 37.5 L424.1 38.2 L424.9 39.1 L425.7 40.6 L426.5 41.0 L427.3 42.2 L428.1 42.5 L428.9 44.8 L429.7 44.6 L430.5 45.6Z" fill="#111"/>
<path d="M370.8 45.8 L371.7 46.1 L372.6 46.1 L373.5 46.0 L374.4 45.6 L375.3 45.6 L376.2 45.2 L377.1 45.6 L378.0 43.9 L378.9 42.7 L379.8 39.9 L380.7 36.7 L381.6 32.8 L382.5 28.1 L383.4 24.7 L384.3 23.2 L385.2 25.7 L386.1 29.9 L387.0 34.0 L387.9 39.4 L388.8 44.4 L389.7 45.2 L390.6 45.3 L391.5 45.4 L392.4 45.4 L393.3 45.2 L394.2 45.9 L395.1 46.0 L396.0 45.5 L396.9 45.5 L397.8 45.1 L398.7 45.2 L399.6 45.4 L400.5 45.3 L401.4 45.9 L402.3 45.3 L403.2 45.1 L404.1 46.1 L405.0 45.6 L405.9 45.3 L406.8 45.7 L407.7 45.2 L408.6 45.7 L409.5 46.1 L410.4 46.0 L411.3 45.9 L412.2 45.4 L413.1 45.5 L414.0 45.3 L414.9 46.0 L415.8 45.7 L416.7 46.0 L417.6 45.5 L418.5 45.4 L419.4 46.0 L420.3 46.2 L421.2 46.1 L422.1 46.0 L423.0 46.1 L423.9 46.0 L424.8 45.5 L425.7 45.8 L426.6 45.6 L427.5 45.3 L428.4 45.3 L429.3 45.6 L430.2 45.5 L431.1 46.0 L432.0 45.8" fill="none" stroke="#1a1a1a" stroke-width="1.25" stroke-linejoin="round"/>
<path d="M382.6 32 L384 25 L385.6 28 L386.5 34 Z" fill="#111"/>
<rect x="370.5" y="9.5" width="62.0" height="37.0" stroke="#555" stroke-width="1" fill="none"/>
<text x="364.9" y="29.0" font-family="'Liberation Sans', sans-serif" font-size="2.2" font-weight="bold" text-anchor="middle" fill="#444" transform="rotate(-90 364.9 29.0)">Counts</text>
<rect x="365.8" y="45.2" width="1.4" height="1.4" fill="#222"/>
<rect x="365.8" y="37.9" width="1.4" height="1.4" fill="#222"/>
<rect x="365.8" y="30.6" width="1.4" height="1.4" fill="#222"/>
<rect x="365.8" y="23.4" width="1.4" height="1.4" fill="#222"/>
<rect x="365.8" y="16.1" width="1.4" height="1.4" fill="#222"/>
<rect x="365.8" y="8.8" width="1.4" height="1.4" fill="#222"/>
<rect x="370.0" y="46.5" width="1" height="1.3" fill="#333"/>
<text x="368.9" y="50.7" font-family="'Liberation Serif', serif" font-size="2.8" font-weight="bold" text-anchor="start" fill="#444">10</text>
<rect x="385.5" y="46.5" width="1" height="1.3" fill="#333"/>
<text x="384.4" y="50.7" font-family="'Liberation Serif', serif" font-size="2.8" font-weight="bold" text-anchor="start" fill="#444">10</text>
<rect x="401.0" y="46.5" width="1" height="1.3" fill="#333"/>
<text x="399.9" y="50.7" font-family="'Liberation Serif', serif" font-size="2.8" font-weight="bold" text-anchor="start" fill="#444">10</text>
<rect x="416.5" y="46.5" width="1" height="1.3" fill="#333"/>
<text x="415.4" y="50.7" font-family="'Liberation Serif', serif" font-size="2.8" font-weight="bold" text-anchor="start" fill="#444">10</text>
<rect x="432.0" y="46.5" width="1" height="1.3" fill="#333"/>
<text x="430.9" y="50.7" font-family="'Liberation Serif', serif" font-size="2.8" font-weight="bold" text-anchor="start" fill="#444">10</text>
<text x="403.5" y="51.1" font-family="'Liberation Sans', sans-serif" font-size="2.6" font-weight="bold" text-anchor="middle" fill="#555">FL2-Height</text>
<text x="386.9" y="60.2" font-family="'Liberation Serif', serif" font-size="7.25" font-weight="bold" text-anchor="start" fill="#111" stroke="#111" stroke-width="0.15">CD86</text>
<path d="M467.0 46.3 L467.7 45.0 L468.4 44.0 L469.1 42.5 L469.8 40.9 L470.5 39.7 L471.2 39.0 L471.9 36.3 L472.6 35.9 L473.3 34.4 L474.0 32.5 L474.7 32.0 L475.4 31.4 L476.1 29.8 L476.8 27.6 L477.5 27.9 L478.2 26.9 L478.9 26.5 L479.6 25.3 L480.3 26.4 L481.0 26.5 L481.7 28.3 L482.4 28.1 L483.1 28.8 L483.8 30.3 L484.5 32.2 L485.2 33.1 L485.9 33.4 L486.6 34.6 L487.3 37.3 L488.0 37.8 L488.7 39.2 L489.4 39.3 L490.1 40.5 L490.8 42.8 L491.5 43.3 L492.2 43.8 L492.9 45.6Z" fill="#111"/>
<path d="M452.8 46.2 L453.7 46.1 L454.6 46.2 L455.5 46.5 L456.4 46.0 L457.3 46.5 L458.2 46.0 L459.1 45.9 L460.0 44.8 L460.9 43.1 L461.8 41.2 L462.7 38.5 L463.6 35.7 L464.5 33.8 L465.4 30.9 L466.3 29.4 L467.2 31.0 L468.1 32.9 L469.0 35.4 L469.9 38.1 L470.8 40.5 L471.7 43.6 L472.6 45.6 L473.5 46.1 L474.4 45.8 L475.3 45.8 L476.2 46.3 L477.1 46.0 L478.0 46.1 L478.9 46.3 L479.8 46.4 L480.7 46.0 L481.6 46.2 L482.5 46.1 L483.4 46.1 L484.3 46.2 L485.2 46.0 L486.1 46.1 L487.0 46.0 L487.9 46.5 L488.8 46.3 L489.7 46.5 L490.6 46.5 L491.5 45.8 L492.4 46.2 L493.3 46.5 L494.2 46.4 L495.1 45.7 L496.0 45.7 L496.9 46.1 L497.8 45.7 L498.7 45.9 L499.6 45.7 L500.5 46.3 L501.4 46.4 L502.3 46.5 L503.2 45.8 L504.1 46.4 L505.0 46.3 L505.9 45.8 L506.8 46.5 L507.7 46.6 L508.6 45.9 L509.5 46.6 L510.4 46.1 L511.3 46.2 L512.2 46.7 L513.1 46.5 L514.0 45.9 L514.9 46.2" fill="none" stroke="#1a1a1a" stroke-width="1.25" stroke-linejoin="round"/>
<path d="M465 35 L466.3 30 L467.7 33 L468.5 37 Z" fill="#111"/>
<rect x="452.5" y="9.5" width="64.0" height="37.0" stroke="#555" stroke-width="1" fill="none"/>
<text x="446.9" y="29.0" font-family="'Liberation Sans', sans-serif" font-size="2.2" font-weight="bold" text-anchor="middle" fill="#444" transform="rotate(-90 446.9 29.0)">Counts</text>
<rect x="448.8" y="45.2" width="1.4" height="1.4" fill="#222"/>
<rect x="448.8" y="40.0" width="1.4" height="1.4" fill="#222"/>
<rect x="448.8" y="34.8" width="1.4" height="1.4" fill="#222"/>
<rect x="448.8" y="29.6" width="1.4" height="1.4" fill="#222"/>
<rect x="448.8" y="24.4" width="1.4" height="1.4" fill="#222"/>
<rect x="448.8" y="19.2" width="1.4" height="1.4" fill="#222"/>
<rect x="448.8" y="14.0" width="1.4" height="1.4" fill="#222"/>
<rect x="448.8" y="8.8" width="1.4" height="1.4" fill="#222"/>
<rect x="452.0" y="46.5" width="1" height="1.3" fill="#333"/>
<text x="450.9" y="50.7" font-family="'Liberation Serif', serif" font-size="2.8" font-weight="bold" text-anchor="start" fill="#444">10</text>
<rect x="468.0" y="46.5" width="1" height="1.3" fill="#333"/>
<text x="466.9" y="50.7" font-family="'Liberation Serif', serif" font-size="2.8" font-weight="bold" text-anchor="start" fill="#444">10</text>
<rect x="484.0" y="46.5" width="1" height="1.3" fill="#333"/>
<text x="482.9" y="50.7" font-family="'Liberation Serif', serif" font-size="2.8" font-weight="bold" text-anchor="start" fill="#444">10</text>
<rect x="500.0" y="46.5" width="1" height="1.3" fill="#333"/>
<text x="498.9" y="50.7" font-family="'Liberation Serif', serif" font-size="2.8" font-weight="bold" text-anchor="start" fill="#444">10</text>
<rect x="516.0" y="46.5" width="1" height="1.3" fill="#333"/>
<text x="514.9" y="50.7" font-family="'Liberation Serif', serif" font-size="2.8" font-weight="bold" text-anchor="start" fill="#444">10</text>
<text x="486.5" y="51.1" font-family="'Liberation Sans', sans-serif" font-size="2.6" font-weight="bold" text-anchor="middle" fill="#555">FL2-Height</text>
<text x="472.2" y="60.8" font-family="'Liberation Serif', serif" font-size="7.25" font-weight="bold" text-anchor="start" fill="#111" stroke="#111" stroke-width="0.15">CD40</text>
<path d="M336.8 106.3 L337.5 105.5 L338.2 103.4 L338.9 101.6 L339.6 99.1 L340.3 97.5 L341.0 95.0 L341.7 92.2 L342.4 89.0 L343.1 87.0 L343.8 84.1 L344.5 82.7 L345.2 81.0 L345.9 81.6 L346.6 82.6 L347.3 84.4 L348.0 87.1 L348.7 89.3 L349.4 92.0 L350.1 94.2 L350.8 96.2 L351.5 97.9 L352.2 99.5 L352.9 100.7 L353.6 101.1 L354.3 102.0 L355.0 103.8 L355.7 103.2 L356.4 104.2 L357.1 104.5 L357.8 104.1 L358.5 105.3 L359.2 105.6 L359.9 105.5 L360.6 105.8 L361.3 106.1 L362.0 105.5 L362.7 106.1 L363.4 106.3Z" fill="#111"/>
<path d="M319.3 106.2 L320.2 106.5 L321.1 106.3 L322.0 106.4 L322.9 105.8 L323.8 106.4 L324.7 105.7 L325.6 106.3 L326.5 106.0 L327.4 104.7 L328.3 103.4 L329.2 101.2 L330.1 98.0 L331.0 95.2 L331.9 92.9 L332.8 90.8 L333.7 90.8 L334.6 92.4 L335.5 94.5 L336.4 96.8 L337.3 99.3 L338.2 102.6 L339.1 106.2 L340.0 105.8 L340.9 106.0 L341.8 105.8 L342.7 105.9 L343.6 105.6 L344.5 105.8 L345.4 105.6 L346.3 106.2 L347.2 106.1 L348.1 105.8 L349.0 106.0 L349.9 106.4 L350.8 105.7 L351.7 106.3 L352.6 106.0 L353.5 106.1 L354.4 106.3 L355.3 106.0 L356.2 106.1 L357.1 106.2 L358.0 106.5 L358.9 106.0 L359.8 106.4 L360.7 106.3 L361.6 106.2 L362.5 106.0 L363.4 106.0 L364.3 105.8 L365.2 105.8 L366.1 105.8 L367.0 106.3 L367.9 105.9 L368.8 105.9 L369.7 105.8 L370.6 106.4 L371.5 106.4 L372.4 106.3 L373.3 106.0 L374.2 106.0 L375.1 106.0 L376.0 106.1 L376.9 105.9 L377.8 106.1 L378.7 106.0 L379.6 106.6 L380.5 106.6 L381.4 106.2 L382.3 106.0 L383.2 106.2" fill="none" stroke="#1a1a1a" stroke-width="1.25" stroke-linejoin="round"/>
<path d="M331 97 L333 91.5 L335 95 L335.5 99 Z" fill="#111"/>
<rect x="318.5" y="70.5" width="65.0" height="36.0" stroke="#555" stroke-width="1" fill="none"/>
<text x="312.9" y="89.5" font-family="'Liberation Sans', sans-serif" font-size="2.2" font-weight="bold" text-anchor="middle" fill="#444" transform="rotate(-90 312.9 89.5)">Counts</text>
<rect x="314.4" y="105.2" width="1.4" height="1.4" fill="#222"/>
<rect x="314.4" y="100.1" width="1.4" height="1.4" fill="#222"/>
<rect x="314.4" y="95.1" width="1.4" height="1.4" fill="#222"/>
<rect x="314.4" y="90.0" width="1.4" height="1.4" fill="#222"/>
<rect x="314.4" y="85.0" width="1.4" height="1.4" fill="#222"/>
<rect x="314.4" y="79.9" width="1.4" height="1.4" fill="#222"/>
<rect x="314.4" y="74.9" width="1.4" height="1.4" fill="#222"/>
<rect x="314.4" y="69.8" width="1.4" height="1.4" fill="#222"/>
<rect x="318.0" y="106.5" width="1" height="1.3" fill="#333"/>
<text x="316.9" y="110.7" font-family="'Liberation Serif', serif" font-size="2.8" font-weight="bold" text-anchor="start" fill="#444">10</text>
<rect x="334.2" y="106.5" width="1" height="1.3" fill="#333"/>
<text x="333.15" y="110.7" font-family="'Liberation Serif', serif" font-size="2.8" font-weight="bold" text-anchor="start" fill="#444">10</text>
<rect x="350.5" y="106.5" width="1" height="1.3" fill="#333"/>
<text x="349.4" y="110.7" font-family="'Liberation Serif', serif" font-size="2.8" font-weight="bold" text-anchor="start" fill="#444">10</text>
<rect x="366.8" y="106.5" width="1" height="1.3" fill="#333"/>
<text x="365.65" y="110.7" font-family="'Liberation Serif', serif" font-size="2.8" font-weight="bold" text-anchor="start" fill="#444">10</text>
<rect x="383.0" y="106.5" width="1" height="1.3" fill="#333"/>
<text x="381.9" y="110.7" font-family="'Liberation Serif', serif" font-size="2.8" font-weight="bold" text-anchor="start" fill="#444">10</text>
<text x="353.0" y="111.1" font-family="'Liberation Sans', sans-serif" font-size="2.6" font-weight="bold" text-anchor="middle" fill="#555">FL2-Height</text>
<text x="339.4" y="120.6" font-family="'Liberation Serif', serif" font-size="7.4" font-weight="bold" text-anchor="start" fill="#111" stroke="#111" stroke-width="0.15">CD83</text>
<path d="M419.2 108.4 L420.0 105.4 L420.8 105.4 L421.6 106.2 L422.4 106.1 L423.2 105.8 L424.0 105.5 L424.8 105.9 L425.6 105.8 L426.4 106.7 L427.2 105.2 L428.0 106.5 L428.8 106.6 L429.6 105.3 L430.4 106.8 L431.2 106.4 L432.0 106.7 L432.8 105.6 L433.6 105.8 L434.4 105.8 L435.2 106.9 L436.0 106.2 L436.8 105.7 L437.6 105.9 L438.4 105.6 L439.2 105.2 L440.0 105.3 L440.8 106.3 L441.6 105.0 L442.4 105.9 L443.2 104.3 L444.0 104.1 L444.8 103.9 L445.6 102.6 L446.4 102.3 L447.2 102.8 L448.0 102.4 L448.8 102.0 L449.6 101.4 L450.4 101.6 L451.2 101.4 L452.0 100.5 L452.8 100.6 L453.6 99.1 L454.4 100.1 L455.2 99.4 L456.0 99.7 L456.8 99.2 L457.6 98.3 L458.4 97.7 L459.2 99.0 L460.0 97.3 L460.8 98.0 L461.6 97.9 L462.4 97.9 L463.2 98.8 L464.0 99.3 L464.8 98.0 L465.6 99.0 L466.4 98.6 L467.2 99.3 L468.0 99.2 L468.8 99.0 L469.6 99.3 L470.4 99.7 L471.2 101.4 L472.0 101.1 L472.8 101.1 L473.6 103.3 L474.4 106.2 L475.2 105.7 L476.0 105.7 L476.8 106.3 L477.6 106.7 L478.4 108.0Z" fill="#111"/>
<path d="M419.2 108.0 L420.0 103.1 L420.8 98.9 L421.6 95.0 L422.4 93.9 L423.2 95.4 L424.0 97.4 L424.8 96.5 L425.6 95.9 L426.4 94.8 L427.2 95.2 L428.0 96.1 L428.8 95.8 L429.6 92.8 L430.4 90.7 L431.2 86.6 L432.0 82.6 L432.8 78.8 L433.6 75.2 L434.4 74.2 L435.2 75.7 L436.0 78.3 L436.8 79.8 L437.6 82.4 L438.4 85.6 L439.2 89.0 L440.0 91.6 L440.8 94.9 L441.6 97.1 L442.4 99.6 L443.2 103.2 L444.0 107.2 L444.8 106.7 L445.6 107.3 L446.4 107.6 L447.2 107.1 L448.0 107.0 L448.8 107.1 L449.6 107.4 L450.4 107.5 L451.2 107.3 L452.0 107.4 L452.8 106.9 L453.6 106.9 L454.4 107.1 L455.2 107.6 L456.0 107.2 L456.8 107.5 L457.6 106.9 L458.4 107.0 L459.2 107.2 L460.0 107.7 L460.8 107.7 L461.6 107.7 L462.4 107.4 L463.2 107.6 L464.0 107.6 L464.8 107.6 L465.6 107.3 L466.4 108.1 L467.2 107.4 L468.0 108.2 L468.8 108.2 L469.6 107.3 L470.4 107.8 L471.2 108.2 L472.0 108.3 L472.8 107.8 L473.6 107.7 L474.4 107.6 L475.2 108.4 L476.0 107.7 L476.8 108.1 L477.6 107.7 L478.4 108.1 L479.2 108.5 L480.0 107.7 L480.8 108.4 L481.6 108.2 L482.4 108.6 L483.2 108.4 L484.0 107.9 L484.8 108.6 L485.6 108.3 L486.4 108.3" fill="none" stroke="#1a1a1a" stroke-width="1.25" stroke-linejoin="round"/>
<path d="M431.5 86 L433.8 75 L436 80 L436.5 88 Z" fill="#111"/>
<rect x="418.5" y="69.5" width="69.0" height="39.0" stroke="#555" stroke-width="1" fill="none"/>
<text x="412.9" y="90.0" font-family="'Liberation Sans', sans-serif" font-size="2.2" font-weight="bold" text-anchor="middle" fill="#444" transform="rotate(-90 412.9 90.0)">Counts</text>
<rect x="415.3" y="107.2" width="1.4" height="1.4" fill="#222"/>
<rect x="415.3" y="99.5" width="1.4" height="1.4" fill="#222"/>
<rect x="415.3" y="91.8" width="1.4" height="1.4" fill="#222"/>
<rect x="415.3" y="84.2" width="1.4" height="1.4" fill="#222"/>
<rect x="415.3" y="76.5" width="1.4" height="1.4" fill="#222"/>
<rect x="415.3" y="68.8" width="1.4" height="1.4" fill="#222"/>
<rect x="418.0" y="108.5" width="1" height="1.3" fill="#333"/>
<text x="416.9" y="112.7" font-family="'Liberation Serif', serif" font-size="2.8" font-weight="bold" text-anchor="start" fill="#444">10</text>
<rect x="435.2" y="108.5" width="1" height="1.3" fill="#333"/>
<text x="434.15" y="112.7" font-family="'Liberation Serif', serif" font-size="2.8" font-weight="bold" text-anchor="start" fill="#444">10</text>
<rect x="452.5" y="108.5" width="1" height="1.3" fill="#333"/>
<text x="451.4" y="112.7" font-family="'Liberation Serif', serif" font-size="2.8" font-weight="bold" text-anchor="start" fill="#444">10</text>
<rect x="469.8" y="108.5" width="1" height="1.3" fill="#333"/>
<text x="468.65" y="112.7" font-family="'Liberation Serif', serif" font-size="2.8" font-weight="bold" text-anchor="start" fill="#444">10</text>
<rect x="487.0" y="108.5" width="1" height="1.3" fill="#333"/>
<text x="485.9" y="112.7" font-family="'Liberation Serif', serif" font-size="2.8" font-weight="bold" text-anchor="start" fill="#444">10</text>
<text x="455.0" y="113.1" font-family="'Liberation Sans', sans-serif" font-size="2.6" font-weight="bold" text-anchor="middle" fill="#555">FL2-Height</text>
<text x="442.2" y="120.6" font-family="'Liberation Serif', serif" font-size="7.4" font-weight="bold" text-anchor="start" fill="#111" stroke="#111" stroke-width="0.15">CD1a</text>
<text x="291.7" y="137.6" font-family="'Liberation Serif', serif" font-size="7.3" font-weight="bold" text-anchor="start" fill="#111" stroke="#111" stroke-width="0.15">Mock-transduced</text>
<text x="384.6" y="137.6" font-family="'Liberation Serif', serif" font-size="7.5" font-weight="bold" text-anchor="start" fill="#111" stroke="#111" stroke-width="0.15">DR.GFP</text>
<text x="469.8" y="137.6" font-family="'Liberation Serif', serif" font-size="7.5" font-weight="bold" text-anchor="start" fill="#111" stroke="#111" stroke-width="0.15">EF.GFP</text>
<g filter="url(#bl)"><path d="M295.8 150.6h1m6.6-.8h1m.1-.2h1m7.4 1h1m-18.5 3.3h1m2.3 .5h1m1.1-1.3h1m10.3 .2h1m-.9-.3h1m4.3 .1h1m-4 2.4h1m-.2 1h1m10.4-.7h1m-32.1 5h1m-.9-.1h1m-1 2.2h1m21.2-.2h1m-.5-1.8h1m.2 1.2h1m1.6-.9h1m-4.6 4.9h1m-.9-1h1m.9 .5h1m3.2 .7h1m.3 0h1m-32.1 3h1m-.6 2.9h1m-.8-2.3h1m0 2.4h1m20.6-1.5h1m3.4-.2h1m.7 .5h1m-10.2 3.2h1m.4-1.8h1m.8 1.3h1m.9 1.5h1m3.2-.2h1m-28.4 1.5h1m.4 .5h1m.4 0h1m12.2-1.1h1m16.5-.2h1m-34.9 4.4h1m.3 .3h1m2-.1h1m-.4 1h1m-5.1 2.2h1m1.6-.8h1m8.5 0h1m-.1-.4h1m-.9-.7h1m-13.2 4.2h1m.4-.9h1m-.1-.4h1m8.5 2.6h1m-.2 .3h1m-.3-1.6h1m-.6-.8h1m5.5 .4h1m3.1 .8h1m-25.5 2.7h1m-.3 0h1m9.2 1.1h1m.2-.7h1m.2-1.6h1m-.6 .9h1m4.5 1.2h1m-1-.2h1m2.6 .2h1m-25.5 1.8h1m-.1-.1h1m.6 .1h1m-.4-1.2h1m-.6 2.9h1m-.5-1.3h1m8 0h1m.3-.7h1m1.4 1.3h1m-.3-2h1m1.2 .1h1m-21 3.2h1m1.2 1.3h1m-.9 .6h1m-.2-.5h1m-.7-1.3h1m-.8 .3h1m.6 .4h1m-.9-.4h1m-.2 .9h1m7.1 .2h1m1.1 0h1m-16 2.8h1m2.2 .7h1m.4-2.3h1m.3 2.4h1m-.4 .3h1m-.3-2h1m-.4-.9h1m-.2 1.2h1m.8 1.6h1m1.9-1.4h1m-11.2 3.2h1m0-1.2h1m-.5 2.3h1m.1-.4h1m.4-1.8h1m2.2 1.1h1m0-1.4h1m3.1 .4h1m13 .4h1m-21.9 3h1" stroke="#000" stroke-opacity="0.62" stroke-width="1" fill="none"/><path d="M304.2 150.3h1m-.9 .2h1m-.9 .9h1m.1-.2h1m-.6-.4h1m-1 .3h1m-.4-1.1h1m-1 .8h1m.2 .7h1m-.5-.6h1m-.3-.9h1m-.5 .8h1m-.7 .2h1m-.8-.4h1m-.2 .5h1m-10.2 3.1h1m-.6 .2h1m-.8-.3h1m-.3-.8h1m-.6-1.2h1m-.9 1.2h1m-.9-1h1m-.9-.1h1m-.7-.2h1m-.5 2.3h1m-.9-2h1m-1 1.4h1m-1 .1h1m-.8-.3h1m-.8 .9h1m-.6-1.3h1m-.8 0h1m-.9 1.2h1m-.9-1.6h1m-1 0h1m-.8-.2h1m-.8 1h1m-.8 .7h1m-.8-2.6h1m-.9 2.1h1m-.8 .4h1m-.9-1.7h1m-.6 .5h1m-.8-.7h1m-1 1.4h1m-.9 .6h1m0-1.1h1m-.8-.2h1m-1 .6h1m-.7 .7h1m-.5-1.4h1m-.8-.1h1m-.8 0h1m-.8 1.2h1m-.7-.4h1m-.1 .6h1m-.8-.3h1m-14.6 3.2h1m1.6-.1h1m-.9-2.4h1m0 1.1h1m-.4 0h1m-.7 1.3h1m-.2-.5h1m-1-.2h1m-.7-1.6h1m-.9-.1h1m-1 2.4h1m-.6-1.1h1m-.7 1.3h1m-.9-2.4h1m-1 1.4h1m-.9 1.3h1m-.8-2.9h1m-.8 2.8h1m-.9-1.7h1m-1 1.1h1m-.9-1.2h1m-1 .7h1m-1 1.3h1m-.7-.1h1m-.9-.5h1m-1-.3h1m-1 .7h1m-.9-.5h1m-.8-1.2h1m-1 .6h1m-.9 1.3h1m-.9-1.9h1m-1 .6h1m-.9-.7h1m-1 .2h1m-.9-1.2h1m-.9 1h1m-.7-.3h1m-.8 .9h1m-.7-1.5h1m-.5 1.5h1m-.9-.7h1m-.8 1.2h1m-1 .8h1m-.9-1.6h1m-.9 .7h1m-.9 .4h1m-.8-1.2h1m-.8 0h1m-.9-.5h1m-.8 .9h1m-.4 1h1m-.3-.3h1m-.9-.5h1m-.8 1.2h1m-.9-.2h1m-.8-.8h1m-1 .5h1m-.6-1.8h1m-1 .6h1m-1 .6h1m-.8-.3h1m-.9 .6h1m.2-.5h1m-.3-1.1h1m-.8 .9h1m0 .8h1m-.9-.4h1m-19.6 2.9h1m-.6 .2h1m-.8 .4h1m-.2-.1h1m-.9-.1h1m-.6-2.1h1m-.6 2.5h1m-.6-1.2h1m-.7-.7h1m-1 .6h1m-1 1.6h1m-.8-1.3h1m-.8 .3h1m-1-.2h1m-.6 1h1m-.8-2.2h1m-.7 1.4h1m-.7-.9h1m-.6-.9h1m-.6 .3h1m-.9 1.8h1m-1 .5h1m-.9-1.7h1m-.9-.5h1m-1 2.3h1m-.8 0h1m-.8-.9h1m-.7 .5h1m-.7 0h1m-.9-.8h1m-.9 1.3h1m-.8-2.7h1m-.7 .8h1m-1 1.9h1m-.8-2.1h1m-1 .9h1m-.2 .1h1m-1 1.1h1m-.7-2.8h1m-1 1.8h1m-.9-1.1h1m-.7 1.1h1m-1 1h1m-.8-1h1m-1 0h1m-.9 .1h1m-.9 .5h1m-.7-1.9h1m-.7 .5h1m-1 .6h1m-.9 .6h1m-.9-.3h1m-.9-.9h1m-.6-.8h1m-1 1.3h1m-.5 1.3h1m-.8-1.9h1m-1 1.9h1m-.3-1h1m-1 .7h1m-.8-.9h1m-.7 .1h1m-.9-.8h1m-.7 .2h1m-.9-.3h1m-.8-.6h1m-1 .3h1m-1 1h1m-.8-.2h1m-1-.5h1m-.9 1.9h1m-.7-2.4h1m-.5 1h1m-.5 0h1m-1-.8h1m-1 1.8h1m-.8-.7h1m-.9-1.3h1m-.9 2.2h1m-.5-1.9h1m-.8 1.5h1m-.8-1.6h1m-.8 1.4h1m-.9-1.8h1m-.6 2.1h1m-.9-2h1m-.9 .3h1m-.5 1.5h1m-.4-1.9h1m-1 1h1m-1 .8h1m.3-1.5h1m-20.8 3.1h1m.6 1.6h1m-.3-.4h1m-1 1.1h1m-.8-1.6h1m-.9-1.3h1m-.9 2h1m-.7 0h1m-.9-.8h1m-.9 .1h1m-1 1.5h1m-.9-.8h1m-.4 .1h1m-.7-.9h1m-.7 1.6h1m-.8-.7h1m-.9-2.1h1m-.9 .2h1m-1-.1h1m-.8 1.2h1m-.6 .4h1m-.6-.6h1m-1-.2h1m-1 .9h1m-1-.2h1m-.8-.4h1m-.9 0h1m-1 .8h1m-.9-.9h1m-.8-1h1m-1 .3h1m-1 1.8h1m-1 .2h1m-.6-.7h1m-.8 1.3h1m-.4-.6h1m-.9-1.8h1m-.9 1.6h1m-.8-1.6h1m-.8 0h1m-.9 0h1m-.9 1.1h1m-1 .9h1m-.5-1.3h1m-1 1.3h1m-.8-2.6h1m-.9 .3h1m-1 .1h1m-.9 2.5h1m-.9-.2h1m-.9-.7h1m-1 .2h1m-.8 0h1m-.9-1.2h1m-.7-.5h1m-1 1.7h1m-.9-1h1m-.9-.3h1m-.9 0h1m-.9-.5h1m-.9 0h1m-1 1h1m-1 1.6h1m-.9-2.7h1m-.9 .3h1m-.6 .6h1m-1 .3h1m-.8 .7h1m-.6 .2h1m-.8-2.1h1m-.7 2.6h1m-.9-2.6h1m-1 .5h1m-.8 .3h1m-.8 .3h1m-.9-1.4h1m-.8 1.9h1m-.9 0h1m-.9 .9h1m-.9-1.4h1m-.8 .4h1m-.9 1h1m-.9-1.5h1m-1 .2h1m-.8-.9h1m-.9-.5h1m-1 .9h1m-1 1.9h1m-.9-.8h1m-.6-.5h1m-.9-1.2h1m-.9-.1h1m-1 .5h1m-.7 1.5h1m-.8-.4h1m-.7-1.5h1m-.9 1.3h1m-.9 .3h1m-.9-.2h1m-.8 .8h1m-.8-2.1h1m-.5 1h1m-.6 1.2h1m-.5-1.8h1m-1 2h1m-.9-2.3h1m-.9 2h1m-.5-1.8h1m-.8 0h1m-1 .9h1m-1 .1h1m.6 .4h1m-.4 .4h1m-22.2 2.8h1m-.4-1.8h1m-.9 2.2h1m-.9-.4h1m0-1.7h1m-.3 1.6h1m-.7-1.3h1m-.2 .8h1m-.7-.9h1m-.9-.3h1m-.9 .8h1m-.9 1.3h1m-.9-.7h1m-.9 .2h1m-.9-1h1m-.9-1.1h1m-.8 1.8h1m-.9-1.5h1m-.8 0h1m-.6 1.5h1m-.6 .7h1m-.3-2.5h1m-1 2h1m-.1-1.7h1m-.5 0h1m-.9 2.2h1m-.8-2.4h1m-.7-.1h1m-.8 .4h1m-.8 1.4h1m-1 .8h1m-.9-1.3h1m-.5-1.1h1m-.9-.1h1m-.9 1.2h1m-1 .4h1m-1 .3h1m-1 .4h1m-.8-.4h1m-.9-1.3h1m-.8 1h1m-.9-.8h1m-.9-.9h1m-.9 1.9h1m-.7-.1h1m-.8 0h1m-1 .7h1m-.9-2h1m-1 0h1m-.8 .6h1m-.8 .1h1m-.7 .6h1m-.8-1.5h1m-.9 1.6h1m-.9-1.7h1m-.5 1.8h1m-.5-1.1h1m-.8 .3h1m-1 1.6h1m-.5-2.7h1m-1 1.2h1m-.5-.3h1m-.7-.5h1m-1 .2h1m-.9 2.1h1m-.4-2.8h1m-.7 1h1m-.6-.6h1m-.1 1.8h1m-.7-.5h1m-.9-1.2h1m-1 2h1m-.1-.8h1m-.5 0h1m-.3 .6h1m-.7-.6h1m-1 .5h1m-.8-.3h1m-.9-1h1m-.1 1.7h1m-.9-.8h1m-1 .8h1m-.3-.4h1m-23.4 .9h1m.1-.2h1m-.9 .2h1m-.3 1.7h1m-.6-1.3h1m-.4 2.1h1m-.5-1.3h1m-1 .5h1m-.8-.4h1m-1 1.4h1m-.7-2.1h1m-1-.1h1m-.9-.3h1m-.8 2.4h1m-.9-2.6h1m-.9 .1h1m-.7 1.9h1m-.6-.9h1m-1 .3h1m-.3 1.3h1m-.8-2.9h1m-.6 .4h1m-1 2.4h1m-.9 .2h1m-.9-1h1m-.1-1.3h1m-.9 1.8h1m-.8 .4h1m-.7-2.8h1m-.7 .8h1m-.9-.2h1m-.9 .1h1m-1 1.7h1m-.7 .3h1m-.5-2.1h1m-1 .3h1m-.9-.5h1m-.2-.4h1m-.6 2.3h1m-1-.1h1m-.4-.9h1m-.8 0h1m-.9 0h1m-.8 1.5h1m-.9-1.9h1m-1 .4h1m-1 .4h1m-.9-1h1m-.9-.5h1m-1 2.6h1m-.5-1.5h1m-1 .8h1m-.3-.8h1m-.8-1.3h1m-.8-.1h1m-.9 1.9h1m-.7-.5h1m-.7-.3h1m-.7 .6h1m-1 .4h1m-.7-2h1m-1 1.5h1m-.6 .6h1m-.9-.9h1m-1 .5h1m-.9-.8h1m-1 .9h1m-.5 .5h1m-1 .4h1m-.7 0h1m-.9-2.2h1m-.7 .2h1m-.9 1.1h1m-.9 .4h1m-.7-2h1m-.4-.1h1m-1 1.1h1m-.4-.7h1m-.7 1.3h1m-.5 .8h1m-.8-.1h1m-.9-2.2h1m-.6 1.4h1m-.7-.7h1m-.8-.6h1m-.4 2.1h1m-.9-.1h1m-.9-.5h1m-.6 0h1m-21.5 2.1h1m.2-.1h1m-.8 .8h1m-.5 .2h1m.1-1.9h1m-.6 .3h1m-1 .8h1m-1 .5h1m-.4-.7h1m-.8-.6h1m-.9 1.9h1m-.5-1.1h1m-1 1.2h1m-1-.2h1m-.9-.2h1m-.7-.6h1m-.9-1h1m-.3 1h1m-.6-.8h1m-.5 .8h1m-1-.4h1m-.7-.9h1m-.8 0h1m-.8 .9h1m-.9-.3h1m-.9 1.9h1m-.9-.3h1m-1-.6h1m-.8-.7h1m-.9-.9h1m-1 1.1h1m-1 .1h1m-1-.6h1m-.9 1.7h1m-.9-1.1h1m-.9-1.1h1m-.9 .2h1m-.9 .4h1m-1 1.1h1m-.7-.2h1m-.9-1.6h1m-.9 2h1m-1-.3h1m-.6 1h1m-.8-1.1h1m-.8-.6h1m-1 .3h1m-.8-1.2h1m-.9 .5h1m-.5 .6h1m-.8 .1h1m-.9-1.3h1m-.8 1.7h1m-.8-1h1m-.1 .7h1m-.8-.6h1m-.8 .9h1m-.9-.8h1m-.6-.6h1m-1 1.5h1m-.9-1.5h1m-.6-.3h1m-.9 1.5h1m-.9-.5h1m-.9 .6h1m-.6 0h1m-1 .3h1m-.8-.8h1m-.9 .2h1m-.5-.7h1m-.9 .1h1m-1 1.6h1m-.3-2.3h1m-.6 .8h1m-1-.3h1m-.5 1.4h1m-.9-1.5h1m-.6-.2h1m-1 .8h1m-.8-.4h1m-1 .1h1m-.5-.7h1m-.9 1.2h1m-1 .6h1m-.8-.6h1m-.7-1h1m0 1h1m-.4-1.1h1m-19.7 3.5h1m-.8 .1h1m-.8 1.5h1m0-.9h1m-.9-.7h1m-.2-.5h1m-.9 2h1m-.8-.9h1m-.8 1.5h1m-.8-2h1m-.9 1.1h1m-1-.3h1m-1 .4h1m-.1-.6h1m-.6-1.4h1m-.9 .9h1m.3 0h1m-.1-.3h1m-1 2.4h1m-.9-2.7h1m-.9 .8h1m-1 .4h1m-.9-1.5h1m-.9 1.6h1m-.8-1.2h1m-.7 .6h1m-1 1.4h1m-1 .5h1m-.7-2.7h1m-.7 .5h1m-.7 2h1m-.9-.6h1m-.8 .9h1m-.8-1.1h1m-.6 .1h1m-.5 .5h1m-.9-1.8h1m-.9-.7h1m-1 1.2h1m-.6-.6h1m-.9 .1h1m-1 .2h1m-1 1.2h1m-.9-.7h1m-.9-.5h1m-.9 .4h1m-.5-.2h1m-1 .5h1m-.9 .4h1m-.7-1.4h1m-1 .4h1m-1 2h1m-.9-2.5h1m-.9 .6h1m-1 1h1m-.7 .9h1m-.7-3h1m-1 2.8h1m-.7-.8h1m-.6-.2h1m0-1.8h1m-.7 .8h1m-.9 2h1m-.1-1.9h1m-.9 .4h1m-1 .5h1m-.4 0h1m-.8-.9h1m.3-.5h1m-16.8 2.9h1m-.9 0h1m1 .2h1m-.4 .7h1m-.7 .5h1m-1 1.1h1m-.7-2.6h1m-1 1.8h1m-.3-.1h1m-.5 .4h1m-.7-1.3h1m-.7-.2h1m-.3 2.1h1m-.4-1.6h1m-.9 1.5h1m-.4-1.4h1m-.5 .3h1m-.9-1.6h1m-1 2.5h1m.3-1.5h1m-.5-.4h1m-.8 2.1h1m-.9 .1h1m-.8-2.1h1m.2 .7h1m-.7-1.3h1m-1 .2h1m-.7-.2h1m.6 .2h1m-11.1 4.6h1m-.1-.9h1m-.6-.7h1m-.4 .9h1m-.9-.6h1m-.2 .1h1m-.1-.7h1m-.7 2.9h1m.1-1.1h1m-8.2 3.3h1m.7-1.7h1m.2 2.2h1m-.9-.3h1m-.9-.6h1m1 .8h1m-.3-.3h1m-.7-.6h1m-.7 .2h1m-.8-.7h1m-.2 1.2h1m.2-.7h1m-10.8 2.1h1m1.1 .1h1m-.7 0h1m-.9-.8h1m-.3 .7h1m-.2-.7h1m-.9 2.3h1m-.8-.9h1m-.8 .7h1m-.7-2.1h1m-1 1.3h1m-1 1.2h1m-.8-2.6h1m-.8 2.9h1m-.8-1.8h1m-.7 .3h1m-.8-1h1m-1 .1h1m-.9 .5h1m-.7 1.8h1m-.7-2.5h1m-1-.1h1m-.7-.2h1m-1 2.3h1m-.5-1.1h1m-.8 .8h1m-.8-.7h1m-.7 1.7h1m-.9-1.4h1m-.9 .3h1m-.8 .1h1m-1 .9h1m-.7-.7h1m-.8-1.4h1m-.7 0h1m-10.2 2.3h1m-.6 2.3h1m.6-2.3h1m-.7 2.1h1m-1 .5h1m-.4-.7h1m-.9-.3h1m-.2 .7h1m-.4-1.1h1m-.9-.8h1m-.8 .8h1m-.2 1.2h1m-.6 .4h1m-.8-1.9h1m-.8-.8h1m-.9 .4h1m-.8 .1h1m-.3-.4h1m1.1 2.1h1m-10.2 1.4h1m-.8 .1h1m-1-.3h1m-.8-.3h1m-.4 0h1m-.5 .4h1m-.5-.5h1m-.5-.2h1m-.9 .8h1m-.6 2h1m-.2-2.6h1m-.8 .9h1m.1-.1h1m-.8-.9h1m-.2 .4h1m-.7 1.7h1m-5 1.3h1m.8-.4h1m-.5 .1h1" stroke="#000" stroke-width="1" fill="none"/></g>
<g filter="url(#bl)"><path d="M0 0" stroke="#000" stroke-width="1" stroke-opacity="0.6" fill="none"/><path d="M0 0" stroke="#000" stroke-width="1" fill="none"/></g>
<rect x="294.5" y="148.5" width="57.0" height="57.0" stroke="#404040" stroke-width="1" fill="none"/>
<line x1="319.5" y1="148.5" x2="319.5" y2="205.5" stroke="#404040" stroke-width="1"/>
<line x1="294.5" y1="181.5" x2="351.5" y2="181.5" stroke="#404040" stroke-width="1"/>
<text x="293.3" y="210.9" font-family="'Liberation Serif', serif" font-size="3.6" font-weight="bold" text-anchor="start" fill="#333">10</text>
<text x="297.0" y="208.7" font-family="'Liberation Serif', serif" font-size="2.6" font-weight="bold" text-anchor="start" fill="#333">0</text>
<rect x="294.0" y="205.5" width="1" height="1.6" fill="#333"/>
<text x="307.55" y="210.9" font-family="'Liberation Serif', serif" font-size="3.6" font-weight="bold" text-anchor="start" fill="#333">10</text>
<text x="311.25" y="208.7" font-family="'Liberation Serif', serif" font-size="2.6" font-weight="bold" text-anchor="start" fill="#333">1</text>
<rect x="308.2" y="205.5" width="1" height="1.6" fill="#333"/>
<text x="321.8" y="210.9" font-family="'Liberation Serif', serif" font-size="3.6" font-weight="bold" text-anchor="start" fill="#333">10</text>
<text x="325.5" y="208.7" font-family="'Liberation Serif', serif" font-size="2.6" font-weight="bold" text-anchor="start" fill="#333">2</text>
<rect x="322.5" y="205.5" width="1" height="1.6" fill="#333"/>
<text x="336.05" y="210.9" font-family="'Liberation Serif', serif" font-size="3.6" font-weight="bold" text-anchor="start" fill="#333">10</text>
<text x="339.75" y="208.7" font-family="'Liberation Serif', serif" font-size="2.6" font-weight="bold" text-anchor="start" fill="#333">3</text>
<rect x="336.8" y="205.5" width="1" height="1.6" fill="#333"/>
<text x="350.3" y="210.9" font-family="'Liberation Serif', serif" font-size="3.6" font-weight="bold" text-anchor="start" fill="#333">10</text>
<text x="354.0" y="208.7" font-family="'Liberation Serif', serif" font-size="2.6" font-weight="bold" text-anchor="start" fill="#333">4</text>
<rect x="351.0" y="205.5" width="1" height="1.6" fill="#333"/>
<text x="323.0" y="215.0" font-family="'Liberation Sans', sans-serif" font-size="3.0" font-weight="bold" text-anchor="middle" fill="#333">EGFP</text>
<text x="291.3" y="207.8" font-family="'Liberation Serif', serif" font-size="3.6" font-weight="bold" text-anchor="start" fill="#333" transform="rotate(-90 291.3 207.8)">10</text>
<text x="291.3" y="193.55" font-family="'Liberation Serif', serif" font-size="3.6" font-weight="bold" text-anchor="start" fill="#333" transform="rotate(-90 291.3 193.55)">10</text>
<text x="291.3" y="179.3" font-family="'Liberation Serif', serif" font-size="3.6" font-weight="bold" text-anchor="start" fill="#333" transform="rotate(-90 291.3 179.3)">10</text>
<text x="291.3" y="165.05" font-family="'Liberation Serif', serif" font-size="3.6" font-weight="bold" text-anchor="start" fill="#333" transform="rotate(-90 291.3 165.05)">10</text>
<text x="291.3" y="150.8" font-family="'Liberation Serif', serif" font-size="3.6" font-weight="bold" text-anchor="start" fill="#333" transform="rotate(-90 291.3 150.8)">10</text>
<text x="286.7" y="177.0" font-family="'Liberation Sans', sans-serif" font-size="3.9" font-weight="bold" text-anchor="middle" fill="#333" transform="rotate(-90 286.7 177.0)">Anti-HLA-DR-PE</text>
<path d="M287.3 145.3h2.6l-1.3 1.8z" fill="#222"/>
<text x="295" y="147.9" font-family="'Liberation Serif', serif" font-size="7.25" font-weight="bold" text-anchor="start" fill="#111" stroke="#111" stroke-width="0.15">94</text>
<text x="340.6" y="147.9" font-family="'Liberation Serif', serif" font-size="7.25" font-weight="bold" text-anchor="start" fill="#111" stroke="#111" stroke-width="0.15">1</text>
<text x="295" y="219.0" font-family="'Liberation Serif', serif" font-size="7.25" font-weight="bold" text-anchor="start" fill="#111" stroke="#111" stroke-width="0.15">4.9</text>
<text x="333" y="219.0" font-family="'Liberation Serif', serif" font-size="7.25" font-weight="bold" text-anchor="start" fill="#111" stroke="#111" stroke-width="0.15">0.1</text>
<g filter="url(#bl)"><path d="M387.4 149.2h1m5.7 .8h1m-.2 1.4h1m1.6-.1h1m3-.2h1m.1-.8h1m.9 .2h1m7.7 .6h1m4.9 .2h1m.5-.4h1m-24.4 3.3h1m.9-.6h1m.6 .2h1m1.4-1.2h1m1.7 .8h1m-.5 .9h1m1.5-1.7h1m.8 .1h1m1.4 .7h1m-.4-.5h1m-.5-.6h1m.7-.3h1m-.9 1.4h1m1.4 .4h1m.6-.4h1m2.7-.1h1m1.5-.1h1m.3 .3h1m-.3 .8h1m-24.7 2.7h1m-.4-.5h1m.9-1.1h1m.8-.6h1m9.7-.1h1m-.1 .1h1m.3 .2h1m2 1.8h1m-1 .7h1m.2-1.8h1m-27.8 3.6h1m-.9 .1h1m-.9-.8h1m-.9 1.7h1m.1-2.6h1m-.4 1.4h1m-1.1 4.6h1m25.2 1.8h1m-.5-1.9h1m.5 1.5h1m-.8-.4h1m-31.1 3.9h1m-.5-.4h1m-.4 0h1m-1 .2h1m26.8-1h1m-.4-.2h1m0-.6h1m-32.1 4.5h1m-.2 .8h1m-.8-1.4h1m.3 1.2h1m.4 .5h1m22.4 .2h1m.9-.9h1m-50.4 1.1h1m-1 2.9h1m-.9-2.6h1m1.2 1.7h1m9.5 .9h1m2.8-1.5h1m-.3-.5h1m-.6-.4h1m1-.5h1m2.3 .7h1m-.6-.7h1m-.1 .4h1m20.2 2.3h1m0-.5h1m-.3-.2h1m.1-2.1h1m-.6 2.3h1m.7-1.4h1m.1 0h1m-46.2 3.1h1m2 .1h1m-.6-.1h1m2.9-.4h1m-.7-.4h1m2.3 2.4h1m3.4-1h1m-1 1.1h1m3.1 .1h1m-.2-1.8h1m-.9 .4h1m-.2-.9h1m-.7 .2h1m-.6 1.5h1m-1-.6h1m-.8 .6h1m1.6 .1h1m-.3-.2h1m-.9 .2h1m7.5 .1h1m.4-.3h1m-.6-.7h1m2.6-1.1h1m.6 1.3h1m.8-.3h1m-44.2 4h1m-.4-.1h1m.6-1.2h1m0-.7h1m1 1.6h1m-1 .3h1m-1 0h1m3.7-.2h1m10.9 .3h1m1.3-.6h1m-.2-1.6h1m-.3 .2h1m1.1 .5h1m1.8 .5h1m-.6-1.2h1m2.1 .6h1m.5-.7h1m-.9 1.3h1m.5 0h1m-30.4 2h1m-12.4 3.8h1m4.9 .9h1m6.2 .9h1m-14.7 1.2h1m2.8-.7h1m1.1 .1h1m.3 .8h1m-.5 .4h1m.1 .1h1m32.8-.4h1m-44.6 4.2h1m3.4-1h1m-.6-.5h1m-.8 .3h1m-.6-1.2h1m.7 2.8h1m.9-.7h1m-.6-1.3h1m-.6 .9h1m2.3-.3h1m18.6-1.6h1m-30.7 3.2h1m-.2 1.4h1m.1 .7h1m1.3-.7h1m1.5-.6h1m2.1-.1h1m2.8 .3h1m11.2 .7h1m15.7 .3h1m-47.3 .8h1m6.5 .2h1m0 1.4h1m-.6-1.6h1m-.9 2.8h1m.7-.6h1" stroke="#000" stroke-opacity="0.62" stroke-width="1" fill="none"/><path d="M382.2 151.2h1m-.9-1.1h1m2.5 .8h1m.6-.1h1m-1-.7h1m2.4 .4h1m-.4 .9h1m-14.3 2.5h1m-1 .5h1m-.5-.1h1m-.7-1h1m-.3-.1h1m-.6 1.2h1m-.7-.3h1m-.8 .1h1m.1-.9h1m-.5-.8h1m-.7 1h1m-.2-1.1h1m-.9 1.1h1m-.9-1.9h1m-.8 .5h1m-1 1.7h1m-.7-2.1h1m-.4 2.1h1m-.9 .6h1m0-.8h1m-1 .1h1m-.5-1.2h1m-.8 .1h1m-.7-.2h1m0-.6h1m-.5 1h1m-.7-1h1m-.9 1.9h1m-.9-2h1m-1 1.5h1m-.3-1.6h1m-.6 1h1m-.7 .1h1m.2-.8h1m-.8 1.5h1m-1-.3h1m-.6 .8h1m-.6-1.1h1m-.9-.9h1m-.8 2.4h1m-.9-.9h1m-1 .7h1m-.5-.3h1m-.4-.7h1m-.8 .9h1m-.5-.8h1m-.8 0h1m18.1 1.1h1m1.5 .1h1m-.2-.3h1m-41 2.8h1m0 .3h1m-.2-.5h1m-.9 .4h1m-.5-2h1m-1 1.7h1m-.7-1.8h1m-.8 1.9h1m-.7-2.3h1m-.7 .2h1m-1 .8h1m-.9 1.3h1m-.2-1.1h1m-.9 .1h1m-.8 0h1m-.8 0h1m-.4 .5h1m-1 .2h1m-.9-.3h1m-.9-1.5h1m-.9 .8h1m-.7 1.9h1m-.8-.9h1m-.7-.5h1m-.8-.3h1m-1 .5h1m-.9-.8h1m-1 1.6h1m-.7-1.3h1m-1 .9h1m-.7-1h1m-1 1.3h1m-.8 .2h1m-.8-1.5h1m-.9-.9h1m-.7 2.1h1m-.8-.8h1m-.8-.8h1m-.9 1.6h1m-.7-1.7h1m-1 1.2h1m-.7-.8h1m-.5 1.6h1m-.7-2.2h1m-.4 1.2h1m-.7 .6h1m-1 .5h1m-.9-.8h1m-.7 .4h1m-.3-1.4h1m-.7 .7h1m-.9 .3h1m-.7 .9h1m-.9-.8h1m-.8 .2h1m-.9-.9h1m-.9-.9h1m-1 .8h1m-.8 .1h1m-1 .5h1m-.9 0h1m-.5-1.5h1m-1 .8h1m-1 1.4h1m-.9-.5h1m-.9 .1h1m-.9-.2h1m-.9-.9h1m-.9-1h1m-.6 1.2h1m-1 1.1h1m-.8-.1h1m-.9-.5h1m-1 .1h1m-.9-1.9h1m-.5 1.8h1m-.9-.8h1m-.8-.3h1m-.9 .1h1m-.9-.6h1m-.9 1.8h1m-.3 .9h1m-.5-.3h1m-.3-.3h1m-1 .4h1m-.5-1.9h1m9.6 1.8h1m.8 0h1m-.2-.6h1m-1 1h1m-.4-1.6h1m-.3 .9h1m-.9 .4h1m-.7-1.9h1m-.4 .4h1m-1-.1h1m.7 0h1m-.8 .7h1m-.7 .1h1m-.7-.1h1m-.6 .6h1m-.1-1.8h1m-.7 1h1m-.9-1.4h1m-.8 2.7h1m-.7-1.9h1m-.8 1.2h1m.5 .1h1m-.1 .7h1m-.3-1.7h1m-.4 .8h1m1.5 .6h1m-46.5 1h1m-.9 2.2h1m-.5-2.2h1m-1 1.6h1m-.9-1.1h1m-1 .7h1m-1 .4h1m-.7 .4h1m-.4-1.2h1m-.2 1.4h1m-.6-2h1m-.6 .8h1m-.8-.4h1m-.8-.1h1m-.8 1.2h1m-.8-.6h1m-.7 .3h1m-.8-1.7h1m-1 .3h1m-.9 .6h1m-.6 .4h1m-.8-.8h1m-1 .3h1m-.8 1h1m-.9-.9h1m-.7 .7h1m-1 .9h1m-.9-.5h1m-.7-.8h1m-.9-1.2h1m.1 0h1m-.8 2.3h1m-.8-.3h1m-.9 .5h1m-.9-1.7h1m-.7-.1h1m-.5 .6h1m-.8-1.6h1m-1 2.3h1m-.4-1.7h1m-.8-.3h1m-1 1.8h1m-1 .7h1m-.8-.3h1m-.9 .1h1m-.9-2.5h1m-.6 .4h1m-.1 1.2h1m-.9 .4h1m-.9-.9h1m-.7-.8h1m-1 1.1h1m-.9 .6h1m-.8-1.1h1m-1 .1h1m-.8-.9h1m-.9 .1h1m-.9 1.8h1m-1 .1h1m-.8 .5h1m-.9-.4h1m-.7-.6h1m-.9 .9h1m-.9-.9h1m-.5 .9h1m-.7 0h1m-.6-.5h1m-.9-1.8h1m-.6 1.7h1m-.9-1.8h1m-1 .6h1m-.8-.8h1m-.9 2.2h1m-1 .3h1m-.6-.2h1m-.9-2h1m-.9 2.5h1m-.9-1.1h1m-1-.1h1m-.9-1.1h1m-.6 1.5h1m-1 .8h1m-.8-2.5h1m-.8 1.9h1m-.7-1.1h1m-.1-.5h1m-.1 1.9h1m-.7 0h1m-.9-.3h1m-.5 0h1m-.7-1.1h1m-.8 .2h1m-.9 .8h1m-.8 .1h1m-.8-1.1h1m-.7-.1h1m4.5 1.3h1m-.8-.8h1m-.8 .8h1m-1-.8h1m-.6 .2h1m-.5-.4h1m-.3 .2h1m-.8 .5h1m-1-.2h1m-1 .6h1m-.6-1.7h1m-.7-.1h1m-.1 1.4h1m-.7-1.1h1m.3 1.9h1m-.3-1.6h1m-.9-.4h1m-.5 1.9h1m1.1-2.5h1m-.2 .8h1m-.1 .9h1m-.9-.2h1m-.9-.7h1m.1-.8h1m-.9 2.6h1m-.9-.5h1m-.9-1.8h1m-1 1.7h1m-.3-1.3h1m-1-.3h1m-.8 2h1m-.9 .2h1m-.6-2.1h1m-1 .8h1m-.6 1.3h1m.8-2h1m-.7 .4h1m-1 .9h1m-.9-1.6h1m-.5-.5h1m-.9 2.2h1m-.7-.4h1m-.7-1.1h1m-.7 1.1h1m-1 .2h1m.1 .1h1m-.1-.4h1m-.8-.7h1m-.6 .7h1m-.6 .3h1m-47.8 1.6h1m-.3 .3h1m-.9-.3h1m-1 1.3h1m-1-.4h1m-.8-.3h1m-1 .2h1m-.9-1.3h1m-1 .3h1m-.8-.4h1m-1 1.2h1m-.7 .5h1m-.6-1.5h1m-1 .8h1m-.7-.6h1m-.8 2.5h1m-.8-1.2h1m-.7-.4h1m-.6-.7h1m-.9-.6h1m-.7 .9h1m-.7 .4h1m-.9-.1h1m-.9-.3h1m-.9 .4h1m-.6-1h1m-1 1.8h1m-1-.4h1m-.7-1.8h1m-.9 2.4h1m-.7-.6h1m-.9-1.2h1m-.9 .1h1m-.4 .7h1m-.9-1.3h1m-1 .8h1m-1 1.8h1m-.6-1.7h1m-1 .6h1m-.4 0h1m-1 .8h1m-.9-1.1h1m-1 1h1m-.6-1.6h1m-.6 1.6h1m-.7-1.7h1m-.9 1.5h1m-.7-.3h1m-.9 1.1h1m-.8-2.2h1m-.6-.4h1m-1 .2h1m-.9 1.4h1m-.9 .4h1m-1 .4h1m-.9-2.5h1m-.7 2h1m-.9-.2h1m-.9 .8h1m-.7-2.3h1m-.7 2.5h1m-.9-1.2h1m-.5-1.3h1m-1 1.4h1m-.9-.6h1m-1 .7h1m-.9 .2h1m-1 .4h1m-.9-.9h1m-.8-1.6h1m-.3 2.8h1m-.9-2.2h1m-1 1.7h1m-.2-.4h1m-1 .2h1m-.8-1.7h1m-.9 .3h1m-.8 1.1h1m-.8-1.8h1m-1 2h1m-.8-2.1h1m-1 1.9h1m-.8-1.8h1m-.9 2.6h1m-.7-.7h1m-.7-1.1h1m-1 1.2h1m-.6 .5h1m-.8-1.5h1m-.6 1.3h1m-.6-.7h1m-.8 .6h1m-.7-1.1h1m-1 .9h1m-1 .8h1m-.7-.7h1m0 0h1m-.8-1.3h1m-1-.4h1m-.8 1.1h1m-.3 .8h1m-.9-.4h1m-1-.1h1m-.4-.6h1m-1 .9h1m1.8-.5h1m-.9 .6h1m0-2.2h1m-.8 1.8h1m-.6-1.7h1m-.8 1.8h1m-.5-.6h1m-.8-1.2h1m-.8 1.5h1m-.5-.1h1m-.9-.8h1m-.1 .9h1m-.9-.4h1m-1 1.3h1m-.9 .1h1m-.9-1.7h1m.2-.8h1m-.1 .3h1m-.9-.3h1m-.9-.2h1m-.8 2.7h1m.2-.9h1m-.6-1.5h1m-.8 1.1h1m-.7-1h1m.6-.1h1m-.7 2.2h1m-.8-1.6h1m-.5 .2h1m-.7 .8h1m-.9-1h1m-.6-.8h1m-.2 1.1h1m-.2 1.8h1m-.7-.9h1m-.6 .4h1m-.8 .4h1m-.9-.2h1m-.8-2h1m-.4-.3h1m.5 .4h1m.3 1.1h1m-.8-1.8h1m-.6 2.7h1m-.6-1.6h1m-1 .1h1m-1-.2h1m-.6-1h1m-.7 .8h1m-1 2.1h1m-.9-1.4h1m-.2-1.2h1m-.5 0h1m-1 .9h1m-.8-.4h1m-.9-.8h1m-1 1.8h1m-1-.1h1m-.7-1.1h1m-.7 2h1m-.8-1.1h1m-.4-.5h1m-48.8 3.7h1m-.3-.7h1m-.7-.2h1m-.8-.8h1m-.9 .7h1m-.7 .2h1m-.9 .2h1m-.9-.1h1m-1 .9h1m-.7-.7h1m0-.4h1m-.7 2h1m-.9-.5h1m-.7-1.3h1m-.7 1.3h1m-.7-1.8h1m-.8-.2h1m-.3 2.2h1m-.8-1.3h1m-1 1.1h1m-.9 .3h1m-.9-1.5h1m-.5-.5h1m-.9 2h1m-.9-1.4h1m-.7-.8h1m-.7 .9h1m-.6-.7h1m-.8 1h1m-.9-1.1h1m-1 2.1h1m-.6 0h1m-.9-2.3h1m-1 1.5h1m-.9-.6h1m-.9-.1h1m-.7 0h1m-.9 1.6h1m-.9-.9h1m-.7-.7h1m-.6-1.1h1m-.6 2.6h1m-.9-.6h1m-1 .8h1m-.7-2.8h1m-.9 2.3h1m-.8 .3h1m-.9 .2h1m-.8-2.8h1m-1 2.8h1m-.4-1.2h1m-1 1.2h1m-.8-1.9h1m-.7 .8h1m-1 .1h1m-.8-1.6h1m-1 0h1m-.4 1.1h1m-.9-.7h1m-1 1.4h1m-.7-1.4h1m-.7 .1h1m-1 2.1h1m-.9-.3h1m-.7-1.5h1m-.8-.9h1m-1 2.5h1m-1-.2h1m-.9-1.8h1m-.9 1.4h1m-1 .8h1m-.8-1.1h1m-1-.1h1m-.8 .6h1m-.8-.6h1m-.6-.3h1m-.9-1.1h1m-1 1.4h1m-.8-.7h1m-1 .9h1m-.1-1.6h1m-1 1.6h1m-.6 1h1m-.9-2.8h1m-.8 1.6h1m-.6-.4h1m-1 1.5h1m-.9-1.6h1m-1 .9h1m-.7-.1h1m-.3-.1h1m-.6-1.3h1m-1 2h1m-.6-1.4h1m-.3-.1h1m-.7-.5h1m-.9 1.5h1m-.7-1.9h1m-.3 .3h1m-.3 1.8h1m-.7-.1h1m.4 .7h1m-.8-.8h1m-.7 .3h1m-.9-1.3h1m-.7 1.6h1m-.6-.9h1m-.9 0h1m-.6 .9h1m-.8 .1h1m-.8-1.9h1m-.9 1.6h1m-.3-2.2h1m-.9 .6h1m-.4 1.5h1m-.7-1.7h1m.1-.3h1m-1-.1h1m-1 .2h1m-.7 2.4h1m-.3-.2h1m-.6-1.5h1m0 1.1h1m-.2-2.1h1m-.7 .6h1m-.7-.6h1m.2 2.7h1m.3 0h1m-.4-2.5h1m.2-.1h1m.7 .9h1m-1 .5h1m-.5 .4h1m.3-1.1h1m-.4 1.2h1m-.3 .2h1m-.9-.5h1m-.8-1h1m-.3 .3h1m-.9-.4h1m.1 1.2h1m-1 .2h1m-.9-.8h1m-.9-1.3h1m-.9 1.5h1m-.4-1h1m-1 1.5h1m-.6-.6h1m.1-.5h1m-.6-.7h1m-.6 0h1m-.9 2.5h1m-.9-1.7h1m-.9 1.5h1m0-2.3h1m-.1 .1h1m-50.6 3.9h1m-.5-1.3h1m-.3 2.3h1m-.5-1.6h1m-.8 1.1h1m-.7-1.4h1m-.8 1.9h1m0 .4h1m-.9-.4h1m-.5-1.6h1m-.9 .1h1m-.9 .8h1m-1 .1h1m-.9-1.3h1m-1-.1h1m-.6 1.8h1m-.8 0h1m-.6-1.6h1m-1 .1h1m-.7-.6h1m-1 1.7h1m-.8-1.4h1m-.2 2.4h1m-1 .3h1m-.7-1.6h1m-1 1.6h1m-.4-.4h1m-1-.1h1m-.5-2.1h1m-1 2h1m-.7-.5h1m-.7-.7h1m-.7 .9h1m-.9-.4h1m-.8-.7h1m-.6 .1h1m-.9-1.1h1m-1 .3h1m-1 2.6h1m-.9-2.6h1m-.8 .6h1m-.9 1.2h1m-.7-.1h1m-1 .6h1m-.7 .3h1m-.7-2.5h1m.1 1h1m-1 .4h1m-.8-1.7h1m-.9 .3h1m-1 1.5h1m-.4-1.6h1m-1 1.6h1m-.9-1.1h1m-.5 1.6h1m-1-.7h1m-.6-.3h1m.5-.6h1m-1 2.2h1m-.6-.5h1m-1 .3h1m-1 .2h1m-.5-1.8h1m-.2-.6h1m-.3-.1h1m-1 .6h1m-.7 .1h1m-.9 1.5h1m-.7-1.8h1m-.9 1.7h1m-.8-1.6h1m-1 .7h1m-.5-.5h1m-1 1.1h1m-.7-1.9h1m-.7 .4h1m-.3 .3h1m2.1 .3h1m-.8-.3h1m-.3-1h1m.2 .7h1m-.8 .2h1m-.4-.2h1m-.5 1.1h1m-.9-1.8h1m-.9 .9h1m-.8 1.5h1m-.8-1.7h1m-.2 1.9h1m-1 0h1m-.9-.9h1m-.3-.5h1m-.5 1.6h1m-.8-.6h1m-1-.5h1m-.1 .3h1m-.6 .2h1m-.7-.3h1m.6-1.7h1m-1-.3h1m-.9 1.3h1m-.5 1.1h1m-.3 .3h1m-.9-1.4h1m-.8 1.6h1m-.8-.2h1m-.6-.5h1m-.3-.6h1m-.9-.7h1m-.4 1.3h1m-.3-1.4h1m-.6 1.5h1m-.2-2.3h1m-.7 1.1h1m-.8-.6h1m-.3 2.4h1m-.8-.5h1m-.9 .5h1m-.6-2.9h1m-.8 1.3h1m-.6-.3h1m-.9 1.4h1m-.8-2h1m-1 2.1h1m-.8-1.1h1m-.7-1.3h1m-.7 2.3h1m-.8-1.2h1m-.9-.6h1m-.1 .6h1m-1 1.7h1m.3-.9h1m-.7 1h1m-.7-1.4h1m.4 0h1m-.6-.9h1m-.8 2.3h1m-.4-.6h1m-.5-.1h1m-.9-2h1m-.9 1.7h1m-.2-1h1m-49.7 2.4h1m-.6-.2h1m-.7 1.2h1m-.4 .4h1m0-.5h1m-.4 1.2h1m-.8-1.4h1m-.7 1h1m-.7 .6h1m-.9-2.5h1m-.7 .4h1m-.5 .1h1m-.7-.1h1m-.9-.5h1m-.7 2.3h1m-.9-1.7h1m-.8 .9h1m-.8-.7h1m-.8-.3h1m-.9 .8h1m-.9 1.2h1m-.9-2h1m-.7 1.9h1m-.6-.1h1m-.4-2.2h1m.3 .1h1m-1 2.6h1m-.6-1.2h1m-1 .5h1m-1-.7h1m-.9 .3h1m-.5 1.1h1m-.9-2.3h1m-.9 .1h1m-.9 .9h1m-.9 .8h1m-.7 .4h1m-.5-1.8h1m-1-.4h1m-1 0h1m-1 2.2h1m-.8-1.4h1m-.9-.3h1m-.9-1h1m-1 .4h1m-.8 .3h1m-.9 1.6h1m-1-.4h1m-.4 .2h1m-.8-1.5h1m-.8 0h1m-.8 .6h1m-1 .5h1m-.8-.7h1m-.8-.1h1m-.9 .3h1m-.8-.1h1m-.9 .8h1m-.8-1.9h1m-.8 1.5h1m-.9-.2h1m-.9-.7h1m-.8-.5h1m-1 1.1h1m-.9-1h1m-1 .4h1m-.2 .3h1m-.9 .1h1m-.8 .1h1m-1-.5h1m.2 .6h1m-.5 .3h1m-.8-.2h1m5.2-1.3h1m-.5 0h1m-.8 .8h1m1.2-.4h1m-1 .2h1m-.4 1h1m-.9-1.1h1m-.8-.2h1m-.6 1.9h1m-1-.6h1m.1 .6h1m-.1-1.9h1m-1 1.9h1m-.5 .6h1m-.7-1h1m.4-1.3h1m-.7 2h1m.1-1.8h1m-.7 .7h1m-.4-1.3h1m-.6 .2h1m-1 .8h1m-.8-.9h1m-.8 2h1m-1 .6h1m.2-.8h1m-.8 .8h1m-.4-1.6h1m-.1 1.3h1m.5-.2h1m-.2-2.1h1m-.8 0h1m-.9 1.6h1m.3 0h1m-.3-1h1m-1 2h1m.4-2.5h1m-1 1.8h1m-.6 .6h1m-.9-2.4h1m-.7 .4h1m-.6 .7h1m-.9-.5h1m-.5-.5h1m-.7 1.3h1m-.6 0h1m-.8-.2h1m-44.3 2h1m.1-.6h1m-.5 1.4h1m-.8-.4h1m0-.5h1m-.7 .5h1m-1 .7h1m-.6 .5h1m-.9-.9h1m-.7-.1h1m-.4 1.5h1m-.2-.8h1m-.8-1h1m-.5-.8h1m.2 1h1m-.9-.5h1m1.3 1.2h1m.2-1.6h1m-.9 .8h1m1.1-.7h1m8.4 .8h1m-.1 .5h1m-.9-.7h1m-.5-.7h1m.2 2.6h1m-.7-.5h1m-1 .4h1m-1-.1h1m-.3-.4h1m-.5-2.1h1m-.1 .5h1m-.9 .7h1m-.7 0h1m-1 .9h1m-.2 .4h1m-.3-1.5h1m-.4-.5h1m-1 1.7h1m-.7-.2h1m-.6 .6h1m-.3-1.3h1m-.9-1.3h1m-.9 2.7h1m-.8-.2h1m-.8-1.3h1m-.7 .2h1m-.5-.4h1m-.7-1.1h1m-.8 2.2h1m-.8-.8h1m-1 .2h1m-.9 1.4h1m-.5-1.7h1m-.8 0h1m-.6 1.1h1m-.2-.4h1m-.6-.4h1m-1 .7h1m-.9-.6h1m-.7-.8h1m-.7 2.1h1m-.5-2.8h1m-.4 1.1h1m-1 .5h1m-.7-.2h1m-1 .4h1m-.6 .3h1m-.7-.1h1m-.3-2h1m-.8 1.3h1m-.8-.6h1m-.8-.3h1m.6 .3h1m.2-.5h1m-38 2.8h1m-.2 .1h1m1-.2h1m17 .8h1m.5-.1h1m-.5-.2h1m-.2-.3h1m-.7-.2h1m-.9 .9h1m-.5-.2h1m.3-.2h1m-.1 1.8h1m-.4-.3h1m-.2-.1h1m.1-1.4h1m2.1 .8h1" stroke="#000" stroke-width="1" fill="none"/></g>
<g filter="url(#bl)"><path d="M0 0" stroke="#000" stroke-width="1" stroke-opacity="0.6" fill="none"/><path d="M0 0" stroke="#000" stroke-width="1" fill="none"/></g>
<rect x="376.5" y="148.5" width="56.0" height="57.0" stroke="#404040" stroke-width="1" fill="none"/>
<line x1="401.5" y1="148.5" x2="401.5" y2="205.5" stroke="#404040" stroke-width="1"/>
<line x1="376.5" y1="182.5" x2="432.5" y2="182.5" stroke="#404040" stroke-width="1"/>
<text x="375.3" y="210.9" font-family="'Liberation Serif', serif" font-size="3.6" font-weight="bold" text-anchor="start" fill="#333">10</text>
<text x="379.0" y="208.7" font-family="'Liberation Serif', serif" font-size="2.6" font-weight="bold" text-anchor="start" fill="#333">0</text>
<rect x="376.0" y="205.5" width="1" height="1.6" fill="#333"/>
<text x="389.3" y="210.9" font-family="'Liberation Serif', serif" font-size="3.6" font-weight="bold" text-anchor="start" fill="#333">10</text>
<text x="393.0" y="208.7" font-family="'Liberation Serif', serif" font-size="2.6" font-weight="bold" text-anchor="start" fill="#333">1</text>
<rect x="390.0" y="205.5" width="1" height="1.6" fill="#333"/>
<text x="403.3" y="210.9" font-family="'Liberation Serif', serif" font-size="3.6" font-weight="bold" text-anchor="start" fill="#333">10</text>
<text x="407.0" y="208.7" font-family="'Liberation Serif', serif" font-size="2.6" font-weight="bold" text-anchor="start" fill="#333">2</text>
<rect x="404.0" y="205.5" width="1" height="1.6" fill="#333"/>
<text x="417.3" y="210.9" font-family="'Liberation Serif', serif" font-size="3.6" font-weight="bold" text-anchor="start" fill="#333">10</text>
<text x="421.0" y="208.7" font-family="'Liberation Serif', serif" font-size="2.6" font-weight="bold" text-anchor="start" fill="#333">3</text>
<rect x="418.0" y="205.5" width="1" height="1.6" fill="#333"/>
<text x="431.3" y="210.9" font-family="'Liberation Serif', serif" font-size="3.6" font-weight="bold" text-anchor="start" fill="#333">10</text>
<text x="435.0" y="208.7" font-family="'Liberation Serif', serif" font-size="2.6" font-weight="bold" text-anchor="start" fill="#333">4</text>
<rect x="432.0" y="205.5" width="1" height="1.6" fill="#333"/>
<text x="404.5" y="215.0" font-family="'Liberation Sans', sans-serif" font-size="3.0" font-weight="bold" text-anchor="middle" fill="#333">EGFP</text>
<text x="373.3" y="207.8" font-family="'Liberation Serif', serif" font-size="3.6" font-weight="bold" text-anchor="start" fill="#333" transform="rotate(-90 373.3 207.8)">10</text>
<text x="373.3" y="193.55" font-family="'Liberation Serif', serif" font-size="3.6" font-weight="bold" text-anchor="start" fill="#333" transform="rotate(-90 373.3 193.55)">10</text>
<text x="373.3" y="179.3" font-family="'Liberation Serif', serif" font-size="3.6" font-weight="bold" text-anchor="start" fill="#333" transform="rotate(-90 373.3 179.3)">10</text>
<text x="373.3" y="165.05" font-family="'Liberation Serif', serif" font-size="3.6" font-weight="bold" text-anchor="start" fill="#333" transform="rotate(-90 373.3 165.05)">10</text>
<text x="373.3" y="150.8" font-family="'Liberation Serif', serif" font-size="3.6" font-weight="bold" text-anchor="start" fill="#333" transform="rotate(-90 373.3 150.8)">10</text>
<text x="368.7" y="177.0" font-family="'Liberation Sans', sans-serif" font-size="3.9" font-weight="bold" text-anchor="middle" fill="#333" transform="rotate(-90 368.7 177.0)">Anti-HLA-DR-PE</text>
<path d="M369.3 145.3h2.6l-1.3 1.8z" fill="#222"/>
<text x="377" y="147.9" font-family="'Liberation Serif', serif" font-size="7.25" font-weight="bold" text-anchor="start" fill="#111" stroke="#111" stroke-width="0.15">55</text>
<text x="418.2" y="147.9" font-family="'Liberation Serif', serif" font-size="7.25" font-weight="bold" text-anchor="start" fill="#111" stroke="#111" stroke-width="0.15">42</text>
<text x="377.8" y="219.0" font-family="'Liberation Serif', serif" font-size="7.25" font-weight="bold" text-anchor="start" fill="#111" stroke="#111" stroke-width="0.15">2.8</text>
<text x="415.5" y="219.0" font-family="'Liberation Serif', serif" font-size="7.25" font-weight="bold" text-anchor="start" fill="#111" stroke="#111" stroke-width="0.15">0.2</text>
<g filter="url(#bl)"><path d="M463.1 151.1h1m-.9 .2h1m-.6-.7h1m17-.6h1m1.7 1.4h1m13.7-.2h1m1.1-.6h1m1.6 .5h1m1.7-.9h1m-46.5 4h1m14.6-.9h1m-1 0h1m-.8 .1h1m0 .9h1m-.5-2.2h1m-.1 2h1m8.8-2.4h1m.3 2.1h1m-.7 .1h1m.9-.2h1m-.6-2.1h1m-.4 1h1m1.2-.8h1m.8 1.1h1m-.1-.1h1m6.4 .4h1m-47.3 2.2h1m19.1-.2h1m.2 2.2h1m2.5-1.2h1m4-1.4h1m-.7 1.8h1m.4-1.6h1m13.2-.3h1m-.2 1.2h1m-27.6 2.2h1m3.7 0h1m1.5 .8h1m.5-1.3h1m18.6 .2h1m.4 1.4h1m-.9-.8h1m-.6 2h1m-29.9 2.4h1m-.7 .6h1m.8-2h1m2.1 .8h1m22.9 .7h1m-.5 0h1m-.8-1.9h1m-.9 0h1m-.8-.1h1m-31.2 4.4h1m2.4-1.6h1m0 .2h1m-.3 1.7h1m22.7-.5h1m-28.2 1.8h1m-.3 .3h1m-.7 2.2h1m.9-2.9h1m24.9 2.6h1m-33.4 3.1h1m.2-1.1h1m1.2 1h1m1.4-1.8h1m.6 2h1m-.7-2h1m-.8 2.1h1m.5-2.4h1m-.5 1.6h1m18.3 0h1m-48 3.8h1m20.8-.9h1m-.3-.1h1m.6-1.4h1m1.7 1.1h1m.1-1h1m-.8 .4h1m-.1-.5h1m.3 2.5h1m13.7-.3h1m-.9 0h1m-.2 .2h1m-.1-1.5h1m2.3 1.6h1m-50 1.9h1m2.6 .3h1m4.9 .1h1m.1-.8h1m-.2 .3h1m1.2-1.5h1m5.2 .3h1m-.9 .7h1m.1 .5h1m.1 .2h1m-.1 .9h1m3.7-.5h1m.8-2.1h1m-.2 1.9h1m-.7-1.3h1m.4 1.1h1m-.9 .5h1m0-.3h1m-.3 0h1m3.1-.4h1m-.8 .6h1m1-1h1m1.4 1.2h1m.5-.4h1m-46.7 1.9h1m3.8 .1h1m.8 1.5h1m.7 .2h1m.3-1.5h1m-.6-1.4h1m-.8 2.2h1m1.3-.4h1m-.7-1h1m-.8-.1h1m5.2 .3h1m-.5 1.3h1m5.7-2.1h1m.3 .3h1m-.6 .9h1m-.4-.8h1m.1-.3h1m.5 1.8h1m.9-1.4h1m-.9 1.2h1m1.9-.8h1m-.1 .6h1m.6-1.3h1m1.1-.2h1m-.6 .8h1m-.6 .6h1m2.9 .1h1m.4-1.6h1m1.3 2.1h1m-44.5 2.2h1m-.7-1h1m4.1 2.1h1m.7-.6h1m-.5-.8h1m-12.2 3h1m5 .8h1m-.8-1.4h1m3.2 1.6h1m14.8-1.7h1m-.4-.3h1m.7 .9h1m9.8 .8h1m3.3 .4h1m-45.1 1.5h1m1.4-.1h1m-.7 2h1m.5 0h1m.2-.4h1m.3 .3h1m2.1-1.8h1m-.9 1.4h1m-.8-.5h1m14.6-.2h1m8.8 .7h1m3.6 .3h1m-41.8 .8h1m.6 .4h1m2 .7h1m-.3 .1h1m.8 .6h1m0 0h1m.5-1.4h1m14.9-.6h1m3.6 1.1h1m-.7 .6h1m1.6-.2h1m-.8-.7h1m3.7 1.7h1m-36.1 1.9h1m.7 1h1m-.5-1.9h1m-.3 2.4h1m-.5-2.7h1m-.3 2.5h1m3.3-.8h1m.4 .9h1m-.6-1.3h1m29.8-.7h1m-40.5 3.1h1m-.3-.5h1m.6 .7h1m-.9-.4h1m17.8-.6h1m11 .8h1m5.7 0h1m1.9-.7h1m-43.2 5.1h1m4.4 .4h1m-.9-.8h1m-.8-1.7h1m19.5-.1h1m-26 3h1" stroke="#000" stroke-opacity="0.62" stroke-width="1" fill="none"/><path d="M468.1 151.1h1m-.9 .2h1m-.9-.6h1m-1 0h1m1.3 .6h1m.8 .1h1m-11.7 2.7h1m1.1-.2h1m-.7-2.2h1m.2 .6h1m-1 1.4h1m-.6 .5h1m-.4-.7h1m-.9-1.2h1m-.4 1.2h1m-.2-.9h1m-.8 .5h1m-.4-1.4h1m-.9 2.3h1m-.4 0h1m-1 .2h1m-.4-.3h1m-.1 0h1m-1 .2h1m-.9-.3h1m-.9 .4h1m-.5-2.2h1m-1 1.9h1m-.9-2.2h1m-.8 1.2h1m-.5 .8h1m-.8-.3h1m-.9-1.7h1m-.8 1.3h1m-.9 .2h1m-.3-.1h1m.7 1.3h1m19.1-.4h1m-.5-.4h1m3.7-.2h1m-.7 1h1m-.6-.3h1m-1 .1h1m-41.5 1.9h1m-.8-.8h1m-.9 .9h1m1 1.1h1m-.7-1.5h1m-1-.3h1m-.7-.3h1m-.8 .4h1m-.8-.1h1m-1 1.7h1m-.7-.1h1m-.9-.5h1m-.6 .4h1m-.5-1.7h1m-.8-.2h1m-.8 .4h1m-1 1.9h1m-.7-2.7h1m-.5 .4h1m-1 1.5h1m-.2-.2h1m-1 .8h1m-.9 .2h1m-.8-.8h1m-.9-.8h1m-.7-.7h1m-.7-.6h1m-1 1.1h1m-.9 .7h1m-1 .8h1m-.8-2.5h1m-.7 2.1h1m-.6 .2h1m-.9-2h1m-1 .9h1m-.9-1.3h1m-1 2.2h1m-.8-1.2h1m-.7 .8h1m-.7-1.1h1m-1 .7h1m-.9 1h1m-.6-1.8h1m-1 1.1h1m-.8-.5h1m-1 1.4h1m-1 .1h1m-.5-1.6h1m-.6 1.7h1m-.9-2.8h1m-.9 .4h1m-.8 .4h1m-.7-.4h1m-.9 2.3h1m-.5-.8h1m-.8-.8h1m-.3 1.7h1m-.8-.8h1m-.5 .8h1m-.9-.5h1m-.9-1.4h1m-.7-.5h1m.4 1.7h1m-.4 .6h1m.5-.4h1m10.4 .1h1m-.7-.1h1m0 .5h1m-.9-1.8h1m-.6 2h1m-.6-1.2h1m-1 .9h1m-.9-.7h1m-.8-1.5h1m-.9 2.5h1m-.5-1.8h1m-1 .3h1m-.9 .7h1m-.6-.2h1m-.2 .9h1m-.9-.8h1m-.4 .2h1m-.4 0h1m-.8 .2h1m-.5-1.2h1m-.4 .6h1m.3-.9h1m.2 1.1h1m-.4-.4h1m-1 0h1m-.7 1.2h1m-.9-1.2h1m-.3-.9h1m-.9 1.4h1m-.8-.8h1m-1-.3h1m-.6 .2h1m-.4 .7h1m-.8 .7h1m1.2-.7h1m-47 2.8h1m-.7 .3h1m-.1-.7h1m-.7 .4h1m-.2-1.2h1m-.7 1.2h1m-.9 .3h1m-.8-1.9h1m-.8 0h1m-1 1.4h1m-.9 .5h1m-.9-1.5h1m-.4 .3h1m-1 .7h1m-.9-.3h1m-.9-.4h1m-1 .6h1m-.7-.6h1m.4 1.7h1m-1 .3h1m-.7-2.2h1m-.7-.3h1m-1 .8h1m-.5-.5h1m-1 1.3h1m-1 .7h1m-.9-1.4h1m-.9-.5h1m-.9 0h1m-.8 2h1m-.9-2.4h1m-1 1h1m-.9-.3h1m-.6 1.6h1m-.8 0h1m-.6 .1h1m-1 .1h1m-.9-1.6h1m-1 .6h1m-.4-1.2h1m-.7-.3h1m-1 2.1h1m-.9-1.2h1m-.9 0h1m-.2-.8h1m-.7-.4h1m-1 1.3h1m-.6 1h1m-.9 .5h1m-.8-1.6h1m-.6 1.1h1m-.9-2h1m-1 .3h1m-.9 1.1h1m-.8 1h1m-.9-.4h1m-.9-2.3h1m-1 1.3h1m-1 1.2h1m-.9 .3h1m-.3-.2h1m-.9-1.4h1m-.1 .7h1m-.9 .3h1m-.6-1.8h1m-.9 1.4h1m-.8 1h1m-.3-.8h1m-1-.4h1m-1 .1h1m-.9-.8h1m-1-.5h1m-1 .1h1m-.9 1.8h1m-1 0h1m-.9-1h1m-.7-.7h1m-.9 1.6h1m-.7 .5h1m-.6-2.2h1m-.2 1.7h1m-.9-.2h1m-.9-1.1h1m-.9-.2h1m-.9 .4h1m-.6 1.6h1m-.6-2.5h1m.2 2.5h1m-.8-.7h1m8.6-1.1h1m-.3 1.8h1m-.8 0h1m-.9-.7h1m-1-.6h1m-.8 .2h1m-.6-.2h1m-.5-.9h1m-1 .4h1m-.1 1h1m-.8 .3h1m-.1 .6h1m-.6-.7h1m0-.6h1m-.8 .9h1m-.4 .4h1m-.9-.7h1m-.9 .3h1m-.8-1.8h1m-1 1.4h1m-.9-.2h1m-.9 .3h1m-.5-1.5h1m-.7 1.4h1m-1 .6h1m-.9-.9h1m-.9-1.5h1m-.9 1.4h1m-.8 .5h1m-1 .7h1m.2-2h1m-1 1.8h1m-.9-1.6h1m-.7-.7h1m-.5-.2h1m-.3 .7h1m-.9 2h1m-.7-2.2h1m.3-.5h1m-.3 .3h1m-.3 2.3h1m-.8-2.1h1m-1 1.2h1m-.8 1h1m0-.8h1m-.6-1.4h1m-.9 2h1m-.9-2.1h1m-.6 .1h1m-.7 .9h1m-.7-.2h1m-1 .7h1m-.7 .8h1m-.7-2.3h1m-.9 1.3h1m-49.2 2.5h1m-.4 .6h1m-.5-1.7h1m-.8 2.6h1m-.8-2.8h1m-.4 .2h1m-.7 1.7h1m-.7 .5h1m-.5-.4h1m-.9-1.3h1m-.9 0h1m-.8 1.3h1m-.7 .3h1m-1 0h1m-.8-2.2h1m-.9 1h1m-.9 0h1m-.9 1.4h1m-.7-2.5h1m-1 0h1m-1 2.5h1m-.8-1.9h1m-.9 .6h1m-.8 .4h1m-.8-1.6h1m-1 .2h1m-.7 .2h1m-1 2.4h1m-.7-2.4h1m-.9 .6h1m-1 1.8h1m-.9-2.5h1m-.4 .6h1m-1 1.7h1m-.9-2.4h1m-1 2.4h1m-.9-1.9h1m-.7 1.6h1m-.8-.8h1m-.9-.3h1m-1-.5h1m-.9-.8h1m-.9 1.6h1m.2 1.4h1m-.7-2.9h1m-1 1.3h1m-.4 .2h1m-.8-.2h1m-1 .3h1m-.9 1.2h1m-.6-2.4h1m-.5 1.8h1m-.9-.6h1m-.9-1.6h1m-1 1.8h1m-.4-.7h1m-.8-.5h1m-.7 .4h1m-.9 1.8h1m-.1-2h1m-1 .7h1m-.7-1.2h1m-.7 .5h1m-.9 .9h1m-1 .8h1m-.8-.9h1m-.6 .9h1m-.8-.3h1m-1 .3h1m-.8-1.5h1m-.5-.3h1m-1 2.2h1m-.9-2.8h1m-1 .1h1m-.6 1.5h1m-.7-.2h1m-.9-.6h1m-.8 .7h1m-.8 .1h1m-.7-.5h1m-.7 .7h1m-.9-1.5h1m-.9 2.2h1m-.5-2.4h1m-.9 .5h1m-1 .9h1m-.9 1.3h1m-.7-.8h1m-.6-2h1m-.9 1.8h1m-.9-1.4h1m-.9 1.7h1m-.8 .5h1m-.9-.1h1m-.7 .1h1m-.5 .2h1m-.9-2.3h1m7.5 .1h1m-.6-.3h1m-.1-.5h1m-1 1.3h1m-.5 1.3h1m-.9-.3h1m-.5-1.4h1m-.9 1.2h1m-.7-.8h1m-.5-1.3h1m-.8 .3h1m-1 2.3h1m-.6 0h1m-.4-2.3h1m-1 1.9h1m-.2-1.5h1m-.8 2.2h1m-.9-1.5h1m-.3-.2h1m.1-.1h1m-.5 1.5h1m-.8-.7h1m-.8 1.1h1m-.9-1.2h1m-1 1.2h1m.9-3h1m-1 2.3h1m-.9-2.1h1m-1 1h1m-.9 .7h1m-.9-1.9h1m-.9 .6h1m-.8 1.2h1m-.2 0h1m-1 .8h1m-.9-.2h1m-.8-.3h1m-1 .7h1m-.9 .1h1m-.9-1.7h1m-.8 .3h1m-.8-.7h1m-.8 2.2h1m-.8-3h1m-1 2.8h1m-.9-2.3h1m-.9 1.2h1m-.9 1.3h1m-.8-1.1h1m-.9 .7h1m-1 0h1m-.8-2.4h1m-.9 2.3h1m-.8-2.3h1m-1 1.8h1m-.8-1.2h1m-.5 2h1m-.8-1.9h1m-.7 2.1h1m-.8-.3h1m-1-.1h1m-.9-2.2h1m-.6 .4h1m-.6-.6h1m-.5-.2h1m-.5 2.3h1m-.9-1.1h1m-.8-.3h1m-1 1.4h1m-.8-.9h1m-.7 .4h1m-.8-.7h1m-.9-.3h1m-.9 .9h1m-.9-1.7h1m-.8 .2h1m-.6 .1h1m-.4 .4h1m-.7-.2h1m-1 1.5h1m-.6-.4h1m-50.7 3.7h1m.3-.9h1m-.5-.2h1m-.8 1h1m-.9-1.8h1m-.6 2.3h1m-.6-.3h1m-.8-1.3h1m-.6-.4h1m-.9 .5h1m-.8 0h1m-.4 0h1m-1 1.7h1m-.4-.9h1m-.9 .5h1m-.8-1.1h1m-.9 0h1m-1-.5h1m-1 1.1h1m-.9-1.9h1m-.7 2.8h1m-.7-2.4h1m-.8 .2h1m-.7 1.5h1m-.8-.8h1m-.8 .5h1m-.7 .7h1m-.3-.2h1m-.9 0h1m-.7-.3h1m-.7 .7h1m-.6-2h1m-.9 .8h1m-.7-.7h1m-.8 1.8h1m-.6-1.9h1m-.8 1h1m-.7-.1h1m-.5-.6h1m-1 1.3h1m-.4-1.8h1m-.7 0h1m-1 1.6h1m-.8-2h1m-1 2h1m-.9-2h1m-.9 .2h1m-1 1.6h1m-.7-1.1h1m-.7 1.3h1m-.9-1.3h1m-.3 0h1m-1 1.8h1m-.4-.1h1m-.6-.3h1m-1 .4h1m-.8 0h1m-.7-.5h1m-1-.5h1m-.5 0h1m-.7 .1h1m-.9-1.6h1m-1 2.7h1m-.8 0h1m-.8-.7h1m-.6-.6h1m-.6-.7h1m-.8-.1h1m-.6 .1h1m-1 1.8h1m-.7-.1h1m-.9-1.8h1m-.3 .1h1m-.8-.7h1m-.8 .2h1m-1 1h1m-.9 1h1m-.9-2.2h1m-.1 .6h1m-.9 .3h1m6.2 .2h1m.1-.5h1m-.3 .4h1m.5-.5h1m-.6-.1h1m-.8 .7h1m-1 1.3h1m-.3 0h1m-.5-.5h1m-.6-.7h1m-.8-.7h1m-.5-.6h1m-.7 .1h1m-.9 1.6h1m-.8-.3h1m-.9-.5h1m-.7-.5h1m-.8 .6h1m-.8-1h1m-.7 1.3h1m-.8 1.2h1m-.6-2.3h1m-1 .6h1m-.9-.8h1m-.8 1.4h1m-1 .2h1m-1-.1h1m-.7-.5h1m-.8 1.6h1m-.6-1.2h1m-1 .6h1m-1 .6h1m-.8-.3h1m-1-.4h1m-.5 .9h1m-.7-2.1h1m-.8 1.2h1m-.9 .6h1m-.9-2.2h1m-.8 1.4h1m-.4-1.5h1m-1 .3h1m-.7 .1h1m-.3-.3h1m-.8 1h1m-.8 .6h1m-1-.2h1m-1-.3h1m-.6 .2h1m-.9-1.4h1m-.8 1.3h1m-1 .5h1m-.7 .1h1m-.7-1.3h1m-.6 .6h1m-.7-1h1m-.9 .3h1m-.9-.3h1m-.7 0h1m-.5-.3h1m.2 .6h1m-1 .9h1m-.7-.5h1m-1 .7h1m-.5 1h1m-.7-.6h1m-.1-2.2h1m-.8 1h1m-.4-.9h1m0 .1h1m-1 2.4h1m-.2-1.6h1m-50.4 3.2h1m-.7 1.6h1m-.7-2.7h1m-.9 2.7h1m-.7-1.9h1m-.8-.8h1m-1-.2h1m-1 1.9h1m-.4-1.5h1m-.4 1.9h1m-.1-.1h1m-.9 .3h1m-.9-1.3h1m-.7 .5h1m-.8 0h1m-.9 .6h1m-.7-.5h1m-.9-.1h1m-.6-1.3h1m-.8 1.8h1m-.9-1.4h1m-1 0h1m-.9-.8h1m-.8 2.7h1m-.4-2.7h1m-.4 1.7h1m-.9-1.4h1m-.9 1.7h1m-.9 .1h1m-.8 0h1m-.5-.3h1m-.9-.6h1m-.9 0h1m-.9-.3h1m-.5-.5h1m-.9 .7h1m-.9 1.5h1m-.7-1.8h1m-.9 1.5h1m-.9-1h1m-.9 .6h1m-.8-.7h1m-.9-.3h1m-1 1.5h1m-.8-2.3h1m-1 .3h1m-.6 .5h1m-.7-.3h1m-.9 1.2h1m-.8-.9h1m-.4-.9h1m-.9 .2h1m-1 1.5h1m-.9-.3h1m-.8-.9h1m-.9-.5h1m-.8 1.6h1m-.6-1.6h1m-.8 2h1m-.7 .8h1m-.8-1.1h1m-.7 1.2h1m-.8 0h1m-.5-.4h1m-.8-.3h1m-.9-.3h1m-.4-.2h1m-.3-1.5h1m-.9 2.6h1m-.9-2.6h1m-.9 .2h1m-.9-.3h1m-.4 .4h1m-.8 .7h1m-.9-1.1h1m-1 2.2h1m-.3-2.2h1m-.2 .2h1m-1 2.1h1m-.7-1.7h1m-.5-.5h1m7.2 0h1m-.1 .4h1m-.3 1.3h1m-.8 .1h1m-.2-.1h1m-.6-.5h1m-.8-.8h1m-.7 .6h1m-.7 .6h1m-.8-1.1h1m-.7 2.3h1m-1-.5h1m-.5-.5h1m-.8-.2h1m-.7-.6h1m-1 .8h1m-.6-.6h1m-.6 1.4h1m-.9-2.2h1m-.3 .4h1m-.7-.6h1m-.9 .1h1m-1 2.4h1m-.9-2h1m.1-.5h1m.1 1.3h1m-.5 .7h1m-.8-1.6h1m0 .4h1m-.9-.6h1m-.8 2.2h1m-.8-.4h1m-.8-1.7h1m-.4-.3h1m-.5 .9h1m-.2 .4h1m-.9-.3h1m-.9 1h1m-1 .6h1m-.8-1.1h1m-.8 .6h1m-.6 .3h1m-.1-2.5h1m-.7 1.3h1m-.8 .8h1m-.9-1.8h1m-.3 .3h1m-1 .3h1m-.6-.4h1m-.4-.1h1m-1 .3h1m-.8-.9h1m-.4 .8h1m-.7 .5h1m-.6-1.3h1m-.4 1.9h1m-.7-.1h1m-.9-.7h1m-.3 0h1m-47.7 1.9h1m-.7 2.6h1m-.8-.4h1m-.8-1h1m-.8 .1h1m-1-.7h1m-.7 .7h1m-.9-.9h1m-.6-.3h1m-.6 1.8h1m-.7-.1h1m-.7 1h1m-1-.1h1m-.8-.5h1m-.8-1h1m-.9 1h1m-1 .2h1m-.6-.6h1m-.2-.6h1m-.8-1h1m-.7 1.3h1m-.4 .8h1m-.8-1.5h1m-1 1h1m-.8-.6h1m-.8 1h1m-.7-2.1h1m-.7 .8h1m-.9 1h1m-.7-1.8h1m-.4 .4h1m-1 2.2h1m-.9-.1h1m-.6 .2h1m-.4-2.7h1m-.8 2.7h1m-1-.2h1m-.7-1.4h1m-1-.6h1m-1 .8h1m-.9-1.4h1m-1 .3h1m-.7 1.5h1m-.7-1.6h1m-.9 .9h1m-.5-.9h1m-.7 1.4h1m-.3-1h1m-.7 .1h1m-.3-.6h1m-.7 .9h1m-.6 1.6h1m-.3-2.5h1m-.8-.1h1m-.9 1.6h1m-.6 .5h1m-.9-1h1m-.6-.4h1m-.8 .8h1m-.9 .4h1m0-1.6h1m9 .6h1m1.8 1.7h1m-.8-2h1m-1 .7h1m-.8-.2h1m0-1.1h1m.9 .7h1m-.9 .4h1m-.3 0h1m-1 .5h1m-.5 .6h1m-.9-1.1h1m-.8-.1h1m-.9-.5h1m-.4 2.1h1m-.7-2.1h1m-1 1.4h1m.8 .3h1m-.4-1.9h1m-.9 .2h1m-.5 1.7h1m-.7 .4h1m-.9-.7h1m-1 .1h1m-.2-1.9h1m-.9 2.6h1m-.5-2.7h1m-.6 1.6h1m-.8-.6h1m-.6 0h1m-1-.1h1m0 .8h1m-.9-.4h1m-.9-.3h1m-.8 1.3h1m-.8-1.1h1m-.7-.3h1m-1-.4h1m-1 1.5h1m-.4-2h1m-45.6 2.9h1m.1 1.3h1m-.6-1.3h1m.2 .6h1m-.7 2h1m-.8-1.3h1m-1-.7h1m-.8-.4h1m-1 2h1m-.9 0h1m-.7 0h1m-.7 .2h1m-.9-.6h1m-.6-.5h1m-.7 .2h1m.1-.9h1m-.9 1.1h1m-.2-.2h1m-.8 .1h1m-.6-1.3h1m-.9 1.3h1m-.3-1.4h1m-.5-.2h1m-.9 1.8h1m-.6-.4h1m-.8-.9h1m-.9-.5h1m-.1 2.9h1m-.6-1.5h1m-1 .8h1m-.5-.9h1m-1 .6h1m-.7-1.7h1m.1 .2h1m-.9 .8h1m-.9 .1h1m-.7-.7h1m-.9 1.9h1m-.8-1.8h1m-.8 .5h1m-.5 .5h1m-.8-.6h1m13.8 0h1m-.6 0h1m-.9-.3h1m0 .8h1m-.1-.2h1m-1 .2h1m-.4 .2h1m1.1-.9h1m.2 1.3h1m-.9 0h1m-.9-.7h1m-.9 0h1m-.6 .9h1m-.7 .6h1m-.9-2.5h1m-1 1.7h1m-.7-2.2h1m-.8 2.7h1m-.8 .1h1m.2-2.8h1m-1 1.1h1m0-1h1m-.8 1.7h1m.1 1h1m-1 0h1m-.7-2.2h1m1.2 .6h1m-.8-.2h1m-.5-.7h1m.3 0h1m-42.1 2.9h1m-.4 .7h1m.5 0h1m-.6 1.4h1m-.7-.2h1m-.1-1.4h1m-.7-.3h1m-.5 1.9h1m-.7-.9h1m-1-.5h1m24.4 .1h1m-.7-.6h1m-.1 .5h1m1.5-.6h1m-.9 .4h1m2.3-.4h1" stroke="#000" stroke-width="1" fill="none"/></g>
<g filter="url(#bl)"><path d="M0 0" stroke="#000" stroke-width="1" stroke-opacity="0.6" fill="none"/><path d="M0 0" stroke="#000" stroke-width="1" fill="none"/></g>
<rect x="458.5" y="149.5" width="55.0" height="56.0" stroke="#404040" stroke-width="1" fill="none"/>
<line x1="482.5" y1="149.5" x2="482.5" y2="205.5" stroke="#404040" stroke-width="1"/>
<line x1="458.5" y1="182.5" x2="513.5" y2="182.5" stroke="#404040" stroke-width="1"/>
<text x="457.3" y="210.9" font-family="'Liberation Serif', serif" font-size="3.6" font-weight="bold" text-anchor="start" fill="#333">10</text>
<text x="461.0" y="208.7" font-family="'Liberation Serif', serif" font-size="2.6" font-weight="bold" text-anchor="start" fill="#333">0</text>
<rect x="458.0" y="205.5" width="1" height="1.6" fill="#333"/>
<text x="471.05" y="210.9" font-family="'Liberation Serif', serif" font-size="3.6" font-weight="bold" text-anchor="start" fill="#333">10</text>
<text x="474.75" y="208.7" font-family="'Liberation Serif', serif" font-size="2.6" font-weight="bold" text-anchor="start" fill="#333">1</text>
<rect x="471.8" y="205.5" width="1" height="1.6" fill="#333"/>
<text x="484.8" y="210.9" font-family="'Liberation Serif', serif" font-size="3.6" font-weight="bold" text-anchor="start" fill="#333">10</text>
<text x="488.5" y="208.7" font-family="'Liberation Serif', serif" font-size="2.6" font-weight="bold" text-anchor="start" fill="#333">2</text>
<rect x="485.5" y="205.5" width="1" height="1.6" fill="#333"/>
<text x="498.55" y="210.9" font-family="'Liberation Serif', serif" font-size="3.6" font-weight="bold" text-anchor="start" fill="#333">10</text>
<text x="502.25" y="208.7" font-family="'Liberation Serif', serif" font-size="2.6" font-weight="bold" text-anchor="start" fill="#333">3</text>
<rect x="499.2" y="205.5" width="1" height="1.6" fill="#333"/>
<text x="512.3" y="210.9" font-family="'Liberation Serif', serif" font-size="3.6" font-weight="bold" text-anchor="start" fill="#333">10</text>
<text x="516.0" y="208.7" font-family="'Liberation Serif', serif" font-size="2.6" font-weight="bold" text-anchor="start" fill="#333">4</text>
<rect x="513.0" y="205.5" width="1" height="1.6" fill="#333"/>
<text x="486.0" y="215.0" font-family="'Liberation Sans', sans-serif" font-size="3.0" font-weight="bold" text-anchor="middle" fill="#333">EGFP</text>
<text x="455.3" y="207.8" font-family="'Liberation Serif', serif" font-size="3.6" font-weight="bold" text-anchor="start" fill="#333" transform="rotate(-90 455.3 207.8)">10</text>
<text x="455.3" y="193.8" font-family="'Liberation Serif', serif" font-size="3.6" font-weight="bold" text-anchor="start" fill="#333" transform="rotate(-90 455.3 193.8)">10</text>
<text x="455.3" y="179.8" font-family="'Liberation Serif', serif" font-size="3.6" font-weight="bold" text-anchor="start" fill="#333" transform="rotate(-90 455.3 179.8)">10</text>
<text x="455.3" y="165.8" font-family="'Liberation Serif', serif" font-size="3.6" font-weight="bold" text-anchor="start" fill="#333" transform="rotate(-90 455.3 165.8)">10</text>
<text x="455.3" y="151.8" font-family="'Liberation Serif', serif" font-size="3.6" font-weight="bold" text-anchor="start" fill="#333" transform="rotate(-90 455.3 151.8)">10</text>
<text x="450.7" y="177.5" font-family="'Liberation Sans', sans-serif" font-size="3.9" font-weight="bold" text-anchor="middle" fill="#333" transform="rotate(-90 450.7 177.5)">Anti-HLA-DR-PE</text>
<path d="M451.3 146.3h2.6l-1.3 1.8z" fill="#222"/>
<text x="458.2" y="147.9" font-family="'Liberation Serif', serif" font-size="7.25" font-weight="bold" text-anchor="start" fill="#111" stroke="#111" stroke-width="0.15">65</text>
<text x="499.4" y="147.9" font-family="'Liberation Serif', serif" font-size="7.25" font-weight="bold" text-anchor="start" fill="#111" stroke="#111" stroke-width="0.15">33</text>
<text x="460" y="219.5" font-family="'Liberation Serif', serif" font-size="7.25" font-weight="bold" text-anchor="start" fill="#111" stroke="#111" stroke-width="0.15">1.1</text>
<text x="497.2" y="219.5" font-family="'Liberation Serif', serif" font-size="7.25" font-weight="bold" text-anchor="start" fill="#111" stroke="#111" stroke-width="0.15">0.9</text>
<line x1="299" y1="224.6" x2="501.1" y2="224.6" stroke="#222" stroke-width="1.2"/>
<path d="M500.1 221.4 L514.6 224.6 L500.1 227.79999999999998 Z" fill="#111"/>
<text x="393" y="234.1" font-family="'Liberation Serif', serif" font-size="7.25" font-weight="bold" text-anchor="start" fill="#111" stroke="#111" stroke-width="0.15">GFP</text>
<text x="274.2" y="177" font-family="'Liberation Serif', serif" font-size="7.3" font-weight="bold" text-anchor="middle" fill="#111" stroke="#111" stroke-width="0.15" transform="rotate(-90 274.2 177)">MHC II</text>
<line x1="277.7" y1="162" x2="277.7" y2="200" stroke="#222" stroke-width="1.2"/>
<path d="M274.7 163 L277.7 148 L280.7 163 Z" fill="#111"/>
<line x1="311.4" y1="249.9" x2="311.4" y2="349" stroke="#222" stroke-width="1.2"/>
<line x1="311.4" y1="348.3" x2="480.7" y2="348.3" stroke="#222" stroke-width="1.3"/>
<line x1="308.4" y1="348.3" x2="311.4" y2="348.3" stroke="#222" stroke-width="1"/>
<text x="306.0" y="350.90000000000003" font-family="'Liberation Sans', sans-serif" font-size="5.7" font-weight="bold" text-anchor="end" fill="#1a1a1a">0</text>
<line x1="308.4" y1="331.90000000000003" x2="311.4" y2="331.90000000000003" stroke="#222" stroke-width="1"/>
<text x="306.0" y="334.50000000000006" font-family="'Liberation Sans', sans-serif" font-size="5.7" font-weight="bold" text-anchor="end" fill="#1a1a1a">5</text>
<line x1="308.4" y1="315.5" x2="311.4" y2="315.5" stroke="#222" stroke-width="1"/>
<text x="306.0" y="318.1" font-family="'Liberation Sans', sans-serif" font-size="5.7" font-weight="bold" text-anchor="end" fill="#1a1a1a">10</text>
<line x1="308.4" y1="299.1" x2="311.4" y2="299.1" stroke="#222" stroke-width="1"/>
<text x="306.0" y="301.70000000000005" font-family="'Liberation Sans', sans-serif" font-size="5.7" font-weight="bold" text-anchor="end" fill="#1a1a1a">15</text>
<line x1="308.4" y1="282.7" x2="311.4" y2="282.7" stroke="#222" stroke-width="1"/>
<text x="306.0" y="285.3" font-family="'Liberation Sans', sans-serif" font-size="5.7" font-weight="bold" text-anchor="end" fill="#1a1a1a">20</text>
<line x1="308.4" y1="266.3" x2="311.4" y2="266.3" stroke="#222" stroke-width="1"/>
<text x="306.0" y="268.90000000000003" font-family="'Liberation Sans', sans-serif" font-size="5.7" font-weight="bold" text-anchor="end" fill="#1a1a1a">25</text>
<line x1="308.4" y1="249.9" x2="311.4" y2="249.9" stroke="#222" stroke-width="1"/>
<text x="306.0" y="252.5" font-family="'Liberation Sans', sans-serif" font-size="5.7" font-weight="bold" text-anchor="end" fill="#1a1a1a">30</text>
<line x1="480.7" y1="348.1" x2="480.7" y2="350.5" stroke="#333" stroke-width="1"/>
<defs><pattern id="hatch" patternUnits="userSpaceOnUse" width="3.4" height="3.4" patternTransform="rotate(-45)"><rect width="3.4" height="3.4" fill="#fff"/><line x1="0.6" y1="0" x2="0.6" y2="3.4" stroke="#222" stroke-width="1.3"/></pattern></defs>
<rect x="339.3" y="337.40" width="14.50" height="10.90" fill="#fff" stroke="#222" stroke-width="1.1"/>
<rect x="353.8" y="345.40" width="13.80" height="2.90" fill="url(#hatch)" stroke="#222" stroke-width="1.1"/>
<rect x="381.9" y="306.90" width="14.60" height="41.40" fill="#fff" stroke="#222" stroke-width="1.1"/>
<rect x="396.5" y="344.30" width="14.20" height="4.00" fill="url(#hatch)" stroke="#222" stroke-width="1.1"/>
<rect x="424.7" y="263.20" width="14.70" height="85.10" fill="#fff" stroke="#222" stroke-width="1.1"/>
<rect x="439.4" y="343.50" width="13.60" height="4.80" fill="url(#hatch)" stroke="#222" stroke-width="1.1"/>
<rect x="322.3" y="256.8" width="14.2" height="7.2" fill="#fff" stroke="#1a1a1a" stroke-width="1.4"/>
<rect x="322.3" y="271.9" width="14.2" height="7.0" fill="url(#hatch)" stroke="#1a1a1a" stroke-width="1.4"/>
<text x="345" y="264.3" font-family="'Liberation Serif', serif" font-size="9.7" font-weight="normal" text-anchor="start" fill="#111">DR.GFP</text>
<text x="345" y="278.8" font-family="'Liberation Serif', serif" font-size="9.8" font-weight="normal" text-anchor="start" fill="#111">EF.GFP</text>
<text x="289.2" y="291.2" font-family="'Liberation Serif', serif" font-size="8.7" font-weight="bold" text-anchor="middle" fill="#111" stroke="#111" stroke-width="0.15" transform="rotate(-90 289.2 291.2)">Specificity Factor</text>
<text x="330.4" y="362.3" font-family="'Liberation Serif', serif" font-size="8.3" font-weight="bold" text-anchor="start" fill="#111" stroke="#111" stroke-width="0.15">CD34</text>
<text x="350.9" y="358.8" font-family="'Liberation Serif', serif" font-size="5.0" font-weight="bold" text-anchor="start" fill="#111">+</text>
<text x="356.6" y="362.3" font-family="'Liberation Serif', serif" font-size="8.3" font-weight="bold" text-anchor="start" fill="#111" stroke="#111" stroke-width="0.15">cells</text>
<text x="351.3" y="372.8" font-family="'Liberation Serif', serif" font-size="8.3" font-weight="bold" text-anchor="middle" fill="#111" stroke="#111" stroke-width="0.15">(A)</text>
<text x="395.5" y="362.3" font-family="'Liberation Serif', serif" font-size="8.3" font-weight="bold" text-anchor="middle" fill="#111" stroke="#111" stroke-width="0.15">DC</text>
<text x="395.4" y="372.8" font-family="'Liberation Serif', serif" font-size="8.3" font-weight="bold" text-anchor="middle" fill="#111" stroke="#111" stroke-width="0.15">(B)</text>
<text x="443.0" y="362.3" font-family="'Liberation Serif', serif" font-size="8.3" font-weight="bold" text-anchor="middle" fill="#111" stroke="#111" stroke-width="0.15">Non-DC</text>
<text x="441.6" y="372.8" font-family="'Liberation Serif', serif" font-size="8.3" font-weight="bold" text-anchor="middle" fill="#111" stroke="#111" stroke-width="0.15">(C)</text>
</svg></body></html>
